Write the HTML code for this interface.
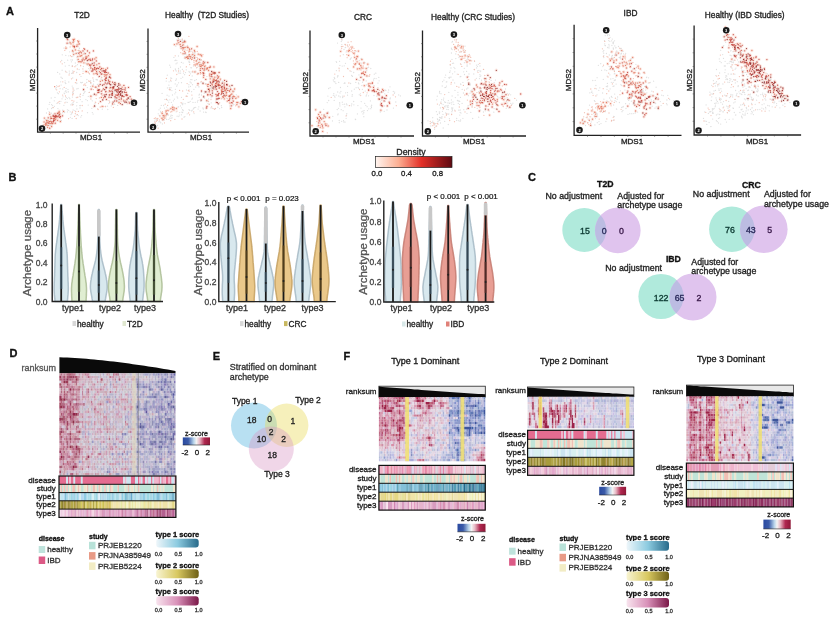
<!DOCTYPE html><html><head><meta charset="utf-8"><style>html,body{margin:0;padding:0;background:#fff;width:834px;height:622px;overflow:hidden}svg{display:block;filter:blur(0.35px)}text{font-family:"Liberation Sans",sans-serif}</style></head><body><svg width="834" height="622" viewBox="0 0 834 622"><defs><filter id="hb1" x="-5%" y="-5%" width="110%" height="110%"><feGaussianBlur stdDeviation="0.1"/></filter><filter id="hb2" x="-5%" y="-5%" width="110%" height="110%"><feGaussianBlur stdDeviation="0.2"/></filter><filter id="hb3" x="-5%" y="-5%" width="110%" height="110%"><feGaussianBlur stdDeviation="0.3"/></filter><filter id="hb4" x="-5%" y="-5%" width="110%" height="110%"><feGaussianBlur stdDeviation="0.4"/></filter><filter id="hb5" x="-5%" y="-5%" width="110%" height="110%"><feGaussianBlur stdDeviation="0.5"/></filter><filter id="hb6" x="-5%" y="-5%" width="110%" height="110%"><feGaussianBlur stdDeviation="0.6"/></filter><filter id="hb7" x="-5%" y="-5%" width="110%" height="110%"><feGaussianBlur stdDeviation="0.7"/></filter><filter id="hb8" x="-5%" y="-5%" width="110%" height="110%"><feGaussianBlur stdDeviation="0.8"/></filter><filter id="hb9" x="-5%" y="-5%" width="110%" height="110%"><feGaussianBlur stdDeviation="0.9"/></filter><filter id="hb10" x="-5%" y="-5%" width="110%" height="110%"><feGaussianBlur stdDeviation="1.0"/></filter><filter id="hb11" x="-5%" y="-5%" width="110%" height="110%"><feGaussianBlur stdDeviation="1.1"/></filter><filter id="hb12" x="-5%" y="-5%" width="110%" height="110%"><feGaussianBlur stdDeviation="1.2"/></filter><filter id="hb13" x="-5%" y="-5%" width="110%" height="110%"><feGaussianBlur stdDeviation="1.3"/></filter><filter id="hb14" x="-5%" y="-5%" width="110%" height="110%"><feGaussianBlur stdDeviation="1.4"/></filter><filter id="hb15" x="-5%" y="-5%" width="110%" height="110%"><feGaussianBlur stdDeviation="1.5"/></filter></defs>
<rect width="834" height="622" fill="#fff"/>
<text x="10.0" y="11.0" font-size="11" text-anchor="middle" font-weight="bold" fill="#111" stroke="#111" stroke-width="0.32" dominant-baseline="central">A</text>
<path d="M37.6 28V132.2H140" fill="none" stroke="#222" stroke-width="1.3"/>
<path d="M37.6 119.2h-1.5M50.4 132.2v1.5M37.6 106.1h-1.5M63.2 132.2v1.5M37.6 93.1h-1.5M76.0 132.2v1.5M37.6 80.1h-1.5M88.8 132.2v1.5M37.6 67.1h-1.5M101.6 132.2v1.5M37.6 54.0h-1.5M114.4 132.2v1.5M37.6 41.0h-1.5M127.2 132.2v1.5" stroke="#444" stroke-width="0.5"/>
<text x="82.0" y="14.5" font-size="8.3" text-anchor="middle" fill="#222" stroke="#222" stroke-width="0.32" dominant-baseline="central">T2D</text>
<text x="32.5" y="80.1" font-size="8" text-anchor="middle" fill="#222" stroke="#222" stroke-width="0.32" dominant-baseline="central" transform="rotate(-90 32.5 80.1)">MDS2</text>
<text x="91.0" y="137.5" font-size="8" text-anchor="middle" fill="#222" stroke="#222" stroke-width="0.32" dominant-baseline="central">MDS1</text>
<g filter="url(#hb5)">
<path d="M86.5 71.6h0M67.1 43.2h0M77.9 56.6h0M108.5 80.9h0M104.7 72.4h0M97.0 73.1h0M112.7 87.8h0M74.2 39.4h0M88.7 63.9h0M78.7 61.7h0M106.1 80.4h0M79.2 43.9h0M94.8 59.0h0M84.6 49.2h0M71.0 43.8h0M113.6 87.8h0M119.6 91.7h0M89.5 52.8h0M96.0 73.4h0M93.1 69.1h0M87.5 50.9h0M79.9 56.1h0M122.4 96.2h0M86.0 71.5h0M83.2 58.2h0M124.9 102.2h0M127.4 95.2h0M123.7 100.9h0M73.1 39.4h0M101.6 68.8h0M94.2 62.9h0M116.7 101.0h0M121.1 91.0h0M117.5 86.3h0M91.2 64.8h0M67.0 38.9h0M105.7 69.3h0M124.8 92.4h0M88.4 55.7h0M81.4 52.8h0M104.0 84.5h0M130.1 96.7h0M83.0 50.9h0M115.6 84.0h0M125.2 101.1h0M70.1 42.7h0M119.1 96.8h0M93.9 73.8h0M122.9 89.4h0M112.5 95.2h0M108.1 73.0h0M123.8 96.5h0M116.4 89.7h0M112.6 82.2h0M115.9 95.0h0M74.6 46.5h0M110.1 91.2h0M90.9 68.0h0M96.5 68.5h0M104.1 70.6h0M92.7 71.0h0M105.6 87.3h0M110.2 84.6h0M96.3 60.9h0M125.2 88.0h0M110.6 87.3h0M99.5 71.7h0M104.3 71.9h0M82.1 59.7h0M120.7 93.9h0M106.2 78.4h0M95.8 70.1h0M111.9 95.1h0M78.2 59.4h0M86.3 58.6h0M107.5 68.1h0M106.0 69.9h0M78.7 41.3h0M127.1 99.1h0M94.2 65.2h0M119.1 99.3h0M84.3 59.8h0M80.7 51.8h0M81.1 62.0h0M96.2 69.5h0M109.7 83.0h0M101.2 74.1h0M115.1 90.7h0M122.4 91.8h0M97.3 74.3h0M86.5 56.8h0M72.6 50.9h0M94.5 68.6h0M115.1 85.0h0M100.4 69.5h0M82.3 60.8h0M109.7 76.9h0M110.0 74.7h0M101.6 68.4h0M79.7 52.6h0M116.3 90.6h0M76.8 46.3h0M89.6 65.4h0M125.7 94.9h0M93.5 65.6h0M92.6 59.0h0M96.8 64.8h0M78.5 42.1h0M97.5 68.2h0M127.0 99.7h0M105.9 74.7h0M96.1 57.7h0M83.9 62.8h0M114.7 101.0h0M119.6 92.4h0M78.7 53.2h0M89.2 59.3h0M85.2 53.7h0M117.4 89.3h0M126.4 102.2h0M105.5 71.9h0M87.1 56.9h0M128.5 87.4h0M102.4 80.6h0M105.5 80.5h0M120.4 103.6h0M116.9 91.4h0M122.1 95.5h0M92.1 60.2h0M93.4 50.9h0M113.8 83.8h0M120.4 91.2h0M75.4 49.9h0M87.1 64.0h0M107.1 74.7h0M92.3 63.7h0M73.1 42.5h0M109.5 83.6h0M100.4 81.3h0M110.6 77.9h0M119.1 102.5h0M102.1 71.0h0M74.4 47.6h0M80.7 56.0h0M105.2 83.0h0M118.8 83.6h0M74.3 39.3h0M67.7 39.7h0M85.6 58.9h0M77.1 45.0h0M122.2 104.6h0M94.6 67.4h0M106.0 75.6h0M118.7 93.5h0M81.6 55.6h0M106.9 83.9h0M98.6 68.5h0M105.1 79.5h0M99.3 76.4h0M117.0 95.1h0M106.0 78.4h0M66.1 48.1h0M118.6 85.1h0M105.0 79.4h0M86.2 57.9h0M118.7 94.5h0M83.9 59.7h0M95.3 67.9h0M112.2 93.4h0M110.8 84.8h0M90.5 60.4h0M120.0 85.0h0M131.6 102.3h0M129.4 103.0h0M91.6 71.1h0M109.8 81.5h0M87.3 60.6h0M93.1 70.1h0M120.2 94.9h0M118.7 87.8h0M99.0 63.6h0M85.8 57.0h0M118.7 89.0h0M76.2 53.4h0M120.2 88.7h0M104.6 76.1h0M108.5 80.0h0M117.3 92.7h0M90.5 65.8h0M90.2 60.1h0M120.6 91.5h0M96.6 71.6h0M90.1 59.1h0M89.9 64.6h0M73.5 40.4h0M131.3 99.2h0M94.7 69.6h0M100.5 72.7h0M103.7 71.0h0M105.9 78.2h0M128.3 98.2h0M115.0 96.9h0M126.2 92.5h0M119.0 89.2h0M73.4 46.4h0M126.7 95.6h0M109.3 77.2h0M101.9 74.0h0M122.1 92.7h0M126.6 94.5h0M133.8 100.4h0M106.2 77.2h0M121.4 99.3h0M100.2 84.4h0M104.2 74.4h0M114.9 82.6h0M112.5 89.0h0M74.1 46.2h0M92.6 68.9h0M73.8 41.1h0M124.3 91.8h0M128.1 97.8h0M99.8 67.0h0M120.7 95.3h0M82.1 61.1h0M106.5 72.4h0M73.7 54.3h0M103.1 68.7h0M88.3 59.8h0M105.3 70.9h0M101.3 91.2h0M96.0 94.8h0M111.9 91.0h0M123.9 85.4h0M113.8 86.9h0M115.2 89.8h0M117.9 94.9h0M109.0 97.2h0M106.6 87.5h0M104.3 95.0h0M111.9 94.4h0M94.4 94.2h0M113.5 88.6h0M94.6 106.0h0M113.1 102.1h0M98.8 86.0h0M112.6 94.1h0M121.8 96.3h0M117.4 95.5h0M112.6 103.9h0M116.0 97.8h0M112.5 87.1h0M105.3 97.0h0M115.0 96.6h0M98.4 90.3h0M106.1 88.0h0M112.1 93.3h0M104.9 96.4h0M118.8 91.9h0M91.2 89.1h0M103.6 97.8h0M103.5 88.8h0M125.1 90.1h0M113.5 87.0h0M114.1 86.6h0M109.2 94.9h0M122.6 95.8h0M92.8 86.2h0M97.8 90.4h0M102.7 99.8h0M102.5 85.2h0M106.0 94.8h0M110.0 88.0h0M99.4 89.7h0M98.0 92.5h0M112.5 91.9h0M124.9 89.6h0M121.5 88.9h0M105.7 91.8h0M106.4 99.4h0M115.1 96.5h0M117.7 95.4h0M110.0 91.6h0M118.1 90.7h0M116.9 97.9h0M117.3 89.7h0M122.1 87.2h0M98.9 92.3h0M101.7 93.8h0M102.2 106.4h0M99.0 90.8h0M101.4 97.4h0M95.9 87.1h0M118.2 89.9h0M108.0 83.0h0M120.6 94.0h0M104.7 89.7h0M105.9 91.4h0M100.5 101.6h0M121.3 98.1h0M98.4 89.8h0M90.9 96.4h0M106.2 94.3h0M111.2 97.4h0M109.4 90.7h0M109.7 95.0h0M114.7 84.5h0M83.6 89.5h0M54.2 116.3h0M46.7 124.2h0M53.0 116.1h0M57.0 115.1h0M46.7 121.1h0M45.5 123.8h0M45.9 125.4h0M55.2 123.2h0M48.4 122.9h0M53.1 118.4h0M56.2 116.1h0M50.9 117.0h0M51.0 118.4h0M62.5 115.8h0M49.8 123.1h0M53.1 121.6h0M48.2 117.8h0M53.4 116.6h0M44.4 118.1h0M49.6 121.6h0M59.2 111.3h0M63.6 111.4h0M51.7 121.8h0M44.1 122.1h0M47.8 125.6h0M59.1 112.1h0M57.4 113.3h0M51.6 126.5h0M57.6 120.3h0M53.7 119.0h0M46.0 123.7h0M55.0 113.8h0M53.8 118.9h0M47.0 122.6h0M54.3 120.6h0M57.0 116.7h0M48.6 123.4h0M54.9 116.4h0M55.2 119.8h0M49.7 128.2h0M49.7 114.3h0M59.1 115.0h0M53.5 121.2h0M48.2 122.1h0M55.6 116.6h0M59.8 117.4h0M54.2 118.2h0M45.2 124.3h0M43.3 130.0h0M44.1 122.0h0M56.2 115.8h0M51.7 122.9h0M57.5 116.7h0M45.8 123.1h0M60.6 116.5h0M55.3 115.5h0M59.6 114.4h0M55.0 117.0h0M54.0 119.9h0M51.5 118.4h0M50.8 123.6h0M58.7 113.1h0M55.7 117.3h0M54.2 118.3h0M59.1 116.9h0M55.7 119.7h0M52.6 123.5h0M43.7 126.3h0M60.4 121.5h0M58.7 116.1h0M47.6 127.3h0M53.6 120.8h0M50.7 121.3h0M48.1 121.0h0M55.8 117.9h0M59.9 113.8h0M53.7 120.3h0M46.5 120.4h0M53.3 115.5h0M59.2 112.4h0M53.3 122.8h0M48.3 125.3h0" stroke="#f2a48c" stroke-width="3.4" stroke-linecap="round" opacity="0.25"/>
<path d="M89.7 70.1h0M67.3 98.6h0M62.3 54.8h0M77.5 64.7h0M56.6 85.7h0M79.7 105.6h0M62.6 112.8h0M46.5 113.0h0M62.8 89.0h0M114.4 93.9h0M59.7 103.5h0M85.0 91.5h0M108.1 79.1h0M83.2 89.9h0M64.6 112.5h0M60.7 81.8h0M80.3 99.6h0M91.3 63.1h0M129.4 98.8h0M65.8 83.5h0M86.8 79.6h0M87.5 112.7h0M80.8 117.1h0M127.1 104.0h0M51.6 108.5h0M76.8 88.9h0M68.8 55.8h0M91.8 108.3h0M56.3 87.7h0M77.9 53.3h0M72.7 72.9h0M77.3 59.9h0M69.6 41.1h0M79.1 69.5h0M102.5 90.6h0M80.2 94.6h0M62.1 70.2h0M87.0 79.3h0M117.2 101.1h0M65.9 102.1h0M57.0 103.4h0M63.4 111.3h0M53.2 120.7h0M67.3 102.3h0M83.0 95.4h0M114.9 99.0h0M49.8 125.3h0M68.8 82.0h0M90.3 66.2h0M52.1 123.8h0M72.1 66.6h0M87.4 100.6h0M66.1 88.4h0M70.2 111.8h0M89.6 74.2h0M59.1 111.8h0M73.1 52.0h0M81.6 115.6h0M53.2 114.1h0M98.0 70.2h0M72.5 50.5h0M79.2 62.2h0M71.0 59.9h0M62.6 110.2h0M73.1 102.5h0M73.5 54.9h0M117.8 90.0h0M98.6 77.1h0M105.6 81.9h0M69.1 65.5h0M83.1 71.2h0M62.4 78.3h0M64.6 93.7h0M90.6 82.2h0M78.1 88.5h0M106.7 100.0h0M88.2 105.1h0M113.9 92.5h0M128.5 101.9h0M102.1 79.3h0M117.9 100.9h0M76.2 114.9h0M68.7 110.3h0M92.3 100.8h0M72.2 65.7h0M59.7 73.9h0M88.3 96.4h0M90.7 80.7h0M105.2 73.7h0M111.1 88.4h0M81.0 76.4h0M65.4 99.3h0M67.4 111.9h0M72.4 97.1h0M119.5 92.6h0M82.6 58.8h0M109.7 101.4h0M69.8 98.7h0M86.7 82.5h0M73.3 93.4h0M95.4 106.6h0M71.7 73.4h0M75.3 63.0h0M93.7 81.4h0M63.9 105.3h0M117.7 105.4h0M110.6 85.0h0M66.9 72.3h0M72.6 41.8h0M76.7 105.8h0M73.1 110.0h0M87.7 65.1h0M76.2 97.5h0M47.6 108.9h0M72.7 78.0h0M52.8 107.6h0M118.7 101.3h0M93.4 79.9h0M73.0 87.7h0M100.2 84.9h0M71.9 112.8h0M99.1 84.1h0M85.7 63.0h0M77.2 52.7h0M82.7 60.0h0M99.2 76.4h0M72.8 56.6h0M103.3 100.3h0M66.3 97.4h0M87.5 60.7h0M58.4 93.7h0M102.3 109.2h0M87.3 87.6h0M49.6 124.3h0M75.0 53.7h0M68.2 92.0h0M66.4 92.2h0M114.4 96.8h0M95.0 103.6h0M69.3 71.1h0M85.1 57.3h0M74.1 90.2h0M50.0 119.3h0M124.5 96.4h0M50.9 125.3h0M57.4 92.8h0M76.7 82.9h0M49.2 104.3h0M55.0 97.4h0M82.1 101.7h0M72.7 92.5h0M76.7 72.5h0M67.4 109.8h0M77.0 57.7h0M71.0 114.6h0M49.1 111.7h0M49.8 102.4h0M129.6 103.4h0M70.3 117.3h0M55.7 88.9h0M87.7 64.3h0M91.1 83.7h0M116.6 89.9h0M65.4 71.1h0M52.9 115.4h0M105.9 86.3h0M65.8 55.4h0M45.8 119.4h0M114.3 98.8h0M100.7 70.1h0M81.3 82.8h0M69.2 43.2h0M100.4 93.7h0M101.8 76.9h0M64.6 62.6h0M80.0 108.0h0M99.4 84.4h0M107.8 109.5h0M83.7 93.5h0M106.4 86.4h0M49.1 111.7h0M80.4 105.5h0M83.4 66.5h0M50.8 120.6h0M71.4 61.8h0M90.7 83.4h0M97.2 80.1h0M124.6 94.4h0M130.9 101.4h0M61.1 85.1h0M54.0 118.3h0M60.9 101.3h0M90.5 86.5h0M114.8 104.3h0M96.3 79.7h0M113.0 91.1h0M105.0 81.1h0M57.6 72.4h0M74.8 110.6h0M47.6 120.1h0M108.8 103.6h0M69.7 51.8h0M64.1 93.1h0M65.1 82.7h0M76.8 83.5h0M129.1 99.3h0M68.0 89.5h0M65.1 80.8h0M78.2 115.6h0M79.5 96.1h0M73.5 104.5h0M51.6 104.7h0M110.3 96.9h0M53.2 114.5h0M57.9 108.6h0M96.1 79.3h0M65.9 90.6h0M60.1 88.7h0M70.7 104.8h0M67.7 60.2h0M111.9 92.3h0M84.3 52.5h0M116.7 92.4h0M88.6 68.6h0M108.2 77.2h0M52.6 105.6h0M83.3 90.3h0M79.4 48.5h0M82.4 82.3h0M99.3 73.6h0M50.4 116.7h0M54.4 106.3h0M114.5 104.0h0M92.7 62.2h0M72.8 104.3h0M93.1 94.8h0M93.1 114.1h0M123.9 96.7h0M51.4 113.2h0M72.1 118.4h0M85.9 99.6h0M72.0 103.8h0M125.1 100.5h0M71.8 113.6h0M92.3 112.6h0M72.2 86.1h0M122.8 104.3h0M97.3 79.6h0M86.0 55.8h0M62.0 98.8h0M72.7 70.9h0M79.1 48.0h0M61.7 60.4h0M93.0 63.9h0M61.4 120.4h0M93.5 84.2h0M77.6 56.3h0M75.9 65.7h0M105.7 96.4h0M76.9 102.4h0M65.2 91.6h0M69.0 97.3h0M47.5 123.9h0M96.1 87.5h0M51.2 98.0h0M63.0 96.8h0M54.3 100.8h0M76.9 109.0h0M111.3 105.9h0M69.4 73.2h0M89.2 92.4h0M65.3 66.1h0M80.7 82.4h0M112.0 84.4h0M62.0 78.1h0M63.9 48.1h0M100.9 78.9h0M105.2 95.4h0M68.3 91.7h0M97.4 84.4h0M72.5 60.0h0M68.6 43.5h0M105.6 106.2h0M60.1 114.1h0M116.0 99.4h0M61.0 77.2h0M84.5 92.2h0M107.5 106.2h0M93.2 63.8h0M115.8 99.7h0M79.3 50.4h0" stroke="#dadada" stroke-width="1.3" stroke-linecap="round" opacity="0.85"/>
<path d="M110.8 94.3h0M73.0 94.0h0M73.1 89.0h0M108.1 92.2h0M62.8 81.8h0M82.2 54.9h0M95.7 102.3h0M75.7 111.7h0M75.3 113.6h0M93.4 89.6h0M77.3 69.0h0M109.6 84.2h0M114.7 88.9h0M88.7 81.0h0M111.7 87.5h0M49.6 112.7h0M72.6 94.9h0M89.3 73.4h0M75.4 82.7h0M73.1 91.2h0M59.2 101.4h0M79.8 74.5h0M73.2 72.9h0M83.9 85.3h0M60.4 118.6h0M72.2 105.0h0M102.3 95.6h0M82.9 68.9h0M98.5 103.5h0M53.2 107.6h0M76.5 79.4h0M93.3 106.8h0M77.4 114.6h0M85.7 85.6h0M95.2 87.1h0M65.5 96.0h0M78.4 111.4h0M113.4 107.4h0M77.9 97.1h0M65.9 71.8h0M85.0 84.0h0M109.7 102.6h0M97.4 89.0h0M89.7 81.3h0M82.2 110.9h0M118.4 103.0h0M77.0 97.5h0M92.9 77.9h0M119.1 89.2h0M64.2 87.4h0M72.7 50.4h0M80.6 65.3h0M129.0 101.7h0M64.9 102.8h0M102.8 100.2h0M99.4 97.9h0M102.7 89.5h0M65.7 48.6h0M121.1 101.3h0M83.0 73.4h0M78.1 50.4h0M73.9 101.1h0M72.5 45.9h0M58.0 86.6h0M102.6 90.7h0M109.0 100.6h0M120.1 99.8h0M127.7 102.9h0M65.7 46.8h0M82.2 105.5h0M68.6 118.7h0M62.7 95.1h0M60.7 61.8h0M56.7 89.8h0M72.4 112.0h0M80.7 65.8h0M123.8 99.3h0M103.7 106.5h0M97.7 108.8h0M62.2 63.8h0M80.4 94.1h0M52.0 124.0h0M84.4 60.0h0M89.2 92.3h0M74.6 116.3h0M88.3 71.9h0M72.0 100.5h0M59.4 91.8h0M90.9 95.4h0M100.2 107.0h0M58.0 102.7h0M76.2 118.5h0M76.5 80.5h0M69.1 74.9h0M94.9 87.3h0M123.9 96.6h0M90.8 82.5h0M80.3 96.8h0M95.3 102.1h0M59.3 86.0h0M74.0 71.5h0M83.9 84.8h0M88.3 72.6h0M104.4 97.1h0M98.1 109.5h0M120.6 93.2h0M74.9 66.7h0M97.8 92.5h0M88.1 59.2h0M90.9 99.0h0M105.5 106.7h0M70.5 55.7h0M72.5 66.2h0M95.4 87.2h0M96.2 98.6h0M71.5 78.8h0M101.7 77.7h0M74.0 47.1h0M73.2 45.0h0M64.8 50.4h0M73.4 51.7h0M80.0 51.5h0M78.1 46.2h0M71.5 56.6h0M83.6 54.0h0M70.1 46.9h0M78.7 50.5h0M78.3 44.2h0M79.5 54.3h0M47.7 122.9h0M50.6 119.8h0M45.3 124.4h0M45.8 125.6h0M43.2 124.7h0M47.8 123.4h0" stroke="#f2b8a8" stroke-width="1.3" stroke-linecap="round" opacity="0.85"/>
<path d="M54.7 86.7h0M86.5 71.6h0M77.9 56.6h0M74.2 39.4h0M88.7 63.9h0M78.7 61.7h0M94.8 59.0h0M71.0 43.8h0M96.0 73.4h0M93.1 69.1h0M79.9 56.1h0M86.0 71.5h0M83.2 58.2h0M73.1 39.4h0M91.2 64.8h0M67.0 38.9h0M105.7 69.3h0M83.8 48.5h0M88.4 55.7h0M115.6 84.0h0M125.2 101.1h0M70.1 42.7h0M93.9 73.8h0M99.5 71.7h0M82.1 59.7h0M95.8 70.1h0M78.2 59.4h0M78.7 41.3h0M84.3 59.8h0M80.7 51.8h0M81.1 62.0h0M96.2 69.5h0M109.7 83.0h0M86.5 56.8h0M72.6 50.9h0M77.5 40.8h0M94.5 68.6h0M100.4 69.5h0M110.0 74.7h0M79.7 52.6h0M116.3 90.6h0M89.6 65.4h0M96.8 64.8h0M78.5 42.1h0M105.9 74.7h0M96.1 57.7h0M83.9 62.8h0M89.2 59.3h0M87.1 56.9h0M102.4 80.6h0M113.8 83.8h0M75.4 49.9h0M87.1 64.0h0M107.1 74.7h0M73.1 42.5h0M100.4 81.3h0M119.1 102.5h0M74.4 47.6h0M80.7 56.0h0M74.3 39.3h0M77.1 45.0h0M106.0 75.6h0M81.6 55.6h0M66.1 48.1h0M86.2 57.9h0M83.9 59.7h0M95.3 67.9h0M90.5 60.4h0M85.8 57.0h0M76.2 53.4h0M104.6 76.1h0M108.5 80.0h0M73.5 40.4h0M105.9 78.2h0M73.4 46.4h0M105.1 72.5h0M80.0 61.5h0M121.4 99.3h0M104.2 74.4h0M112.5 89.0h0M74.1 46.2h0M73.8 41.1h0M73.7 54.3h0M103.1 68.7h0M96.0 94.8h0M111.9 94.4h0M113.5 88.6h0M112.6 94.1h0M117.4 95.5h0M98.4 90.3h0M109.2 94.9h0M122.6 95.8h0M92.8 86.2h0M110.0 88.0h0M117.7 95.4h0M122.1 87.2h0M102.2 106.4h0M101.4 97.4h0M120.6 94.0h0M90.9 96.4h0M109.4 90.7h0M46.7 124.2h0M57.0 115.1h0M46.7 121.1h0M45.5 123.8h0M45.9 125.4h0M48.0 120.6h0M48.4 122.9h0M53.1 118.4h0M58.1 113.0h0M50.9 117.0h0M53.4 116.6h0M44.4 118.1h0M59.2 111.3h0M63.6 111.4h0M51.7 121.8h0M44.1 122.1h0M47.8 125.6h0M51.8 121.7h0M59.1 112.1h0M51.6 126.5h0M57.6 120.3h0M53.7 119.0h0M46.0 123.7h0M53.8 118.9h0M48.6 123.4h0M54.9 116.4h0M55.2 119.8h0M49.7 114.3h0M48.2 122.1h0M45.2 124.3h0M43.3 130.0h0M44.1 122.0h0M56.2 115.8h0M57.5 116.7h0M45.8 123.1h0M59.6 114.4h0M51.5 118.4h0M50.8 123.6h0M58.7 113.1h0M54.2 118.3h0M55.7 119.7h0M52.6 123.5h0M43.7 126.3h0M60.4 121.5h0M47.6 127.3h0M53.6 120.8h0M50.7 121.3h0M48.1 121.0h0M59.9 113.8h0M46.5 120.4h0M59.2 112.4h0M53.3 122.8h0M48.3 125.3h0" stroke="#e07058" stroke-width="1.3" stroke-linecap="round" opacity="0.85"/>
<path d="M67.1 43.2h0M108.5 80.9h0M104.7 72.4h0M97.0 73.1h0M112.7 87.8h0M106.1 80.4h0M79.2 43.9h0M84.6 49.2h0M113.6 87.8h0M119.6 91.7h0M89.5 52.8h0M87.5 50.9h0M122.4 96.2h0M127.4 95.2h0M123.7 100.9h0M101.6 68.8h0M94.2 62.9h0M116.7 101.0h0M124.8 92.4h0M81.4 52.8h0M104.0 84.5h0M130.1 96.7h0M83.0 50.9h0M119.1 96.8h0M122.9 89.4h0M112.5 95.2h0M108.1 73.0h0M123.8 96.5h0M116.4 89.7h0M112.6 82.2h0M115.9 95.0h0M74.6 46.5h0M110.1 91.2h0M90.9 68.0h0M96.5 68.5h0M92.7 71.0h0M105.6 87.3h0M96.3 60.9h0M125.2 88.0h0M110.6 87.3h0M104.3 71.9h0M106.2 78.4h0M86.3 58.6h0M107.5 68.1h0M106.0 69.9h0M127.1 99.1h0M94.2 65.2h0M119.1 99.3h0M101.2 74.1h0M97.3 74.3h0M82.3 60.8h0M101.6 68.4h0M76.8 46.3h0M125.7 94.9h0M93.5 65.6h0M92.6 59.0h0M97.5 68.2h0M127.0 99.7h0M114.7 101.0h0M78.7 53.2h0M85.2 53.7h0M117.4 89.3h0M105.5 71.9h0M128.5 87.4h0M105.5 80.5h0M120.4 103.6h0M92.1 60.2h0M93.4 50.9h0M120.4 91.2h0M92.3 63.7h0M109.5 83.6h0M110.6 77.9h0M102.1 71.0h0M105.2 83.0h0M67.7 39.7h0M85.6 58.9h0M94.6 67.4h0M118.7 93.5h0M106.9 83.9h0M98.6 68.5h0M105.1 79.5h0M99.3 76.4h0M117.0 95.1h0M106.0 78.4h0M105.0 79.4h0M118.7 94.5h0M112.2 93.4h0M110.8 84.8h0M120.0 85.0h0M131.6 102.3h0M129.4 103.0h0M91.6 71.1h0M109.8 81.5h0M93.1 70.1h0M99.0 63.6h0M118.7 89.0h0M117.3 92.7h0M90.5 65.8h0M90.2 60.1h0M96.6 71.6h0M90.1 59.1h0M89.9 64.6h0M131.3 99.2h0M94.7 69.6h0M100.5 72.7h0M103.7 71.0h0M115.0 96.9h0M126.2 92.5h0M119.0 89.2h0M126.7 95.6h0M109.3 77.2h0M101.9 74.0h0M126.6 94.5h0M133.8 100.4h0M106.2 77.2h0M100.2 84.4h0M92.6 68.9h0M124.3 91.8h0M128.1 97.8h0M99.8 67.0h0M120.7 95.3h0M82.1 61.1h0M106.5 72.4h0M88.3 59.8h0M105.3 70.9h0M101.3 91.2h0M111.9 91.0h0M123.9 85.4h0M113.8 86.9h0M117.9 94.9h0M109.0 97.2h0M104.3 95.0h0M98.8 86.0h0M121.8 96.3h0M112.6 103.9h0M116.0 97.8h0M112.5 87.1h0M105.3 97.0h0M115.0 96.6h0M106.1 88.0h0M91.2 89.1h0M103.6 97.8h0M103.5 88.8h0M125.1 90.1h0M114.1 86.6h0M97.8 90.4h0M106.0 94.8h0M99.4 89.7h0M98.0 92.5h0M112.5 91.9h0M124.9 89.6h0M105.7 91.8h0M106.4 99.4h0M115.1 96.5h0M110.0 91.6h0M118.1 90.7h0M116.9 97.9h0M117.3 89.7h0M98.9 92.3h0M101.7 93.8h0M99.0 90.8h0M95.9 87.1h0M118.2 89.9h0M105.9 91.4h0M100.5 101.6h0M109.7 95.0h0M83.6 89.5h0M54.2 116.3h0M53.0 116.1h0M55.2 123.2h0M56.2 116.1h0M51.0 118.4h0M62.5 115.8h0M49.8 123.1h0M53.1 121.6h0M48.2 117.8h0M49.6 121.6h0M57.4 113.3h0M55.0 113.8h0M47.0 122.6h0M54.3 120.6h0M57.0 116.7h0M49.7 128.2h0M53.5 121.2h0M55.6 116.6h0M59.8 117.4h0M54.2 118.2h0M51.7 122.9h0M60.6 116.5h0M55.3 115.5h0M55.0 117.0h0M54.0 119.9h0M55.7 117.3h0M59.1 116.9h0M58.7 116.1h0M55.8 117.9h0M53.7 120.3h0M53.3 115.5h0" stroke="#c0403a" stroke-width="1.3" stroke-linecap="round" opacity="0.85"/>
<path d="M124.9 102.2h0M121.1 91.0h0M117.5 86.3h0M104.1 70.6h0M110.2 84.6h0M120.7 93.9h0M111.9 95.1h0M115.1 90.7h0M122.4 91.8h0M115.1 85.0h0M109.7 76.9h0M119.6 92.4h0M126.4 102.2h0M116.9 91.4h0M122.1 95.5h0M118.8 83.6h0M122.2 104.6h0M118.6 85.1h0M87.3 60.6h0M120.2 94.9h0M118.7 87.8h0M120.2 88.7h0M120.6 91.5h0M128.3 98.2h0M122.1 92.7h0M114.9 82.6h0M115.2 89.8h0M106.6 87.5h0M94.4 94.2h0M94.6 106.0h0M113.1 102.1h0M112.1 93.3h0M104.9 96.4h0M118.8 91.9h0M113.5 87.0h0M102.7 99.8h0M102.5 85.2h0M121.5 88.9h0M108.0 83.0h0M104.7 89.7h0M121.3 98.1h0M98.4 89.8h0M106.2 94.3h0M111.2 97.4h0M114.7 84.5h0M59.1 115.0h0" stroke="#842024" stroke-width="1.3" stroke-linecap="round" opacity="0.85"/>
</g>
<circle cx="67.2" cy="35.1" r="3.3" fill="#1a1a1a"/>
<text x="67.2" y="35.3" font-size="4" text-anchor="middle" dominant-baseline="central" fill="#fff" font-weight="bold">3</text>
<circle cx="134.0" cy="102.8" r="3.3" fill="#1a1a1a"/>
<text x="134.0" y="103.0" font-size="4" text-anchor="middle" dominant-baseline="central" fill="#fff" font-weight="bold">1</text>
<circle cx="42.0" cy="128.6" r="3.3" fill="#1a1a1a"/>
<text x="42.0" y="128.8" font-size="4" text-anchor="middle" dominant-baseline="central" fill="#fff" font-weight="bold">2</text>
<path d="M148 28.4V132.2H249" fill="none" stroke="#222" stroke-width="1.3"/>
<path d="M148 119.2h-1.5M160.6 132.2v1.5M148 106.2h-1.5M173.2 132.2v1.5M148 93.3h-1.5M185.9 132.2v1.5M148 80.3h-1.5M198.5 132.2v1.5M148 67.3h-1.5M211.1 132.2v1.5M148 54.3h-1.5M223.8 132.2v1.5M148 41.4h-1.5M236.4 132.2v1.5" stroke="#444" stroke-width="0.5"/>
<text x="207.0" y="14.5" font-size="8.3" text-anchor="middle" fill="#222" stroke="#222" stroke-width="0.32" dominant-baseline="central">Healthy &#160;(T2D Studies)</text>
<text x="143.0" y="80.3" font-size="8" text-anchor="middle" fill="#222" stroke="#222" stroke-width="0.32" dominant-baseline="central" transform="rotate(-90 143 80.3)">MDS2</text>
<text x="201.0" y="137.5" font-size="8" text-anchor="middle" fill="#222" stroke="#222" stroke-width="0.32" dominant-baseline="central">MDS1</text>
<g filter="url(#hb5)">
<path d="M217.7 78.2h0M185.0 53.2h0M187.6 58.5h0M224.5 87.9h0M224.4 87.4h0M191.6 48.8h0M202.8 72.6h0M201.0 66.6h0M212.9 80.2h0M217.1 84.7h0M233.3 101.1h0M210.3 78.8h0M189.4 51.1h0M198.8 62.6h0M231.8 93.9h0M196.9 64.2h0M220.3 79.1h0M186.6 57.4h0M227.0 85.4h0M230.0 103.0h0M218.4 80.8h0M194.6 55.6h0M199.6 59.4h0M204.6 62.3h0M214.1 80.3h0M180.9 46.4h0M203.4 73.8h0M189.7 49.5h0M222.5 89.2h0M205.1 65.9h0M198.3 54.2h0M232.9 91.1h0M215.2 80.6h0M229.4 96.4h0M227.8 90.4h0M182.5 45.3h0M229.8 98.2h0M182.9 42.6h0M194.4 50.4h0M217.1 83.8h0M203.3 64.9h0M204.4 68.9h0M203.6 73.0h0M224.3 98.8h0M200.0 54.7h0M226.6 92.5h0M213.6 79.2h0M221.2 94.3h0M185.2 41.8h0M189.1 55.0h0M215.4 73.2h0M213.7 88.8h0M179.9 44.6h0M230.7 89.1h0M181.2 48.1h0M204.5 66.7h0M180.3 44.5h0M228.5 100.4h0M231.3 105.8h0M230.9 94.6h0M184.7 41.1h0M203.9 63.6h0M207.8 62.5h0M226.1 91.9h0M189.4 48.8h0M229.6 99.5h0M219.8 85.7h0M218.3 84.1h0M235.7 98.3h0M237.8 102.5h0M215.3 72.8h0M200.2 66.3h0M224.1 87.7h0M227.3 101.1h0M213.9 66.9h0M174.4 44.6h0M194.9 71.9h0M218.0 85.5h0M196.3 60.9h0M209.7 75.2h0M232.2 102.9h0M220.4 85.5h0M214.5 79.2h0M197.1 46.5h0M226.1 93.8h0M209.4 67.5h0M232.7 98.6h0M238.2 96.8h0M223.8 96.8h0M212.5 82.0h0M229.7 86.1h0M185.2 47.3h0M183.0 48.9h0M183.1 53.7h0M223.3 97.4h0M236.9 104.6h0M204.0 70.2h0M216.6 81.9h0M201.0 55.0h0M229.6 96.0h0M230.2 95.3h0M183.2 44.8h0M226.8 88.5h0M202.2 65.4h0M233.0 91.7h0M224.8 88.1h0M201.7 56.0h0M180.4 41.4h0M221.7 93.2h0M219.3 98.3h0M225.9 89.4h0M194.8 51.6h0M192.8 54.5h0M224.1 85.0h0M206.3 69.0h0M231.5 102.6h0M203.5 77.3h0M226.4 95.3h0M184.4 51.3h0M230.6 89.7h0M184.0 47.8h0M194.4 58.0h0M209.9 74.0h0M205.8 79.4h0M192.3 57.7h0M195.1 64.8h0M200.3 70.3h0M218.6 93.6h0M230.7 108.5h0M188.0 47.7h0M184.1 41.9h0M229.2 100.6h0M222.0 90.9h0M236.8 102.5h0M202.9 63.2h0M238.9 106.8h0M176.9 43.9h0M230.1 96.0h0M210.3 67.0h0M218.9 93.5h0M234.6 89.0h0M198.1 73.6h0M232.9 97.0h0M216.4 83.2h0M229.5 91.4h0M225.5 90.6h0M229.3 90.4h0M194.6 55.5h0M207.4 68.5h0M200.6 68.7h0M233.5 96.2h0M212.8 73.0h0M187.2 47.0h0M226.5 92.5h0M188.5 58.4h0M228.7 96.2h0M182.9 47.7h0M222.6 96.7h0M210.3 82.0h0M203.4 61.8h0M201.2 64.9h0M221.4 90.0h0M215.2 85.0h0M187.1 56.7h0M185.3 57.8h0M240.3 103.3h0M199.9 64.7h0M214.2 73.6h0M218.5 77.6h0M210.1 76.6h0M241.4 101.6h0M197.5 63.8h0M224.1 86.4h0M213.2 72.2h0M222.2 91.4h0M211.5 74.7h0M190.6 56.6h0M221.4 86.8h0M208.6 70.5h0M236.1 98.1h0M178.0 40.6h0M226.7 88.7h0M207.4 84.7h0M178.8 42.7h0M211.8 76.4h0M217.4 102.7h0M219.0 85.4h0M198.0 83.7h0M224.2 83.1h0M212.0 95.8h0M212.3 85.0h0M215.9 89.1h0M214.3 72.3h0M213.0 82.6h0M201.1 100.1h0M232.0 85.4h0M224.7 90.3h0M217.5 95.6h0M211.9 83.9h0M208.5 84.4h0M211.7 71.5h0M215.2 86.7h0M218.7 76.5h0M213.8 81.4h0M215.6 83.6h0M217.9 94.7h0M201.5 91.0h0M210.3 94.7h0M206.9 106.4h0M203.7 96.8h0M216.0 85.8h0M223.3 93.6h0M217.7 98.9h0M211.3 74.3h0M213.3 86.9h0M217.6 91.6h0M219.1 72.5h0M222.1 86.5h0M207.8 95.0h0M216.0 94.4h0M203.0 83.2h0M218.5 85.7h0M215.2 87.7h0M218.8 84.2h0M226.6 81.3h0M202.7 68.7h0M213.2 82.0h0M210.7 82.8h0M222.7 92.0h0M212.9 88.1h0M217.9 81.5h0M209.4 90.5h0M210.4 85.6h0M206.8 100.5h0M216.5 96.0h0M216.4 102.4h0M215.6 85.6h0M223.8 91.3h0M205.2 91.8h0M218.4 95.0h0M218.3 103.8h0M219.3 88.0h0M203.8 75.6h0M227.1 84.4h0M219.0 84.4h0M224.0 95.7h0M214.0 73.2h0M212.4 93.1h0M224.1 89.1h0M212.3 90.8h0M207.9 86.3h0M222.0 87.9h0M216.5 99.0h0M218.1 95.7h0M222.5 83.1h0M206.0 91.8h0M216.7 80.2h0M218.7 98.5h0M208.1 89.1h0M225.5 96.0h0M207.8 94.4h0M221.3 87.6h0M224.6 80.4h0M209.2 91.8h0M217.4 75.8h0M208.7 89.4h0M214.8 77.2h0M216.6 86.5h0M216.6 89.1h0M221.8 92.8h0M209.1 88.8h0M219.1 82.0h0M226.6 84.4h0M206.4 107.9h0M172.6 109.6h0M173.9 109.9h0M172.8 107.8h0M163.2 115.4h0M164.0 115.9h0M167.9 110.3h0M166.1 111.0h0M170.9 108.6h0M176.3 108.5h0M162.0 118.3h0M163.2 119.6h0M162.2 113.5h0M172.4 107.6h0" stroke="#f2a48c" stroke-width="3.4" stroke-linecap="round" opacity="0.25"/>
<path d="M232.1 100.3h0M190.5 73.8h0M170.8 78.0h0M171.1 115.1h0M193.1 55.2h0M184.0 117.2h0M172.5 95.0h0M166.7 107.1h0M201.1 101.3h0M216.9 91.2h0M166.2 81.1h0M178.8 39.3h0M169.9 99.8h0M184.3 40.5h0M166.7 119.4h0M201.5 92.6h0M180.1 39.7h0M172.3 115.6h0M190.2 101.3h0M154.9 120.9h0M178.1 107.0h0M194.0 107.9h0M189.1 89.9h0M221.9 98.5h0M163.6 105.5h0M211.2 102.8h0M162.3 120.2h0M181.0 78.3h0M229.2 86.5h0M198.0 100.4h0M197.5 102.0h0M188.9 61.3h0M190.1 82.0h0M226.5 98.1h0M171.9 90.6h0M156.2 119.6h0M204.7 63.2h0M215.1 82.5h0M211.1 97.8h0M157.6 119.6h0M189.0 61.4h0M156.1 119.2h0M175.0 60.5h0M178.6 82.8h0M178.2 73.0h0M191.6 110.9h0M188.0 102.3h0M175.5 69.8h0M172.6 105.0h0M169.8 118.2h0M191.6 67.8h0M191.3 56.7h0M175.7 80.3h0M199.7 61.2h0M221.8 93.4h0M182.4 39.1h0M175.2 83.9h0M167.8 100.3h0M191.2 83.0h0M214.1 86.6h0M199.4 94.2h0M197.1 85.5h0M193.4 66.0h0M206.6 108.5h0M200.9 82.5h0M206.1 83.7h0M159.3 115.4h0M231.5 97.3h0M162.1 93.4h0M187.7 93.4h0M180.5 67.0h0M197.8 65.8h0M160.6 111.3h0M210.9 107.9h0M201.5 91.4h0M182.5 109.7h0M159.8 121.6h0M214.5 89.6h0M233.9 104.5h0M178.6 68.9h0M211.9 88.1h0M183.7 47.4h0M164.9 99.4h0M182.3 46.7h0M192.9 72.3h0M190.5 86.4h0M242.1 99.4h0M177.0 39.8h0M213.6 88.3h0M193.9 89.4h0M237.6 103.2h0M217.8 107.2h0M206.1 112.5h0M234.3 91.4h0M208.6 98.9h0M178.7 106.8h0M232.1 94.5h0M181.1 41.5h0M212.1 96.6h0M181.5 97.4h0M188.7 86.9h0M206.9 76.6h0M176.2 71.0h0M205.6 83.7h0M208.0 103.3h0M194.5 107.7h0M189.0 71.3h0M177.3 84.8h0M170.7 116.2h0M189.0 109.7h0M184.9 116.6h0M178.5 56.0h0M177.7 98.1h0M200.1 111.0h0M216.3 77.2h0M216.9 81.2h0M181.6 107.8h0M195.0 53.1h0M189.0 55.5h0M203.3 109.0h0M204.6 98.0h0M179.4 36.5h0M199.0 95.1h0M204.9 61.8h0M197.9 73.5h0M159.0 109.8h0M168.7 102.2h0M203.7 97.0h0M201.0 64.2h0M219.6 108.6h0M177.1 62.9h0M170.5 89.3h0M205.2 68.1h0M183.5 73.1h0M194.8 80.5h0M174.9 93.8h0M218.7 97.2h0M209.0 104.5h0M184.5 58.2h0M168.4 115.0h0M199.5 68.8h0M181.9 103.7h0M194.0 53.0h0M209.9 90.2h0M167.9 115.1h0M176.1 79.8h0M211.5 77.7h0M193.0 102.4h0M187.6 45.3h0M180.5 105.9h0M189.4 59.1h0M222.1 81.1h0M171.7 78.3h0M186.7 95.9h0M166.2 115.3h0M183.2 110.5h0M199.1 86.8h0M182.2 40.2h0M236.3 94.8h0M193.4 108.9h0M158.9 121.8h0M182.9 103.2h0M168.8 119.3h0M177.1 116.2h0M198.1 109.1h0M167.4 87.9h0M203.6 112.1h0M195.7 87.1h0M169.7 65.2h0M176.0 63.8h0M225.6 91.9h0M201.3 65.0h0M195.7 57.3h0M180.6 73.1h0M174.0 109.3h0M176.2 111.8h0M210.9 88.2h0M185.1 103.7h0M158.3 113.8h0M213.3 89.0h0M202.9 107.9h0M191.9 79.7h0M155.2 123.0h0M184.6 74.7h0M167.1 95.2h0M162.4 123.9h0M205.8 70.0h0M168.9 85.2h0M198.8 106.8h0M181.4 62.4h0M175.7 92.2h0M204.2 93.3h0M192.2 75.9h0M233.8 91.1h0M176.4 78.8h0M224.3 84.1h0M206.6 101.6h0M229.9 106.0h0M175.4 89.3h0M180.2 71.0h0M195.8 71.2h0M232.8 105.2h0M171.0 87.7h0M173.4 100.8h0M216.0 100.8h0M175.3 69.0h0M167.2 114.6h0M205.5 112.1h0M200.4 66.8h0M230.6 87.7h0M196.5 67.9h0M231.8 97.7h0M164.0 120.1h0M190.7 79.6h0M166.4 115.0h0M186.3 69.8h0M160.8 112.2h0M195.7 107.3h0M198.7 86.8h0M169.1 81.8h0M177.9 43.4h0M219.5 85.4h0M178.8 116.6h0M194.1 113.6h0M167.6 100.1h0M195.2 102.3h0M189.8 110.4h0M193.5 65.8h0M210.6 88.4h0M157.4 125.5h0M177.1 96.9h0M176.8 60.3h0M187.5 47.4h0M227.0 89.9h0M171.1 81.3h0M191.9 99.2h0M178.5 68.5h0M179.8 73.1h0M164.5 108.1h0M199.2 97.4h0M182.4 69.5h0M167.2 113.2h0M184.5 54.3h0M169.1 89.3h0M217.1 80.0h0M201.4 95.0h0M182.6 112.5h0M166.5 99.2h0M176.7 86.2h0M204.8 67.4h0M187.2 113.8h0M190.9 67.7h0M189.1 62.2h0M212.2 108.1h0M221.7 107.5h0M171.4 102.3h0M189.0 102.4h0M183.1 63.1h0M182.7 41.0h0M169.0 96.1h0M169.9 109.4h0M173.9 57.4h0M189.3 59.7h0M192.5 98.1h0M195.1 58.1h0M191.1 71.9h0M199.1 66.4h0M185.0 56.3h0M179.2 115.1h0M193.6 56.4h0M181.5 82.7h0M181.8 112.1h0M171.1 118.2h0M175.8 46.2h0M211.8 88.0h0M229.9 97.9h0M198.3 63.6h0M169.3 87.7h0M179.7 112.6h0M200.7 101.3h0M161.3 105.4h0M201.3 59.6h0M200.7 60.3h0M222.9 81.4h0M191.0 51.5h0M166.6 119.2h0M163.6 117.0h0M189.4 72.2h0M167.3 75.2h0M211.9 95.8h0M189.3 58.4h0M181.4 114.8h0M160.3 108.2h0M242.9 101.8h0M214.8 109.2h0M214.4 81.0h0M183.7 42.0h0M189.6 62.5h0M182.4 47.0h0M218.9 86.4h0M174.4 99.2h0M228.6 88.5h0M211.2 75.4h0M192.5 84.7h0M186.5 90.0h0M197.0 60.2h0M194.8 58.1h0M224.8 87.4h0M191.6 91.7h0M185.5 72.6h0M182.7 104.7h0M227.2 95.6h0M172.1 117.8h0M186.2 57.1h0M170.5 67.2h0M185.1 49.4h0M192.3 110.1h0M199.5 59.7h0M208.6 101.5h0M196.4 79.6h0M188.9 84.7h0M175.5 60.2h0M185.9 54.3h0M204.6 68.1h0M182.7 77.2h0M221.4 105.7h0M183.1 45.1h0M163.0 116.2h0M160.7 122.6h0M160.7 122.8h0" stroke="#dadada" stroke-width="1.3" stroke-linecap="round" opacity="0.85"/>
<path d="M176.8 74.5h0M175.2 55.8h0M170.7 120.7h0M186.3 66.9h0M197.0 67.5h0M198.0 85.3h0M163.0 117.5h0M211.0 99.6h0M189.7 64.6h0M179.6 90.4h0M211.6 106.8h0M192.8 71.2h0M170.0 90.1h0M205.3 84.1h0M189.4 75.4h0M203.6 95.9h0M173.8 107.0h0M196.2 63.3h0M204.3 70.5h0M200.5 74.0h0M169.5 89.1h0M220.3 80.2h0M233.0 100.9h0M193.7 111.9h0M162.5 111.7h0M181.1 102.7h0M184.4 42.2h0M199.6 65.4h0M194.0 62.3h0M188.6 112.9h0M160.0 115.3h0M215.5 108.4h0M186.1 96.2h0M206.8 68.9h0M189.1 91.2h0M211.9 89.8h0M186.4 66.8h0M201.2 81.4h0M203.1 83.9h0M188.3 90.3h0M183.3 99.3h0M166.4 78.4h0M166.2 111.0h0M202.0 73.6h0M165.9 115.6h0M193.9 64.7h0M153.5 125.9h0M188.6 52.0h0M174.9 119.3h0M197.2 74.6h0M178.4 38.6h0M173.5 70.8h0M166.5 99.5h0M178.5 71.0h0M183.7 71.1h0M192.6 71.8h0M209.4 104.2h0M221.4 98.8h0M167.6 105.4h0M214.3 74.4h0M182.0 119.0h0M211.3 87.0h0M195.4 66.0h0M187.1 83.6h0M197.0 57.4h0M221.4 83.2h0M161.7 112.8h0M208.1 101.4h0M196.3 60.9h0M201.7 67.9h0M219.7 102.8h0M191.9 95.1h0M182.7 91.0h0M207.3 107.8h0M201.5 66.3h0M187.1 96.3h0M165.2 104.2h0M227.3 98.6h0M214.5 109.2h0M213.1 108.6h0M170.7 80.2h0M189.6 114.8h0M188.4 56.5h0M208.6 67.6h0M212.1 73.0h0M182.6 50.3h0M192.6 59.3h0M210.1 65.8h0M177.6 42.0h0M212.8 78.0h0M188.9 36.4h0M185.5 52.3h0M193.9 56.6h0M193.6 60.7h0M197.5 59.5h0M207.8 69.6h0M201.2 60.0h0M187.0 50.2h0M214.5 86.0h0M194.3 60.6h0M203.0 54.6h0M200.0 62.4h0M189.0 56.7h0M180.7 52.7h0M183.3 47.8h0M197.3 51.5h0M197.8 58.4h0M235.7 105.8h0M204.7 73.7h0M184.0 47.4h0M182.1 39.2h0M186.8 57.4h0M191.1 54.9h0M188.3 47.2h0M192.5 52.1h0M218.7 88.0h0M221.6 83.8h0M226.4 90.1h0M165.3 113.0h0M164.6 116.9h0M170.6 112.1h0M155.1 123.4h0M164.7 115.2h0M157.9 118.3h0M155.6 117.9h0M164.5 122.9h0M164.0 117.1h0M168.8 110.8h0M156.5 121.2h0M164.4 117.7h0M159.9 116.7h0M162.6 119.3h0M154.3 118.5h0M157.3 120.3h0M177.0 111.1h0M165.2 118.2h0M158.2 128.2h0M171.1 111.7h0M157.0 118.7h0M162.5 120.0h0M171.9 111.7h0M166.0 115.0h0M172.3 106.7h0M159.4 119.9h0M154.9 122.0h0M165.8 112.2h0M167.6 113.3h0M165.8 112.2h0M164.4 118.5h0M161.3 118.1h0M166.0 116.8h0" stroke="#f2b8a8" stroke-width="1.3" stroke-linecap="round" opacity="0.85"/>
<path d="M187.6 58.5h0M224.4 87.4h0M202.8 72.6h0M201.0 66.6h0M212.9 80.2h0M200.4 72.7h0M217.1 84.7h0M210.3 78.8h0M189.4 51.1h0M198.8 62.6h0M215.6 80.5h0M231.8 93.9h0M196.9 64.2h0M220.3 79.1h0M186.6 57.4h0M230.0 103.0h0M218.4 80.8h0M194.6 55.6h0M199.6 59.4h0M204.6 62.3h0M214.1 80.3h0M189.7 49.5h0M222.5 89.2h0M205.1 65.9h0M217.1 82.2h0M198.3 54.2h0M232.9 91.1h0M229.4 96.4h0M182.5 45.3h0M182.9 42.6h0M194.4 50.4h0M217.1 83.8h0M203.3 64.9h0M204.4 68.9h0M224.3 98.8h0M200.0 54.7h0M226.6 92.5h0M213.6 79.2h0M185.2 41.8h0M189.1 55.0h0M215.4 73.2h0M213.7 88.8h0M179.9 44.6h0M221.5 91.6h0M224.2 94.8h0M181.2 48.1h0M204.5 66.7h0M180.3 44.5h0M230.9 94.6h0M203.9 63.6h0M226.1 91.9h0M189.4 48.8h0M229.6 99.5h0M219.8 85.7h0M235.7 98.3h0M237.8 102.5h0M200.2 66.3h0M224.1 87.7h0M227.3 101.1h0M213.9 66.9h0M174.4 44.6h0M194.9 71.9h0M218.0 85.5h0M191.4 59.6h0M196.3 60.9h0M209.7 75.2h0M220.4 85.5h0M214.5 79.2h0M197.1 46.5h0M226.1 93.8h0M209.4 67.5h0M238.2 96.8h0M223.8 96.8h0M212.5 82.0h0M229.7 86.1h0M185.2 47.3h0M183.0 48.9h0M183.1 53.7h0M223.3 97.4h0M236.9 104.6h0M204.0 70.2h0M216.5 80.2h0M201.0 55.0h0M230.2 95.3h0M183.2 44.8h0M234.7 96.7h0M202.2 65.4h0M233.0 91.7h0M224.8 88.1h0M201.7 56.0h0M225.9 89.4h0M187.9 56.9h0M194.8 51.6h0M192.8 54.5h0M206.3 69.0h0M203.5 77.3h0M190.6 58.2h0M226.4 95.3h0M184.4 51.3h0M230.6 89.7h0M184.0 47.8h0M209.9 74.0h0M192.3 57.7h0M195.1 64.8h0M218.6 93.6h0M230.7 108.5h0M188.0 47.7h0M184.1 41.9h0M222.0 90.9h0M236.8 102.5h0M202.9 63.2h0M238.9 106.8h0M176.9 43.9h0M230.1 96.0h0M234.6 89.0h0M198.1 73.6h0M216.4 83.2h0M229.5 91.4h0M225.5 90.6h0M229.3 90.4h0M194.6 55.5h0M207.4 68.5h0M200.6 68.7h0M233.5 96.2h0M212.8 73.0h0M187.2 47.0h0M226.5 92.5h0M188.5 58.4h0M228.7 96.2h0M212.0 74.3h0M222.6 96.7h0M201.2 64.9h0M221.4 90.0h0M215.2 85.0h0M187.1 56.7h0M185.3 57.8h0M240.3 103.3h0M199.9 64.7h0M214.2 73.6h0M218.5 77.6h0M210.1 76.6h0M197.5 63.8h0M224.1 86.4h0M207.2 67.6h0M213.2 72.2h0M190.6 56.6h0M221.4 86.8h0M208.6 70.5h0M236.1 98.1h0M189.3 54.6h0M189.8 56.6h0M207.4 84.7h0M178.8 42.7h0M224.2 83.1h0M212.3 85.0h0M215.9 89.1h0M224.7 90.3h0M208.5 84.4h0M218.7 76.5h0M216.0 85.8h0M222.7 92.0h0M209.4 90.5h0M206.8 100.5h0M216.5 96.0h0M219.0 84.4h0M208.1 89.1h0M225.5 96.0h0M207.8 94.4h0M214.8 77.2h0M221.8 92.8h0M209.1 88.8h0M172.6 109.6h0M173.9 109.9h0M172.8 107.8h0M174.2 107.9h0M166.8 113.4h0M163.2 115.4h0M164.0 115.9h0M167.9 110.3h0M166.1 111.0h0M170.9 108.6h0M176.3 108.5h0M166.9 114.3h0M162.0 118.3h0M163.2 119.6h0M162.2 113.5h0M172.4 107.6h0" stroke="#e07058" stroke-width="1.3" stroke-linecap="round" opacity="0.85"/>
<path d="M217.7 78.2h0M185.0 53.2h0M224.5 87.9h0M191.6 48.8h0M233.3 101.1h0M227.0 85.4h0M180.9 46.4h0M203.4 73.8h0M215.2 80.6h0M227.8 90.4h0M229.8 98.2h0M203.6 73.0h0M221.2 94.3h0M230.7 89.1h0M228.5 100.4h0M231.3 105.8h0M184.7 41.1h0M207.8 62.5h0M218.3 84.1h0M215.3 72.8h0M232.2 102.9h0M232.7 98.6h0M216.6 81.9h0M229.6 96.0h0M226.8 88.5h0M180.4 41.4h0M221.7 93.2h0M219.3 98.3h0M224.1 85.0h0M231.5 102.6h0M194.4 58.0h0M205.8 79.4h0M200.3 70.3h0M229.2 100.6h0M210.3 67.0h0M218.9 93.5h0M232.9 97.0h0M182.9 47.7h0M210.3 82.0h0M203.4 61.8h0M241.4 101.6h0M222.2 91.4h0M211.5 74.7h0M178.0 40.6h0M226.7 88.7h0M211.8 76.4h0M219.0 85.4h0M198.0 83.7h0M212.0 95.8h0M214.3 72.3h0M213.0 82.6h0M217.5 95.6h0M211.9 83.9h0M215.6 83.6h0M217.9 94.7h0M201.5 91.0h0M210.3 94.7h0M206.9 106.4h0M211.3 74.3h0M217.6 91.6h0M219.1 72.5h0M207.8 95.0h0M216.0 94.4h0M218.5 85.7h0M215.2 87.7h0M218.8 84.2h0M202.7 68.7h0M213.2 82.0h0M217.9 81.5h0M216.4 102.4h0M215.6 85.6h0M218.4 95.0h0M219.3 88.0h0M203.8 75.6h0M227.1 84.4h0M224.1 89.1h0M212.3 90.8h0M207.9 86.3h0M222.0 87.9h0M216.5 99.0h0M218.1 95.7h0M216.7 80.2h0M218.7 98.5h0M221.3 87.6h0M224.6 80.4h0M209.2 91.8h0M217.4 75.8h0M216.6 89.1h0M206.4 107.9h0" stroke="#c0403a" stroke-width="1.3" stroke-linecap="round" opacity="0.85"/>
<path d="M217.4 102.7h0M201.1 100.1h0M232.0 85.4h0M211.7 71.5h0M215.2 86.7h0M213.8 81.4h0M203.7 96.8h0M223.3 93.6h0M217.7 98.9h0M213.3 86.9h0M222.1 86.5h0M203.0 83.2h0M226.6 81.3h0M210.7 82.8h0M212.9 88.1h0M210.4 85.6h0M223.8 91.3h0M205.2 91.8h0M218.3 103.8h0M224.0 95.7h0M214.0 73.2h0M212.4 93.1h0M222.5 83.1h0M206.0 91.8h0M208.7 89.4h0M216.6 86.5h0M219.1 82.0h0M226.6 84.4h0" stroke="#842024" stroke-width="1.3" stroke-linecap="round" opacity="0.85"/>
</g>
<circle cx="178.0" cy="34.0" r="3.3" fill="#1a1a1a"/>
<text x="178.0" y="34.2" font-size="4" text-anchor="middle" dominant-baseline="central" fill="#fff" font-weight="bold">3</text>
<circle cx="245.0" cy="102.0" r="3.3" fill="#1a1a1a"/>
<text x="245.0" y="102.2" font-size="4" text-anchor="middle" dominant-baseline="central" fill="#fff" font-weight="bold">1</text>
<circle cx="153.0" cy="127.0" r="3.3" fill="#1a1a1a"/>
<text x="153.0" y="127.2" font-size="4" text-anchor="middle" dominant-baseline="central" fill="#fff" font-weight="bold">2</text>
<path d="M310 30.5V136H414" fill="none" stroke="#222" stroke-width="1.3"/>
<path d="M310 122.8h-1.5M323.0 136v1.5M310 109.6h-1.5M336.0 136v1.5M310 96.4h-1.5M349.0 136v1.5M310 83.2h-1.5M362.0 136v1.5M310 70.1h-1.5M375.0 136v1.5M310 56.9h-1.5M388.0 136v1.5M310 43.7h-1.5M401.0 136v1.5" stroke="#444" stroke-width="0.5"/>
<text x="363.0" y="17.0" font-size="8.3" text-anchor="middle" fill="#222" stroke="#222" stroke-width="0.32" dominant-baseline="central">CRC</text>
<text x="305.2" y="83.2" font-size="8" text-anchor="middle" fill="#222" stroke="#222" stroke-width="0.32" dominant-baseline="central" transform="rotate(-90 305.2 83.25)">MDS2</text>
<text x="364.0" y="141.0" font-size="8" text-anchor="middle" fill="#222" stroke="#222" stroke-width="0.32" dominant-baseline="central">MDS1</text>
<g filter="url(#hb5)">
<path d="M362.3 73.0h0M382.4 106.0h0M362.9 68.1h0M380.9 104.9h0M374.3 90.9h0M352.1 47.1h0M361.0 66.1h0M368.6 89.8h0M358.4 51.1h0M382.7 97.7h0M369.1 86.0h0M384.1 100.9h0M382.6 89.5h0M370.3 86.9h0M353.8 53.3h0M357.1 61.8h0M373.5 87.3h0M360.9 77.3h0M366.9 75.9h0M364.8 74.7h0M356.6 79.3h0M379.2 95.0h0M361.8 73.5h0M359.3 63.3h0M373.5 90.1h0M363.7 71.9h0M360.7 65.3h0M381.5 105.5h0M370.0 83.6h0M363.5 79.8h0M364.3 85.7h0M355.0 64.5h0M381.9 98.0h0M354.7 57.3h0M348.5 51.2h0M372.4 82.7h0M377.8 93.5h0M380.9 110.2h0M356.4 58.8h0M385.8 98.5h0M382.0 97.7h0M357.6 56.7h0M381.6 91.9h0M372.2 90.8h0M361.9 59.5h0M374.5 91.6h0M378.1 94.7h0M386.4 95.7h0M360.9 65.8h0M357.6 56.3h0M368.5 83.9h0M366.2 68.5h0M376.2 91.6h0M389.2 102.2h0M363.5 73.5h0M361.4 67.8h0M368.7 90.2h0M384.4 98.2h0M340.7 51.3h0M389.6 103.3h0M369.0 85.8h0M373.1 90.6h0M349.4 50.5h0M367.8 64.2h0M381.4 103.5h0M354.2 53.1h0M365.5 72.1h0M355.7 63.6h0M353.6 66.9h0M364.4 74.6h0M363.9 63.0h0M378.8 92.9h0M379.5 99.1h0M372.2 83.3h0M373.9 89.5h0M359.3 68.7h0M387.3 105.9h0M377.8 89.3h0M378.7 99.0h0M357.4 68.9h0M382.2 96.9h0M383.3 90.6h0M374.2 91.1h0M348.6 55.3h0M319.1 119.6h0M318.8 122.9h0M326.0 125.5h0M317.6 118.5h0M324.2 121.6h0M320.3 117.9h0M317.3 117.6h0M312.0 125.7h0M323.1 118.1h0M318.6 114.5h0M319.1 120.9h0M322.7 131.4h0M314.7 129.4h0M322.9 127.8h0M328.1 126.0h0M319.4 116.4h0M325.4 117.0h0M320.2 112.2h0M324.0 115.1h0M325.2 124.0h0M319.8 120.8h0M329.3 117.5h0M327.1 113.2h0M327.7 113.1h0M320.2 127.3h0M324.2 116.2h0M322.4 126.0h0M315.7 109.8h0M320.6 118.0h0M321.6 119.1h0M321.8 124.4h0M318.3 125.8h0" stroke="#f2a48c" stroke-width="3.4" stroke-linecap="round" opacity="0.25"/>
<path d="M335.9 83.5h0M368.4 86.6h0M384.4 105.9h0M343.3 54.7h0M362.9 111.2h0M378.8 77.4h0M355.8 82.4h0M370.8 108.7h0M368.6 95.8h0M341.3 46.7h0M335.0 81.9h0M341.8 44.6h0M344.6 82.9h0M345.6 47.4h0M374.0 95.5h0M339.9 105.9h0M317.1 129.1h0M351.4 105.8h0M358.8 64.2h0M361.0 108.1h0M332.8 116.3h0M341.7 121.3h0M365.2 91.1h0M371.5 107.4h0M337.8 75.7h0M376.8 96.2h0M343.9 122.0h0M385.9 90.5h0M317.2 126.7h0M368.8 108.8h0M359.3 60.4h0M327.2 115.8h0M335.0 97.2h0M362.5 82.2h0M328.7 88.5h0M398.7 94.9h0M357.9 105.6h0M380.5 92.4h0M343.5 120.6h0M374.2 78.4h0M371.2 106.2h0M381.9 100.0h0M342.8 96.2h0M330.1 87.7h0M358.8 80.1h0M395.8 102.0h0M364.8 62.4h0M370.4 100.9h0M359.9 80.6h0M324.1 117.8h0M337.7 92.0h0M356.1 87.7h0M390.3 98.0h0M361.2 101.6h0M378.0 87.6h0M342.7 97.5h0M334.2 100.4h0M338.1 114.0h0M366.1 96.0h0M358.8 88.3h0M381.6 100.3h0M345.6 92.8h0M381.5 106.6h0M348.2 69.0h0M350.4 58.3h0M325.1 118.1h0M361.8 85.6h0M347.5 92.6h0M327.9 96.1h0M345.2 47.7h0M347.5 95.2h0M361.3 58.5h0M380.4 101.8h0M366.2 80.9h0M345.5 63.3h0M358.9 83.9h0M352.3 94.7h0M366.8 75.9h0M368.6 67.2h0M380.3 112.0h0M340.5 87.5h0M334.2 77.3h0M353.9 104.8h0M358.1 87.3h0M344.6 104.2h0M388.1 92.2h0M393.3 91.5h0M347.7 45.1h0M367.5 110.6h0M342.0 40.2h0M336.2 61.6h0M363.8 116.7h0M370.8 68.5h0M327.2 102.6h0M351.1 71.4h0M347.0 104.9h0M334.6 78.2h0M367.1 106.7h0M352.1 96.2h0M340.0 92.9h0M373.6 80.0h0M387.0 110.0h0M339.6 61.3h0M369.2 76.4h0M388.7 90.1h0M344.9 106.8h0M385.0 90.0h0M374.1 85.7h0M345.1 83.1h0M361.7 63.1h0M337.2 109.5h0M375.8 73.2h0M354.3 89.2h0M341.2 109.7h0M336.6 62.3h0M339.8 104.0h0M394.4 93.3h0M337.8 114.8h0M376.1 78.6h0M346.8 113.7h0M347.6 86.3h0M350.6 83.5h0M379.1 80.8h0M338.7 82.4h0M339.2 120.5h0M367.3 67.9h0M374.3 74.2h0M333.8 93.7h0M407.2 104.6h0M334.7 78.8h0M343.1 110.7h0M346.2 51.9h0M359.0 74.9h0M393.4 108.1h0M363.8 112.7h0M337.5 76.9h0M332.5 120.9h0M390.0 98.9h0M365.8 105.3h0M343.1 36.5h0M359.3 94.8h0M333.3 80.0h0M355.6 119.5h0M362.4 89.3h0M346.5 115.2h0M383.1 92.0h0M339.7 102.6h0M400.4 95.9h0M351.7 91.0h0M324.5 114.4h0M334.6 96.1h0M358.5 82.9h0M323.7 109.3h0M351.7 75.5h0M340.9 91.4h0M353.7 101.5h0M339.9 65.4h0M374.4 92.3h0M342.9 104.3h0M353.7 72.5h0M339.3 122.7h0M340.3 96.9h0M338.2 75.8h0M361.9 76.8h0M328.7 100.5h0M351.8 104.0h0M366.8 70.7h0M346.1 118.3h0M361.7 111.8h0M351.4 57.8h0M360.4 93.8h0M349.1 105.7h0M344.2 65.8h0M339.2 68.8h0M384.8 93.8h0M356.1 51.3h0M384.2 111.3h0M345.0 44.5h0M406.7 105.2h0M342.2 66.1h0M328.1 112.0h0M363.0 113.9h0M394.7 92.1h0M342.3 102.2h0M371.7 105.2h0M338.8 96.0h0M324.8 115.9h0M355.3 119.2h0M333.3 95.3h0M346.5 103.8h0M338.6 108.3h0M341.3 41.5h0M388.6 89.9h0M336.4 70.6h0M390.0 86.8h0M336.2 95.1h0M345.1 122.1h0M364.7 103.3h0M352.4 76.4h0M385.2 101.4h0M350.2 59.4h0M334.0 81.6h0M357.4 113.9h0M364.1 110.6h0M378.0 83.1h0M344.1 83.3h0M366.7 94.8h0M366.4 84.9h0M344.0 49.5h0M337.5 43.1h0" stroke="#dadada" stroke-width="1.3" stroke-linecap="round" opacity="0.85"/>
<path d="M343.5 76.5h0M334.8 74.1h0M363.3 92.5h0M369.8 74.7h0M393.1 95.0h0M345.1 44.3h0M367.1 92.8h0M355.6 50.7h0M396.3 105.7h0M340.3 55.9h0M347.6 68.5h0M344.1 96.1h0M339.0 68.1h0M341.7 48.6h0M339.2 70.8h0M359.5 89.6h0M360.7 95.6h0M331.2 97.4h0M351.5 48.7h0M321.6 114.8h0M360.5 77.3h0M372.4 90.3h0M348.9 83.0h0M363.2 66.0h0M349.6 105.6h0M395.5 96.8h0M346.1 115.9h0M350.0 70.8h0M356.5 56.2h0M379.4 90.3h0M351.1 41.7h0M350.8 47.0h0M348.8 50.0h0M355.6 59.8h0M347.0 50.7h0M348.1 42.2h0M369.1 76.0h0M352.6 50.7h0M351.1 49.5h0M351.8 48.7h0M346.7 54.7h0M348.0 46.7h0M345.6 44.9h0M353.4 60.9h0M347.4 45.1h0M360.3 68.6h0M349.3 48.2h0M354.6 54.8h0M351.2 51.7h0M349.5 44.9h0M342.9 46.3h0M352.7 52.5h0M347.1 57.7h0M354.6 50.6h0M341.7 46.7h0M354.0 48.3h0M341.8 39.3h0M353.9 63.3h0M361.0 70.0h0M327.3 132.8h0M326.2 123.8h0M327.1 124.0h0M316.8 121.5h0M320.5 122.8h0M320.3 125.8h0" stroke="#f2b8a8" stroke-width="1.3" stroke-linecap="round" opacity="0.85"/>
<path d="M362.3 73.0h0M362.9 68.1h0M374.3 90.9h0M352.1 47.1h0M361.0 66.1h0M368.6 89.8h0M358.4 51.1h0M369.1 86.0h0M382.6 89.5h0M370.3 86.9h0M353.8 53.3h0M357.1 61.8h0M366.9 75.9h0M364.8 74.7h0M359.3 63.3h0M363.7 71.9h0M360.7 65.3h0M370.0 83.6h0M364.3 85.7h0M355.0 64.5h0M354.7 57.3h0M348.5 51.2h0M372.4 82.7h0M380.9 110.2h0M356.9 56.8h0M357.6 56.7h0M361.9 59.5h0M360.9 65.8h0M357.6 56.3h0M368.5 83.9h0M366.2 68.5h0M363.5 73.5h0M361.4 67.8h0M340.7 51.3h0M349.4 50.5h0M367.8 64.2h0M354.2 53.1h0M355.7 63.6h0M353.6 66.9h0M363.9 63.0h0M373.9 89.5h0M359.3 68.7h0M378.7 99.0h0M357.4 68.9h0M359.4 64.3h0M348.6 55.3h0M319.1 119.6h0M318.7 125.4h0M324.2 121.6h0M320.3 117.9h0M317.3 117.6h0M312.0 125.7h0M318.6 114.5h0M322.7 131.4h0M322.9 127.8h0M328.1 126.0h0M319.4 116.4h0M325.4 117.0h0M324.0 115.1h0M325.2 124.0h0M319.8 120.8h0M329.3 117.5h0M327.7 113.1h0M320.2 127.3h0M324.2 116.2h0M315.7 109.8h0M321.8 124.4h0M318.3 125.8h0" stroke="#e07058" stroke-width="1.3" stroke-linecap="round" opacity="0.85"/>
<path d="M382.4 106.0h0M380.9 104.9h0M382.7 97.7h0M384.1 100.9h0M373.5 87.3h0M360.9 77.3h0M356.6 79.3h0M379.2 95.0h0M361.8 73.5h0M373.5 90.1h0M381.5 105.5h0M363.5 79.8h0M381.9 98.0h0M377.8 93.5h0M356.4 58.8h0M385.8 98.5h0M382.0 97.7h0M381.6 91.9h0M372.2 90.8h0M374.5 91.6h0M378.1 94.7h0M386.4 95.7h0M376.2 91.6h0M389.2 102.2h0M368.7 90.2h0M389.6 103.3h0M369.0 85.8h0M373.1 90.6h0M381.4 103.5h0M365.5 72.1h0M364.4 74.6h0M372.2 83.3h0M387.3 105.9h0M382.2 96.9h0M383.3 90.6h0M374.2 91.1h0M318.8 122.9h0M326.0 125.5h0M317.6 118.5h0M323.1 118.1h0M319.1 120.9h0M314.7 129.4h0M320.2 112.2h0M327.1 113.2h0M322.4 126.0h0M320.6 118.0h0M321.6 119.1h0" stroke="#c0403a" stroke-width="1.3" stroke-linecap="round" opacity="0.85"/>
<path d="M384.4 98.2h0M378.8 92.9h0M379.5 99.1h0M377.8 89.3h0" stroke="#842024" stroke-width="1.3" stroke-linecap="round" opacity="0.85"/>
</g>
<circle cx="341.8" cy="35.0" r="3.3" fill="#1a1a1a"/>
<text x="341.8" y="35.2" font-size="4" text-anchor="middle" dominant-baseline="central" fill="#fff" font-weight="bold">3</text>
<circle cx="409.8" cy="105.3" r="3.3" fill="#1a1a1a"/>
<text x="409.8" y="105.5" font-size="4" text-anchor="middle" dominant-baseline="central" fill="#fff" font-weight="bold">1</text>
<circle cx="315.7" cy="131.2" r="3.3" fill="#1a1a1a"/>
<text x="315.7" y="131.4" font-size="4" text-anchor="middle" dominant-baseline="central" fill="#fff" font-weight="bold">2</text>
<path d="M422.5 30.4V136H526" fill="none" stroke="#222" stroke-width="1.3"/>
<path d="M422.5 122.8h-1.5M435.4 136v1.5M422.5 109.6h-1.5M448.4 136v1.5M422.5 96.4h-1.5M461.3 136v1.5M422.5 83.2h-1.5M474.2 136v1.5M422.5 70.0h-1.5M487.2 136v1.5M422.5 56.8h-1.5M500.1 136v1.5M422.5 43.6h-1.5M513.1 136v1.5" stroke="#444" stroke-width="0.5"/>
<text x="473.0" y="17.0" font-size="8.3" text-anchor="middle" fill="#222" stroke="#222" stroke-width="0.32" dominant-baseline="central">Healthy (CRC Studies)</text>
<text x="417.5" y="83.2" font-size="8" text-anchor="middle" fill="#222" stroke="#222" stroke-width="0.32" dominant-baseline="central" transform="rotate(-90 417.5 83.2)">MDS2</text>
<text x="474.0" y="141.0" font-size="8" text-anchor="middle" fill="#222" stroke="#222" stroke-width="0.32" dominant-baseline="central">MDS1</text>
<g filter="url(#hb5)">
<path d="M461.1 47.8h0M469.9 60.6h0M467.0 62.0h0M461.3 59.2h0M462.1 56.6h0M456.2 48.3h0M455.1 47.4h0M468.2 56.6h0M465.1 55.8h0M461.7 46.3h0M482.8 98.4h0M491.1 88.3h0M495.1 93.6h0M487.5 87.3h0M495.8 88.4h0M475.8 97.2h0M489.2 85.9h0M477.1 105.3h0M497.0 88.3h0M487.9 101.6h0M487.3 99.1h0M502.0 98.3h0M485.1 84.2h0M491.6 86.5h0M489.6 115.1h0M490.3 77.6h0M484.3 99.7h0M502.8 92.5h0M502.0 104.3h0M496.8 109.1h0M474.0 88.7h0M486.4 93.9h0M493.7 98.3h0M484.4 100.7h0M488.3 96.6h0M489.9 94.6h0M488.8 95.6h0M485.7 78.6h0M477.0 102.6h0M482.8 93.7h0M485.4 109.1h0M482.4 102.6h0M484.6 87.9h0M492.1 107.0h0M484.9 78.6h0M476.5 85.0h0M502.7 97.0h0M484.0 94.4h0M497.8 105.4h0M481.6 83.3h0M467.3 77.1h0M491.5 84.4h0M490.1 101.1h0M504.9 103.3h0M486.4 92.7h0M494.5 94.8h0M494.1 85.0h0M492.7 99.4h0M490.8 93.1h0M485.8 92.1h0M489.2 104.3h0M477.3 86.9h0M504.1 96.4h0M486.3 95.6h0M484.4 96.7h0M492.9 96.5h0M479.3 111.0h0M481.4 98.1h0M497.2 101.2h0M507.4 105.9h0M491.4 95.4h0M489.0 88.4h0M488.0 99.0h0M480.4 103.0h0M502.0 96.6h0M488.3 109.8h0M492.8 96.7h0M485.9 106.0h0M480.1 88.0h0M489.3 103.5h0M472.3 103.6h0M474.2 95.8h0M490.6 100.2h0M506.0 94.7h0M475.0 94.9h0M499.0 111.5h0M481.2 92.1h0M486.5 93.3h0M505.7 103.3h0M504.5 92.0h0M480.8 91.1h0M487.5 96.4h0M487.1 89.5h0M480.2 100.6h0M496.9 104.7h0M487.2 99.3h0M495.6 94.3h0M501.2 90.1h0M497.3 91.7h0M486.1 85.2h0M468.8 84.4h0M491.6 97.4h0M503.7 99.7h0M490.7 88.2h0M482.5 100.3h0M482.4 95.1h0M502.3 98.7h0M481.1 83.9h0M474.6 89.8h0M473.4 93.9h0M495.6 90.1h0M472.1 91.7h0M483.1 84.2h0M496.0 103.0h0M491.2 95.2h0M490.9 101.1h0M507.9 99.7h0M488.3 96.5h0M484.6 96.6h0M497.8 90.8h0M485.4 92.8h0M499.8 82.9h0M495.1 86.5h0M477.3 99.4h0M509.8 107.2h0M491.7 95.1h0M473.1 97.2h0M504.5 84.4h0M468.8 83.1h0M497.3 99.5h0M490.7 90.5h0M509.1 100.4h0M489.4 84.6h0M486.8 88.0h0M483.6 96.4h0M482.8 102.8h0M479.6 92.9h0M492.1 88.7h0M496.3 70.3h0M490.2 87.3h0M499.0 91.1h0M473.5 99.4h0M500.6 89.3h0M494.6 91.2h0M492.5 104.1h0M472.4 101.2h0M486.0 81.7h0M484.9 87.2h0M486.6 95.9h0M486.5 91.6h0M470.5 101.1h0M520.7 94.0h0M499.2 85.1h0M482.6 94.9h0M489.0 94.9h0M480.7 95.5h0M491.5 102.3h0M489.7 97.7h0M506.2 84.6h0M494.2 99.6h0M487.9 75.3h0M490.7 85.7h0M493.0 86.3h0M468.2 108.4h0M478.9 105.7h0M479.4 102.1h0M494.3 85.4h0M502.1 81.3h0M495.2 100.6h0M492.8 93.7h0M466.8 93.9h0M490.5 92.4h0M470.6 104.5h0M485.8 98.0h0" stroke="#f2a48c" stroke-width="3.4" stroke-linecap="round" opacity="0.25"/>
<path d="M480.0 66.0h0M506.4 101.5h0M470.9 91.0h0M451.4 53.0h0M463.4 93.0h0M460.8 76.4h0M455.7 53.9h0M434.5 123.2h0M467.4 80.1h0M463.7 71.8h0M472.0 90.0h0M469.0 74.0h0M441.7 99.7h0M444.9 87.6h0M439.4 119.5h0M459.2 55.7h0M446.9 81.8h0M452.0 59.4h0M484.2 95.9h0M505.5 89.0h0M446.5 86.1h0M467.0 113.3h0M516.5 100.2h0M478.9 70.4h0M477.5 71.0h0M476.7 103.5h0M485.3 110.8h0M448.3 109.6h0M439.4 113.6h0M460.1 112.3h0M476.6 67.9h0M495.5 80.1h0M484.6 80.2h0M440.4 107.9h0M479.9 74.7h0M471.9 103.5h0M489.5 82.5h0M480.7 98.5h0M441.0 93.7h0M439.4 105.0h0M451.9 111.7h0M494.1 89.1h0M451.4 48.2h0M476.5 97.6h0M494.1 108.7h0M432.7 117.7h0M462.9 82.4h0M445.6 75.1h0M470.0 85.2h0M460.1 121.3h0M464.7 51.6h0M481.5 88.6h0M460.6 83.9h0M468.2 105.6h0M478.3 64.3h0M452.0 42.2h0M450.2 70.9h0M443.9 80.1h0M495.7 95.2h0M439.7 112.1h0M430.8 126.0h0M460.1 76.8h0M464.3 49.9h0M502.1 94.2h0M437.4 118.8h0M459.7 101.4h0M453.0 80.0h0M480.0 76.6h0M443.1 104.6h0M446.0 105.7h0M466.6 71.4h0M493.8 112.2h0M443.7 98.1h0M467.9 107.6h0M448.3 107.2h0M470.8 112.4h0M480.9 75.8h0M488.9 87.2h0M451.1 77.1h0M470.0 93.2h0M464.5 74.5h0M507.8 102.9h0M437.3 96.2h0M474.6 61.4h0M452.5 41.5h0M459.8 115.1h0M448.8 77.7h0M444.6 106.3h0M481.5 101.5h0M462.9 118.3h0M464.3 68.3h0M467.5 55.3h0M467.9 88.0h0M450.3 65.4h0M476.5 65.1h0M453.0 101.9h0M482.4 94.2h0M506.2 108.3h0M451.4 99.9h0M441.5 103.7h0M440.3 117.6h0M499.1 97.8h0M507.2 93.3h0M439.5 93.0h0M485.5 82.0h0M452.1 96.0h0M439.6 91.5h0M509.3 93.8h0M494.3 92.9h0M467.1 64.9h0M432.2 122.4h0M455.3 97.6h0M457.2 74.1h0M457.9 92.3h0M447.9 102.9h0M497.2 96.2h0M452.6 73.8h0M468.4 95.7h0M449.4 118.6h0M436.7 99.8h0M451.6 108.0h0M470.1 84.1h0M460.5 97.4h0M468.0 105.9h0M473.8 74.0h0M472.3 105.3h0M449.4 78.2h0M476.2 85.5h0M441.8 118.2h0M482.9 94.4h0M491.8 85.5h0M494.3 92.9h0M451.0 68.0h0M462.1 103.4h0M458.5 46.6h0M494.2 82.6h0M483.4 112.0h0M457.4 46.1h0M460.9 84.6h0M460.6 120.0h0M509.7 100.3h0M456.7 118.4h0M441.8 116.9h0M472.0 95.2h0M480.7 70.9h0M444.7 121.4h0M452.4 110.3h0M446.3 81.9h0M451.7 49.1h0M449.7 72.4h0M483.3 69.3h0M461.2 64.4h0M458.9 101.0h0M484.0 98.5h0M478.9 91.7h0M475.3 96.1h0M500.9 97.7h0M463.8 109.7h0M510.7 94.8h0M484.2 78.3h0M479.9 93.4h0M443.6 108.4h0M507.1 97.7h0M470.3 84.1h0M452.4 63.3h0M448.8 92.4h0M454.9 68.6h0M509.9 107.4h0M489.3 110.9h0M479.5 78.6h0M476.3 78.3h0M456.6 39.7h0M458.8 120.7h0M467.1 66.2h0M480.1 71.7h0M508.7 107.9h0M445.8 87.3h0M478.7 117.2h0M477.4 66.3h0M495.9 95.3h0M480.6 110.1h0M450.0 77.2h0M468.2 57.1h0M505.0 98.7h0M476.7 98.5h0M511.9 104.5h0M445.0 77.3h0M460.2 110.0h0M493.8 89.4h0M455.8 58.6h0M510.7 103.3h0M442.6 81.7h0M466.7 89.0h0M481.5 80.2h0M490.4 85.3h0M448.4 114.2h0M468.7 76.3h0M458.0 100.8h0M434.6 129.3h0M472.7 118.5h0M470.7 102.2h0M474.1 69.6h0M452.2 49.6h0M507.6 100.4h0M472.2 106.8h0M454.8 71.8h0M442.5 111.3h0M454.0 67.3h0M491.1 80.4h0M464.9 52.3h0M442.2 86.0h0M512.9 103.2h0M445.1 106.9h0M481.0 90.5h0M453.6 63.2h0M477.2 108.3h0M448.3 100.6h0M432.8 121.1h0M459.5 104.6h0M497.8 96.8h0M454.6 82.9h0M452.5 108.1h0M437.4 114.5h0M448.8 113.9h0M451.7 114.1h0M475.3 101.4h0M441.0 101.9h0M466.5 109.2h0M456.7 120.4h0M467.9 57.9h0M461.0 113.1h0M460.8 51.2h0M493.3 89.2h0M465.0 46.2h0M439.3 120.4h0M464.4 62.7h0M462.2 89.4h0M486.3 78.9h0M448.3 124.5h0M459.0 57.5h0M466.4 60.2h0M461.4 51.9h0M460.2 45.2h0M470.3 60.3h0M459.3 52.1h0M467.4 59.2h0M458.0 95.0h0M428.5 128.4h0M445.6 102.4h0M440.5 123.0h0M437.9 121.7h0M436.1 126.6h0M447.3 107.0h0M445.7 112.9h0M454.6 110.1h0M446.8 109.3h0M436.4 111.7h0M457.4 100.5h0M448.1 105.4h0M449.4 103.1h0M458.3 103.4h0M439.7 120.4h0M437.6 119.4h0M446.4 114.0h0M435.5 123.7h0M439.6 117.4h0M451.2 102.3h0M449.7 103.4h0M440.9 118.1h0M452.2 109.4h0M455.0 90.4h0M439.4 120.4h0M442.1 116.8h0M458.8 110.2h0M431.1 122.6h0M428.0 120.8h0M443.5 100.0h0M438.1 121.2h0M443.0 114.4h0M447.8 105.6h0M439.3 112.0h0M451.7 104.1h0M453.8 104.4h0M435.1 125.8h0M452.8 108.0h0M444.5 101.9h0M443.2 128.0h0M439.3 120.3h0" stroke="#dadada" stroke-width="1.3" stroke-linecap="round" opacity="0.85"/>
<path d="M461.0 59.3h0M489.0 81.9h0M443.1 109.1h0M450.2 64.4h0M485.6 89.1h0M468.7 79.6h0M479.8 63.3h0M483.3 87.7h0M464.5 90.1h0M460.5 63.9h0M469.9 101.9h0M475.1 79.9h0M464.8 95.0h0M484.8 75.5h0M438.0 124.1h0M478.0 72.3h0M432.8 125.7h0M447.0 113.9h0M458.2 42.4h0M483.9 115.4h0M458.2 54.7h0M459.3 107.0h0M506.7 100.5h0M485.0 83.0h0M467.4 100.1h0M463.4 85.4h0M474.5 69.7h0M474.7 95.2h0M503.3 106.6h0M458.9 87.2h0M444.7 94.6h0M455.1 111.0h0M504.3 104.4h0M474.8 107.3h0M456.8 86.4h0M479.9 107.5h0M440.7 103.1h0M437.4 104.1h0M434.7 127.7h0M492.8 83.6h0M483.6 69.4h0M511.3 105.4h0M449.7 120.5h0M450.5 61.2h0M474.5 61.0h0M465.0 111.9h0M476.9 92.6h0M471.7 60.8h0M508.5 95.0h0M451.0 84.1h0M488.1 106.3h0M458.2 74.3h0M474.3 69.3h0M463.9 51.9h0M461.8 66.4h0M514.8 98.4h0M458.3 44.3h0M451.3 82.5h0M437.2 123.5h0M472.8 94.4h0M463.3 50.4h0M472.0 106.9h0M502.3 85.9h0M503.0 105.8h0M454.5 121.7h0M451.6 114.5h0M481.0 94.8h0M464.8 52.4h0M456.1 42.0h0M455.1 48.1h0M454.5 49.7h0M460.1 52.0h0M463.0 58.4h0M463.3 47.2h0M469.9 56.0h0M461.7 51.6h0M463.4 46.2h0M465.1 54.9h0M465.5 50.7h0M463.1 48.2h0M455.2 46.3h0M456.2 39.9h0M470.0 63.8h0M456.2 51.6h0M457.5 46.0h0M463.7 52.2h0M459.4 45.7h0M454.6 39.8h0M461.0 47.8h0M470.7 57.4h0M454.6 46.4h0M462.0 59.3h0M458.2 45.0h0M458.4 50.0h0M465.3 60.6h0M468.7 59.6h0M469.2 54.5h0M464.8 58.1h0M453.6 44.4h0M454.8 36.7h0M463.0 49.1h0M493.9 102.2h0M486.1 84.4h0M497.4 109.5h0M489.4 79.3h0M446.4 115.2h0M433.4 123.0h0M443.6 108.0h0M444.9 117.1h0M442.5 107.4h0M436.6 125.9h0M430.2 121.3h0M434.2 124.0h0M430.3 123.6h0M434.1 124.7h0" stroke="#f2b8a8" stroke-width="1.3" stroke-linecap="round" opacity="0.85"/>
<path d="M461.1 47.8h0M469.9 60.6h0M467.0 62.0h0M460.1 56.3h0M461.3 59.2h0M462.1 56.6h0M456.2 48.3h0M455.1 47.4h0M468.2 56.6h0M465.1 55.8h0M461.7 46.3h0M491.1 88.3h0M489.2 85.9h0M477.1 105.3h0M487.3 99.1h0M502.0 98.3h0M489.6 115.1h0M481.5 102.5h0M485.7 78.6h0M477.0 102.6h0M476.5 85.0h0M484.0 94.4h0M497.8 105.4h0M504.9 103.3h0M486.4 92.7h0M485.8 92.1h0M477.3 86.9h0M480.4 103.0h0M492.8 96.7h0M489.3 103.5h0M487.2 99.3h0M495.6 94.3h0M497.3 91.7h0M503.7 99.7h0M490.7 88.2h0M482.5 100.3h0M473.4 93.9h0M472.1 91.7h0M497.3 99.5h0M509.1 100.4h0M482.8 102.8h0M479.6 92.9h0M500.6 89.3h0M492.5 104.1h0M486.0 81.7h0M470.5 101.1h0M489.0 94.9h0M494.2 99.6h0M490.7 85.7h0M494.3 85.4h0M492.8 93.7h0M490.5 92.4h0M470.6 104.5h0" stroke="#e07058" stroke-width="1.3" stroke-linecap="round" opacity="0.85"/>
<path d="M482.8 98.4h0M495.1 93.6h0M495.8 88.4h0M485.1 84.2h0M491.6 86.5h0M484.3 99.7h0M502.0 104.3h0M486.4 93.9h0M493.7 98.3h0M484.4 100.7h0M489.9 94.6h0M482.8 93.7h0M482.4 102.6h0M492.1 107.0h0M484.9 78.6h0M502.7 97.0h0M481.6 83.3h0M467.3 77.1h0M490.1 101.1h0M494.5 94.8h0M494.1 85.0h0M492.7 99.4h0M490.8 93.1h0M504.1 96.4h0M484.4 96.7h0M492.9 96.5h0M479.3 111.0h0M481.4 98.1h0M497.2 101.2h0M507.4 105.9h0M491.4 95.4h0M502.0 96.6h0M488.3 109.8h0M485.9 106.0h0M480.1 88.0h0M472.3 103.6h0M490.6 100.2h0M506.0 94.7h0M475.0 94.9h0M499.0 111.5h0M481.2 92.1h0M486.5 93.3h0M505.7 103.3h0M487.5 96.4h0M480.2 100.6h0M501.2 90.1h0M491.6 97.4h0M502.3 98.7h0M474.6 89.8h0M495.6 90.1h0M483.1 84.2h0M496.0 103.0h0M490.9 101.1h0M488.3 96.5h0M484.6 96.6h0M497.8 90.8h0M485.4 92.8h0M499.8 82.9h0M495.1 86.5h0M509.8 107.2h0M473.1 97.2h0M504.5 84.4h0M490.7 90.5h0M489.4 84.6h0M486.8 88.0h0M492.1 88.7h0M490.2 87.3h0M499.0 91.1h0M473.5 99.4h0M494.6 91.2h0M472.4 101.2h0M520.7 94.0h0M499.2 85.1h0M482.6 94.9h0M491.5 102.3h0M489.7 97.7h0M506.2 84.6h0M493.0 86.3h0M468.2 108.4h0M478.9 105.7h0M479.4 102.1h0M502.1 81.3h0M495.2 100.6h0M466.8 93.9h0M485.8 98.0h0" stroke="#c0403a" stroke-width="1.3" stroke-linecap="round" opacity="0.85"/>
<path d="M487.5 87.3h0M475.8 97.2h0M497.0 88.3h0M487.9 101.6h0M490.3 77.6h0M502.8 92.5h0M496.8 109.1h0M474.0 88.7h0M488.3 96.6h0M488.8 95.6h0M485.4 109.1h0M484.6 87.9h0M491.5 84.4h0M489.2 104.3h0M486.3 95.6h0M489.0 88.4h0M488.0 99.0h0M474.2 95.8h0M504.5 92.0h0M480.8 91.1h0M487.1 89.5h0M496.9 104.7h0M486.1 85.2h0M468.8 84.4h0M482.4 95.1h0M481.1 83.9h0M491.2 95.2h0M507.9 99.7h0M477.3 99.4h0M491.7 95.1h0M468.8 83.1h0M483.6 96.4h0M496.3 70.3h0M484.9 87.2h0M486.6 95.9h0M486.5 91.6h0M480.7 95.5h0M487.9 75.3h0" stroke="#842024" stroke-width="1.3" stroke-linecap="round" opacity="0.85"/>
</g>
<circle cx="453.9" cy="34.6" r="3.3" fill="#1a1a1a"/>
<text x="453.9" y="34.8" font-size="4" text-anchor="middle" dominant-baseline="central" fill="#fff" font-weight="bold">3</text>
<circle cx="522.4" cy="105.3" r="3.3" fill="#1a1a1a"/>
<text x="522.4" y="105.5" font-size="4" text-anchor="middle" dominant-baseline="central" fill="#fff" font-weight="bold">1</text>
<circle cx="427.8" cy="131.4" r="3.3" fill="#1a1a1a"/>
<text x="427.8" y="131.6" font-size="4" text-anchor="middle" dominant-baseline="central" fill="#fff" font-weight="bold">2</text>
<path d="M574.1 24.8V135.4H681.5" fill="none" stroke="#222" stroke-width="1.3"/>
<path d="M574.1 121.6h-1.5M587.5 135.4v1.5M574.1 107.8h-1.5M601.0 135.4v1.5M574.1 93.9h-1.5M614.4 135.4v1.5M574.1 80.1h-1.5M627.8 135.4v1.5M574.1 66.3h-1.5M641.2 135.4v1.5M574.1 52.5h-1.5M654.6 135.4v1.5M574.1 38.6h-1.5M668.1 135.4v1.5" stroke="#444" stroke-width="0.5"/>
<text x="630.5" y="12.8" font-size="8.3" text-anchor="middle" fill="#222" stroke="#222" stroke-width="0.32" dominant-baseline="central">IBD</text>
<text x="569.0" y="80.1" font-size="8" text-anchor="middle" fill="#222" stroke="#222" stroke-width="0.32" dominant-baseline="central" transform="rotate(-90 569 80.10000000000001)">MDS2</text>
<text x="632.0" y="141.0" font-size="8" text-anchor="middle" fill="#222" stroke="#222" stroke-width="0.32" dominant-baseline="central">MDS1</text>
<g filter="url(#hb5)">
<path d="M635.6 111.0h0M605.2 106.4h0M646.4 87.2h0M658.4 107.2h0M643.3 95.3h0M618.3 67.7h0M639.8 98.0h0M638.7 92.9h0M626.7 74.7h0M640.8 90.6h0M638.1 66.2h0M639.4 85.8h0M640.5 98.5h0M628.9 81.6h0M628.8 87.4h0M624.7 82.8h0M626.7 82.9h0M627.8 91.1h0M648.5 97.0h0M622.3 62.8h0M616.4 60.0h0M650.5 102.6h0M622.5 59.1h0M635.6 87.1h0M623.5 79.8h0M619.1 66.1h0M607.6 63.7h0M610.4 60.4h0M639.8 82.5h0M658.1 99.1h0M618.4 53.1h0M644.2 94.2h0M629.5 94.7h0M624.3 82.2h0M641.6 92.1h0M630.4 60.3h0M616.7 75.5h0M635.7 83.0h0M641.6 89.6h0M641.1 100.8h0M643.9 116.8h0M625.5 65.4h0M641.8 100.4h0M636.3 88.3h0M640.4 102.1h0M617.1 67.2h0M634.9 105.1h0M640.5 86.6h0M644.7 114.6h0M624.3 85.9h0M616.1 55.1h0M636.7 87.7h0M629.0 98.2h0M645.2 105.7h0M644.3 106.8h0M634.3 72.6h0M632.0 84.4h0M629.5 97.5h0M647.3 88.1h0M632.1 95.8h0M638.2 76.5h0M623.2 81.1h0M625.7 78.7h0M640.3 97.2h0M646.9 103.4h0M631.9 94.0h0M657.5 94.2h0M636.6 106.5h0M645.6 81.1h0M638.3 97.4h0M646.1 113.4h0M637.3 90.5h0M629.8 94.2h0M639.1 102.4h0M638.7 73.1h0M638.6 97.3h0M630.4 66.7h0M638.4 92.6h0M645.1 99.9h0M612.9 68.5h0M645.1 94.1h0M641.0 94.1h0M631.3 63.5h0M627.1 63.9h0M650.3 104.0h0M625.2 78.0h0M646.4 109.2h0M641.5 77.7h0M623.2 56.7h0M655.7 98.7h0M656.2 97.7h0M632.8 91.4h0M644.1 108.3h0M612.9 69.1h0M621.3 76.4h0M639.0 101.4h0M644.0 72.6h0M625.5 76.2h0M624.6 78.5h0M646.7 98.6h0M627.8 106.1h0M638.8 85.7h0M631.1 82.8h0M640.1 92.0h0M649.4 96.5h0M633.3 83.1h0M649.9 96.4h0M649.6 96.9h0M623.8 82.1h0M611.5 67.0h0M626.1 75.2h0M613.8 62.5h0M638.3 87.3h0M645.5 103.1h0M633.2 91.9h0M643.2 83.0h0M630.7 83.4h0M638.0 104.3h0M611.8 51.8h0M645.8 104.2h0M628.3 76.0h0M624.3 77.0h0M623.2 75.8h0M626.2 62.3h0M636.5 97.0h0M633.9 102.9h0M632.6 81.8h0M619.9 63.3h0M623.8 72.0h0M639.3 105.4h0M653.0 95.8h0M626.4 68.0h0M627.6 72.5h0M621.8 50.6h0M629.9 84.6h0M629.6 63.9h0M610.6 68.7h0M631.0 94.8h0M634.9 84.3h0M635.3 92.0h0M643.8 107.1h0M653.8 102.3h0M640.9 84.7h0M640.3 68.9h0M638.1 87.5h0M647.0 98.4h0M631.8 71.2h0M658.2 108.6h0M650.0 107.9h0M634.2 101.0h0M623.2 66.0h0M649.1 97.3h0M637.7 83.1h0M621.0 73.6h0M635.1 93.1h0M611.9 58.9h0M628.8 85.2h0M644.9 115.0h0M636.4 91.6h0M638.1 98.2h0M632.7 57.4h0M642.9 113.0h0M622.6 93.2h0M634.4 68.7h0M633.9 72.7h0M637.8 98.2h0M641.8 102.0h0M635.4 85.7h0M623.6 75.9h0M641.8 94.9h0M614.0 60.9h0M635.6 96.1h0M630.6 78.9h0M624.2 61.9h0M627.2 92.6h0M610.6 103.7h0M598.5 106.3h0M583.3 123.6h0M592.5 119.2h0M582.5 120.0h0M600.7 106.9h0M580.4 122.8h0M599.5 108.3h0M601.7 106.4h0M587.9 114.2h0M595.7 114.1h0M594.9 112.4h0M598.1 107.9h0M595.1 116.3h0M606.4 102.5h0M601.2 108.2h0M601.9 109.1h0M590.6 125.4h0M603.2 102.5h0M596.3 116.3h0M602.9 108.2h0M584.9 121.6h0M591.9 110.8h0" stroke="#f2a48c" stroke-width="3.4" stroke-linecap="round" opacity="0.25"/>
<path d="M632.0 58.5h0M608.5 38.3h0M609.6 98.0h0M607.6 85.9h0M643.9 92.1h0M658.2 97.3h0M611.9 120.6h0M598.8 90.3h0M623.2 106.4h0M614.3 70.5h0M613.2 48.0h0M591.9 91.1h0M614.0 86.0h0M580.0 129.4h0M598.4 65.3h0M633.2 68.4h0M603.3 79.4h0M616.1 84.1h0M657.6 107.8h0M636.2 86.0h0M647.0 87.3h0M655.4 96.8h0M625.6 103.7h0M594.9 124.9h0M611.3 82.3h0M609.3 55.0h0M595.9 85.5h0M597.1 77.7h0M629.8 113.7h0M606.7 70.6h0M589.7 119.1h0M650.9 94.8h0M595.2 80.4h0M667.2 104.8h0M644.7 86.4h0M621.5 80.6h0M630.7 59.1h0M626.0 108.5h0M628.3 77.5h0M589.5 105.2h0M613.2 82.4h0M592.8 80.5h0M594.4 100.6h0M610.8 52.1h0M626.5 63.8h0M595.5 118.6h0M589.8 92.8h0M597.6 116.2h0M648.9 100.5h0M631.5 83.4h0M591.5 125.5h0M583.0 118.6h0M645.2 97.2h0M618.5 46.5h0M646.3 85.5h0M603.7 53.2h0M604.7 43.8h0M610.1 88.9h0M621.4 53.5h0M622.0 111.7h0M639.5 108.4h0M611.6 58.0h0M641.0 87.5h0M613.7 116.4h0M599.0 121.6h0M642.8 102.1h0M623.0 107.0h0M646.5 77.6h0M615.5 80.0h0M591.5 92.3h0M638.0 85.9h0M589.1 114.4h0M625.0 90.1h0M656.2 106.8h0M596.5 103.8h0M616.8 55.0h0M633.8 113.6h0M607.0 89.3h0M645.7 86.1h0M613.0 86.3h0M597.0 94.8h0M637.8 82.8h0M611.4 96.5h0M655.2 103.5h0M599.8 87.8h0M655.7 103.2h0M661.7 95.2h0M667.8 95.3h0M616.4 109.0h0M615.0 100.6h0M629.9 82.1h0M619.4 102.5h0M613.6 105.0h0M640.0 73.9h0M653.7 100.6h0M614.8 73.4h0M614.3 73.9h0M622.9 110.5h0M604.9 70.0h0M599.3 124.4h0M601.6 70.3h0M582.5 124.0h0M633.0 69.3h0M656.1 87.2h0M660.3 101.6h0M605.9 121.5h0M609.9 74.8h0M621.3 85.6h0M616.8 51.0h0M602.8 66.6h0M613.4 48.2h0M643.4 88.6h0M631.4 101.2h0M630.6 96.7h0M609.8 41.3h0M646.9 92.8h0M614.3 116.7h0M597.3 122.7h0M646.8 77.1h0M617.2 99.2h0M661.1 105.6h0M601.5 111.6h0M673.7 100.7h0M628.7 100.4h0M583.1 121.8h0M652.1 106.2h0M607.4 83.4h0M644.4 72.1h0M609.3 69.4h0M598.1 103.7h0M651.2 99.9h0M636.7 75.6h0M614.3 80.6h0M614.5 80.1h0M612.0 97.3h0M615.9 77.0h0M628.4 77.2h0M650.2 82.5h0M655.0 108.2h0M600.7 63.7h0M610.8 79.0h0M601.0 123.6h0M628.0 114.4h0M627.5 98.0h0M640.5 104.4h0M613.7 120.3h0M666.9 100.0h0M606.3 86.3h0M633.3 104.3h0M648.6 77.8h0M626.6 81.7h0M607.6 101.7h0M630.0 82.3h0M635.4 84.1h0M605.4 45.7h0M611.8 56.2h0M631.0 92.3h0M621.7 107.4h0M626.0 63.1h0M631.8 113.7h0M620.9 84.3h0M630.4 81.0h0M603.9 99.2h0M640.8 91.3h0M637.6 112.1h0M639.2 96.4h0M627.2 68.2h0M606.4 53.5h0M617.6 97.0h0M629.4 103.8h0M614.7 94.1h0M628.6 85.0h0M602.6 93.0h0M651.8 91.2h0M622.9 58.8h0M596.5 88.8h0M607.1 86.8h0M663.3 95.7h0M629.9 62.7h0M616.7 109.2h0M639.8 89.7h0M666.5 103.7h0M608.2 105.9h0M592.7 93.1h0M630.7 83.3h0M653.6 81.2h0M648.3 83.0h0M596.6 113.2h0M643.3 90.8h0M607.2 76.2h0M609.0 47.9h0M616.2 101.7h0M597.5 114.1h0M586.2 117.5h0M605.4 111.7h0M642.0 90.6h0M609.5 35.2h0M603.8 55.7h0M607.7 47.5h0M593.7 113.6h0M603.1 51.7h0M607.0 100.8h0M613.0 78.6h0M604.5 40.7h0M631.6 97.0h0M608.9 44.3h0M620.4 58.8h0M635.9 64.3h0M612.5 55.5h0M590.8 116.8h0M635.9 70.4h0M623.6 53.8h0M603.8 57.6h0M638.2 82.1h0M595.0 101.4h0M609.2 66.4h0M613.2 58.0h0M627.8 99.1h0M591.2 121.9h0M594.6 116.0h0M635.5 112.9h0M622.9 51.5h0M610.5 100.1h0M596.9 106.3h0M645.6 90.1h0M625.7 53.3h0M642.6 91.3h0M603.8 50.4h0M636.1 68.1h0M641.8 94.4h0M638.2 93.4h0M625.5 81.9h0M612.9 59.8h0M633.8 103.5h0M610.9 66.5h0M620.4 90.8h0M651.3 101.5h0M626.7 75.7h0M669.6 99.5h0M613.3 41.9h0M621.3 48.5h0M612.8 42.9h0M607.9 34.4h0M620.3 56.1h0M621.1 54.1h0M614.8 45.9h0M619.8 57.7h0M616.0 47.3h0M607.5 35.5h0M620.2 48.7h0M617.1 51.9h0M614.6 40.8h0M613.3 41.9h0M611.6 40.8h0M613.4 42.4h0M611.9 45.5h0M621.3 53.5h0M613.4 49.2h0M614.6 55.2h0M613.4 43.7h0M619.2 57.5h0M610.1 37.3h0M615.8 47.9h0M608.7 40.6h0M620.1 50.3h0M620.9 54.0h0M616.2 53.9h0M620.5 57.1h0M609.1 45.9h0M612.3 39.1h0M605.2 35.7h0M604.9 45.3h0M584.3 121.9h0M589.0 119.9h0M585.5 125.5h0" stroke="#dadada" stroke-width="1.3" stroke-linecap="round" opacity="0.85"/>
<path d="M606.7 93.7h0M590.8 89.0h0M635.5 75.8h0M624.9 56.3h0M604.3 111.6h0M614.3 102.4h0M644.8 73.6h0M644.6 106.0h0M616.0 52.2h0M595.0 88.5h0M611.9 101.2h0M649.3 82.8h0M602.4 48.8h0M623.2 85.8h0M608.7 73.2h0M600.5 101.6h0M642.8 92.6h0M601.3 104.2h0M621.1 109.3h0M608.8 91.0h0M625.1 77.2h0M614.5 57.5h0M611.1 105.8h0M636.5 67.3h0M611.6 120.4h0M607.0 56.6h0M614.0 120.0h0M602.8 112.4h0M609.0 113.0h0M592.5 106.9h0M645.9 82.6h0M603.2 88.7h0M662.1 90.6h0M653.3 91.8h0M647.9 104.7h0M615.4 98.2h0M612.4 83.9h0M622.9 71.7h0M614.4 71.5h0M605.3 110.7h0M615.4 53.8h0M583.7 116.8h0M595.9 95.9h0M642.8 93.1h0M663.2 103.4h0M613.2 117.3h0M606.8 118.9h0M668.7 98.3h0M616.2 63.5h0M610.5 59.1h0M611.4 121.1h0M603.4 56.3h0M634.1 73.5h0M635.6 72.5h0M593.1 95.3h0M638.6 100.6h0M620.0 94.7h0M609.3 59.0h0M608.8 101.9h0M629.8 67.1h0M628.5 60.9h0M609.1 38.3h0M655.9 99.4h0M608.1 64.6h0M603.5 65.2h0M625.6 57.1h0M619.8 48.2h0M622.6 59.4h0M625.5 58.9h0M625.2 54.9h0M604.8 41.4h0M608.0 77.0h0M624.2 58.0h0M610.1 61.4h0M624.3 75.3h0M628.3 84.7h0M622.5 65.2h0M633.4 78.6h0M608.0 57.1h0M629.2 60.8h0M632.9 62.4h0M637.1 75.3h0M619.8 71.2h0M620.2 72.0h0M637.6 77.2h0M617.8 65.8h0M621.5 75.1h0M591.9 114.3h0M594.9 112.0h0M599.1 105.7h0M595.5 103.9h0M603.6 107.1h0M598.1 107.4h0M601.3 108.0h0M604.6 105.0h0M588.7 124.6h0M598.1 107.1h0M604.5 106.6h0M605.5 105.5h0M595.6 107.8h0M600.0 111.5h0M592.6 109.2h0M588.2 109.8h0M589.9 116.7h0M594.2 111.9h0M601.6 106.5h0M606.9 103.1h0M597.5 109.9h0M588.1 119.1h0M591.5 107.2h0M584.5 112.7h0M599.4 109.5h0M582.7 123.3h0M587.0 117.5h0M599.2 119.1h0M597.6 106.1h0M587.2 117.0h0M590.6 123.6h0M589.6 120.8h0M600.5 111.8h0M583.2 122.8h0M597.0 103.4h0" stroke="#f2b8a8" stroke-width="1.3" stroke-linecap="round" opacity="0.85"/>
<path d="M635.6 111.0h0M605.2 106.4h0M658.4 107.2h0M646.0 86.7h0M618.3 67.7h0M615.9 66.4h0M638.1 66.2h0M638.4 68.1h0M626.7 82.9h0M616.4 60.0h0M619.1 66.1h0M607.6 63.7h0M610.4 60.4h0M639.8 82.5h0M618.4 53.1h0M644.2 94.2h0M624.3 82.2h0M630.4 60.3h0M616.7 75.5h0M635.7 83.0h0M625.5 65.4h0M636.3 88.3h0M617.1 67.2h0M640.5 86.6h0M636.7 87.7h0M634.3 72.6h0M632.0 84.4h0M629.5 97.5h0M647.3 88.1h0M627.3 74.6h0M623.2 81.1h0M618.8 71.3h0M645.6 81.1h0M637.3 90.5h0M631.0 97.9h0M612.9 68.5h0M645.1 94.1h0M627.1 63.9h0M625.2 78.0h0M641.5 77.7h0M623.2 56.7h0M621.3 76.4h0M644.0 72.6h0M625.5 76.2h0M624.6 78.5h0M638.8 85.7h0M623.8 82.1h0M638.3 87.3h0M630.7 83.4h0M638.0 104.3h0M611.8 51.8h0M628.3 76.0h0M626.2 62.3h0M632.6 81.8h0M619.9 63.3h0M623.8 72.0h0M626.4 68.0h0M621.8 50.6h0M629.6 63.9h0M610.6 68.7h0M631.0 94.8h0M640.3 68.9h0M623.2 66.0h0M637.7 83.1h0M611.9 58.9h0M636.4 91.6h0M632.7 57.4h0M633.9 72.7h0M635.4 85.7h0M623.6 75.9h0M614.0 60.9h0M624.2 61.9h0M589.2 120.3h0M610.6 103.7h0M598.5 106.3h0M583.3 123.6h0M592.5 119.2h0M582.5 120.0h0M600.7 106.9h0M603.7 111.2h0M580.4 122.8h0M599.5 108.3h0M601.7 106.4h0M587.9 114.2h0M587.8 122.8h0M595.7 114.1h0M594.9 112.4h0M598.1 107.9h0M595.1 116.3h0M606.4 102.5h0M601.2 108.2h0M601.9 109.1h0M590.6 125.4h0M601.1 110.8h0M603.2 102.5h0M596.3 116.3h0M602.9 108.2h0M584.9 121.6h0M591.9 110.8h0" stroke="#e07058" stroke-width="1.3" stroke-linecap="round" opacity="0.85"/>
<path d="M646.4 87.2h0M643.3 95.3h0M639.8 98.0h0M638.7 92.9h0M626.7 74.7h0M640.8 90.6h0M639.4 85.8h0M640.5 98.5h0M628.9 81.6h0M628.8 87.4h0M627.8 91.1h0M622.3 62.8h0M650.5 102.6h0M622.5 59.1h0M635.6 87.1h0M623.5 79.8h0M658.1 99.1h0M629.5 94.7h0M641.6 92.1h0M641.6 89.6h0M641.1 100.8h0M643.9 116.8h0M641.8 100.4h0M634.9 105.1h0M644.7 114.6h0M624.3 85.9h0M616.1 55.1h0M629.0 98.2h0M645.2 105.7h0M644.3 106.8h0M632.1 95.8h0M625.7 78.7h0M640.3 97.2h0M646.9 103.4h0M631.9 94.0h0M657.5 94.2h0M636.6 106.5h0M638.3 97.4h0M646.1 113.4h0M629.8 94.2h0M639.1 102.4h0M638.7 73.1h0M638.6 97.3h0M630.4 66.7h0M638.4 92.6h0M645.1 99.9h0M641.0 94.1h0M631.3 63.5h0M650.3 104.0h0M656.2 97.7h0M632.8 91.4h0M644.1 108.3h0M612.9 69.1h0M646.7 98.6h0M627.8 106.1h0M631.1 82.8h0M640.1 92.0h0M649.4 96.5h0M633.3 83.1h0M649.9 96.4h0M649.6 96.9h0M611.5 67.0h0M626.1 75.2h0M613.8 62.5h0M645.5 103.1h0M633.2 91.9h0M643.2 83.0h0M645.8 104.2h0M624.3 77.0h0M623.2 75.8h0M636.5 97.0h0M639.3 105.4h0M653.0 95.8h0M627.6 72.5h0M629.9 84.6h0M634.9 84.3h0M635.3 92.0h0M643.8 107.1h0M640.9 84.7h0M638.1 87.5h0M631.8 71.2h0M650.0 107.9h0M634.2 101.0h0M649.1 97.3h0M621.0 73.6h0M635.1 93.1h0M628.8 85.2h0M644.9 115.0h0M638.1 98.2h0M622.6 93.2h0M634.4 68.7h0M637.8 98.2h0M641.8 102.0h0M641.8 94.9h0M635.6 96.1h0M630.6 78.9h0M627.2 92.6h0" stroke="#c0403a" stroke-width="1.3" stroke-linecap="round" opacity="0.85"/>
<path d="M624.7 82.8h0M648.5 97.0h0M640.4 102.1h0M638.2 76.5h0M646.4 109.2h0M655.7 98.7h0M639.0 101.4h0M633.9 102.9h0M653.8 102.3h0M647.0 98.4h0M658.2 108.6h0M642.9 113.0h0" stroke="#842024" stroke-width="1.3" stroke-linecap="round" opacity="0.85"/>
</g>
<circle cx="606.2" cy="30.2" r="3.3" fill="#1a1a1a"/>
<text x="606.2" y="30.4" font-size="4" text-anchor="middle" dominant-baseline="central" fill="#fff" font-weight="bold">3</text>
<circle cx="676.8" cy="103.5" r="3.3" fill="#1a1a1a"/>
<text x="676.8" y="103.7" font-size="4" text-anchor="middle" dominant-baseline="central" fill="#fff" font-weight="bold">1</text>
<circle cx="579.5" cy="130.0" r="3.3" fill="#1a1a1a"/>
<text x="579.5" y="130.2" font-size="4" text-anchor="middle" dominant-baseline="central" fill="#fff" font-weight="bold">2</text>
<path d="M694.1 25.4V135H801.1" fill="none" stroke="#222" stroke-width="1.3"/>
<path d="M694.1 121.3h-1.5M707.5 135v1.5M694.1 107.6h-1.5M720.9 135v1.5M694.1 93.9h-1.5M734.2 135v1.5M694.1 80.2h-1.5M747.6 135v1.5M694.1 66.5h-1.5M761.0 135v1.5M694.1 52.8h-1.5M774.4 135v1.5M694.1 39.1h-1.5M787.7 135v1.5" stroke="#444" stroke-width="0.5"/>
<text x="744.7" y="15.0" font-size="8.3" text-anchor="middle" fill="#222" stroke="#222" stroke-width="0.32" dominant-baseline="central">Healthy (IBD Studies)</text>
<text x="689.5" y="80.2" font-size="8" text-anchor="middle" fill="#222" stroke="#222" stroke-width="0.32" dominant-baseline="central" transform="rotate(-90 689.5 80.2)">MDS2</text>
<text x="757.0" y="141.0" font-size="8" text-anchor="middle" fill="#222" stroke="#222" stroke-width="0.32" dominant-baseline="central">MDS1</text>
<g filter="url(#hb5)">
<path d="M769.8 84.1h0M765.9 77.5h0M732.5 45.0h0M779.7 91.1h0M770.5 90.7h0M768.7 82.6h0M765.7 76.7h0M757.5 69.8h0M727.2 39.6h0M773.7 85.9h0M749.6 62.5h0M777.7 98.1h0M728.1 37.3h0M754.4 72.2h0M738.7 52.6h0M759.2 73.6h0M740.1 43.7h0M747.2 63.9h0M739.3 48.8h0M778.7 88.8h0M775.3 96.3h0M730.8 38.6h0M768.2 82.3h0M742.2 45.3h0M737.9 47.6h0M753.8 64.2h0M768.4 80.9h0M769.9 85.9h0M746.5 48.6h0M787.8 96.4h0M756.9 61.8h0M748.1 54.0h0M770.8 74.8h0M774.5 94.2h0M726.6 35.3h0M769.8 88.2h0M741.0 46.7h0M753.1 64.9h0M749.6 63.1h0M749.3 64.1h0M764.4 81.9h0M760.5 69.6h0M744.1 59.1h0M746.5 62.4h0M756.0 67.3h0M774.3 89.4h0M752.0 74.4h0M773.9 90.7h0M766.5 83.0h0M734.1 46.0h0M759.5 72.7h0M770.7 77.2h0M756.8 77.4h0M746.8 59.1h0M766.2 86.5h0M751.8 66.0h0M781.5 95.1h0M748.0 64.2h0M732.9 42.0h0M773.1 85.1h0M735.6 37.3h0M735.8 45.6h0M747.1 62.4h0M740.9 54.2h0M743.5 59.4h0M750.7 68.8h0M766.5 82.0h0M733.9 40.1h0M768.5 75.7h0M782.9 87.9h0M746.9 56.5h0M744.2 60.8h0M746.3 57.4h0M757.4 70.2h0M750.0 58.7h0M734.4 55.5h0M725.1 40.1h0M777.8 91.4h0M768.7 87.2h0M782.8 96.8h0M722.4 47.4h0M756.3 65.6h0M750.9 58.6h0M734.8 47.5h0M738.3 44.7h0M734.0 44.6h0M776.2 95.1h0M738.2 48.0h0M762.3 82.3h0M770.0 87.5h0M775.3 82.4h0M764.3 68.5h0M757.1 62.2h0M784.9 98.5h0M762.2 79.3h0M781.5 101.1h0M774.7 81.3h0M774.6 96.3h0M756.8 76.5h0M735.2 46.0h0M754.5 73.0h0M725.4 27.1h0M751.9 50.5h0M745.9 60.8h0M758.7 76.6h0M754.0 71.1h0M776.5 90.5h0M742.9 61.5h0M756.7 75.7h0M778.3 92.4h0M760.4 69.9h0M777.8 89.9h0M740.2 51.8h0M780.8 96.0h0M782.4 93.6h0M772.5 82.6h0M774.5 82.6h0M729.7 39.3h0M782.0 90.8h0M740.5 57.6h0M759.4 70.9h0M762.1 77.3h0M760.5 74.0h0M766.2 75.7h0M779.1 93.5h0M734.9 48.0h0M731.1 37.6h0M765.1 88.3h0M773.2 88.6h0M746.3 54.6h0M772.6 84.4h0M732.9 45.4h0M770.5 92.2h0M734.2 44.6h0M773.9 96.6h0M761.8 75.5h0M742.0 62.4h0M787.9 99.9h0M727.3 34.4h0M782.5 90.6h0M735.8 50.8h0M781.7 93.1h0M731.9 42.4h0M780.9 87.1h0M768.6 86.6h0M774.1 83.3h0M727.4 32.1h0M773.4 83.6h0M763.7 72.6h0M762.9 85.6h0M780.9 93.6h0M787.4 100.2h0M753.6 57.9h0M735.5 49.0h0M766.9 81.6h0M774.9 87.8h0M787.1 95.8h0M728.9 47.8h0M734.9 47.2h0M750.9 63.1h0M744.3 61.9h0M765.3 78.7h0M750.7 64.3h0M753.2 66.5h0M780.6 97.0h0M747.3 58.3h0M734.6 49.5h0M746.4 66.1h0M749.7 54.8h0M749.1 56.1h0M731.8 59.2h0M746.4 60.4h0M761.4 76.7h0M777.1 88.4h0M746.9 56.0h0M743.2 54.5h0M724.1 36.8h0M752.5 65.3h0M746.8 67.8h0M750.4 58.6h0M735.5 56.7h0M783.9 95.6h0M761.9 70.6h0M737.6 43.8h0M734.6 56.2h0M751.3 57.6h0M769.0 90.5h0M766.5 76.1h0M730.7 42.0h0M740.0 45.8h0M760.5 67.1h0M756.4 70.7h0M746.7 63.9h0M732.2 39.0h0M736.0 55.7h0M742.2 56.4h0M737.5 47.5h0M752.7 67.2h0M765.9 79.1h0M731.6 44.7h0M738.2 47.6h0M771.4 82.7h0M727.8 34.7h0M746.9 63.1h0M731.1 39.7h0M762.0 69.5h0M744.2 62.5h0M776.5 90.4h0M779.7 93.9h0M777.7 97.4h0M750.5 55.4h0M742.8 55.5h0M733.3 34.7h0M764.1 83.0h0M782.9 88.9h0M755.2 76.3h0M775.3 97.6h0M775.1 86.7h0M731.5 39.5h0M732.7 44.5h0M737.9 65.3h0M768.4 91.9h0M756.8 70.2h0M768.6 79.3h0M760.4 71.4h0M758.0 72.5h0M740.7 61.9h0M773.6 87.7h0M751.8 59.1h0M749.8 71.0h0M769.8 87.7h0M767.0 76.6h0M730.2 40.0h0M780.6 96.7h0M775.0 87.3h0M759.6 80.4h0M777.6 85.2h0M756.3 69.3h0M751.1 66.9h0M753.4 63.2h0M741.2 50.4h0M751.3 59.1h0M730.9 41.0h0M753.1 62.8h0M762.7 74.7h0M769.8 80.6h0M756.2 66.4h0M767.8 83.2h0M773.5 92.5h0M740.9 55.3h0M729.9 37.6h0M729.5 42.7h0M750.0 55.9h0M753.1 64.7h0M746.2 56.8h0M744.7 50.8h0M783.5 100.4h0M764.5 69.6h0M773.1 99.8h0M753.8 70.7h0M766.9 59.6h0M755.9 57.6h0M743.0 79.9h0M753.4 66.6h0M751.6 71.2h0M757.4 64.9h0M754.9 72.0h0M750.0 73.9h0M756.2 63.2h0M760.3 68.0h0M750.5 64.0h0M757.8 75.4h0M750.0 69.5h0M754.9 86.2h0M760.3 65.9h0M753.1 73.1h0M751.4 75.2h0M752.8 74.2h0M742.6 71.8h0M742.6 85.0h0M751.1 78.0h0M758.8 64.9h0M756.3 66.7h0M745.3 62.7h0M749.5 70.9h0M750.4 73.4h0M755.0 64.8h0M751.2 74.7h0M753.7 92.2h0M753.3 60.6h0M752.5 60.0h0M751.0 82.3h0M750.6 68.6h0M751.9 66.1h0M748.4 65.6h0M753.0 68.1h0M759.4 72.7h0M751.7 59.5h0M755.0 81.4h0M747.8 82.8h0M758.6 70.0h0M752.5 69.6h0M747.7 71.7h0M750.7 62.9h0M757.7 80.3h0M747.3 79.5h0M753.7 76.7h0M759.0 59.4h0M748.1 83.1h0M758.3 69.9h0M749.4 81.7h0M748.9 81.1h0M747.4 70.6h0M748.0 98.6h0M755.2 63.6h0M743.1 75.6h0M745.1 65.9h0M755.6 81.4h0M750.6 60.7h0M748.9 64.1h0M754.6 68.1h0M755.6 76.3h0M753.6 65.9h0M756.1 56.7h0" stroke="#f2a48c" stroke-width="3.4" stroke-linecap="round" opacity="0.25"/>
<path d="M715.2 106.7h0M760.3 75.2h0M746.6 74.5h0M726.5 122.1h0M736.6 95.0h0M778.9 88.1h0M711.3 100.5h0M753.2 99.3h0M745.1 58.1h0M713.2 113.3h0M755.6 87.7h0M725.7 77.2h0M739.3 54.3h0M763.6 108.9h0M729.4 97.6h0M718.5 118.3h0M751.5 85.1h0M739.0 91.8h0M772.7 87.1h0M727.8 82.2h0M745.3 72.4h0M757.6 91.8h0M761.9 108.1h0M747.8 81.0h0M756.4 95.0h0M723.7 45.6h0M767.6 78.0h0M778.3 90.9h0M742.3 117.9h0M739.0 57.8h0M773.5 89.6h0M716.4 100.0h0M764.6 84.1h0M767.3 91.5h0M728.0 108.2h0M726.7 106.1h0M768.7 80.2h0M776.7 105.6h0M738.5 61.9h0M788.2 99.1h0M711.7 85.3h0M772.2 106.8h0M737.3 81.7h0M719.6 73.0h0M728.1 106.7h0M732.5 58.7h0M779.9 107.8h0M752.4 75.1h0M742.6 90.8h0M743.6 80.4h0M756.8 79.3h0M725.2 119.5h0M761.4 67.3h0M728.6 35.7h0M752.2 107.8h0M741.5 82.9h0M772.4 89.0h0M741.8 70.0h0M753.4 114.6h0M753.5 98.9h0M721.1 110.7h0M770.4 79.5h0M738.2 85.7h0M740.9 60.2h0M718.5 123.0h0M748.1 72.6h0M781.8 99.5h0M763.5 82.1h0M752.2 66.9h0M723.4 111.8h0M755.8 80.0h0M748.0 100.2h0M767.9 82.4h0M747.5 70.5h0M742.1 109.2h0M750.7 74.3h0M744.7 86.0h0M768.0 92.4h0M727.6 79.6h0M739.3 107.2h0M764.9 94.2h0M742.7 70.7h0M735.6 79.9h0M787.0 98.0h0M716.5 81.6h0M716.1 103.0h0M757.8 81.3h0M706.8 124.4h0M727.9 37.4h0M757.0 91.5h0M744.3 104.7h0M733.6 79.7h0M765.6 107.4h0M720.6 99.1h0M724.9 72.6h0M736.0 68.1h0M750.2 61.0h0M771.3 81.3h0M731.0 87.3h0M732.7 95.0h0M741.1 109.7h0M716.4 120.7h0M769.3 110.8h0M764.0 82.5h0M732.0 62.5h0M742.9 50.8h0M767.5 73.8h0M733.5 55.0h0M740.4 90.6h0M740.0 93.7h0M782.9 101.2h0M731.1 73.9h0M706.5 121.3h0M718.0 114.1h0M733.0 51.7h0M729.2 119.3h0M767.4 92.3h0M754.1 92.1h0M731.5 64.9h0M754.8 85.0h0M722.7 54.6h0M732.5 38.5h0M747.9 76.4h0M756.7 91.1h0M751.1 113.8h0M743.1 111.4h0M733.8 102.8h0M743.0 87.2h0M714.2 108.3h0M732.8 42.0h0M740.6 58.4h0M741.5 52.5h0M751.2 71.1h0M774.5 98.3h0M709.9 92.2h0M738.9 53.7h0M746.3 107.5h0M722.8 111.8h0M748.5 87.0h0M746.1 88.7h0M712.4 110.0h0M727.2 63.6h0M733.9 55.1h0M731.3 55.8h0M743.9 70.3h0M756.6 100.2h0M772.0 92.8h0M752.0 107.9h0M719.4 98.0h0M701.6 128.5h0M723.7 107.0h0M713.4 80.7h0M715.5 90.4h0M774.7 101.9h0M770.1 78.8h0M746.1 56.4h0M714.0 90.9h0M715.8 75.6h0M723.5 101.6h0M779.1 101.2h0M739.0 96.7h0M719.1 90.4h0M775.7 85.6h0M742.7 114.2h0M728.2 74.0h0M750.4 94.2h0M741.5 116.2h0M718.9 88.9h0M733.4 108.4h0M726.0 79.5h0M748.5 58.5h0M752.4 112.8h0M719.7 117.8h0M771.0 99.2h0M730.9 79.2h0M767.7 89.1h0M771.4 95.1h0M773.2 98.7h0M751.8 111.5h0M722.5 104.2h0M724.9 34.9h0M735.5 115.1h0M709.1 122.5h0M785.6 96.7h0M737.1 44.4h0M756.2 80.6h0M717.6 85.9h0M741.4 109.8h0M773.9 84.9h0M762.7 93.1h0M777.6 87.6h0M723.5 58.4h0M712.3 94.2h0M743.7 92.0h0M755.2 104.3h0M764.9 98.7h0M724.3 66.0h0M745.2 62.2h0M741.8 117.0h0M747.9 95.1h0M715.4 85.9h0M747.8 90.5h0M720.7 50.3h0M727.2 34.8h0M753.8 110.7h0M736.2 95.8h0M717.4 101.4h0M742.1 81.8h0M746.5 108.7h0M732.0 68.2h0M741.9 94.6h0M751.7 98.0h0M730.7 50.9h0M740.9 46.0h0M712.6 113.3h0M745.2 113.1h0M761.3 80.0h0M718.1 103.1h0M721.3 99.2h0M745.4 99.8h0M713.4 93.6h0M730.6 61.5h0M710.2 111.9h0M779.0 96.2h0M751.9 90.4h0M739.9 112.5h0M729.3 36.9h0M734.4 39.1h0M703.5 118.4h0M719.1 83.3h0M750.4 78.2h0M714.8 103.4h0M770.1 86.8h0M713.6 109.0h0M755.8 88.5h0M729.3 111.4h0M747.5 113.3h0M716.0 97.9h0M753.8 60.0h0M720.9 88.7h0M743.1 56.4h0M735.6 90.5h0M739.9 55.3h0M781.0 91.8h0M729.9 80.7h0M746.1 110.9h0M752.2 99.7h0M711.0 93.8h0M712.7 119.1h0M771.5 100.1h0M738.0 54.5h0M734.7 54.1h0M774.2 81.5h0M757.8 88.9h0M757.1 65.4h0M734.5 60.2h0M712.4 108.7h0M772.2 86.1h0M765.9 108.8h0M743.8 60.2h0M751.5 60.0h0M730.9 95.2h0M719.3 58.9h0M749.9 57.3h0M763.5 96.8h0M726.7 76.1h0M734.3 112.5h0M762.1 104.7h0M718.9 84.8h0M748.2 109.9h0M717.3 121.6h0M729.7 78.6h0M715.9 83.0h0M726.0 75.6h0M723.4 46.2h0M742.7 104.5h0M753.9 79.3h0M704.7 111.9h0M756.3 74.3h0M751.3 99.6h0M716.5 69.5h0M750.5 109.5h0M752.0 67.0h0M735.4 99.3h0M719.9 111.5h0M784.2 99.5h0M784.2 95.6h0M740.0 46.1h0M742.4 73.9h0M744.5 92.6h0M730.0 61.4h0M763.2 80.2h0M733.2 61.0h0M741.3 94.1h0M709.6 111.9h0M744.4 98.9h0M770.1 86.4h0M755.5 62.4h0M735.8 114.9h0M750.0 95.9h0M729.3 82.3h0M776.6 103.6h0M725.1 61.3h0M733.4 62.7h0M724.7 95.1h0M752.9 99.6h0M794.6 103.3h0M706.1 104.9h0M771.0 79.4h0M720.9 102.5h0M727.0 78.7h0M730.6 105.8h0M748.6 90.1h0M757.7 109.7h0M768.4 92.5h0M744.6 84.0h0M764.2 72.2h0M716.4 114.9h0M731.1 74.4h0M734.8 74.2h0M735.3 82.9h0M751.6 103.5h0M734.9 46.5h0M711.0 126.6h0M741.6 55.5h0M743.8 72.8h0M758.0 85.1h0M722.7 47.5h0M728.7 101.4h0M774.0 102.9h0M745.3 114.9h0M748.7 82.4h0M758.1 90.7h0M722.9 84.0h0M764.0 88.9h0M744.0 115.1h0M736.8 50.0h0M719.2 108.3h0M759.9 109.5h0M714.5 83.4h0M769.4 105.9h0M720.1 98.3h0M764.1 103.8h0M757.1 65.2h0M733.0 119.1h0M726.9 95.9h0M750.3 59.5h0M731.0 50.6h0M746.5 98.5h0M784.8 103.7h0M758.8 74.0h0M750.1 87.5h0M782.9 105.2h0M720.1 100.6h0M751.2 97.1h0M712.6 113.0h0M759.5 75.4h0M758.1 96.0h0M727.4 112.9h0M754.4 91.6h0M715.4 105.1h0M770.6 85.8h0M725.7 42.3h0M737.0 93.3h0M711.8 96.8h0M731.0 94.4h0M735.9 51.6h0M731.3 61.4h0M721.6 91.2h0M781.8 98.6h0M729.1 63.2h0M790.0 102.5h0M762.6 94.7h0M719.7 114.5h0M733.0 107.9h0M705.2 121.1h0M712.8 112.2h0M742.8 81.5h0M710.8 126.6h0M731.7 44.6h0M742.6 92.3h0M765.8 100.0h0M720.7 124.1h0M731.0 67.2h0M738.1 86.5h0M725.2 69.8h0M767.8 105.5h0M725.5 95.8h0M725.3 66.0h0M760.8 94.6h0M708.4 113.4h0M735.1 69.2h0M710.9 111.3h0M721.2 62.7h0M744.9 94.5h0M740.8 105.0h0M778.4 97.9h0M732.6 96.9h0M769.2 85.4h0M737.5 59.8h0M719.9 61.4h0M732.3 81.4h0M757.8 89.3h0M735.1 101.9h0M730.1 55.2h0" stroke="#dadada" stroke-width="1.3" stroke-linecap="round" opacity="0.85"/>
<path d="M765.3 84.1h0M729.8 110.1h0M735.2 64.5h0M735.0 60.2h0M732.9 70.2h0M722.6 96.0h0M726.1 100.5h0M720.0 109.7h0M769.6 81.7h0M744.7 105.6h0M772.8 102.3h0M785.5 95.3h0M786.2 98.6h0M728.7 52.4h0M761.8 110.9h0M758.2 86.5h0M770.1 99.1h0M729.4 105.3h0M774.1 90.5h0M768.0 87.2h0M720.2 92.7h0M708.1 108.1h0M741.3 68.2h0M718.6 75.6h0M739.4 76.6h0M736.6 64.7h0M765.9 95.0h0M755.6 109.8h0M775.5 98.8h0M779.5 90.1h0M705.8 112.3h0M716.7 76.1h0M742.2 67.2h0M773.3 91.3h0M728.3 51.8h0M752.8 100.2h0M711.0 115.6h0M718.1 78.9h0M733.3 86.7h0M729.1 34.6h0M743.7 103.2h0M730.6 96.7h0M734.9 80.0h0M724.9 36.5h0M766.0 83.7h0M762.8 99.8h0M731.0 66.7h0M732.6 64.8h0M709.0 109.6h0M734.8 99.4h0M704.0 121.0h0M752.0 104.7h0M763.5 95.8h0M731.6 84.7h0M748.6 106.1h0M775.2 107.2h0M759.3 73.1h0M755.7 87.6h0M743.9 90.2h0M726.6 95.8h0M726.1 39.4h0M772.5 96.4h0M720.4 55.1h0M736.3 57.9h0M748.9 59.9h0M732.5 47.6h0M728.9 45.2h0M736.1 43.7h0M727.6 39.2h0M784.9 106.6h0M723.1 107.8h0M740.5 53.2h0M713.0 86.6h0M741.3 66.8h0M727.3 36.5h0M727.5 93.7h0M713.6 93.8h0M724.7 82.1h0M710.0 95.0h0M787.3 95.7h0M719.4 78.4h0M713.5 83.8h0M751.1 59.5h0M740.6 90.4h0M734.0 51.6h0M719.5 99.3h0M738.1 96.7h0M765.1 111.2h0M724.4 110.2h0M717.9 84.3h0M738.7 45.7h0M729.4 106.9h0M733.4 73.9h0M762.0 71.2h0M759.2 102.7h0M749.6 86.8h0M750.4 67.2h0M743.9 63.6h0M728.4 110.5h0M766.0 73.2h0M767.4 88.2h0M727.3 112.6h0M765.4 96.7h0M748.9 94.4h0M743.2 72.1h0M726.1 33.5h0" stroke="#f2b8a8" stroke-width="1.3" stroke-linecap="round" opacity="0.85"/>
<path d="M740.1 43.7h0M730.8 38.6h0M774.5 94.2h0M766.2 86.5h0M747.1 62.4h0M750.0 58.7h0M768.7 87.2h0M735.2 46.0h0M725.4 27.1h0M751.9 50.5h0M729.7 39.3h0M753.6 57.9h0M744.3 61.9h0M731.8 59.2h0M743.2 54.5h0M746.8 67.8h0M746.7 63.9h0M727.8 34.7h0M746.9 63.1h0M768.6 79.3h0M753.1 62.8h0M740.9 55.3h0M729.9 37.6h0M756.2 63.2h0M750.0 69.5h0M755.0 64.8h0M752.5 60.0h0M747.7 71.7h0M758.3 69.9h0M753.6 65.9h0" stroke="#e07058" stroke-width="1.3" stroke-linecap="round" opacity="0.85"/>
<path d="M769.8 84.1h0M732.5 45.0h0M770.5 90.7h0M768.7 82.6h0M765.7 76.7h0M749.6 62.5h0M777.7 98.1h0M728.1 37.3h0M754.4 72.2h0M759.2 73.6h0M747.2 63.9h0M739.3 48.8h0M742.2 45.3h0M737.9 47.6h0M753.8 64.2h0M756.9 61.8h0M770.8 74.8h0M726.6 35.3h0M741.0 46.7h0M753.1 64.9h0M749.6 63.1h0M749.3 64.1h0M760.5 69.6h0M744.1 59.1h0M746.5 62.4h0M756.0 67.3h0M774.3 89.4h0M752.0 74.4h0M773.9 90.7h0M734.1 46.0h0M756.8 77.4h0M746.8 59.1h0M748.0 64.2h0M732.9 42.0h0M735.6 37.3h0M735.8 45.6h0M750.7 68.8h0M766.5 82.0h0M768.5 75.7h0M744.2 60.8h0M746.3 57.4h0M734.4 55.5h0M725.1 40.1h0M722.4 47.4h0M756.3 65.6h0M734.8 47.5h0M738.3 44.7h0M734.0 44.6h0M776.2 95.1h0M738.2 48.0h0M770.0 87.5h0M775.3 82.4h0M764.3 68.5h0M757.1 62.2h0M762.2 79.3h0M774.7 81.3h0M756.8 76.5h0M754.5 73.0h0M745.9 60.8h0M754.0 71.1h0M776.5 90.5h0M742.9 61.5h0M756.7 75.7h0M740.2 51.8h0M782.4 93.6h0M782.0 90.8h0M740.5 57.6h0M762.1 77.3h0M760.5 74.0h0M766.2 75.7h0M731.1 37.6h0M765.1 88.3h0M773.2 88.6h0M746.3 54.6h0M772.6 84.4h0M732.9 45.4h0M734.2 44.6h0M761.8 75.5h0M742.0 62.4h0M727.3 34.4h0M735.8 50.8h0M781.7 93.1h0M731.9 42.4h0M768.6 86.6h0M727.4 32.1h0M773.4 83.6h0M763.7 72.6h0M735.5 49.0h0M766.9 81.6h0M728.9 47.8h0M750.9 63.1h0M750.7 64.3h0M753.2 66.5h0M747.3 58.3h0M734.6 49.5h0M749.1 56.1h0M761.4 76.7h0M777.1 88.4h0M752.5 65.3h0M750.4 58.6h0M735.5 56.7h0M737.6 43.8h0M734.6 56.2h0M751.3 57.6h0M769.0 90.5h0M766.5 76.1h0M730.7 42.0h0M740.0 45.8h0M756.4 70.7h0M732.2 39.0h0M736.0 55.7h0M742.2 56.4h0M737.5 47.5h0M752.7 67.2h0M731.6 44.7h0M771.4 82.7h0M731.1 39.7h0M744.2 62.5h0M750.5 55.4h0M733.3 34.7h0M782.9 88.9h0M755.2 76.3h0M775.3 97.6h0M775.1 86.7h0M731.5 39.5h0M732.7 44.5h0M737.9 65.3h0M756.8 70.2h0M758.0 72.5h0M773.6 87.7h0M751.8 59.1h0M749.8 71.0h0M767.0 76.6h0M730.2 40.0h0M759.6 80.4h0M777.6 85.2h0M751.1 66.9h0M741.2 50.4h0M751.3 59.1h0M730.9 41.0h0M762.7 74.7h0M769.8 80.6h0M756.2 66.4h0M767.8 83.2h0M773.5 92.5h0M729.5 42.7h0M750.0 55.9h0M753.1 64.7h0M746.2 56.8h0M744.7 50.8h0M753.8 70.7h0M766.9 59.6h0M755.9 57.6h0M753.4 66.6h0M751.6 71.2h0M750.0 73.9h0M760.3 68.0h0M757.8 75.4h0M754.9 86.2h0M760.3 65.9h0M753.1 73.1h0M742.6 71.8h0M742.6 85.0h0M751.1 78.0h0M758.8 64.9h0M749.5 70.9h0M750.4 73.4h0M751.2 74.7h0M753.3 60.6h0M751.0 82.3h0M750.6 68.6h0M748.4 65.6h0M753.0 68.1h0M755.0 81.4h0M747.8 82.8h0M759.0 59.4h0M748.1 83.1h0M748.9 81.1h0M747.4 70.6h0M755.2 63.6h0M745.1 65.9h0M750.6 60.7h0M748.9 64.1h0M755.6 76.3h0M756.1 56.7h0" stroke="#c0403a" stroke-width="1.3" stroke-linecap="round" opacity="0.85"/>
<path d="M765.9 77.5h0M779.7 91.1h0M757.5 69.8h0M727.2 39.6h0M773.7 85.9h0M738.7 52.6h0M778.7 88.8h0M775.3 96.3h0M768.2 82.3h0M768.4 80.9h0M769.9 85.9h0M746.5 48.6h0M787.8 96.4h0M748.1 54.0h0M769.8 88.2h0M764.4 81.9h0M766.5 83.0h0M759.5 72.7h0M770.7 77.2h0M751.8 66.0h0M781.5 95.1h0M773.1 85.1h0M740.9 54.2h0M743.5 59.4h0M733.9 40.1h0M782.9 87.9h0M746.9 56.5h0M757.4 70.2h0M777.8 91.4h0M782.8 96.8h0M750.9 58.6h0M762.3 82.3h0M784.9 98.5h0M781.5 101.1h0M774.6 96.3h0M758.7 76.6h0M778.3 92.4h0M760.4 69.9h0M777.8 89.9h0M780.8 96.0h0M772.5 82.6h0M774.5 82.6h0M759.4 70.9h0M779.1 93.5h0M734.9 48.0h0M770.5 92.2h0M773.9 96.6h0M787.9 99.9h0M782.5 90.6h0M780.9 87.1h0M774.1 83.3h0M762.9 85.6h0M780.9 93.6h0M787.4 100.2h0M774.9 87.8h0M787.1 95.8h0M734.9 47.2h0M765.3 78.7h0M780.6 97.0h0M746.4 66.1h0M749.7 54.8h0M746.4 60.4h0M746.9 56.0h0M724.1 36.8h0M783.9 95.6h0M761.9 70.6h0M760.5 67.1h0M765.9 79.1h0M738.2 47.6h0M762.0 69.5h0M776.5 90.4h0M779.7 93.9h0M777.7 97.4h0M742.8 55.5h0M764.1 83.0h0M768.4 91.9h0M760.4 71.4h0M740.7 61.9h0M769.8 87.7h0M780.6 96.7h0M775.0 87.3h0M756.3 69.3h0M753.4 63.2h0M783.5 100.4h0M764.5 69.6h0M773.1 99.8h0M743.0 79.9h0M757.4 64.9h0M754.9 72.0h0M750.5 64.0h0M751.4 75.2h0M752.8 74.2h0M756.3 66.7h0M745.3 62.7h0M753.7 92.2h0M751.9 66.1h0M759.4 72.7h0M751.7 59.5h0M758.6 70.0h0M752.5 69.6h0M750.7 62.9h0M757.7 80.3h0M747.3 79.5h0M753.7 76.7h0M749.4 81.7h0M748.0 98.6h0M743.1 75.6h0M755.6 81.4h0M754.6 68.1h0" stroke="#842024" stroke-width="1.3" stroke-linecap="round" opacity="0.85"/>
</g>
<circle cx="726.2" cy="30.2" r="3.3" fill="#1a1a1a"/>
<text x="726.2" y="30.4" font-size="4" text-anchor="middle" dominant-baseline="central" fill="#fff" font-weight="bold">3</text>
<circle cx="796.3" cy="103.5" r="3.3" fill="#1a1a1a"/>
<text x="796.3" y="103.7" font-size="4" text-anchor="middle" dominant-baseline="central" fill="#fff" font-weight="bold">1</text>
<circle cx="698.5" cy="130.5" r="3.3" fill="#1a1a1a"/>
<text x="698.5" y="130.7" font-size="4" text-anchor="middle" dominant-baseline="central" fill="#fff" font-weight="bold">2</text>
<defs><linearGradient id="gR" x1="0" x2="1"><stop offset="0" stop-color="#fff5f0"/><stop offset="0.3" stop-color="#fcaf93"/><stop offset="0.6" stop-color="#e32f27"/><stop offset="1" stop-color="#5f0a12"/></linearGradient></defs>
<text x="411.0" y="151.5" font-size="8.8" text-anchor="middle" fill="#222" stroke="#222" stroke-width="0.32" dominant-baseline="central">Density</text>
<rect x="375.5" y="156.5" width="76.5" height="11" fill="url(#gR)" stroke="#222" stroke-width="0.7"/>
<text x="377.0" y="173.0" font-size="7.8" text-anchor="middle" fill="#222" stroke="#222" stroke-width="0.32" dominant-baseline="central">0.0</text>
<text x="406.5" y="173.0" font-size="7.8" text-anchor="middle" fill="#222" stroke="#222" stroke-width="0.32" dominant-baseline="central">0.4</text>
<text x="437.6" y="173.0" font-size="7.8" text-anchor="middle" fill="#222" stroke="#222" stroke-width="0.32" dominant-baseline="central">0.8</text>
<text x="12.4" y="177.0" font-size="11" text-anchor="middle" font-weight="bold" fill="#111" stroke="#111" stroke-width="0.32" dominant-baseline="central">B</text>
<text x="26.8" y="253.1" font-size="11.5" text-anchor="middle" fill="#555" stroke="#555" stroke-width="0.32" dominant-baseline="central" transform="rotate(-90 26.8 253.05)">Archetype usage</text>
<text x="47.5" y="301.5" font-size="8.5" text-anchor="end" fill="#444" stroke="#444" stroke-width="0.32" dominant-baseline="central">0.0</text>
<text x="47.5" y="282.1" font-size="8.5" text-anchor="end" fill="#444" stroke="#444" stroke-width="0.32" dominant-baseline="central">0.2</text>
<text x="47.5" y="262.7" font-size="8.5" text-anchor="end" fill="#444" stroke="#444" stroke-width="0.32" dominant-baseline="central">0.4</text>
<text x="47.5" y="243.4" font-size="8.5" text-anchor="end" fill="#444" stroke="#444" stroke-width="0.32" dominant-baseline="central">0.6</text>
<text x="47.5" y="224.0" font-size="8.5" text-anchor="end" fill="#444" stroke="#444" stroke-width="0.32" dominant-baseline="central">0.8</text>
<text x="47.5" y="204.6" font-size="8.5" text-anchor="end" fill="#444" stroke="#444" stroke-width="0.32" dominant-baseline="central">1.0</text>
<path d="M67.4 301.5 L67.5 299.9 L67.7 298.2 L67.8 296.6 L68.0 294.9 L68.1 293.3 L68.2 291.6 L68.3 290.0 L68.3 288.4 L68.3 286.7 L68.2 285.1 L68.2 283.4 L68.1 281.8 L68.0 280.1 L68.0 278.5 L67.9 276.9 L67.8 275.2 L67.8 273.6 L67.7 271.9 L67.7 270.3 L67.6 268.7 L67.6 267.0 L67.5 265.4 L67.5 263.7 L67.4 262.1 L67.4 260.4 L67.3 258.8 L67.3 257.2 L67.2 255.5 L67.1 253.9 L66.9 252.2 L66.8 250.6 L66.6 248.9 L66.4 247.3 L66.2 245.7 L66.0 244.0 L65.7 242.4 L65.5 240.7 L65.3 239.1 L65.1 237.4 L64.8 235.8 L64.6 234.2 L64.4 232.5 L64.2 230.9 L63.9 229.2 L63.7 227.6 L63.5 226.0 L63.3 224.3 L63.1 222.7 L63.0 221.0 L62.8 219.4 L62.7 217.7 L62.6 216.1 L62.4 214.5 L62.3 212.8 L62.1 211.2 L62.0 209.5 L61.9 207.9 L61.8 206.2 L61.6 204.6 L60.8 204.6 L60.6 206.2 L60.5 207.9 L60.4 209.5 L60.3 211.2 L60.1 212.8 L60.0 214.5 L59.8 216.1 L59.7 217.7 L59.6 219.4 L59.4 221.0 L59.3 222.7 L59.1 224.3 L58.9 226.0 L58.7 227.6 L58.5 229.2 L58.2 230.9 L58.0 232.5 L57.8 234.2 L57.6 235.8 L57.3 237.4 L57.1 239.1 L56.9 240.7 L56.7 242.4 L56.4 244.0 L56.2 245.7 L56.0 247.3 L55.8 248.9 L55.6 250.6 L55.5 252.2 L55.3 253.9 L55.2 255.5 L55.1 257.2 L55.1 258.8 L55.0 260.4 L55.0 262.1 L54.9 263.7 L54.9 265.4 L54.8 267.0 L54.8 268.7 L54.7 270.3 L54.7 271.9 L54.6 273.6 L54.6 275.2 L54.5 276.9 L54.4 278.5 L54.4 280.1 L54.3 281.8 L54.2 283.4 L54.2 285.1 L54.1 286.7 L54.1 288.4 L54.1 290.0 L54.2 291.6 L54.3 293.3 L54.4 294.9 L54.6 296.6 L54.7 298.2 L54.9 299.9 L55.0 301.5Z" fill="#d8e8ee" stroke="#a4b8c4" stroke-width="1.5" stroke-linejoin="round" stroke-opacity="0.85"/>
<path d="M86.1 301.5 L86.1 299.9 L86.2 298.2 L86.3 296.6 L86.4 294.9 L86.4 293.3 L86.5 291.6 L86.5 290.0 L86.5 288.4 L86.4 286.7 L86.3 285.1 L86.2 283.4 L85.9 281.8 L85.7 280.1 L85.5 278.5 L85.2 276.9 L84.9 275.2 L84.7 273.6 L84.4 271.9 L84.2 270.3 L83.9 268.7 L83.6 267.0 L83.4 265.4 L83.1 263.7 L82.9 262.1 L82.7 260.4 L82.4 258.8 L82.2 257.2 L82.1 255.5 L81.9 253.9 L81.7 252.2 L81.6 250.6 L81.5 248.9 L81.3 247.3 L81.2 245.7 L81.1 244.0 L81.0 242.4 L80.9 240.7 L80.8 239.1 L80.7 237.4 L80.6 235.8 L80.5 234.2 L80.4 232.5 L80.4 230.9 L80.3 229.2 L80.2 227.6 L80.1 226.0 L80.0 224.3 L80.0 222.7 L79.9 221.0 L79.8 219.4 L79.8 217.7 L79.7 216.1 L79.7 214.5 L79.6 212.8 L79.5 211.2 L79.5 209.5 L79.4 207.9 L79.4 206.2 L79.4 204.6 L78.6 204.6 L78.6 206.2 L78.6 207.9 L78.5 209.5 L78.5 211.2 L78.4 212.8 L78.3 214.5 L78.3 216.1 L78.2 217.7 L78.2 219.4 L78.1 221.0 L78.0 222.7 L78.0 224.3 L77.9 226.0 L77.8 227.6 L77.7 229.2 L77.6 230.9 L77.6 232.5 L77.5 234.2 L77.4 235.8 L77.3 237.4 L77.2 239.1 L77.1 240.7 L77.0 242.4 L76.9 244.0 L76.8 245.7 L76.7 247.3 L76.5 248.9 L76.4 250.6 L76.3 252.2 L76.1 253.9 L75.9 255.5 L75.8 257.2 L75.6 258.8 L75.3 260.4 L75.1 262.1 L74.9 263.7 L74.6 265.4 L74.4 267.0 L74.1 268.7 L73.8 270.3 L73.6 271.9 L73.3 273.6 L73.1 275.2 L72.8 276.9 L72.5 278.5 L72.3 280.1 L72.1 281.8 L71.8 283.4 L71.7 285.1 L71.6 286.7 L71.5 288.4 L71.5 290.0 L71.5 291.6 L71.6 293.3 L71.6 294.9 L71.7 296.6 L71.8 298.2 L71.9 299.9 L71.9 301.5Z" fill="#e0eed2" stroke="#aabc94" stroke-width="1.5" stroke-linejoin="round" stroke-opacity="0.85"/>
<path d="M105.1 301.5 L105.3 299.9 L105.6 298.4 L105.8 296.8 L106.1 295.3 L106.4 293.7 L106.7 292.1 L106.9 290.6 L107.1 289.0 L107.2 287.5 L107.2 285.9 L107.1 284.3 L107.0 282.8 L106.8 281.2 L106.5 279.7 L106.3 278.1 L106.0 276.5 L105.7 275.0 L105.3 273.4 L105.0 271.9 L104.6 270.3 L104.2 268.7 L103.8 267.2 L103.4 265.6 L103.0 264.1 L102.6 262.5 L102.2 260.9 L101.9 259.4 L101.6 257.8 L101.3 256.3 L101.1 254.7 L100.8 253.1 L100.7 251.6 L100.5 250.0 L100.3 248.5 L100.2 246.9 L100.1 245.3 L100.0 243.8 L99.9 242.2 L99.8 240.7 L99.8 239.1 L99.7 237.5 L99.7 236.0 L99.7 234.4 L99.7 232.8 L99.6 231.3 L99.6 229.7 L99.6 228.2 L99.6 226.6 L99.6 225.0 L99.5 223.5 L99.5 221.9 L99.5 220.4 L99.5 218.8 L99.5 217.2 L99.4 215.7 L99.4 214.1 L99.4 212.6 L99.4 211.0 L99.2 209.4 L98.4 209.4 L98.2 211.0 L98.2 212.6 L98.2 214.1 L98.2 215.7 L98.1 217.2 L98.1 218.8 L98.1 220.4 L98.1 221.9 L98.1 223.5 L98.0 225.0 L98.0 226.6 L98.0 228.2 L98.0 229.7 L98.0 231.3 L97.9 232.8 L97.9 234.4 L97.9 236.0 L97.9 237.5 L97.8 239.1 L97.8 240.7 L97.7 242.2 L97.6 243.8 L97.5 245.3 L97.4 246.9 L97.3 248.5 L97.1 250.0 L96.9 251.6 L96.8 253.1 L96.5 254.7 L96.3 256.3 L96.0 257.8 L95.7 259.4 L95.4 260.9 L95.0 262.5 L94.6 264.1 L94.2 265.6 L93.8 267.2 L93.4 268.7 L93.0 270.3 L92.6 271.9 L92.3 273.4 L91.9 275.0 L91.6 276.5 L91.3 278.1 L91.1 279.7 L90.8 281.2 L90.6 282.8 L90.5 284.3 L90.4 285.9 L90.4 287.5 L90.5 289.0 L90.7 290.6 L90.9 292.1 L91.2 293.7 L91.5 295.3 L91.8 296.8 L92.0 298.4 L92.3 299.9 L92.5 301.5Z" fill="#d8e8ee" stroke="#a4b8c4" stroke-width="1.5" stroke-linejoin="round" stroke-opacity="0.85"/>
<path d="M122.7 301.5 L122.8 299.9 L123.0 298.4 L123.2 296.8 L123.5 295.3 L123.7 293.7 L124.0 292.1 L124.2 290.6 L124.3 289.0 L124.4 287.5 L124.4 285.9 L124.3 284.3 L124.2 282.8 L124.1 281.2 L123.9 279.7 L123.7 278.1 L123.4 276.5 L123.2 275.0 L122.9 273.4 L122.6 271.9 L122.3 270.3 L122.0 268.7 L121.6 267.2 L121.3 265.6 L120.9 264.1 L120.5 262.5 L120.2 260.9 L119.9 259.4 L119.6 257.8 L119.3 256.3 L119.1 254.7 L118.8 253.1 L118.6 251.6 L118.4 250.0 L118.3 248.5 L118.1 246.9 L117.9 245.3 L117.8 243.8 L117.7 242.2 L117.6 240.7 L117.6 239.1 L117.5 237.5 L117.5 236.0 L117.4 234.4 L117.4 232.8 L117.4 231.3 L117.4 229.7 L117.3 228.2 L117.3 226.6 L117.3 225.0 L117.2 223.5 L117.2 221.9 L117.2 220.4 L117.2 218.8 L117.1 217.2 L117.1 215.7 L117.1 214.1 L117.0 212.6 L117.0 211.0 L116.8 209.4 L116.0 209.4 L115.8 211.0 L115.8 212.6 L115.7 214.1 L115.7 215.7 L115.7 217.2 L115.6 218.8 L115.6 220.4 L115.6 221.9 L115.6 223.5 L115.5 225.0 L115.5 226.6 L115.5 228.2 L115.4 229.7 L115.4 231.3 L115.4 232.8 L115.4 234.4 L115.3 236.0 L115.3 237.5 L115.2 239.1 L115.2 240.7 L115.1 242.2 L115.0 243.8 L114.9 245.3 L114.7 246.9 L114.5 248.5 L114.4 250.0 L114.2 251.6 L114.0 253.1 L113.7 254.7 L113.5 256.3 L113.2 257.8 L112.9 259.4 L112.6 260.9 L112.3 262.5 L111.9 264.1 L111.5 265.6 L111.2 267.2 L110.8 268.7 L110.5 270.3 L110.2 271.9 L109.9 273.4 L109.6 275.0 L109.4 276.5 L109.1 278.1 L108.9 279.7 L108.7 281.2 L108.6 282.8 L108.5 284.3 L108.4 285.9 L108.4 287.5 L108.5 289.0 L108.6 290.6 L108.8 292.1 L109.1 293.7 L109.3 295.3 L109.6 296.8 L109.8 298.4 L110.0 299.9 L110.1 301.5Z" fill="#e0eed2" stroke="#aabc94" stroke-width="1.5" stroke-linejoin="round" stroke-opacity="0.85"/>
<path d="M142.6 301.5 L142.7 300.0 L142.9 298.5 L143.1 297.0 L143.2 295.5 L143.4 293.9 L143.6 292.4 L143.8 290.9 L143.9 289.4 L144.0 287.9 L144.1 286.4 L144.1 284.9 L144.1 283.4 L144.1 281.9 L144.0 280.3 L144.0 278.8 L143.9 277.3 L143.8 275.8 L143.7 274.3 L143.6 272.8 L143.5 271.3 L143.4 269.8 L143.2 268.3 L143.0 266.7 L142.8 265.2 L142.5 263.7 L142.3 262.2 L142.0 260.7 L141.7 259.2 L141.4 257.7 L141.0 256.2 L140.7 254.7 L140.4 253.1 L140.2 251.6 L139.9 250.1 L139.6 248.6 L139.4 247.1 L139.2 245.6 L139.0 244.1 L138.8 242.6 L138.7 241.1 L138.5 239.5 L138.4 238.0 L138.2 236.5 L138.0 235.0 L137.9 233.5 L137.8 232.0 L137.6 230.5 L137.5 229.0 L137.5 227.5 L137.4 226.0 L137.3 224.4 L137.3 222.9 L137.3 221.4 L137.2 219.9 L137.2 218.4 L137.2 216.9 L137.1 215.4 L137.1 213.9 L136.8 212.4 L136.0 212.4 L135.7 213.9 L135.7 215.4 L135.6 216.9 L135.6 218.4 L135.6 219.9 L135.5 221.4 L135.5 222.9 L135.5 224.4 L135.4 226.0 L135.3 227.5 L135.3 229.0 L135.2 230.5 L135.0 232.0 L134.9 233.5 L134.8 235.0 L134.6 236.5 L134.4 238.0 L134.3 239.5 L134.1 241.1 L134.0 242.6 L133.8 244.1 L133.6 245.6 L133.4 247.1 L133.2 248.6 L132.9 250.1 L132.6 251.6 L132.4 253.1 L132.1 254.7 L131.8 256.2 L131.4 257.7 L131.1 259.2 L130.8 260.7 L130.5 262.2 L130.3 263.7 L130.0 265.2 L129.8 266.7 L129.6 268.3 L129.4 269.8 L129.3 271.3 L129.2 272.8 L129.1 274.3 L129.0 275.8 L128.9 277.3 L128.8 278.8 L128.8 280.3 L128.7 281.9 L128.7 283.4 L128.7 284.9 L128.7 286.4 L128.8 287.9 L128.9 289.4 L129.0 290.9 L129.2 292.4 L129.4 293.9 L129.6 295.5 L129.7 297.0 L129.9 298.5 L130.1 300.0 L130.2 301.5Z" fill="#d8e8ee" stroke="#a4b8c4" stroke-width="1.5" stroke-linejoin="round" stroke-opacity="0.85"/>
<path d="M160.3 301.5 L160.4 299.9 L160.6 298.4 L160.8 296.8 L161.1 295.3 L161.3 293.7 L161.6 292.1 L161.8 290.6 L161.9 289.0 L162.0 287.5 L162.0 285.9 L162.0 284.3 L161.9 282.8 L161.7 281.2 L161.5 279.7 L161.4 278.1 L161.2 276.5 L161.0 275.0 L160.7 273.4 L160.5 271.9 L160.3 270.3 L160.1 268.7 L159.8 267.2 L159.5 265.6 L159.2 264.1 L158.9 262.5 L158.6 260.9 L158.3 259.4 L158.0 257.8 L157.7 256.3 L157.4 254.7 L157.2 253.1 L157.0 251.6 L156.8 250.0 L156.6 248.5 L156.4 246.9 L156.3 245.3 L156.1 243.8 L156.0 242.2 L155.9 240.7 L155.7 239.1 L155.6 237.5 L155.5 236.0 L155.4 234.4 L155.3 232.8 L155.2 231.3 L155.1 229.7 L155.1 228.2 L155.0 226.6 L155.0 225.0 L155.0 223.5 L154.9 221.9 L154.9 220.4 L154.8 218.8 L154.8 217.2 L154.8 215.7 L154.7 214.1 L154.7 212.6 L154.7 211.0 L154.4 209.4 L153.6 209.4 L153.3 211.0 L153.3 212.6 L153.3 214.1 L153.2 215.7 L153.2 217.2 L153.2 218.8 L153.1 220.4 L153.1 221.9 L153.0 223.5 L153.0 225.0 L153.0 226.6 L152.9 228.2 L152.9 229.7 L152.8 231.3 L152.7 232.8 L152.6 234.4 L152.5 236.0 L152.4 237.5 L152.3 239.1 L152.1 240.7 L152.0 242.2 L151.9 243.8 L151.7 245.3 L151.6 246.9 L151.4 248.5 L151.2 250.0 L151.0 251.6 L150.8 253.1 L150.6 254.7 L150.3 256.3 L150.0 257.8 L149.7 259.4 L149.4 260.9 L149.1 262.5 L148.8 264.1 L148.5 265.6 L148.2 267.2 L147.9 268.7 L147.7 270.3 L147.5 271.9 L147.3 273.4 L147.0 275.0 L146.8 276.5 L146.6 278.1 L146.5 279.7 L146.3 281.2 L146.1 282.8 L146.0 284.3 L146.0 285.9 L146.0 287.5 L146.1 289.0 L146.2 290.6 L146.4 292.1 L146.7 293.7 L146.9 295.3 L147.2 296.8 L147.4 298.4 L147.6 299.9 L147.7 301.5Z" fill="#e0eed2" stroke="#aabc94" stroke-width="1.5" stroke-linejoin="round" stroke-opacity="0.85"/>
<path d="M61.2 301.5V204.6" stroke="#1a1a1a" stroke-width="1.8"/>
<path d="M61.2 288.9V247.2" stroke="#4a6a80" stroke-width="2.6" opacity="0.55"/>
<circle cx="61.2" cy="265.6" r="1" fill="#222"/>
<path d="M79.0 301.5V204.6" stroke="#1a1a1a" stroke-width="1.8"/>
<path d="M79.0 291.8V246.3" stroke="#5a7040" stroke-width="2.6" opacity="0.55"/>
<circle cx="79.0" cy="271.5" r="1" fill="#222"/>
<rect x="97.0" y="209.4" width="3.6" height="27.1" rx="1.5" fill="#c8c8c8"/>
<path d="M98.8 301.5V236.6" stroke="#1a1a1a" stroke-width="1.8"/>
<path d="M98.8 292.8V270.5" stroke="#4a6a80" stroke-width="2.6" opacity="0.55"/>
<circle cx="98.8" cy="285.0" r="1" fill="#222"/>
<path d="M116.4 301.5V209.4" stroke="#1a1a1a" stroke-width="1.8"/>
<path d="M116.4 293.7V260.8" stroke="#5a7040" stroke-width="2.6" opacity="0.55"/>
<circle cx="116.4" cy="283.1" r="1" fill="#222"/>
<path d="M136.4 301.5V212.4" stroke="#1a1a1a" stroke-width="1.8"/>
<path d="M136.4 294.7V251.1" stroke="#4a6a80" stroke-width="2.6" opacity="0.55"/>
<circle cx="136.4" cy="278.2" r="1" fill="#222"/>
<path d="M154.0 301.5V209.4" stroke="#1a1a1a" stroke-width="1.8"/>
<path d="M154.0 294.7V255.0" stroke="#5a7040" stroke-width="2.6" opacity="0.55"/>
<circle cx="154.0" cy="280.2" r="1" fill="#222"/>
<path d="M52.2 203.6V301.5H163" fill="none" stroke="#222" stroke-width="1.4"/>
<text x="73.0" y="307.5" font-size="9" text-anchor="middle" fill="#333" stroke="#333" stroke-width="0.32" dominant-baseline="central">type1</text>
<text x="110.0" y="307.5" font-size="9" text-anchor="middle" fill="#333" stroke="#333" stroke-width="0.32" dominant-baseline="central">type2</text>
<text x="145.0" y="307.5" font-size="9" text-anchor="middle" fill="#333" stroke="#333" stroke-width="0.32" dominant-baseline="central">type3</text>
<rect x="72.5" y="321.0" width="3.5" height="5" fill="#d8d8d8"/>
<text x="77.0" y="323.5" font-size="8.3" text-anchor="start" fill="#222" stroke="#222" stroke-width="0.3" dominant-baseline="central">healthy</text>
<rect x="122.5" y="321.0" width="3.5" height="5" fill="#e0e8d0"/>
<text x="127.0" y="323.5" font-size="8.3" text-anchor="start" fill="#222" stroke="#222" stroke-width="0.3" dominant-baseline="central">T2D</text>
<text x="197.5" y="252.4" font-size="11.5" text-anchor="middle" fill="#555" stroke="#555" stroke-width="0.32" dominant-baseline="central" transform="rotate(-90 197.5 252.35000000000002)">Archetype usage</text>
<text x="216.4" y="301.6" font-size="8.5" text-anchor="end" fill="#444" stroke="#444" stroke-width="0.32" dominant-baseline="central">0.0</text>
<text x="216.4" y="281.9" font-size="8.5" text-anchor="end" fill="#444" stroke="#444" stroke-width="0.32" dominant-baseline="central">0.2</text>
<text x="216.4" y="262.2" font-size="8.5" text-anchor="end" fill="#444" stroke="#444" stroke-width="0.32" dominant-baseline="central">0.4</text>
<text x="216.4" y="242.5" font-size="8.5" text-anchor="end" fill="#444" stroke="#444" stroke-width="0.32" dominant-baseline="central">0.6</text>
<text x="216.4" y="222.8" font-size="8.5" text-anchor="end" fill="#444" stroke="#444" stroke-width="0.32" dominant-baseline="central">0.8</text>
<text x="216.4" y="203.1" font-size="8.5" text-anchor="end" fill="#444" stroke="#444" stroke-width="0.32" dominant-baseline="central">1.0</text>
<path d="M234.1 301.6 L234.2 300.0 L234.3 298.4 L234.4 296.7 L234.5 295.1 L234.6 293.5 L234.6 291.9 L234.6 290.3 L234.6 288.6 L234.5 287.0 L234.5 285.4 L234.4 283.8 L234.3 282.2 L234.2 280.5 L234.2 278.9 L234.2 277.3 L234.2 275.7 L234.3 274.1 L234.4 272.5 L234.5 270.8 L234.7 269.2 L234.9 267.6 L235.0 266.0 L235.2 264.4 L235.3 262.7 L235.5 261.1 L235.6 259.5 L235.8 257.9 L235.9 256.3 L236.1 254.6 L236.2 253.0 L236.3 251.4 L236.4 249.8 L236.5 248.2 L236.5 246.5 L236.5 244.9 L236.5 243.3 L236.3 241.7 L236.1 240.1 L235.8 238.4 L235.5 236.8 L235.2 235.2 L234.8 233.6 L234.4 232.0 L234.0 230.3 L233.7 228.7 L233.3 227.1 L233.0 225.5 L232.6 223.9 L232.3 222.2 L232.0 220.6 L231.6 219.0 L231.3 217.4 L231.0 215.8 L230.7 214.2 L230.4 212.5 L230.1 210.9 L229.9 209.3 L229.6 207.7 L228.8 206.1 L228.0 206.1 L227.2 207.7 L226.9 209.3 L226.7 210.9 L226.4 212.5 L226.1 214.2 L225.8 215.8 L225.5 217.4 L225.2 219.0 L224.8 220.6 L224.5 222.2 L224.2 223.9 L223.8 225.5 L223.5 227.1 L223.1 228.7 L222.8 230.3 L222.4 232.0 L222.0 233.6 L221.6 235.2 L221.3 236.8 L221.0 238.4 L220.7 240.1 L220.5 241.7 L220.3 243.3 L220.3 244.9 L220.3 246.5 L220.3 248.2 L220.4 249.8 L220.5 251.4 L220.6 253.0 L220.7 254.6 L220.9 256.3 L221.0 257.9 L221.2 259.5 L221.3 261.1 L221.5 262.7 L221.6 264.4 L221.8 266.0 L221.9 267.6 L222.1 269.2 L222.3 270.8 L222.4 272.5 L222.5 274.1 L222.6 275.7 L222.6 277.3 L222.6 278.9 L222.6 280.5 L222.5 282.2 L222.4 283.8 L222.3 285.4 L222.3 287.0 L222.2 288.6 L222.2 290.3 L222.2 291.9 L222.2 293.5 L222.3 295.1 L222.4 296.7 L222.5 298.4 L222.6 300.0 L222.7 301.6Z" fill="#d8e8ee" stroke="#a4b8c4" stroke-width="1.5" stroke-linejoin="round" stroke-opacity="0.85"/>
<path d="M254.1 301.6 L254.2 300.0 L254.2 298.5 L254.3 296.9 L254.4 295.3 L254.5 293.8 L254.6 292.2 L254.7 290.6 L254.7 289.0 L254.8 287.5 L254.8 285.9 L254.7 284.3 L254.6 282.8 L254.5 281.2 L254.4 279.6 L254.3 278.1 L254.2 276.5 L254.1 274.9 L254.0 273.4 L253.9 271.8 L253.7 270.2 L253.6 268.6 L253.5 267.1 L253.4 265.5 L253.3 263.9 L253.1 262.4 L253.0 260.8 L252.9 259.2 L252.8 257.7 L252.7 256.1 L252.5 254.5 L252.4 253.0 L252.3 251.4 L252.1 249.8 L252.0 248.2 L251.8 246.7 L251.7 245.1 L251.5 243.5 L251.3 242.0 L251.1 240.4 L250.9 238.8 L250.7 237.3 L250.5 235.7 L250.3 234.1 L250.1 232.5 L249.9 231.0 L249.7 229.4 L249.5 227.8 L249.3 226.3 L249.1 224.7 L248.9 223.1 L248.7 221.6 L248.5 220.0 L248.3 218.4 L248.1 216.9 L247.9 215.3 L247.7 213.7 L247.5 212.1 L247.4 210.6 L246.9 209.0 L246.1 209.0 L245.6 210.6 L245.5 212.1 L245.3 213.7 L245.1 215.3 L244.9 216.9 L244.7 218.4 L244.5 220.0 L244.3 221.6 L244.1 223.1 L243.9 224.7 L243.7 226.3 L243.5 227.8 L243.3 229.4 L243.1 231.0 L242.9 232.5 L242.7 234.1 L242.5 235.7 L242.3 237.3 L242.1 238.8 L241.9 240.4 L241.7 242.0 L241.5 243.5 L241.3 245.1 L241.2 246.7 L241.0 248.2 L240.9 249.8 L240.7 251.4 L240.6 253.0 L240.5 254.5 L240.3 256.1 L240.2 257.7 L240.1 259.2 L240.0 260.8 L239.9 262.4 L239.7 263.9 L239.6 265.5 L239.5 267.1 L239.4 268.6 L239.3 270.2 L239.1 271.8 L239.0 273.4 L238.9 274.9 L238.8 276.5 L238.7 278.1 L238.6 279.6 L238.5 281.2 L238.4 282.8 L238.3 284.3 L238.2 285.9 L238.2 287.5 L238.3 289.0 L238.3 290.6 L238.4 292.2 L238.5 293.8 L238.6 295.3 L238.7 296.9 L238.8 298.5 L238.8 300.0 L238.9 301.6Z" fill="#eac88a" stroke="#c4a060" stroke-width="1.5" stroke-linejoin="round" stroke-opacity="0.85"/>
<path d="M272.0 301.6 L272.1 300.0 L272.3 298.4 L272.4 296.8 L272.6 295.2 L272.8 293.6 L273.0 292.0 L273.2 290.4 L273.4 288.8 L273.6 287.2 L273.7 285.6 L273.7 284.0 L273.7 282.4 L273.6 280.8 L273.4 279.2 L273.2 277.6 L272.8 276.0 L272.5 274.4 L272.1 272.8 L271.8 271.1 L271.4 269.5 L271.0 267.9 L270.6 266.3 L270.2 264.7 L269.9 263.1 L269.5 261.5 L269.1 259.9 L268.7 258.3 L268.4 256.7 L268.1 255.1 L267.8 253.5 L267.6 251.9 L267.5 250.3 L267.3 248.7 L267.3 247.1 L267.2 245.5 L267.2 243.9 L267.2 242.3 L267.1 240.7 L267.1 239.1 L267.1 237.5 L267.1 235.9 L267.0 234.3 L267.0 232.7 L267.0 231.1 L267.0 229.5 L267.0 227.9 L266.9 226.3 L266.9 224.7 L266.9 223.1 L266.9 221.5 L266.8 219.9 L266.8 218.3 L266.8 216.7 L266.8 215.1 L266.7 213.5 L266.7 211.8 L266.7 210.2 L266.7 208.6 L266.2 207.0 L265.4 207.0 L264.9 208.6 L264.9 210.2 L264.9 211.8 L264.9 213.5 L264.8 215.1 L264.8 216.7 L264.8 218.3 L264.8 219.9 L264.7 221.5 L264.7 223.1 L264.7 224.7 L264.7 226.3 L264.6 227.9 L264.6 229.5 L264.6 231.1 L264.6 232.7 L264.6 234.3 L264.5 235.9 L264.5 237.5 L264.5 239.1 L264.5 240.7 L264.4 242.3 L264.4 243.9 L264.4 245.5 L264.3 247.1 L264.3 248.7 L264.1 250.3 L264.0 251.9 L263.8 253.5 L263.5 255.1 L263.2 256.7 L262.9 258.3 L262.5 259.9 L262.1 261.5 L261.7 263.1 L261.4 264.7 L261.0 266.3 L260.6 267.9 L260.2 269.5 L259.8 271.1 L259.5 272.8 L259.1 274.4 L258.8 276.0 L258.4 277.6 L258.2 279.2 L258.0 280.8 L257.9 282.4 L257.9 284.0 L257.9 285.6 L258.0 287.2 L258.2 288.8 L258.4 290.4 L258.6 292.0 L258.8 293.6 L259.0 295.2 L259.2 296.8 L259.3 298.4 L259.5 300.0 L259.6 301.6Z" fill="#d8e8ee" stroke="#a4b8c4" stroke-width="1.5" stroke-linejoin="round" stroke-opacity="0.85"/>
<path d="M289.8 301.6 L289.9 300.0 L290.1 298.4 L290.4 296.7 L290.6 295.1 L290.9 293.5 L291.1 291.9 L291.4 290.3 L291.6 288.6 L291.8 287.0 L291.9 285.4 L292.0 283.8 L292.0 282.2 L292.0 280.5 L291.8 278.9 L291.7 277.3 L291.5 275.7 L291.3 274.1 L291.1 272.5 L290.9 270.8 L290.7 269.2 L290.5 267.6 L290.2 266.0 L290.0 264.4 L289.7 262.7 L289.4 261.1 L289.1 259.5 L288.9 257.9 L288.6 256.3 L288.3 254.6 L288.0 253.0 L287.7 251.4 L287.5 249.8 L287.3 248.2 L287.0 246.5 L286.9 244.9 L286.7 243.3 L286.5 241.7 L286.4 240.1 L286.3 238.4 L286.1 236.8 L286.0 235.2 L285.9 233.6 L285.7 232.0 L285.6 230.3 L285.5 228.7 L285.4 227.1 L285.2 225.5 L285.1 223.9 L285.0 222.2 L284.9 220.6 L284.8 219.0 L284.7 217.4 L284.6 215.8 L284.5 214.2 L284.4 212.5 L284.3 210.9 L284.3 209.3 L284.2 207.7 L283.9 206.1 L283.1 206.1 L282.8 207.7 L282.7 209.3 L282.7 210.9 L282.6 212.5 L282.5 214.2 L282.4 215.8 L282.3 217.4 L282.2 219.0 L282.1 220.6 L282.0 222.2 L281.9 223.9 L281.8 225.5 L281.6 227.1 L281.5 228.7 L281.4 230.3 L281.3 232.0 L281.1 233.6 L281.0 235.2 L280.9 236.8 L280.7 238.4 L280.6 240.1 L280.5 241.7 L280.3 243.3 L280.1 244.9 L280.0 246.5 L279.7 248.2 L279.5 249.8 L279.3 251.4 L279.0 253.0 L278.7 254.6 L278.4 256.3 L278.1 257.9 L277.9 259.5 L277.6 261.1 L277.3 262.7 L277.0 264.4 L276.8 266.0 L276.5 267.6 L276.3 269.2 L276.1 270.8 L275.9 272.5 L275.7 274.1 L275.5 275.7 L275.3 277.3 L275.2 278.9 L275.0 280.5 L275.0 282.2 L275.0 283.8 L275.1 285.4 L275.2 287.0 L275.4 288.6 L275.6 290.3 L275.9 291.9 L276.1 293.5 L276.4 295.1 L276.6 296.7 L276.9 298.4 L277.1 300.0 L277.2 301.6Z" fill="#eac88a" stroke="#c4a060" stroke-width="1.5" stroke-linejoin="round" stroke-opacity="0.85"/>
<path d="M308.7 301.6 L308.9 300.0 L309.0 298.3 L309.2 296.7 L309.4 295.1 L309.7 293.4 L309.9 291.8 L310.1 290.1 L310.3 288.5 L310.5 286.9 L310.7 285.2 L310.8 283.6 L310.8 282.0 L310.8 280.3 L310.7 278.7 L310.5 277.1 L310.4 275.4 L310.1 273.8 L309.9 272.2 L309.7 270.5 L309.4 268.9 L309.2 267.2 L309.0 265.6 L308.7 264.0 L308.5 262.3 L308.2 260.7 L307.9 259.1 L307.6 257.4 L307.4 255.8 L307.1 254.2 L306.8 252.5 L306.5 250.9 L306.2 249.2 L305.9 247.6 L305.7 246.0 L305.4 244.3 L305.2 242.7 L305.0 241.1 L304.9 239.4 L304.7 237.8 L304.6 236.2 L304.5 234.5 L304.4 232.9 L304.3 231.2 L304.2 229.6 L304.1 228.0 L304.0 226.3 L303.9 224.7 L303.8 223.1 L303.7 221.4 L303.6 219.8 L303.5 218.2 L303.5 216.5 L303.4 214.9 L303.3 213.3 L303.2 211.6 L303.2 210.0 L303.1 208.3 L303.1 206.7 L302.9 205.1 L302.1 205.1 L301.9 206.7 L301.9 208.3 L301.8 210.0 L301.8 211.6 L301.7 213.3 L301.6 214.9 L301.5 216.5 L301.5 218.2 L301.4 219.8 L301.3 221.4 L301.2 223.1 L301.1 224.7 L301.0 226.3 L300.9 228.0 L300.8 229.6 L300.7 231.2 L300.6 232.9 L300.5 234.5 L300.4 236.2 L300.3 237.8 L300.1 239.4 L300.0 241.1 L299.8 242.7 L299.6 244.3 L299.3 246.0 L299.1 247.6 L298.8 249.2 L298.5 250.9 L298.2 252.5 L297.9 254.2 L297.6 255.8 L297.4 257.4 L297.1 259.1 L296.8 260.7 L296.5 262.3 L296.3 264.0 L296.0 265.6 L295.8 267.2 L295.6 268.9 L295.3 270.5 L295.1 272.2 L294.9 273.8 L294.6 275.4 L294.5 277.1 L294.3 278.7 L294.2 280.3 L294.2 282.0 L294.2 283.6 L294.3 285.2 L294.5 286.9 L294.7 288.5 L294.9 290.1 L295.1 291.8 L295.3 293.4 L295.6 295.1 L295.8 296.7 L296.0 298.3 L296.1 300.0 L296.3 301.6Z" fill="#d8e8ee" stroke="#a4b8c4" stroke-width="1.5" stroke-linejoin="round" stroke-opacity="0.85"/>
<path d="M326.8 301.6 L327.0 300.0 L327.1 298.3 L327.3 296.7 L327.5 295.1 L327.8 293.4 L328.0 291.8 L328.2 290.1 L328.4 288.5 L328.6 286.9 L328.8 285.2 L328.9 283.6 L329.0 282.0 L329.0 280.3 L329.0 278.7 L328.9 277.1 L328.8 275.4 L328.7 273.8 L328.5 272.2 L328.4 270.5 L328.2 268.9 L328.0 267.2 L327.9 265.6 L327.7 264.0 L327.5 262.3 L327.3 260.7 L327.1 259.1 L326.9 257.4 L326.6 255.8 L326.4 254.2 L326.1 252.5 L325.9 250.9 L325.6 249.2 L325.4 247.6 L325.1 246.0 L324.9 244.3 L324.7 242.7 L324.4 241.1 L324.2 239.4 L324.0 237.8 L323.8 236.2 L323.6 234.5 L323.4 232.9 L323.2 231.2 L323.0 229.6 L322.8 228.0 L322.6 226.3 L322.4 224.7 L322.2 223.1 L322.1 221.4 L322.0 219.8 L321.9 218.2 L321.8 216.5 L321.7 214.9 L321.6 213.3 L321.5 211.6 L321.4 210.0 L321.3 208.3 L321.2 206.7 L321.0 205.1 L320.2 205.1 L320.0 206.7 L319.9 208.3 L319.8 210.0 L319.7 211.6 L319.6 213.3 L319.5 214.9 L319.4 216.5 L319.3 218.2 L319.2 219.8 L319.1 221.4 L319.0 223.1 L318.8 224.7 L318.6 226.3 L318.4 228.0 L318.2 229.6 L318.0 231.2 L317.8 232.9 L317.6 234.5 L317.4 236.2 L317.2 237.8 L317.0 239.4 L316.8 241.1 L316.5 242.7 L316.3 244.3 L316.1 246.0 L315.8 247.6 L315.6 249.2 L315.3 250.9 L315.1 252.5 L314.8 254.2 L314.6 255.8 L314.3 257.4 L314.1 259.1 L313.9 260.7 L313.7 262.3 L313.5 264.0 L313.3 265.6 L313.2 267.2 L313.0 268.9 L312.8 270.5 L312.7 272.2 L312.5 273.8 L312.4 275.4 L312.3 277.1 L312.2 278.7 L312.2 280.3 L312.2 282.0 L312.3 283.6 L312.4 285.2 L312.6 286.9 L312.8 288.5 L313.0 290.1 L313.2 291.8 L313.4 293.4 L313.7 295.1 L313.9 296.7 L314.1 298.3 L314.2 300.0 L314.4 301.6Z" fill="#eac88a" stroke="#c4a060" stroke-width="1.5" stroke-linejoin="round" stroke-opacity="0.85"/>
<path d="M228.4 301.6V206.1" stroke="#1a1a1a" stroke-width="1.8"/>
<path d="M228.4 282.9V242.5" stroke="#4a6a80" stroke-width="2.6" opacity="0.55"/>
<circle cx="228.4" cy="258.3" r="1" fill="#222"/>
<path d="M246.5 301.6V209.0" stroke="#1a1a1a" stroke-width="1.8"/>
<path d="M246.5 293.7V250.4" stroke="#7a5a20" stroke-width="2.6" opacity="0.55"/>
<circle cx="246.5" cy="277.0" r="1" fill="#222"/>
<rect x="264.0" y="207.0" width="3.6" height="36.4" rx="1.5" fill="#c8c8c8"/>
<path d="M265.8 301.6V243.5" stroke="#1a1a1a" stroke-width="1.8"/>
<path d="M265.8 291.8V272.1" stroke="#4a6a80" stroke-width="2.6" opacity="0.55"/>
<circle cx="265.8" cy="282.9" r="1" fill="#222"/>
<path d="M283.5 301.6V206.1" stroke="#1a1a1a" stroke-width="1.8"/>
<path d="M283.5 291.8V245.5" stroke="#7a5a20" stroke-width="2.6" opacity="0.55"/>
<circle cx="283.5" cy="280.9" r="1" fill="#222"/>
<rect x="300.7" y="205.1" width="3.6" height="5.9" rx="1.5" fill="#c8c8c8"/>
<path d="M302.5 301.6V211.0" stroke="#1a1a1a" stroke-width="1.8"/>
<path d="M302.5 292.7V259.2" stroke="#4a6a80" stroke-width="2.6" opacity="0.55"/>
<circle cx="302.5" cy="280.9" r="1" fill="#222"/>
<path d="M320.6 301.6V205.1" stroke="#1a1a1a" stroke-width="1.8"/>
<path d="M320.6 290.8V252.4" stroke="#7a5a20" stroke-width="2.6" opacity="0.55"/>
<circle cx="320.6" cy="278.9" r="1" fill="#222"/>
<path d="M218.8 202.1V301.6H335.8" fill="none" stroke="#222" stroke-width="1.4"/>
<text x="237.0" y="307.6" font-size="9" text-anchor="middle" fill="#333" stroke="#333" stroke-width="0.32" dominant-baseline="central">type1</text>
<text x="275.0" y="307.6" font-size="9" text-anchor="middle" fill="#333" stroke="#333" stroke-width="0.32" dominant-baseline="central">type2</text>
<text x="312.4" y="307.6" font-size="9" text-anchor="middle" fill="#333" stroke="#333" stroke-width="0.32" dominant-baseline="central">type3</text>
<rect x="240" y="321.1" width="3.5" height="5" fill="#d8d8d8"/>
<text x="244.5" y="323.6" font-size="8.3" text-anchor="start" fill="#222" stroke="#222" stroke-width="0.3" dominant-baseline="central">healthy</text>
<rect x="284" y="321.1" width="3.5" height="5" fill="#c8b860"/>
<text x="288.5" y="323.6" font-size="8.3" text-anchor="start" fill="#222" stroke="#222" stroke-width="0.3" dominant-baseline="central">CRC</text>
<text x="243.6" y="198.1" font-size="8" text-anchor="middle" fill="#111" stroke="#111" stroke-width="0.2" dominant-baseline="central">p &lt; 0.001</text>
<text x="282.0" y="198.1" font-size="8" text-anchor="middle" fill="#111" stroke="#111" stroke-width="0.2" dominant-baseline="central">p = 0.023</text>
<text x="363.3" y="251.7" font-size="11.5" text-anchor="middle" fill="#555" stroke="#555" stroke-width="0.32" dominant-baseline="central" transform="rotate(-90 363.3 251.7)">Archetype usage</text>
<text x="381.4" y="302.0" font-size="8.5" text-anchor="end" fill="#444" stroke="#444" stroke-width="0.32" dominant-baseline="central">0.0</text>
<text x="381.4" y="281.9" font-size="8.5" text-anchor="end" fill="#444" stroke="#444" stroke-width="0.32" dominant-baseline="central">0.2</text>
<text x="381.4" y="261.8" font-size="8.5" text-anchor="end" fill="#444" stroke="#444" stroke-width="0.32" dominant-baseline="central">0.4</text>
<text x="381.4" y="241.6" font-size="8.5" text-anchor="end" fill="#444" stroke="#444" stroke-width="0.32" dominant-baseline="central">0.6</text>
<text x="381.4" y="221.5" font-size="8.5" text-anchor="end" fill="#444" stroke="#444" stroke-width="0.32" dominant-baseline="central">0.8</text>
<text x="381.4" y="201.4" font-size="8.5" text-anchor="end" fill="#444" stroke="#444" stroke-width="0.32" dominant-baseline="central">1.0</text>
<path d="M400.2 302.0 L400.3 300.3 L400.4 298.6 L400.5 296.9 L400.7 295.2 L400.8 293.5 L401.0 291.8 L401.1 290.1 L401.2 288.4 L401.3 286.7 L401.4 284.9 L401.4 283.2 L401.4 281.5 L401.4 279.8 L401.3 278.1 L401.3 276.4 L401.3 274.7 L401.2 273.0 L401.2 271.3 L401.2 269.6 L401.1 267.9 L401.1 266.2 L401.0 264.5 L400.9 262.8 L400.8 261.1 L400.7 259.4 L400.6 257.7 L400.4 256.0 L400.3 254.3 L400.1 252.6 L399.9 250.8 L399.7 249.1 L399.6 247.4 L399.4 245.7 L399.2 244.0 L399.0 242.3 L398.8 240.6 L398.6 238.9 L398.4 237.2 L398.2 235.5 L398.0 233.8 L397.8 232.1 L397.6 230.4 L397.4 228.7 L397.2 227.0 L396.9 225.3 L396.7 223.6 L396.5 221.9 L396.2 220.2 L396.0 218.5 L395.7 216.7 L395.4 215.0 L395.1 213.3 L394.9 211.6 L394.6 209.9 L394.3 208.2 L394.1 206.5 L393.9 204.8 L393.7 203.1 L393.4 201.4 L392.6 201.4 L392.3 203.1 L392.1 204.8 L391.9 206.5 L391.7 208.2 L391.4 209.9 L391.1 211.6 L390.9 213.3 L390.6 215.0 L390.3 216.7 L390.0 218.5 L389.8 220.2 L389.5 221.9 L389.3 223.6 L389.1 225.3 L388.8 227.0 L388.6 228.7 L388.4 230.4 L388.2 232.1 L388.0 233.8 L387.8 235.5 L387.6 237.2 L387.4 238.9 L387.2 240.6 L387.0 242.3 L386.8 244.0 L386.6 245.7 L386.4 247.4 L386.3 249.1 L386.1 250.8 L385.9 252.6 L385.7 254.3 L385.6 256.0 L385.4 257.7 L385.3 259.4 L385.2 261.1 L385.1 262.8 L385.0 264.5 L384.9 266.2 L384.9 267.9 L384.8 269.6 L384.8 271.3 L384.8 273.0 L384.7 274.7 L384.7 276.4 L384.7 278.1 L384.6 279.8 L384.6 281.5 L384.6 283.2 L384.6 284.9 L384.7 286.7 L384.8 288.4 L384.9 290.1 L385.0 291.8 L385.2 293.5 L385.3 295.2 L385.5 296.9 L385.6 298.6 L385.7 300.3 L385.8 302.0Z" fill="#d8e8ee" stroke="#a4b8c4" stroke-width="1.5" stroke-linejoin="round" stroke-opacity="0.85"/>
<path d="M417.9 302.0 L417.9 300.3 L418.0 298.7 L418.1 297.0 L418.1 295.3 L418.2 293.6 L418.3 292.0 L418.4 290.3 L418.5 288.6 L418.5 287.0 L418.6 285.3 L418.7 283.6 L418.7 281.9 L418.8 280.3 L418.8 278.6 L418.9 276.9 L418.9 275.3 L419.0 273.6 L419.0 271.9 L419.0 270.3 L419.1 268.6 L419.1 266.9 L419.1 265.2 L419.2 263.6 L419.2 261.9 L419.2 260.2 L419.2 258.6 L419.1 256.9 L419.0 255.2 L418.9 253.5 L418.8 251.9 L418.6 250.2 L418.5 248.5 L418.3 246.9 L418.1 245.2 L417.9 243.5 L417.7 241.8 L417.4 240.2 L417.1 238.5 L416.8 236.8 L416.5 235.2 L416.2 233.5 L415.8 231.8 L415.5 230.1 L415.2 228.5 L414.9 226.8 L414.6 225.1 L414.3 223.5 L414.0 221.8 L413.7 220.1 L413.5 218.5 L413.3 216.8 L413.1 215.1 L412.9 213.4 L412.7 211.8 L412.6 210.1 L412.4 208.4 L412.2 206.8 L412.1 205.1 L411.2 203.4 L410.4 203.4 L409.5 205.1 L409.4 206.8 L409.2 208.4 L409.0 210.1 L408.9 211.8 L408.7 213.4 L408.5 215.1 L408.3 216.8 L408.1 218.5 L407.9 220.1 L407.6 221.8 L407.3 223.5 L407.0 225.1 L406.7 226.8 L406.4 228.5 L406.1 230.1 L405.8 231.8 L405.4 233.5 L405.1 235.2 L404.8 236.8 L404.5 238.5 L404.2 240.2 L403.9 241.8 L403.7 243.5 L403.5 245.2 L403.3 246.9 L403.1 248.5 L403.0 250.2 L402.8 251.9 L402.7 253.5 L402.6 255.2 L402.5 256.9 L402.4 258.6 L402.4 260.2 L402.4 261.9 L402.4 263.6 L402.5 265.2 L402.5 266.9 L402.5 268.6 L402.6 270.3 L402.6 271.9 L402.6 273.6 L402.7 275.3 L402.7 276.9 L402.8 278.6 L402.8 280.3 L402.9 281.9 L402.9 283.6 L403.0 285.3 L403.1 287.0 L403.1 288.6 L403.2 290.3 L403.3 292.0 L403.4 293.6 L403.5 295.3 L403.5 297.0 L403.6 298.7 L403.7 300.3 L403.7 302.0Z" fill="#e89e94" stroke="#c47a70" stroke-width="1.5" stroke-linejoin="round" stroke-opacity="0.85"/>
<path d="M436.6 302.0 L436.7 300.4 L436.9 298.8 L437.1 297.1 L437.3 295.5 L437.5 293.9 L437.6 292.3 L437.8 290.7 L437.8 289.0 L437.9 287.4 L437.8 285.8 L437.6 284.2 L437.4 282.6 L437.2 280.9 L436.9 279.3 L436.6 277.7 L436.2 276.1 L435.9 274.5 L435.6 272.8 L435.3 271.2 L435.0 269.6 L434.6 268.0 L434.3 266.4 L434.0 264.7 L433.7 263.1 L433.4 261.5 L433.1 259.9 L432.9 258.3 L432.7 256.6 L432.5 255.0 L432.4 253.4 L432.3 251.8 L432.2 250.2 L432.2 248.5 L432.1 246.9 L432.1 245.3 L432.0 243.7 L432.0 242.1 L432.0 240.4 L431.9 238.8 L431.9 237.2 L431.8 235.6 L431.8 234.0 L431.7 232.3 L431.7 230.7 L431.7 229.1 L431.6 227.5 L431.6 225.9 L431.5 224.2 L431.5 222.6 L431.4 221.0 L431.4 219.4 L431.3 217.8 L431.3 216.1 L431.3 214.5 L431.2 212.9 L431.2 211.3 L431.1 209.7 L431.1 208.0 L430.8 206.4 L430.0 206.4 L429.7 208.0 L429.7 209.7 L429.6 211.3 L429.6 212.9 L429.5 214.5 L429.5 216.1 L429.5 217.8 L429.4 219.4 L429.4 221.0 L429.3 222.6 L429.3 224.2 L429.2 225.9 L429.2 227.5 L429.1 229.1 L429.1 230.7 L429.1 232.3 L429.0 234.0 L429.0 235.6 L428.9 237.2 L428.9 238.8 L428.8 240.4 L428.8 242.1 L428.8 243.7 L428.7 245.3 L428.7 246.9 L428.6 248.5 L428.6 250.2 L428.5 251.8 L428.4 253.4 L428.3 255.0 L428.1 256.6 L427.9 258.3 L427.7 259.9 L427.4 261.5 L427.1 263.1 L426.8 264.7 L426.5 266.4 L426.2 268.0 L425.8 269.6 L425.5 271.2 L425.2 272.8 L424.9 274.5 L424.6 276.1 L424.2 277.7 L423.9 279.3 L423.6 280.9 L423.4 282.6 L423.2 284.2 L423.0 285.8 L422.9 287.4 L423.0 289.0 L423.0 290.7 L423.2 292.3 L423.3 293.9 L423.5 295.5 L423.7 297.1 L423.9 298.8 L424.1 300.4 L424.2 302.0Z" fill="#d8e8ee" stroke="#a4b8c4" stroke-width="1.5" stroke-linejoin="round" stroke-opacity="0.85"/>
<path d="M454.3 302.0 L454.4 300.4 L454.5 298.7 L454.6 297.1 L454.7 295.5 L454.9 293.8 L455.0 292.2 L455.1 290.5 L455.2 288.9 L455.4 287.3 L455.5 285.6 L455.6 284.0 L455.7 282.4 L455.8 280.7 L455.9 279.1 L455.9 277.4 L455.9 275.8 L455.8 274.2 L455.7 272.5 L455.6 270.9 L455.4 269.3 L455.3 267.6 L455.1 266.0 L454.9 264.4 L454.7 262.7 L454.5 261.1 L454.2 259.4 L454.0 257.8 L453.7 256.2 L453.4 254.5 L453.2 252.9 L452.9 251.3 L452.6 249.6 L452.3 248.0 L452.0 246.3 L451.8 244.7 L451.5 243.1 L451.3 241.4 L451.1 239.8 L451.0 238.2 L450.8 236.5 L450.7 234.9 L450.5 233.3 L450.4 231.6 L450.3 230.0 L450.1 228.3 L450.0 226.7 L449.9 225.1 L449.8 223.4 L449.6 221.8 L449.5 220.2 L449.4 218.5 L449.3 216.9 L449.2 215.2 L449.1 213.6 L449.0 212.0 L448.9 210.3 L448.8 208.7 L448.8 207.1 L448.6 205.4 L447.8 205.4 L447.6 207.1 L447.6 208.7 L447.5 210.3 L447.4 212.0 L447.3 213.6 L447.2 215.2 L447.1 216.9 L447.0 218.5 L446.9 220.2 L446.8 221.8 L446.6 223.4 L446.5 225.1 L446.4 226.7 L446.3 228.3 L446.1 230.0 L446.0 231.6 L445.9 233.3 L445.7 234.9 L445.6 236.5 L445.4 238.2 L445.3 239.8 L445.1 241.4 L444.9 243.1 L444.6 244.7 L444.4 246.3 L444.1 248.0 L443.8 249.6 L443.5 251.3 L443.2 252.9 L443.0 254.5 L442.7 256.2 L442.4 257.8 L442.2 259.4 L441.9 261.1 L441.7 262.7 L441.5 264.4 L441.3 266.0 L441.1 267.6 L441.0 269.3 L440.8 270.9 L440.7 272.5 L440.6 274.2 L440.5 275.8 L440.5 277.4 L440.5 279.1 L440.6 280.7 L440.7 282.4 L440.8 284.0 L440.9 285.6 L441.0 287.3 L441.2 288.9 L441.3 290.5 L441.4 292.2 L441.5 293.8 L441.7 295.5 L441.8 297.1 L441.9 298.7 L442.0 300.4 L442.1 302.0Z" fill="#e89e94" stroke="#c47a70" stroke-width="1.5" stroke-linejoin="round" stroke-opacity="0.85"/>
<path d="M473.7 302.0 L473.8 300.3 L473.9 298.7 L474.0 297.0 L474.2 295.4 L474.3 293.7 L474.5 292.1 L474.6 290.4 L474.8 288.8 L475.0 287.1 L475.1 285.5 L475.2 283.8 L475.3 282.2 L475.4 280.5 L475.4 278.8 L475.5 277.2 L475.5 275.5 L475.5 273.9 L475.5 272.2 L475.5 270.6 L475.5 268.9 L475.5 267.3 L475.5 265.6 L475.5 264.0 L475.5 262.3 L475.4 260.7 L475.4 259.0 L475.3 257.3 L475.2 255.7 L475.0 254.0 L474.8 252.4 L474.6 250.7 L474.4 249.1 L474.1 247.4 L473.9 245.8 L473.6 244.1 L473.4 242.5 L473.1 240.8 L472.9 239.2 L472.6 237.5 L472.4 235.8 L472.1 234.2 L471.9 232.5 L471.6 230.9 L471.4 229.2 L471.2 227.6 L470.9 225.9 L470.7 224.3 L470.4 222.6 L470.2 221.0 L469.9 219.3 L469.7 217.6 L469.5 216.0 L469.3 214.3 L469.1 212.7 L468.9 211.0 L468.7 209.4 L468.5 207.7 L468.4 206.1 L467.9 204.4 L467.1 204.4 L466.6 206.1 L466.5 207.7 L466.3 209.4 L466.1 211.0 L465.9 212.7 L465.7 214.3 L465.5 216.0 L465.3 217.6 L465.1 219.3 L464.8 221.0 L464.6 222.6 L464.3 224.3 L464.1 225.9 L463.8 227.6 L463.6 229.2 L463.4 230.9 L463.1 232.5 L462.9 234.2 L462.6 235.8 L462.4 237.5 L462.1 239.2 L461.9 240.8 L461.6 242.5 L461.4 244.1 L461.1 245.8 L460.9 247.4 L460.6 249.1 L460.4 250.7 L460.2 252.4 L460.0 254.0 L459.8 255.7 L459.7 257.3 L459.6 259.0 L459.6 260.7 L459.5 262.3 L459.5 264.0 L459.5 265.6 L459.5 267.3 L459.5 268.9 L459.5 270.6 L459.5 272.2 L459.5 273.9 L459.5 275.5 L459.5 277.2 L459.6 278.8 L459.6 280.5 L459.7 282.2 L459.8 283.8 L459.9 285.5 L460.0 287.1 L460.2 288.8 L460.4 290.4 L460.5 292.1 L460.7 293.7 L460.8 295.4 L461.0 297.0 L461.1 298.7 L461.2 300.3 L461.3 302.0Z" fill="#d8e8ee" stroke="#a4b8c4" stroke-width="1.5" stroke-linejoin="round" stroke-opacity="0.85"/>
<path d="M492.8 302.0 L492.9 300.3 L493.0 298.6 L493.2 296.9 L493.4 295.2 L493.5 293.6 L493.7 291.9 L493.8 290.2 L493.9 288.5 L493.9 286.8 L493.9 285.1 L493.8 283.4 L493.7 281.7 L493.5 280.1 L493.3 278.4 L493.1 276.7 L492.9 275.0 L492.7 273.3 L492.4 271.6 L492.1 269.9 L491.8 268.2 L491.5 266.6 L491.2 264.9 L490.9 263.2 L490.6 261.5 L490.3 259.8 L490.0 258.1 L489.7 256.4 L489.5 254.7 L489.3 253.0 L489.1 251.4 L488.9 249.7 L488.7 248.0 L488.6 246.3 L488.4 244.6 L488.2 242.9 L488.1 241.2 L487.9 239.5 L487.7 237.9 L487.6 236.2 L487.4 234.5 L487.3 232.8 L487.2 231.1 L487.1 229.4 L487.0 227.7 L486.9 226.0 L486.9 224.4 L486.8 222.7 L486.7 221.0 L486.7 219.3 L486.6 217.6 L486.6 215.9 L486.5 214.2 L486.5 212.5 L486.4 210.8 L486.4 209.2 L486.3 207.5 L486.3 205.8 L486.2 204.1 L486.0 202.4 L485.2 202.4 L485.0 204.1 L484.9 205.8 L484.9 207.5 L484.8 209.2 L484.8 210.8 L484.7 212.5 L484.7 214.2 L484.6 215.9 L484.6 217.6 L484.5 219.3 L484.5 221.0 L484.4 222.7 L484.3 224.4 L484.3 226.0 L484.2 227.7 L484.1 229.4 L484.0 231.1 L483.9 232.8 L483.8 234.5 L483.6 236.2 L483.5 237.9 L483.3 239.5 L483.1 241.2 L483.0 242.9 L482.8 244.6 L482.6 246.3 L482.5 248.0 L482.3 249.7 L482.1 251.4 L481.9 253.0 L481.7 254.7 L481.5 256.4 L481.2 258.1 L480.9 259.8 L480.6 261.5 L480.3 263.2 L480.0 264.9 L479.7 266.6 L479.4 268.2 L479.1 269.9 L478.8 271.6 L478.5 273.3 L478.3 275.0 L478.1 276.7 L477.9 278.4 L477.7 280.1 L477.5 281.7 L477.4 283.4 L477.3 285.1 L477.3 286.8 L477.3 288.5 L477.4 290.2 L477.5 291.9 L477.7 293.6 L477.8 295.2 L478.0 296.9 L478.2 298.6 L478.3 300.3 L478.4 302.0Z" fill="#e89e94" stroke="#c47a70" stroke-width="1.5" stroke-linejoin="round" stroke-opacity="0.85"/>
<path d="M393.0 302V201.4" stroke="#1a1a1a" stroke-width="1.8"/>
<path d="M393.0 287.9V246.7" stroke="#4a6a80" stroke-width="2.6" opacity="0.55"/>
<circle cx="393.0" cy="269.8" r="1" fill="#222"/>
<path d="M410.8 302V203.4" stroke="#1a1a1a" stroke-width="1.8"/>
<path d="M410.8 286.9V246.7" stroke="#7a3a34" stroke-width="2.6" opacity="0.55"/>
<circle cx="410.8" cy="267.8" r="1" fill="#222"/>
<rect x="428.6" y="206.4" width="3.6" height="24.1" rx="1.5" fill="#c8c8c8"/>
<path d="M430.4 302V230.6" stroke="#1a1a1a" stroke-width="1.8"/>
<path d="M430.4 294.0V269.8" stroke="#4a6a80" stroke-width="2.6" opacity="0.55"/>
<circle cx="430.4" cy="284.9" r="1" fill="#222"/>
<path d="M448.2 302V205.4" stroke="#1a1a1a" stroke-width="1.8"/>
<path d="M448.2 289.9V253.7" stroke="#7a3a34" stroke-width="2.6" opacity="0.55"/>
<circle cx="448.2" cy="274.8" r="1" fill="#222"/>
<path d="M467.5 302V204.4" stroke="#1a1a1a" stroke-width="1.8"/>
<path d="M467.5 289.9V241.6" stroke="#4a6a80" stroke-width="2.6" opacity="0.55"/>
<circle cx="467.5" cy="269.8" r="1" fill="#222"/>
<rect x="483.8" y="202.4" width="3.6" height="13.1" rx="1.5" fill="#c8c8c8"/>
<path d="M485.6 302V215.5" stroke="#1a1a1a" stroke-width="1.8"/>
<path d="M485.6 292.9V261.8" stroke="#7a3a34" stroke-width="2.6" opacity="0.55"/>
<circle cx="485.6" cy="281.9" r="1" fill="#222"/>
<path d="M383.8 200.4V302H494.3" fill="none" stroke="#222" stroke-width="1.4"/>
<text x="401.5" y="308.0" font-size="9" text-anchor="middle" fill="#333" stroke="#333" stroke-width="0.32" dominant-baseline="central">type1</text>
<text x="441.0" y="308.0" font-size="9" text-anchor="middle" fill="#333" stroke="#333" stroke-width="0.32" dominant-baseline="central">type2</text>
<text x="478.2" y="308.0" font-size="9" text-anchor="middle" fill="#333" stroke="#333" stroke-width="0.32" dominant-baseline="central">type3</text>
<rect x="402" y="321.5" width="3.5" height="5" fill="#d8e8e8"/>
<text x="406.5" y="324.0" font-size="8.3" text-anchor="start" fill="#222" stroke="#222" stroke-width="0.3" dominant-baseline="central">healthy</text>
<rect x="446" y="321.5" width="3.5" height="5" fill="#e08078"/>
<text x="450.5" y="324.0" font-size="8.3" text-anchor="start" fill="#222" stroke="#222" stroke-width="0.3" dominant-baseline="central">IBD</text>
<text x="443.5" y="196.4" font-size="8" text-anchor="middle" fill="#111" stroke="#111" stroke-width="0.2" dominant-baseline="central">p &lt; 0.001</text>
<text x="481.0" y="196.4" font-size="8" text-anchor="middle" fill="#111" stroke="#111" stroke-width="0.2" dominant-baseline="central">p &lt; 0.001</text>
<text x="532.0" y="177.0" font-size="11" text-anchor="middle" font-weight="bold" fill="#111" stroke="#111" stroke-width="0.32" dominant-baseline="central">C</text>
<circle cx="584.3" cy="230" r="22" fill="#b0eadc"/>
<circle cx="617.8" cy="230.4" r="22.8" fill="#e0c4ee"/>
<clipPath id="clT2D"><circle cx="584.3" cy="230" r="22"/></clipPath>
<circle cx="617.8" cy="230.4" r="22.8" fill="#bcbce2" clip-path="url(#clT2D)"/>
<text x="585.0" y="230.5" font-size="8.8" text-anchor="middle" fill="#0d3b33" stroke="#0d3b33" stroke-width="0.35" dominant-baseline="central">15</text>
<text x="604.2" y="230.5" font-size="8.8" text-anchor="middle" fill="#2a2a5a" stroke="#2a2a5a" stroke-width="0.35" dominant-baseline="central">0</text>
<text x="621.4" y="230.5" font-size="8.8" text-anchor="middle" fill="#3a1a4a" stroke="#3a1a4a" stroke-width="0.35" dominant-baseline="central">0</text>
<text x="605.3" y="184.3" font-size="8.7" text-anchor="middle" font-weight="bold" fill="#111" stroke="#111" stroke-width="0.32" dominant-baseline="central">T2D</text>
<text x="602.2" y="195.7" font-size="8.8" text-anchor="end" fill="#222" stroke="#222" stroke-width="0.32" dominant-baseline="central">No adjustment</text>
<text x="617.3" y="195.7" font-size="8.8" text-anchor="start" fill="#222" stroke="#222" stroke-width="0.32" dominant-baseline="central">Adjusted for</text>
<text x="617.3" y="205.1" font-size="8.8" text-anchor="start" fill="#222" stroke="#222" stroke-width="0.32" dominant-baseline="central">archetype usage</text>
<circle cx="731.9" cy="229.2" r="22.8" fill="#b0eadc"/>
<circle cx="763.8" cy="229.2" r="23.8" fill="#e0c4ee"/>
<clipPath id="clCRC"><circle cx="731.9" cy="229.2" r="22.8"/></clipPath>
<circle cx="763.8" cy="229.2" r="23.8" fill="#bcbce2" clip-path="url(#clCRC)"/>
<text x="730.0" y="230.4" font-size="8.8" text-anchor="middle" fill="#0d3b33" stroke="#0d3b33" stroke-width="0.35" dominant-baseline="central">76</text>
<text x="750.8" y="230.4" font-size="8.8" text-anchor="middle" fill="#2a2a5a" stroke="#2a2a5a" stroke-width="0.35" dominant-baseline="central">43</text>
<text x="769.8" y="230.4" font-size="8.8" text-anchor="middle" fill="#3a1a4a" stroke="#3a1a4a" stroke-width="0.35" dominant-baseline="central">5</text>
<text x="751.3" y="184.7" font-size="8.7" text-anchor="middle" font-weight="bold" fill="#111" stroke="#111" stroke-width="0.32" dominant-baseline="central">CRC</text>
<text x="749.6" y="194.2" font-size="8.8" text-anchor="end" fill="#222" stroke="#222" stroke-width="0.32" dominant-baseline="central">No adjustment</text>
<text x="763.9" y="194.2" font-size="8.8" text-anchor="start" fill="#222" stroke="#222" stroke-width="0.32" dominant-baseline="central">Adjusted for</text>
<text x="763.9" y="203.7" font-size="8.8" text-anchor="start" fill="#222" stroke="#222" stroke-width="0.32" dominant-baseline="central">archetype usage</text>
<circle cx="661" cy="296.5" r="22.6" fill="#b0eadc"/>
<circle cx="693" cy="297" r="23.5" fill="#e0c4ee"/>
<clipPath id="clIBD"><circle cx="661" cy="296.5" r="22.6"/></clipPath>
<circle cx="693" cy="297" r="23.5" fill="#bcbce2" clip-path="url(#clIBD)"/>
<text x="661.1" y="297.8" font-size="8.8" text-anchor="middle" fill="#0d3b33" stroke="#0d3b33" stroke-width="0.35" dominant-baseline="central">122</text>
<text x="679.6" y="297.8" font-size="8.8" text-anchor="middle" fill="#2a2a5a" stroke="#2a2a5a" stroke-width="0.35" dominant-baseline="central">65</text>
<text x="698.9" y="297.8" font-size="8.8" text-anchor="middle" fill="#3a1a4a" stroke="#3a1a4a" stroke-width="0.35" dominant-baseline="central">2</text>
<text x="673.4" y="259.2" font-size="8.7" text-anchor="middle" font-weight="bold" fill="#111" stroke="#111" stroke-width="0.32" dominant-baseline="central">IBD</text>
<text x="662.0" y="267.6" font-size="8.8" text-anchor="end" fill="#222" stroke="#222" stroke-width="0.32" dominant-baseline="central">No adjustment</text>
<text x="691.3" y="262.1" font-size="8.8" text-anchor="start" fill="#222" stroke="#222" stroke-width="0.32" dominant-baseline="central">Adjusted for</text>
<text x="691.3" y="271.3" font-size="8.8" text-anchor="start" fill="#222" stroke="#222" stroke-width="0.32" dominant-baseline="central">archetype usage</text>
<text x="216.5" y="355.8" font-size="11" text-anchor="middle" font-weight="bold" fill="#111" stroke="#111" stroke-width="0.32" dominant-baseline="central">E</text>
<text x="229.8" y="367.3" font-size="8.9" text-anchor="start" fill="#333" stroke="#333" stroke-width="0.32" dominant-baseline="central">Stratified on dominant</text>
<text x="229.8" y="376.9" font-size="8.9" text-anchor="start" fill="#333" stroke="#333" stroke-width="0.32" dominant-baseline="central">archetype</text>
<circle cx="254" cy="425.6" r="23" fill="#56b4e0" opacity="0.42"/>
<circle cx="286.7" cy="425.2" r="21.7" fill="#e8da54" opacity="0.4"/>
<circle cx="271.3" cy="449" r="22.5" fill="#d892c2" opacity="0.38"/>
<text x="251.8" y="420.4" font-size="8.5" text-anchor="middle" fill="#222" stroke="#222" stroke-width="0.32" dominant-baseline="central">18</text>
<text x="269.5" y="418.8" font-size="8.5" text-anchor="middle" fill="#222" stroke="#222" stroke-width="0.32" dominant-baseline="central">0</text>
<text x="292.8" y="421.2" font-size="8.5" text-anchor="middle" fill="#222" stroke="#222" stroke-width="0.32" dominant-baseline="central">1</text>
<text x="271.1" y="431.6" font-size="8.5" text-anchor="middle" fill="#222" stroke="#222" stroke-width="0.32" dominant-baseline="central">2</text>
<text x="261.5" y="438.9" font-size="8.5" text-anchor="middle" fill="#222" stroke="#222" stroke-width="0.32" dominant-baseline="central">10</text>
<text x="283.5" y="438.9" font-size="8.5" text-anchor="middle" fill="#222" stroke="#222" stroke-width="0.32" dominant-baseline="central">2</text>
<text x="272.3" y="454.5" font-size="8.5" text-anchor="middle" fill="#222" stroke="#222" stroke-width="0.32" dominant-baseline="central">18</text>
<text x="244.7" y="400.6" font-size="8.5" text-anchor="middle" fill="#222" stroke="#222" stroke-width="0.32" dominant-baseline="central">Type 1</text>
<text x="308.0" y="400.3" font-size="8.5" text-anchor="middle" fill="#222" stroke="#222" stroke-width="0.32" dominant-baseline="central">Type 2</text>
<text x="277.1" y="474.2" font-size="8.5" text-anchor="middle" fill="#222" stroke="#222" stroke-width="0.32" dominant-baseline="central">Type 3</text>
<text x="13.6" y="352.7" font-size="11" text-anchor="middle" font-weight="bold" fill="#111" stroke="#111" stroke-width="0.32" dominant-baseline="central">D</text>
<text x="56.0" y="367.5" font-size="9" text-anchor="end" fill="#555" stroke="#555" stroke-width="0.32" dominant-baseline="central">ranksum</text>
<path d="M59.4 373.2 L59.4 357.3 L63.3 357.4 L67.1 357.5 L71.0 357.7 L74.9 358.0 L78.8 358.2 L82.6 358.5 L86.5 358.8 L90.4 359.2 L94.2 359.5 L98.1 359.9 L102.0 360.3 L105.8 360.7 L109.7 361.2 L113.6 361.6 L117.4 362.1 L121.3 362.6 L125.2 363.1 L129.1 363.6 L132.9 364.2 L136.8 364.7 L140.7 365.3 L144.5 365.8 L148.4 366.4 L152.3 367.0 L156.2 367.6 L160.0 368.3 L163.9 368.9 L167.8 369.6 L171.6 370.2 L175.5 370.9 L175.5 373.2Z" fill="#0a0a0a"/>
<g filter="url(#hb4)">
<path d="M59.4 374.45h1.5M65.4 374.45h1.5M60.9 384.43h1.5M62.4 386.92h1.5M77.3 391.91h1.5M124.9 399.40h1.5M74.3 409.38h1.5M60.9 416.86h1.5M81.7 416.86h1.5M78.8 421.85h1.5M59.4 426.85h1.5M107.0 429.34h1.5M80.2 431.84h1.5M75.8 436.83h1.5M102.6 441.82h1.5M74.3 461.78h1.5M75.8 474.25h1.5" stroke="#c0909c" stroke-width="2.55"/>
<path d="M60.9 374.45h1.5M66.8 374.45h1.5M77.3 376.94h1.5M87.7 376.94h1.5M75.8 381.93h1.5M68.3 384.43h1.5M75.8 384.43h1.5M59.4 386.92h1.5M68.3 386.92h1.5M71.3 389.42h1.5M74.3 389.42h1.5M78.8 389.42h1.5M87.7 389.42h1.5M60.9 391.91h1.5M66.8 391.91h1.5M60.9 396.90h1.5M68.3 399.40h1.5M72.8 399.40h1.5M60.9 404.39h4.5M99.6 404.39h1.5M71.3 406.88h3.0M66.8 409.38h1.5M69.8 409.38h1.5M77.3 409.38h1.5M93.6 409.38h1.5M68.3 411.87h1.5M66.8 416.86h1.5M74.3 416.86h1.5M75.8 421.85h1.5M72.8 424.35h1.5M65.4 426.85h1.5M75.8 426.85h1.5M132.3 429.34h1.5M129.4 431.84h1.5M59.4 436.83h1.5M65.4 436.83h1.5M74.3 436.83h1.5M68.3 439.32h1.5M75.8 439.32h4.5M108.5 439.32h1.5M59.4 441.82h3.0M65.4 441.82h1.5M69.8 441.82h1.5M120.4 441.82h1.5M62.4 446.81h1.5M59.4 449.30h1.5M92.1 449.30h1.5M63.9 451.80h1.5M77.3 451.80h1.5M75.8 456.79h1.5M74.3 459.28h1.5M72.8 461.78h1.5M87.7 466.77h1.5" stroke="#b46c84" stroke-width="2.55"/>
<path d="M62.4 374.45h1.5M86.2 374.45h3.0M114.5 374.45h1.5M65.4 376.94h1.5M78.8 376.94h1.5M86.2 376.94h1.5M113.0 376.94h1.5M132.3 376.94h1.5M89.2 379.44h1.5M99.6 379.44h1.5M60.9 381.93h1.5M77.3 381.93h1.5M96.6 381.93h1.5M62.4 384.43h3.0M71.3 384.43h1.5M81.7 384.43h3.0M92.1 384.43h1.5M113.0 384.43h1.5M69.8 386.92h1.5M72.8 386.92h3.0M80.2 386.92h1.5M95.1 389.42h1.5M71.3 391.91h1.5M75.8 391.91h1.5M96.6 391.91h1.5M114.5 391.91h1.5M62.4 394.41h1.5M95.1 394.41h1.5M62.4 396.90h1.5M69.8 396.90h1.5M75.8 396.90h1.5M87.7 396.90h1.5M93.6 396.90h1.5M69.8 399.40h1.5M121.9 399.40h3.0M77.3 401.89h1.5M108.5 401.89h1.5M66.8 404.39h1.5M81.7 404.39h1.5M92.1 404.39h1.5M98.1 404.39h1.5M101.1 404.39h1.5M95.1 406.88h1.5M123.4 406.88h1.5M130.8 406.88h3.0M62.4 409.38h1.5M71.3 409.38h1.5M123.4 409.38h1.5M60.9 411.87h1.5M78.8 411.87h1.5M87.7 411.87h1.5M96.6 411.87h3.0M80.2 414.37h1.5M99.6 414.37h1.5M89.2 416.86h1.5M105.5 416.86h1.5M120.4 416.86h1.5M75.8 419.36h3.0M105.5 419.36h1.5M68.3 421.85h1.5M80.2 421.85h1.5M89.2 421.85h1.5M93.6 421.85h1.5M62.4 424.35h1.5M93.6 424.35h1.5M71.3 429.34h1.5M108.5 429.34h1.5M101.1 431.84h1.5M62.4 434.33h1.5M77.3 434.33h1.5M62.4 436.83h1.5M77.3 436.83h1.5M84.7 436.83h1.5M72.8 439.32h1.5M68.3 441.82h1.5M71.3 441.82h1.5M60.9 446.81h1.5M65.4 446.81h1.5M116.0 446.81h1.5M66.8 449.30h1.5M81.7 449.30h1.5M110.0 449.30h1.5M130.8 449.30h1.5M60.9 451.80h1.5M63.9 454.29h3.0M68.3 454.29h1.5M72.8 454.29h1.5M77.3 454.29h1.5M90.7 454.29h3.0M65.4 456.79h1.5M69.8 456.79h1.5M72.8 456.79h1.5M78.8 456.79h1.5M81.7 456.79h1.5M63.9 459.28h1.5M59.4 461.78h1.5M81.7 461.78h1.5M63.9 464.27h3.0M75.8 464.27h1.5M110.0 464.27h1.5M65.4 466.77h1.5M80.2 466.77h1.5M66.8 469.26h1.5M116.0 469.26h1.5M77.3 474.25h1.5M87.7 474.25h1.5M108.5 474.25h1.5" stroke="#cc90a8" stroke-width="2.55"/>
<path d="M63.9 374.45h1.5M84.7 374.45h1.5M60.9 376.94h1.5M89.2 376.94h1.5M133.8 376.94h1.5M72.8 379.44h1.5M114.5 379.44h1.5M93.6 384.43h1.5M63.9 386.92h1.5M90.7 389.42h1.5M101.1 389.42h1.5M69.8 391.91h1.5M72.8 391.91h1.5M81.7 391.91h1.5M86.2 391.91h1.5M59.4 394.41h3.0M66.8 394.41h1.5M69.8 394.41h1.5M77.3 394.41h1.5M81.7 394.41h1.5M86.2 394.41h1.5M120.4 394.41h1.5M66.8 396.90h1.5M71.3 396.90h1.5M77.3 399.40h3.0M120.4 399.40h1.5M126.4 401.89h1.5M72.8 404.39h1.5M78.8 404.39h3.0M116.0 404.39h1.5M74.3 406.88h4.5M65.4 409.38h1.5M124.9 409.38h1.5M59.4 411.87h1.5M77.3 411.87h1.5M104.1 416.86h1.5M74.3 419.36h1.5M65.4 421.85h1.5M69.8 421.85h1.5M81.7 421.85h1.5M63.9 424.35h1.5M69.8 424.35h1.5M102.6 424.35h1.5M69.8 426.85h1.5M62.4 429.34h1.5M75.8 431.84h1.5M107.0 431.84h1.5M66.8 434.33h1.5M74.3 434.33h1.5M68.3 436.83h1.5M66.8 439.32h1.5M71.3 439.32h1.5M116.0 439.32h1.5M62.4 441.82h1.5M72.8 441.82h1.5M74.3 444.31h1.5M72.8 446.81h1.5M80.2 449.30h1.5M111.5 449.30h1.5M66.8 454.29h1.5M63.9 456.79h1.5M66.8 456.79h1.5M65.4 459.28h1.5M77.3 459.28h1.5M69.8 461.78h1.5M63.9 466.77h1.5M69.8 466.77h1.5M124.9 469.26h1.5M59.4 474.25h1.5M95.1 474.25h1.5" stroke="#c0849c" stroke-width="2.55"/>
<path d="M68.3 374.45h1.5M69.8 376.94h3.0M59.4 379.44h1.5M71.3 414.37h1.5M62.4 416.86h1.5M60.9 419.36h3.0M66.8 421.85h1.5M77.3 421.85h1.5M59.4 431.84h1.5M69.8 434.33h1.5M69.8 439.32h1.5M74.3 439.32h1.5M62.4 456.79h1.5M74.3 456.79h1.5M59.4 466.77h1.5" stroke="#9c4860" stroke-width="2.55"/>
<path d="M69.8 374.45h1.5M60.9 379.44h1.5M62.4 381.93h1.5M68.3 389.42h1.5M63.9 391.91h1.5M65.4 394.41h1.5M72.8 394.41h1.5M63.9 396.90h1.5M74.3 399.40h1.5M60.9 401.89h1.5M74.3 404.39h1.5M66.8 406.88h1.5M68.3 409.38h1.5M72.8 409.38h1.5M63.9 416.86h1.5M72.8 416.86h1.5M65.4 419.36h1.5M69.8 419.36h1.5M69.8 436.83h1.5M65.4 439.32h1.5M62.4 444.31h1.5M66.8 446.81h1.5M71.3 449.30h1.5M74.3 449.30h1.5M60.9 459.28h1.5M66.8 461.78h1.5" stroke="#b46078" stroke-width="2.55"/>
<path d="M71.3 374.45h1.5M63.9 376.94h1.5M66.8 376.94h1.5M74.3 376.94h3.0M68.3 379.44h1.5M71.3 379.44h1.5M77.3 379.44h1.5M132.3 379.44h1.5M66.8 384.43h1.5M72.8 389.42h1.5M77.3 389.42h1.5M63.9 394.41h1.5M71.3 394.41h1.5M65.4 399.40h1.5M65.4 411.87h1.5M60.9 414.37h1.5M62.4 421.85h1.5M71.3 421.85h1.5M62.4 431.84h1.5M77.3 431.84h1.5M60.9 436.83h1.5M77.3 446.81h1.5M62.4 449.30h1.5M78.8 449.30h1.5M78.8 451.80h1.5M75.8 454.29h1.5M59.4 459.28h1.5M71.3 459.28h1.5M86.2 459.28h1.5M62.4 464.27h1.5M71.3 469.26h1.5" stroke="#a8546c" stroke-width="2.55"/>
<path d="M72.8 374.45h3.0M113.0 374.45h1.5M116.0 374.45h1.5M110.0 376.94h1.5M74.3 379.44h1.5M71.3 381.93h3.0M104.1 384.43h1.5M65.4 386.92h3.0M77.3 386.92h1.5M60.9 389.42h1.5M75.8 389.42h1.5M86.2 389.42h1.5M99.6 389.42h1.5M110.0 391.91h1.5M75.8 394.41h1.5M59.4 401.89h1.5M71.3 401.89h1.5M90.7 401.89h1.5M65.4 404.39h1.5M69.8 406.88h1.5M75.8 409.38h1.5M95.1 409.38h1.5M62.4 411.87h1.5M71.3 411.87h3.0M66.8 414.37h1.5M68.3 416.86h1.5M72.8 419.36h1.5M59.4 421.85h3.0M124.9 421.85h1.5M68.3 424.35h1.5M126.4 424.35h1.5M66.8 426.85h1.5M59.4 429.34h1.5M75.8 429.34h1.5M69.8 431.84h1.5M71.3 434.33h1.5M60.9 439.32h1.5M63.9 439.32h1.5M74.3 441.82h1.5M60.9 444.31h1.5M63.9 446.81h1.5M74.3 446.81h1.5M60.9 449.30h1.5M71.3 451.80h4.5M98.1 454.29h3.0M59.4 456.79h1.5M86.2 456.79h1.5M72.8 459.28h1.5M62.4 461.78h1.5M68.3 461.78h1.5M71.3 461.78h1.5M66.8 464.27h3.0M68.3 466.77h1.5M81.7 469.26h1.5M69.8 474.25h1.5M86.2 474.25h1.5" stroke="#c07890" stroke-width="2.55"/>
<path d="M75.8 374.45h1.5M80.2 374.45h1.5M98.1 374.45h1.5M126.4 374.45h1.5M132.3 374.45h1.5M136.8 374.45h1.5M168.1 374.45h1.5M84.7 376.94h1.5M101.1 376.94h1.5M120.4 376.94h1.5M127.9 376.94h4.5M138.3 376.94h4.5M151.7 376.94h1.5M87.7 379.44h1.5M93.6 379.44h1.5M102.6 379.44h1.5M120.4 379.44h1.5M141.3 379.44h1.5M145.7 379.44h3.0M150.2 379.44h3.0M171.0 379.44h1.5M69.8 381.93h1.5M78.8 381.93h1.5M81.7 381.93h1.5M86.2 381.93h1.5M102.6 381.93h1.5M105.5 381.93h1.5M108.5 381.93h1.5M111.5 381.93h3.0M120.4 381.93h1.5M127.9 381.93h3.0M132.3 381.93h1.5M78.8 384.43h1.5M84.7 384.43h1.5M89.2 384.43h3.0M96.6 384.43h3.0M107.0 384.43h1.5M114.5 384.43h1.5M124.9 384.43h3.0M133.8 384.43h1.5M151.7 384.43h1.5M117.4 386.92h1.5M121.9 386.92h3.0M132.3 386.92h1.5M66.8 389.42h1.5M80.2 389.42h1.5M110.0 389.42h1.5M118.9 389.42h3.0M124.9 389.42h3.0M130.8 389.42h3.0M157.6 389.42h1.5M83.2 391.91h1.5M92.1 391.91h1.5M107.0 391.91h1.5M113.0 391.91h1.5M118.9 391.91h1.5M123.4 391.91h1.5M126.4 391.91h1.5M135.3 391.91h1.5M138.3 391.91h1.5M151.7 391.91h1.5M84.7 394.41h1.5M116.0 394.41h1.5M130.8 394.41h1.5M162.1 394.41h1.5M89.2 396.90h3.0M102.6 396.90h1.5M113.0 396.90h1.5M117.4 396.90h1.5M133.8 396.90h1.5M83.2 399.40h1.5M89.2 399.40h1.5M96.6 399.40h1.5M102.6 399.40h3.0M110.0 399.40h1.5M113.0 399.40h1.5M129.4 399.40h1.5M132.3 399.40h4.5M139.8 399.40h4.5M163.6 399.40h1.5M65.4 401.89h1.5M72.8 401.89h1.5M93.6 401.89h1.5M104.1 401.89h1.5M111.5 401.89h1.5M130.8 401.89h1.5M133.8 401.89h1.5M142.8 401.89h1.5M84.7 404.39h1.5M87.7 404.39h3.0M93.6 404.39h3.0M104.1 404.39h1.5M108.5 404.39h4.5M114.5 404.39h1.5M120.4 404.39h1.5M123.4 404.39h1.5M126.4 404.39h3.0M80.2 406.88h1.5M90.7 406.88h1.5M102.6 406.88h1.5M121.9 406.88h1.5M165.1 406.88h1.5M86.2 409.38h1.5M96.6 409.38h1.5M102.6 409.38h1.5M111.5 409.38h3.0M126.4 409.38h1.5M133.8 409.38h1.5M75.8 411.87h1.5M80.2 411.87h1.5M90.7 411.87h1.5M101.1 411.87h3.0M105.5 411.87h1.5M120.4 411.87h1.5M123.4 411.87h3.0M132.3 411.87h1.5M148.7 411.87h1.5M78.8 414.37h1.5M93.6 414.37h1.5M113.0 414.37h3.0M121.9 414.37h1.5M139.8 414.37h1.5M142.8 414.37h1.5M148.7 414.37h3.0M95.1 416.86h1.5M110.0 416.86h1.5M121.9 416.86h1.5M130.8 416.86h1.5M133.8 416.86h1.5M81.7 419.36h1.5M99.6 419.36h1.5M107.0 419.36h1.5M110.0 419.36h1.5M116.0 419.36h6.0M130.8 419.36h1.5M142.8 419.36h1.5M153.2 419.36h1.5M162.1 419.36h1.5M172.5 419.36h1.5M96.6 421.85h1.5M118.9 421.85h4.5M126.4 421.85h1.5M133.8 421.85h1.5M138.3 421.85h1.5M75.8 424.35h1.5M83.2 424.35h1.5M86.2 424.35h1.5M89.2 424.35h1.5M98.1 424.35h1.5M104.1 424.35h1.5M108.5 424.35h1.5M113.0 424.35h1.5M116.0 424.35h1.5M129.4 424.35h1.5M63.9 426.85h1.5M80.2 426.85h1.5M87.7 426.85h1.5M92.1 426.85h1.5M99.6 426.85h1.5M111.5 426.85h1.5M114.5 426.85h1.5M124.9 426.85h1.5M130.8 426.85h3.0M101.1 429.34h1.5M116.0 429.34h1.5M118.9 429.34h3.0M127.9 429.34h1.5M138.3 429.34h1.5M89.2 431.84h1.5M92.1 431.84h3.0M111.5 431.84h1.5M133.8 431.84h1.5M93.6 434.33h1.5M96.6 434.33h1.5M107.0 434.33h1.5M113.0 434.33h1.5M129.4 434.33h1.5M95.1 436.83h1.5M104.1 436.83h1.5M111.5 436.83h1.5M129.4 436.83h1.5M132.3 436.83h1.5M81.7 439.32h1.5M90.7 439.32h1.5M101.1 439.32h1.5M110.0 439.32h1.5M114.5 439.32h1.5M118.9 439.32h1.5M123.4 439.32h1.5M127.9 439.32h3.0M78.8 441.82h3.0M89.2 441.82h1.5M93.6 441.82h1.5M110.0 441.82h3.0M114.5 441.82h1.5M117.4 441.82h1.5M145.7 441.82h1.5M77.3 444.31h1.5M81.7 444.31h1.5M84.7 444.31h4.5M93.6 444.31h1.5M96.6 444.31h1.5M104.1 444.31h1.5M111.5 444.31h1.5M127.9 444.31h3.0M86.2 446.81h1.5M96.6 446.81h3.0M101.1 446.81h1.5M107.0 446.81h1.5M132.3 446.81h1.5M84.7 449.30h1.5M93.6 449.30h1.5M105.5 449.30h1.5M116.0 449.30h3.0M121.9 449.30h1.5M126.4 449.30h1.5M129.4 449.30h1.5M142.8 449.30h1.5M153.2 449.30h1.5M174.0 449.30h1.5M83.2 451.80h1.5M87.7 451.80h1.5M98.1 451.80h1.5M102.6 451.80h1.5M107.0 451.80h1.5M110.0 451.80h1.5M130.8 451.80h1.5M141.3 451.80h1.5M153.2 451.80h1.5M165.1 451.80h1.5M89.2 454.29h1.5M93.6 454.29h1.5M107.0 454.29h1.5M114.5 454.29h1.5M123.4 454.29h1.5M129.4 454.29h1.5M132.3 454.29h1.5M84.7 456.79h1.5M105.5 456.79h1.5M127.9 456.79h1.5M130.8 456.79h3.0M135.3 456.79h1.5M142.8 456.79h1.5M150.2 456.79h1.5M154.7 456.79h1.5M165.1 456.79h1.5M169.5 456.79h1.5M80.2 459.28h1.5M92.1 459.28h3.0M96.6 459.28h1.5M102.6 459.28h1.5M105.5 459.28h3.0M120.4 459.28h1.5M129.4 459.28h1.5M142.8 459.28h1.5M157.6 459.28h1.5M166.6 459.28h1.5M63.9 461.78h1.5M75.8 461.78h1.5M84.7 461.78h1.5M92.1 461.78h1.5M95.1 461.78h1.5M120.4 461.78h1.5M123.4 461.78h1.5M163.6 461.78h1.5M80.2 464.27h1.5M95.1 464.27h3.0M101.1 464.27h1.5M107.0 464.27h1.5M133.8 464.27h1.5M139.8 464.27h1.5M165.1 464.27h1.5M78.8 466.77h1.5M84.7 466.77h1.5M90.7 466.77h1.5M99.6 466.77h1.5M113.0 466.77h1.5M117.4 466.77h1.5M121.9 466.77h3.0M130.8 466.77h1.5M133.8 466.77h1.5M139.8 466.77h1.5M160.6 466.77h1.5M163.6 466.77h1.5M84.7 469.26h1.5M90.7 469.26h1.5M98.1 469.26h3.0M104.1 469.26h1.5M132.3 469.26h1.5M69.8 471.76h1.5M74.3 471.76h1.5M81.7 471.76h1.5M87.7 471.76h1.5M92.1 471.76h1.5M95.1 471.76h1.5M99.6 471.76h1.5M117.4 471.76h1.5M121.9 471.76h3.0M130.8 471.76h1.5M65.4 474.25h1.5M68.3 474.25h1.5M80.2 474.25h3.0M111.5 474.25h3.0M141.3 474.25h1.5M147.2 474.25h1.5" stroke="#ccc0cc" stroke-width="2.55"/>
<path d="M77.3 374.45h1.5M89.2 374.45h1.5M99.6 374.45h1.5M105.5 374.45h1.5M121.9 374.45h1.5M124.9 374.45h1.5M80.2 376.94h1.5M83.2 376.94h1.5M90.7 376.94h1.5M93.6 376.94h4.5M99.6 376.94h1.5M114.5 376.94h1.5M117.4 376.94h1.5M81.7 379.44h1.5M84.7 379.44h1.5M90.7 379.44h1.5M95.1 379.44h1.5M104.1 379.44h1.5M107.0 379.44h1.5M124.9 379.44h1.5M127.9 379.44h1.5M142.8 379.44h1.5M80.2 381.93h1.5M84.7 381.93h1.5M87.7 381.93h3.0M92.1 381.93h1.5M98.1 381.93h1.5M107.0 381.93h1.5M126.4 381.93h1.5M72.8 384.43h1.5M77.3 384.43h1.5M87.7 384.43h1.5M95.1 384.43h1.5M111.5 384.43h1.5M116.0 384.43h3.0M130.8 384.43h1.5M92.1 386.92h3.0M99.6 386.92h3.0M130.8 386.92h1.5M59.4 389.42h1.5M65.4 389.42h1.5M83.2 389.42h1.5M89.2 389.42h1.5M93.6 389.42h1.5M127.9 389.42h3.0M74.3 391.91h1.5M95.1 391.91h1.5M99.6 391.91h4.5M108.5 391.91h1.5M116.0 391.91h1.5M130.8 391.91h1.5M83.2 394.41h1.5M89.2 394.41h1.5M104.1 394.41h1.5M144.2 394.41h1.5M74.3 396.90h1.5M95.1 396.90h1.5M126.4 396.90h1.5M80.2 399.40h1.5M86.2 399.40h1.5M101.1 399.40h1.5M111.5 399.40h1.5M117.4 399.40h3.0M136.8 399.40h3.0M78.8 401.89h1.5M86.2 401.89h4.5M92.1 401.89h1.5M98.1 401.89h1.5M101.1 401.89h3.0M121.9 401.89h1.5M124.9 401.89h1.5M141.3 401.89h1.5M86.2 404.39h1.5M105.5 404.39h1.5M130.8 404.39h1.5M81.7 406.88h1.5M89.2 406.88h1.5M92.1 406.88h1.5M98.1 406.88h1.5M105.5 406.88h3.0M126.4 406.88h1.5M78.8 409.38h1.5M81.7 409.38h1.5M92.1 409.38h1.5M98.1 409.38h3.0M105.5 409.38h3.0M114.5 409.38h3.0M132.3 409.38h1.5M83.2 411.87h1.5M89.2 411.87h1.5M99.6 411.87h1.5M110.0 411.87h4.5M83.2 414.37h1.5M96.6 414.37h3.0M101.1 414.37h1.5M107.0 414.37h3.0M123.4 414.37h1.5M129.4 414.37h1.5M153.2 414.37h1.5M78.8 416.86h1.5M86.2 416.86h1.5M90.7 416.86h1.5M96.6 416.86h1.5M99.6 416.86h1.5M111.5 416.86h3.0M116.0 416.86h1.5M132.3 416.86h1.5M89.2 419.36h1.5M96.6 419.36h3.0M102.6 419.36h1.5M108.5 419.36h1.5M114.5 419.36h1.5M104.1 421.85h4.5M113.0 421.85h1.5M117.4 421.85h1.5M74.3 424.35h1.5M78.8 424.35h1.5M99.6 424.35h1.5M72.8 426.85h3.0M93.6 426.85h1.5M108.5 426.85h1.5M123.4 426.85h1.5M63.9 429.34h1.5M68.3 429.34h1.5M83.2 429.34h1.5M86.2 429.34h1.5M90.7 429.34h1.5M102.6 429.34h1.5M110.0 429.34h4.5M121.9 429.34h3.0M129.4 429.34h3.0M71.3 431.84h1.5M74.3 431.84h1.5M84.7 431.84h1.5M98.1 431.84h1.5M105.5 431.84h1.5M108.5 431.84h1.5M113.0 431.84h1.5M116.0 431.84h4.5M121.9 431.84h1.5M132.3 431.84h1.5M75.8 434.33h1.5M80.2 434.33h1.5M99.6 434.33h1.5M116.0 434.33h1.5M120.4 434.33h1.5M133.8 434.33h1.5M101.1 436.83h1.5M83.2 439.32h1.5M86.2 439.32h3.0M93.6 439.32h1.5M98.1 439.32h3.0M107.0 439.32h1.5M130.8 439.32h1.5M83.2 441.82h4.5M123.4 441.82h1.5M174.0 441.82h1.5M71.3 444.31h1.5M101.1 444.31h1.5M130.8 444.31h1.5M80.2 446.81h3.0M89.2 446.81h1.5M93.6 446.81h1.5M133.8 446.81h1.5M83.2 449.30h1.5M107.0 449.30h3.0M113.0 449.30h1.5M120.4 449.30h1.5M123.4 449.30h3.0M127.9 449.30h1.5M84.7 451.80h1.5M95.1 451.80h1.5M101.1 451.80h1.5M104.1 451.80h1.5M114.5 451.80h1.5M87.7 454.29h1.5M96.6 454.29h1.5M102.6 454.29h1.5M116.0 454.29h1.5M165.1 454.29h1.5M80.2 456.79h1.5M93.6 456.79h3.0M98.1 456.79h1.5M102.6 456.79h1.5M108.5 456.79h3.0M113.0 456.79h1.5M116.0 456.79h1.5M124.9 456.79h1.5M133.8 456.79h1.5M78.8 459.28h1.5M89.2 459.28h1.5M113.0 459.28h3.0M117.4 459.28h1.5M163.6 459.28h1.5M86.2 461.78h3.0M96.6 461.78h1.5M99.6 461.78h1.5M162.1 461.78h1.5M86.2 464.27h3.0M92.1 464.27h1.5M104.1 464.27h1.5M124.9 464.27h1.5M130.8 464.27h1.5M163.6 464.27h1.5M83.2 466.77h1.5M111.5 466.77h1.5M124.9 466.77h3.0M132.3 466.77h1.5M60.9 469.26h1.5M75.8 469.26h1.5M78.8 469.26h1.5M83.2 469.26h1.5M93.6 469.26h1.5M127.9 469.26h1.5M60.9 471.76h3.0M65.4 471.76h1.5M71.3 471.76h1.5M77.3 471.76h1.5M114.5 471.76h3.0M139.8 471.76h1.5M74.3 474.25h1.5M90.7 474.25h1.5M102.6 474.25h1.5M123.4 474.25h3.0M135.3 474.25h1.5M139.8 474.25h1.5" stroke="#ccb4c0" stroke-width="2.55"/>
<path d="M78.8 374.45h1.5M81.7 374.45h1.5M92.1 376.94h1.5M111.5 376.94h1.5M80.2 379.44h1.5M117.4 379.44h1.5M124.9 381.93h1.5M65.4 384.43h1.5M69.8 384.43h1.5M121.9 384.43h1.5M81.7 386.92h1.5M116.0 386.92h1.5M81.7 389.42h1.5M96.6 389.42h1.5M102.6 389.42h1.5M78.8 391.91h1.5M98.1 391.91h1.5M124.9 394.41h3.0M68.3 396.90h1.5M78.8 396.90h1.5M81.7 396.90h1.5M86.2 396.90h1.5M95.1 399.40h1.5M116.0 399.40h1.5M130.8 399.40h1.5M66.8 401.89h1.5M75.8 401.89h1.5M110.0 401.89h1.5M68.3 404.39h1.5M90.7 404.39h1.5M117.4 404.39h1.5M65.4 406.88h1.5M129.4 406.88h1.5M63.9 409.38h1.5M74.3 411.87h1.5M95.1 411.87h1.5M81.7 414.37h1.5M116.0 414.37h3.0M87.7 416.86h1.5M68.3 419.36h1.5M84.7 421.85h1.5M99.6 421.85h1.5M102.6 421.85h1.5M108.5 421.85h1.5M132.3 421.85h1.5M60.9 424.35h1.5M81.7 424.35h1.5M101.1 424.35h1.5M81.7 426.85h1.5M77.3 429.34h1.5M84.7 429.34h1.5M92.1 429.34h1.5M98.1 429.34h3.0M105.5 429.34h1.5M133.8 429.34h1.5M96.6 431.84h1.5M99.6 431.84h1.5M63.9 434.33h3.0M84.7 434.33h1.5M66.8 436.83h1.5M133.8 436.83h1.5M117.4 439.32h1.5M101.1 441.82h1.5M104.1 441.82h1.5M118.9 441.82h1.5M59.4 444.31h1.5M65.4 444.31h1.5M68.3 444.31h3.0M83.2 446.81h1.5M92.1 446.81h1.5M110.0 446.81h3.0M87.7 449.30h3.0M96.6 449.30h1.5M132.3 449.30h1.5M66.8 451.80h3.0M80.2 451.80h3.0M92.1 451.80h1.5M105.5 451.80h1.5M116.0 451.80h1.5M59.4 454.29h1.5M105.5 454.29h1.5M89.2 456.79h1.5M96.6 456.79h1.5M101.1 456.79h1.5M118.9 456.79h1.5M68.3 459.28h1.5M121.9 459.28h1.5M89.2 461.78h1.5M124.9 461.78h1.5M71.3 464.27h3.0M77.3 464.27h1.5M83.2 464.27h1.5M102.6 464.27h1.5M113.0 464.27h1.5M86.2 466.77h1.5M59.4 469.26h1.5M68.3 469.26h3.0M113.0 469.26h1.5M120.4 469.26h3.0M126.4 469.26h1.5" stroke="#cc9cb4" stroke-width="2.55"/>
<path d="M83.2 374.45h1.5M107.0 374.45h1.5M81.7 376.94h1.5M108.5 376.94h1.5M133.8 379.44h1.5M116.0 389.42h1.5M62.4 391.91h1.5M65.4 391.91h1.5M68.3 394.41h1.5M87.7 394.41h1.5M98.1 394.41h1.5M81.7 399.40h1.5M105.5 399.40h4.5M126.4 399.40h1.5M71.3 404.39h1.5M129.4 409.38h3.0M66.8 411.87h1.5M86.2 411.87h1.5M93.6 411.87h1.5M59.4 414.37h1.5M63.9 414.37h3.0M75.8 416.86h1.5M102.6 416.86h1.5M66.8 419.36h1.5M86.2 421.85h1.5M71.3 424.35h1.5M87.7 424.35h1.5M124.9 424.35h1.5M83.2 426.85h1.5M69.8 429.34h1.5M74.3 429.34h1.5M104.1 429.34h1.5M63.9 431.84h3.0M120.4 431.84h1.5M60.9 434.33h1.5M72.8 434.33h1.5M71.3 436.83h3.0M87.7 441.82h1.5M127.9 441.82h1.5M80.2 444.31h1.5M59.4 446.81h1.5M78.8 446.81h1.5M87.7 446.81h1.5M114.5 446.81h1.5M63.9 449.30h1.5M68.3 449.30h1.5M118.9 449.30h1.5M65.4 451.80h1.5M86.2 454.29h1.5M83.2 456.79h1.5M69.8 459.28h1.5M75.8 459.28h1.5M81.7 459.28h1.5M84.7 459.28h1.5M83.2 461.78h1.5M121.9 461.78h1.5M133.8 461.78h1.5M89.2 464.27h1.5M111.5 464.27h1.5M114.5 464.27h1.5M62.4 466.77h1.5M77.3 466.77h1.5M63.9 469.26h3.0M74.3 469.26h1.5M80.2 469.26h1.5M123.4 469.26h1.5M63.9 471.76h1.5M62.4 474.25h1.5M84.7 474.25h1.5M98.1 474.25h1.5M110.0 474.25h1.5" stroke="#cc9ca8" stroke-width="2.55"/>
<path d="M90.7 374.45h4.5M96.6 374.45h1.5M101.1 374.45h1.5M104.1 374.45h1.5M110.0 374.45h3.0M118.9 374.45h1.5M133.8 374.45h1.5M138.3 374.45h1.5M107.0 376.94h1.5M124.9 376.94h1.5M136.8 376.94h1.5M147.2 376.94h1.5M156.1 376.94h1.5M98.1 379.44h1.5M116.0 379.44h1.5M129.4 379.44h1.5M59.4 381.93h1.5M93.6 381.93h3.0M104.1 381.93h1.5M117.4 381.93h3.0M121.9 381.93h1.5M144.2 381.93h4.5M172.5 381.93h1.5M86.2 384.43h1.5M101.1 384.43h3.0M108.5 384.43h1.5M129.4 384.43h1.5M86.2 386.92h1.5M108.5 386.92h1.5M118.9 386.92h1.5M126.4 386.92h1.5M129.4 386.92h1.5M151.7 386.92h1.5M84.7 389.42h1.5M108.5 389.42h1.5M113.0 389.42h3.0M117.4 389.42h1.5M133.8 389.42h1.5M147.2 389.42h1.5M80.2 391.91h1.5M90.7 391.91h1.5M93.6 391.91h1.5M121.9 391.91h1.5M147.2 391.91h1.5M150.2 391.91h1.5M90.7 394.41h1.5M99.6 394.41h3.0M121.9 394.41h1.5M133.8 394.41h1.5M138.3 394.41h1.5M147.2 394.41h1.5M98.1 396.90h1.5M116.0 396.90h1.5M121.9 396.90h1.5M135.3 396.90h1.5M174.0 396.90h1.5M92.1 399.40h1.5M99.6 399.40h1.5M144.2 399.40h1.5M151.7 399.40h1.5M168.1 399.40h1.5M74.3 401.89h1.5M135.3 401.89h1.5M139.8 401.89h1.5M107.0 404.39h1.5M113.0 404.39h1.5M154.7 404.39h1.5M165.1 404.39h1.5M87.7 406.88h1.5M118.9 406.88h1.5M110.0 409.38h1.5M118.9 409.38h1.5M121.9 411.87h1.5M133.8 411.87h1.5M138.3 411.87h4.5M150.2 411.87h1.5M163.6 411.87h1.5M168.1 411.87h1.5M172.5 411.87h1.5M87.7 414.37h1.5M90.7 414.37h1.5M104.1 414.37h1.5M110.0 414.37h1.5M118.9 414.37h1.5M138.3 414.37h1.5M144.2 414.37h1.5M154.7 414.37h1.5M101.1 416.86h1.5M123.4 416.86h1.5M86.2 419.36h1.5M90.7 419.36h3.0M123.4 419.36h1.5M132.3 419.36h1.5M141.3 419.36h1.5M92.1 421.85h1.5M111.5 421.85h1.5M123.4 421.85h1.5M130.8 421.85h1.5M80.2 424.35h1.5M96.6 424.35h1.5M118.9 424.35h1.5M123.4 424.35h1.5M78.8 426.85h1.5M86.2 426.85h1.5M90.7 426.85h1.5M96.6 426.85h1.5M101.1 426.85h1.5M151.7 426.85h1.5M95.1 429.34h1.5M117.4 429.34h1.5M174.0 429.34h1.5M72.8 431.84h1.5M90.7 431.84h1.5M114.5 431.84h1.5M123.4 431.84h3.0M147.2 431.84h1.5M86.2 434.33h1.5M90.7 434.33h1.5M101.1 434.33h1.5M117.4 434.33h3.0M127.9 434.33h1.5M130.8 434.33h1.5M80.2 436.83h1.5M90.7 436.83h1.5M96.6 436.83h1.5M107.0 436.83h1.5M110.0 436.83h1.5M113.0 436.83h1.5M123.4 436.83h1.5M126.4 436.83h1.5M135.3 436.83h1.5M145.7 436.83h1.5M174.0 436.83h1.5M89.2 439.32h1.5M124.9 439.32h3.0M132.3 439.32h1.5M81.7 441.82h1.5M107.0 441.82h1.5M124.9 441.82h3.0M129.4 441.82h1.5M133.8 441.82h1.5M166.6 441.82h1.5M172.5 441.82h1.5M78.8 444.31h1.5M83.2 444.31h1.5M90.7 444.31h3.0M102.6 444.31h1.5M118.9 444.31h3.0M135.3 444.31h1.5M145.7 444.31h1.5M90.7 446.81h1.5M104.1 446.81h1.5M123.4 446.81h1.5M126.4 446.81h3.0M138.3 446.81h1.5M148.7 446.81h1.5M174.0 446.81h1.5M90.7 449.30h1.5M98.1 449.30h1.5M165.1 449.30h1.5M120.4 451.80h1.5M124.9 451.80h1.5M132.3 451.80h1.5M83.2 454.29h3.0M127.9 454.29h1.5M145.7 454.29h1.5M156.1 454.29h3.0M92.1 456.79h1.5M99.6 456.79h1.5M104.1 456.79h1.5M107.0 456.79h1.5M111.5 456.79h1.5M114.5 456.79h1.5M121.9 456.79h3.0M126.4 456.79h1.5M83.2 459.28h1.5M108.5 459.28h1.5M130.8 459.28h4.5M102.6 461.78h1.5M108.5 461.78h1.5M111.5 461.78h1.5M165.1 461.78h1.5M78.8 464.27h1.5M90.7 464.27h1.5M99.6 464.27h1.5M105.5 464.27h1.5M123.4 464.27h1.5M129.4 464.27h1.5M135.3 464.27h1.5M159.1 464.27h1.5M162.1 464.27h1.5M98.1 466.77h1.5M105.5 466.77h3.0M110.0 466.77h1.5M116.0 466.77h1.5M159.1 466.77h1.5M96.6 469.26h1.5M111.5 469.26h1.5M114.5 469.26h1.5M133.8 469.26h1.5M138.3 469.26h1.5M83.2 471.76h3.0M96.6 471.76h1.5M101.1 471.76h1.5M118.9 471.76h1.5M124.9 471.76h1.5M145.7 471.76h1.5M159.1 471.76h1.5M78.8 474.25h1.5M93.6 474.25h1.5M99.6 474.25h1.5M104.1 474.25h1.5M126.4 474.25h1.5M145.7 474.25h1.5" stroke="#ccccd8" stroke-width="2.55"/>
<path d="M95.1 374.45h1.5M139.8 374.45h1.5M104.1 376.94h1.5M126.4 376.94h1.5M142.8 376.94h1.5M153.2 376.94h1.5M168.1 379.44h1.5M172.5 379.44h1.5M132.3 384.43h1.5M83.2 386.92h3.0M96.6 386.92h1.5M127.9 386.92h1.5M171.0 386.92h1.5M104.1 389.42h1.5M123.4 389.42h1.5M141.3 389.42h1.5M171.0 389.42h1.5M117.4 391.91h1.5M127.9 391.91h1.5M92.1 394.41h1.5M113.0 394.41h1.5M118.9 394.41h1.5M123.4 394.41h1.5M160.6 394.41h1.5M169.5 394.41h1.5M105.5 396.90h1.5M110.0 396.90h1.5M171.0 396.90h1.5M114.5 399.40h1.5M127.9 399.40h1.5M145.7 399.40h1.5M127.9 401.89h1.5M121.9 404.39h1.5M133.8 404.39h1.5M148.7 404.39h3.0M174.0 404.39h1.5M99.6 406.88h1.5M139.8 406.88h1.5M80.2 409.38h1.5M83.2 409.38h3.0M104.1 409.38h1.5M172.5 409.38h1.5M81.7 411.87h1.5M92.1 411.87h1.5M126.4 411.87h1.5M86.2 414.37h1.5M141.3 414.37h1.5M98.1 416.86h1.5M107.0 416.86h3.0M153.2 416.86h1.5M80.2 419.36h1.5M84.7 419.36h1.5M113.0 419.36h1.5M121.9 419.36h1.5M126.4 419.36h1.5M129.4 419.36h1.5M133.8 419.36h1.5M163.6 419.36h1.5M127.9 421.85h1.5M135.3 421.85h1.5M142.8 421.85h1.5M163.6 421.85h1.5M114.5 424.35h1.5M121.9 424.35h1.5M130.8 424.35h1.5M133.8 424.35h1.5M102.6 426.85h1.5M117.4 426.85h1.5M120.4 426.85h1.5M126.4 426.85h1.5M133.8 426.85h1.5M124.9 429.34h3.0M135.3 429.34h1.5M168.1 429.34h1.5M104.1 431.84h1.5M135.3 431.84h1.5M104.1 434.33h3.0M108.5 434.33h1.5M114.5 434.33h1.5M89.2 436.83h1.5M114.5 436.83h1.5M127.9 436.83h1.5M147.2 436.83h1.5M135.3 439.32h1.5M153.2 439.32h1.5M90.7 441.82h1.5M96.6 441.82h3.0M105.5 441.82h1.5M108.5 441.82h1.5M98.1 444.31h1.5M136.8 444.31h1.5M117.4 446.81h3.0M129.4 446.81h1.5M139.8 446.81h1.5M99.6 449.30h1.5M136.8 449.30h1.5M145.7 449.30h1.5M154.7 449.30h1.5M162.1 449.30h1.5M118.9 451.80h1.5M110.0 454.29h1.5M136.8 454.29h1.5M138.3 456.79h3.0M151.7 456.79h3.0M171.0 456.79h1.5M118.9 459.28h1.5M138.3 459.28h1.5M148.7 459.28h1.5M165.1 459.28h1.5M174.0 459.28h1.5M101.1 461.78h1.5M105.5 461.78h1.5M110.0 461.78h1.5M138.3 461.78h1.5M157.6 461.78h1.5M126.4 464.27h1.5M138.3 464.27h1.5M141.3 464.27h1.5M145.7 464.27h1.5M148.7 464.27h1.5M157.6 464.27h1.5M160.6 464.27h1.5M95.1 466.77h1.5M102.6 466.77h1.5M114.5 466.77h1.5M120.4 466.77h1.5M129.4 466.77h1.5M135.3 469.26h1.5M142.8 469.26h1.5M80.2 471.76h1.5M60.9 474.25h1.5M105.5 474.25h3.0M129.4 474.25h1.5M142.8 474.25h1.5" stroke="#c0c0cc" stroke-width="2.55"/>
<path d="M102.6 374.45h1.5M135.3 374.45h1.5M160.6 376.94h1.5M138.3 379.44h1.5M169.5 379.44h1.5M141.3 381.93h1.5M147.2 384.43h1.5M153.2 384.43h1.5M169.5 386.92h1.5M136.8 389.42h1.5M153.2 389.42h1.5M141.3 391.91h1.5M156.1 391.91h1.5M129.4 394.41h1.5M168.1 394.41h1.5M108.5 396.90h1.5M142.8 396.90h1.5M150.2 399.40h1.5M157.6 399.40h1.5M113.0 401.89h1.5M154.7 401.89h1.5M157.6 401.89h1.5M162.1 401.89h1.5M136.8 404.39h1.5M151.7 404.39h1.5M159.1 404.39h1.5M171.0 404.39h1.5M142.8 406.88h1.5M148.7 406.88h1.5M151.7 406.88h1.5M90.7 409.38h1.5M147.2 409.38h1.5M127.9 411.87h1.5M147.2 411.87h1.5M151.7 411.87h1.5M154.7 411.87h1.5M162.1 411.87h1.5M138.3 416.86h1.5M147.2 416.86h1.5M166.6 416.86h1.5M124.9 419.36h1.5M127.9 419.36h1.5M147.2 419.36h1.5M150.2 419.36h1.5M174.0 419.36h1.5M144.2 421.85h1.5M156.1 421.85h1.5M145.7 424.35h3.0M145.7 426.85h1.5M150.2 429.34h1.5M153.2 429.34h1.5M160.6 429.34h1.5M153.2 431.84h3.0M168.1 431.84h1.5M83.2 434.33h1.5M89.2 434.33h1.5M117.4 436.83h1.5M142.8 436.83h1.5M148.7 436.83h1.5M156.1 436.83h1.5M121.9 439.32h1.5M145.7 439.32h1.5M150.2 439.32h1.5M174.0 439.32h1.5M148.7 441.82h1.5M168.1 441.82h1.5M89.2 444.31h1.5M126.4 444.31h1.5M147.2 444.31h1.5M151.7 446.81h1.5M162.1 446.81h1.5M102.6 449.30h1.5M99.6 451.80h1.5M154.7 451.80h1.5M163.6 451.80h1.5M113.0 454.29h1.5M168.1 454.29h1.5M163.6 456.79h1.5M168.1 456.79h1.5M111.5 459.28h1.5M172.5 459.28h1.5M141.3 461.78h1.5M145.7 461.78h1.5M166.6 461.78h3.0M117.4 464.27h1.5M121.9 464.27h1.5M142.8 464.27h1.5M172.5 464.27h1.5M142.8 466.77h1.5M172.5 466.77h1.5M108.5 469.26h1.5M133.8 471.76h1.5M150.2 471.76h1.5M150.2 474.25h1.5M159.1 474.25h1.5M162.1 474.25h1.5M166.6 474.25h1.5" stroke="#b4a8cc" stroke-width="2.55"/>
<path d="M108.5 374.45h1.5M118.9 376.94h1.5M123.4 376.94h1.5M145.7 376.94h1.5M78.8 379.44h1.5M83.2 379.44h1.5M113.0 379.44h1.5M126.4 379.44h1.5M68.3 381.93h1.5M90.7 381.93h1.5M99.6 381.93h3.0M114.5 381.93h1.5M105.5 384.43h1.5M75.8 386.92h1.5M89.2 386.92h1.5M104.1 386.92h1.5M113.0 386.92h3.0M124.9 386.92h1.5M62.4 389.42h1.5M92.1 389.42h1.5M98.1 389.42h1.5M107.0 389.42h1.5M121.9 389.42h1.5M154.7 389.42h1.5M59.4 391.91h1.5M104.1 391.91h3.0M78.8 394.41h1.5M105.5 394.41h1.5M145.7 394.41h1.5M72.8 396.90h1.5M120.4 396.90h1.5M87.7 399.40h1.5M93.6 399.40h1.5M63.9 401.89h1.5M99.6 401.89h1.5M120.4 401.89h1.5M132.3 401.89h1.5M96.6 404.39h1.5M102.6 404.39h1.5M118.9 404.39h1.5M129.4 404.39h1.5M117.4 406.88h1.5M120.4 406.88h1.5M124.9 406.88h1.5M60.9 409.38h1.5M87.7 409.38h1.5M101.1 409.38h1.5M95.1 414.37h1.5M102.6 414.37h1.5M151.7 414.37h1.5M77.3 416.86h1.5M80.2 416.86h1.5M93.6 416.86h1.5M118.9 416.86h1.5M83.2 421.85h1.5M87.7 421.85h1.5M95.1 421.85h1.5M98.1 421.85h1.5M59.4 424.35h1.5M77.3 424.35h1.5M95.1 424.35h1.5M105.5 424.35h1.5M68.3 426.85h1.5M71.3 426.85h1.5M105.5 426.85h3.0M113.0 426.85h1.5M78.8 429.34h3.0M89.2 429.34h1.5M96.6 429.34h1.5M114.5 429.34h1.5M68.3 431.84h1.5M110.0 431.84h1.5M127.9 431.84h1.5M78.8 434.33h1.5M95.1 434.33h1.5M63.9 436.83h1.5M86.2 436.83h1.5M108.5 436.83h1.5M80.2 439.32h1.5M95.1 439.32h3.0M63.9 441.82h1.5M72.8 444.31h1.5M75.8 444.31h1.5M108.5 444.31h3.0M84.7 446.81h1.5M108.5 446.81h1.5M86.2 449.30h1.5M93.6 451.80h1.5M108.5 451.80h1.5M104.1 454.29h1.5M130.8 454.29h1.5M90.7 456.79h1.5M129.4 456.79h1.5M87.7 459.28h1.5M104.1 459.28h1.5M156.1 459.28h1.5M65.4 461.78h1.5M77.3 461.78h1.5M107.0 461.78h1.5M126.4 461.78h1.5M130.8 461.78h3.0M59.4 464.27h1.5M93.6 464.27h1.5M66.8 466.77h1.5M81.7 466.77h1.5M92.1 466.77h1.5M62.4 469.26h1.5M95.1 469.26h1.5M113.0 471.76h1.5M63.9 474.25h1.5M72.8 474.25h1.5M83.2 474.25h1.5M89.2 474.25h1.5M92.1 474.25h1.5M96.6 474.25h1.5M101.1 474.25h1.5" stroke="#cca8b4" stroke-width="2.55"/>
<path d="M117.4 374.45h1.5M63.9 389.42h1.5M68.3 391.91h1.5M87.7 391.91h1.5M74.3 394.41h1.5M65.4 396.90h1.5M77.3 396.90h1.5M66.8 399.40h1.5M62.4 401.89h1.5M59.4 409.38h1.5M63.9 411.87h1.5M59.4 416.86h1.5M65.4 416.86h1.5M74.3 421.85h1.5M65.4 429.34h1.5M59.4 439.32h1.5M77.3 441.82h1.5M68.3 446.81h1.5M65.4 449.30h1.5M62.4 451.80h1.5M75.8 451.80h1.5M123.4 451.80h1.5M78.8 454.29h1.5M69.8 464.27h1.5" stroke="#b47890" stroke-width="2.55"/>
<path d="M120.4 374.45h1.5M105.5 379.44h1.5M123.4 379.44h1.5M144.2 379.44h1.5M123.4 381.93h1.5M123.4 384.43h1.5M142.8 389.42h1.5M89.2 391.91h1.5M96.6 394.41h1.5M80.2 396.90h1.5M101.1 396.90h1.5M81.7 401.89h1.5M124.9 404.39h1.5M121.9 409.38h1.5M107.0 411.87h1.5M129.4 411.87h1.5M89.2 414.37h1.5M114.5 416.86h1.5M101.1 419.36h1.5M101.1 421.85h1.5M92.1 424.35h1.5M98.1 434.33h1.5M84.7 439.32h1.5M92.1 439.32h1.5M102.6 439.32h1.5M99.6 441.82h1.5M114.5 449.30h1.5M86.2 451.80h1.5M111.5 451.80h1.5M121.9 451.80h1.5M124.9 454.29h1.5M98.1 464.27h1.5M118.9 466.77h1.5M87.7 469.26h1.5M68.3 471.76h1.5M98.1 471.76h1.5" stroke="#ccb4cc" stroke-width="2.55"/>
<path d="M123.4 374.45h1.5M121.9 376.94h1.5M86.2 379.44h1.5M96.6 379.44h1.5M111.5 379.44h1.5M130.8 379.44h1.5M83.2 381.93h1.5M80.2 384.43h1.5M120.4 384.43h1.5M90.7 386.92h1.5M102.6 386.92h1.5M120.4 386.92h1.5M111.5 391.91h1.5M93.6 394.41h1.5M102.6 394.41h1.5M132.3 394.41h1.5M84.7 396.90h1.5M92.1 396.90h1.5M118.9 396.90h1.5M84.7 399.40h1.5M80.2 401.89h1.5M116.0 401.89h1.5M123.4 401.89h1.5M78.8 406.88h1.5M93.6 406.88h1.5M127.9 406.88h1.5M117.4 409.38h1.5M84.7 411.87h1.5M117.4 411.87h3.0M105.5 414.37h1.5M120.4 414.37h1.5M127.9 414.37h1.5M83.2 416.86h1.5M117.4 416.86h1.5M104.1 419.36h1.5M60.9 426.85h1.5M72.8 429.34h1.5M87.7 429.34h1.5M93.6 429.34h1.5M86.2 431.84h1.5M95.1 431.84h1.5M130.8 431.84h1.5M92.1 434.33h1.5M87.7 436.83h1.5M102.6 436.83h1.5M116.0 436.83h1.5M130.8 436.83h1.5M62.4 439.32h1.5M104.1 439.32h1.5M111.5 439.32h1.5M75.8 441.82h1.5M121.9 441.82h1.5M63.9 444.31h1.5M107.0 444.31h1.5M95.1 446.81h1.5M130.8 446.81h1.5M95.1 449.30h1.5M71.3 454.29h1.5M80.2 454.29h3.0M101.1 454.29h1.5M108.5 454.29h1.5M120.4 456.79h1.5M66.8 459.28h1.5M95.1 459.28h1.5M162.1 459.28h1.5M60.9 461.78h1.5M114.5 461.78h4.5M129.4 461.78h1.5M60.9 464.27h1.5M81.7 464.27h1.5M108.5 464.27h1.5M89.2 466.77h1.5M93.6 466.77h1.5M77.3 469.26h1.5M92.1 469.26h1.5M139.8 469.26h1.5M75.8 471.76h1.5M120.4 471.76h1.5" stroke="#cca8c0" stroke-width="2.55"/>
<path d="M127.9 374.45h1.5M144.2 376.94h1.5M156.1 379.44h1.5M133.8 386.92h1.5M124.9 391.91h1.5M96.6 396.90h1.5M147.2 399.40h1.5M96.6 401.89h1.5M89.2 409.38h1.5M127.9 409.38h1.5M162.1 414.37h1.5M150.2 416.86h1.5M107.0 424.35h1.5M145.7 429.34h1.5M78.8 436.83h1.5M124.9 436.83h1.5M130.8 441.82h1.5M96.6 451.80h1.5M110.0 459.28h1.5M153.2 459.28h1.5M98.1 461.78h1.5M120.4 464.27h1.5" stroke="#cccccc" stroke-width="2.55"/>
<path d="M129.4 374.45h1.5M142.8 374.45h1.5M148.7 374.45h3.0M154.7 374.45h1.5M98.1 376.94h1.5M148.7 376.94h1.5M154.7 376.94h1.5M165.1 376.94h1.5M174.0 376.94h1.5M154.7 379.44h1.5M159.1 379.44h1.5M174.0 379.44h1.5M110.0 381.93h1.5M171.0 381.93h1.5M99.6 384.43h1.5M127.9 384.43h1.5M157.6 384.43h1.5M172.5 384.43h3.0M110.0 386.92h1.5M135.3 386.92h1.5M153.2 386.92h1.5M174.0 386.92h1.5M139.8 389.42h1.5M144.2 389.42h1.5M163.6 389.42h3.0M168.1 389.42h1.5M136.8 391.91h1.5M148.7 391.91h1.5M110.0 394.41h3.0M135.3 394.41h3.0M148.7 394.41h3.0M166.6 394.41h1.5M99.6 396.90h1.5M141.3 396.90h1.5M144.2 396.90h3.0M162.1 396.90h1.5M98.1 399.40h1.5M153.2 399.40h1.5M165.1 399.40h1.5M171.0 399.40h1.5M174.0 399.40h1.5M114.5 401.89h1.5M129.4 401.89h1.5M151.7 401.89h1.5M163.6 401.89h1.5M139.8 404.39h1.5M147.2 404.39h1.5M163.6 404.39h1.5M86.2 406.88h1.5M108.5 409.38h1.5M151.7 409.38h1.5M135.3 411.87h1.5M153.2 411.87h1.5M171.0 411.87h1.5M130.8 414.37h1.5M160.6 414.37h1.5M163.6 414.37h1.5M166.6 414.37h1.5M169.5 414.37h1.5M172.5 414.37h1.5M129.4 416.86h1.5M148.7 416.86h1.5M151.7 416.86h1.5M165.1 416.86h1.5M169.5 416.86h3.0M144.2 419.36h1.5M157.6 419.36h1.5M90.7 421.85h1.5M129.4 421.85h1.5M136.8 421.85h1.5M139.8 421.85h1.5M148.7 421.85h3.0M154.7 421.85h1.5M157.6 421.85h1.5M84.7 424.35h1.5M90.7 424.35h1.5M110.0 424.35h1.5M150.2 424.35h1.5M89.2 426.85h1.5M104.1 426.85h1.5M121.9 426.85h1.5M129.4 426.85h1.5M165.1 426.85h3.0M139.8 429.34h1.5M154.7 429.34h1.5M157.6 429.34h1.5M81.7 431.84h1.5M87.7 431.84h1.5M126.4 431.84h1.5M148.7 431.84h1.5M156.1 431.84h1.5M81.7 434.33h1.5M126.4 434.33h1.5M135.3 434.33h1.5M148.7 434.33h1.5M105.5 439.32h1.5M120.4 439.32h1.5M133.8 439.32h1.5M157.6 439.32h3.0M135.3 441.82h1.5M147.2 441.82h1.5M157.6 441.82h1.5M117.4 444.31h1.5M132.3 444.31h1.5M99.6 446.81h1.5M136.8 446.81h1.5M147.2 446.81h1.5M150.2 446.81h1.5M153.2 446.81h1.5M169.5 446.81h1.5M101.1 449.30h1.5M104.1 449.30h1.5M135.3 449.30h1.5M144.2 449.30h1.5M157.6 449.30h1.5M163.6 449.30h1.5M172.5 449.30h1.5M133.8 451.80h1.5M147.2 451.80h3.0M156.1 451.80h1.5M160.6 451.80h3.0M166.6 451.80h1.5M142.8 454.29h3.0M147.2 454.29h1.5M151.7 454.29h1.5M166.6 454.29h1.5M174.0 454.29h1.5M145.7 456.79h3.0M172.5 456.79h1.5M98.1 459.28h1.5M116.0 459.28h1.5M123.4 459.28h1.5M135.3 459.28h1.5M139.8 459.28h1.5M154.7 459.28h1.5M136.8 461.78h1.5M139.8 461.78h1.5M147.2 461.78h1.5M150.2 461.78h3.0M171.0 461.78h1.5M144.2 464.27h1.5M147.2 464.27h1.5M156.1 464.27h1.5M169.5 464.27h1.5M96.6 466.77h1.5M108.5 466.77h1.5M141.3 466.77h1.5M144.2 466.77h3.0M165.1 466.77h1.5M174.0 466.77h1.5M102.6 469.26h1.5M110.0 469.26h1.5M130.8 469.26h1.5M147.2 469.26h1.5M150.2 469.26h1.5M160.6 469.26h3.0M168.1 469.26h1.5M104.1 471.76h1.5M126.4 471.76h1.5M135.3 471.76h1.5M147.2 471.76h1.5M169.5 471.76h1.5M138.3 474.25h1.5M148.7 474.25h1.5M160.6 474.25h1.5M169.5 474.25h1.5M174.0 474.25h1.5" stroke="#b4b4cc" stroke-width="2.55"/>
<path d="M130.8 374.45h1.5M102.6 376.94h1.5M150.2 376.94h1.5M163.6 376.94h1.5M92.1 379.44h1.5M110.0 379.44h1.5M121.9 379.44h1.5M139.8 379.44h1.5M153.2 379.44h1.5M130.8 381.93h1.5M133.8 381.93h1.5M95.1 386.92h1.5M98.1 386.92h1.5M107.0 386.92h1.5M111.5 386.92h1.5M154.7 386.92h1.5M111.5 389.42h1.5M135.3 389.42h1.5M156.1 389.42h1.5M172.5 389.42h1.5M84.7 391.91h1.5M120.4 391.91h1.5M129.4 391.91h1.5M132.3 391.91h3.0M145.7 391.91h1.5M154.7 391.91h1.5M80.2 394.41h1.5M107.0 394.41h1.5M117.4 394.41h1.5M123.4 396.90h1.5M129.4 396.90h4.5M148.7 399.40h1.5M83.2 401.89h3.0M95.1 401.89h1.5M118.9 401.89h1.5M132.3 404.39h1.5M141.3 404.39h1.5M172.5 404.39h1.5M84.7 406.88h1.5M104.1 406.88h1.5M111.5 406.88h1.5M114.5 406.88h1.5M133.8 406.88h1.5M166.6 409.38h1.5M108.5 411.87h1.5M114.5 411.87h1.5M160.6 411.87h1.5M84.7 414.37h1.5M92.1 414.37h1.5M111.5 414.37h1.5M124.9 414.37h1.5M84.7 416.86h1.5M92.1 416.86h1.5M78.8 419.36h1.5M87.7 419.36h1.5M93.6 419.36h3.0M110.0 421.85h1.5M117.4 424.35h1.5M120.4 424.35h1.5M62.4 426.85h1.5M95.1 426.85h1.5M98.1 426.85h1.5M118.9 426.85h1.5M81.7 429.34h1.5M136.8 429.34h1.5M148.7 429.34h1.5M151.7 429.34h1.5M156.1 429.34h1.5M102.6 431.84h1.5M110.0 434.33h1.5M171.0 434.33h1.5M98.1 436.83h1.5M118.9 436.83h3.0M138.3 436.83h1.5M95.1 441.82h1.5M116.0 441.82h1.5M132.3 441.82h1.5M105.5 444.31h1.5M116.0 444.31h1.5M113.0 446.81h1.5M120.4 446.81h1.5M135.3 446.81h1.5M139.8 449.30h3.0M89.2 451.80h3.0M117.4 451.80h1.5M142.8 451.80h1.5M69.8 454.29h1.5M133.8 454.29h1.5M141.3 456.79h1.5M148.7 456.79h1.5M90.7 459.28h1.5M150.2 459.28h1.5M90.7 461.78h1.5M93.6 461.78h1.5M104.1 461.78h1.5M113.0 461.78h1.5M135.3 461.78h1.5M144.2 461.78h1.5M151.7 464.27h1.5M101.1 466.77h1.5M104.1 466.77h1.5M127.9 466.77h1.5M138.3 466.77h1.5M162.1 466.77h1.5M89.2 469.26h1.5M118.9 469.26h1.5M141.3 469.26h1.5M145.7 469.26h1.5M72.8 471.76h1.5M89.2 471.76h1.5M102.6 471.76h1.5M111.5 471.76h1.5M138.3 471.76h1.5M120.4 474.25h1.5M130.8 474.25h1.5M136.8 474.25h1.5" stroke="#ccc0d8" stroke-width="2.55"/>
<path d="M141.3 374.45h1.5M151.7 374.45h1.5M105.5 376.94h1.5M116.0 376.94h1.5M135.3 376.94h1.5M159.1 376.94h1.5M168.1 376.94h1.5M108.5 379.44h1.5M148.7 379.44h1.5M157.6 379.44h1.5M166.6 379.44h1.5M139.8 381.93h1.5M148.7 381.93h1.5M154.7 381.93h1.5M118.9 384.43h1.5M144.2 384.43h1.5M159.1 384.43h1.5M105.5 386.92h1.5M165.1 386.92h1.5M105.5 389.42h1.5M145.7 389.42h1.5M144.2 391.91h1.5M162.1 391.91h1.5M108.5 394.41h1.5M114.5 394.41h1.5M127.9 394.41h1.5M111.5 396.90h1.5M127.9 396.90h1.5M157.6 396.90h1.5M169.5 396.90h1.5M90.7 399.40h1.5M154.7 399.40h1.5M166.6 399.40h1.5M169.5 399.40h1.5M150.2 401.89h1.5M142.8 404.39h1.5M156.1 404.39h3.0M83.2 406.88h1.5M108.5 406.88h1.5M141.3 406.88h1.5M120.4 409.38h1.5M153.2 409.38h3.0M116.0 411.87h1.5M130.8 411.87h1.5M126.4 414.37h1.5M133.8 414.37h1.5M174.0 414.37h1.5M127.9 416.86h1.5M141.3 416.86h6.0M168.1 416.86h1.5M83.2 419.36h1.5M135.3 419.36h1.5M156.1 419.36h1.5M114.5 421.85h3.0M145.7 421.85h3.0M111.5 424.35h1.5M127.9 424.35h1.5M132.3 424.35h1.5M138.3 424.35h1.5M166.6 424.35h1.5M110.0 426.85h1.5M116.0 426.85h1.5M135.3 426.85h1.5M147.2 426.85h1.5M162.1 426.85h3.0M144.2 429.34h1.5M159.1 429.34h1.5M138.3 431.84h1.5M151.7 431.84h1.5M163.6 431.84h1.5M111.5 434.33h1.5M132.3 434.33h1.5M81.7 436.83h3.0M93.6 436.83h1.5M99.6 436.83h1.5M105.5 436.83h1.5M136.8 436.83h1.5M144.2 436.83h1.5M113.0 439.32h1.5M138.3 439.32h1.5M163.6 439.32h1.5M113.0 441.82h1.5M141.3 441.82h1.5M95.1 444.31h1.5M133.8 444.31h1.5M166.6 444.31h1.5M102.6 446.81h1.5M145.7 446.81h1.5M133.8 449.30h1.5M138.3 449.30h1.5M147.2 449.30h1.5M156.1 449.30h1.5M166.6 449.30h1.5M127.9 451.80h1.5M120.4 454.29h1.5M135.3 454.29h1.5M138.3 454.29h1.5M162.1 454.29h1.5M172.5 454.29h1.5M117.4 456.79h1.5M136.8 456.79h1.5M162.1 456.79h1.5M174.0 456.79h1.5M99.6 459.28h3.0M126.4 459.28h3.0M145.7 459.28h1.5M169.5 459.28h1.5M118.9 461.78h1.5M127.9 461.78h1.5M148.7 461.78h1.5M169.5 461.78h1.5M116.0 464.27h1.5M127.9 464.27h1.5M132.3 464.27h1.5M136.8 464.27h1.5M150.2 464.27h1.5M150.2 466.77h3.0M144.2 469.26h1.5M166.6 469.26h1.5M66.8 471.76h1.5M78.8 471.76h1.5M86.2 471.76h1.5M105.5 471.76h1.5M110.0 471.76h1.5M132.3 471.76h1.5M141.3 471.76h1.5M114.5 474.25h1.5M118.9 474.25h1.5M121.9 474.25h1.5M144.2 474.25h1.5" stroke="#c0b4cc" stroke-width="2.55"/>
<path d="M144.2 374.45h4.5M162.1 374.45h1.5M169.5 374.45h1.5M136.8 379.44h1.5M116.0 381.93h1.5M138.3 381.93h1.5M142.8 381.93h1.5M150.2 381.93h1.5M153.2 381.93h1.5M156.1 381.93h1.5M141.3 384.43h1.5M150.2 384.43h1.5M162.1 384.43h1.5M139.8 386.92h1.5M150.2 386.92h1.5M156.1 386.92h1.5M162.1 386.92h1.5M166.6 386.92h1.5M138.3 389.42h1.5M159.1 391.91h1.5M172.5 391.91h1.5M159.1 394.41h1.5M163.6 394.41h1.5M114.5 396.90h1.5M138.3 396.90h3.0M159.1 396.90h3.0M105.5 401.89h1.5M136.8 401.89h1.5M144.2 401.89h1.5M148.7 401.89h1.5M156.1 401.89h1.5M159.1 401.89h1.5M165.1 401.89h1.5M168.1 401.89h1.5M135.3 404.39h1.5M113.0 406.88h1.5M147.2 406.88h1.5M166.6 406.88h1.5M135.3 409.38h3.0M139.8 409.38h3.0M148.7 409.38h1.5M168.1 409.38h1.5M104.1 411.87h1.5M132.3 414.37h1.5M136.8 414.37h1.5M159.1 414.37h1.5M168.1 414.37h1.5M171.0 414.37h1.5M126.4 416.86h1.5M139.8 416.86h1.5M154.7 416.86h1.5M136.8 419.36h4.5M172.5 421.85h1.5M136.8 424.35h1.5M142.8 424.35h1.5M153.2 424.35h1.5M84.7 426.85h1.5M136.8 426.85h1.5M153.2 426.85h1.5M160.6 426.85h1.5M142.8 429.34h1.5M163.6 429.34h1.5M166.6 429.34h1.5M136.8 431.84h1.5M139.8 431.84h1.5M142.8 431.84h1.5M162.1 431.84h1.5M87.7 434.33h1.5M150.2 436.83h1.5M136.8 441.82h1.5M156.1 441.82h1.5M99.6 444.31h1.5M121.9 444.31h3.0M148.7 444.31h1.5M157.6 444.31h1.5M160.6 444.31h1.5M174.0 444.31h1.5M171.0 446.81h1.5M168.1 449.30h4.5M129.4 451.80h1.5M138.3 451.80h3.0M145.7 451.80h1.5M151.7 451.80h1.5M157.6 451.80h1.5M118.9 454.29h1.5M139.8 454.29h1.5M148.7 454.29h1.5M153.2 454.29h1.5M144.2 456.79h1.5M160.6 456.79h1.5M166.6 456.79h1.5M124.9 459.28h1.5M136.8 459.28h1.5M141.3 459.28h1.5M144.2 459.28h1.5M147.2 459.28h1.5M171.0 459.28h1.5M80.2 461.78h1.5M153.2 461.78h1.5M154.7 464.27h1.5M171.0 464.27h1.5M136.8 466.77h1.5M148.7 466.77h1.5M153.2 466.77h1.5M157.6 466.77h1.5M169.5 466.77h1.5M101.1 469.26h1.5M129.4 469.26h1.5M136.8 469.26h1.5M154.7 469.26h6.0M165.1 469.26h1.5M127.9 471.76h1.5M160.6 471.76h3.0M66.8 474.25h1.5M132.3 474.25h1.5M151.7 474.25h1.5M157.6 474.25h1.5M163.6 474.25h3.0M172.5 474.25h1.5" stroke="#a8a8cc" stroke-width="2.55"/>
<path d="M153.2 374.45h1.5M157.6 374.45h1.5M163.6 379.44h1.5M142.8 384.43h1.5M141.3 386.92h1.5M163.6 386.92h1.5M151.7 389.42h1.5M166.6 389.42h1.5M169.5 389.42h1.5M142.8 391.91h1.5M169.5 391.91h1.5M174.0 394.41h1.5M148.7 396.90h1.5M151.7 396.90h1.5M156.1 396.90h1.5M160.6 399.40h3.0M172.5 399.40h1.5M153.2 404.39h1.5M160.6 404.39h1.5M162.1 406.88h1.5M156.1 409.38h1.5M157.6 411.87h1.5M147.2 414.37h1.5M148.7 419.36h1.5M154.7 419.36h1.5M153.2 421.85h1.5M159.1 421.85h1.5M169.5 421.85h1.5M144.2 424.35h1.5M157.6 424.35h1.5M163.6 424.35h1.5M172.5 424.35h3.0M144.2 426.85h1.5M154.7 426.85h1.5M168.1 426.85h1.5M145.7 431.84h1.5M160.6 431.84h1.5M165.1 431.84h1.5M123.4 434.33h1.5M141.3 434.33h3.0M163.6 436.83h1.5M148.7 439.32h1.5M92.1 441.82h1.5M144.2 441.82h1.5M163.6 441.82h1.5M168.1 446.81h1.5M174.0 451.80h1.5M111.5 454.29h1.5M126.4 454.29h1.5M141.3 454.29h1.5M160.6 454.29h1.5M159.1 461.78h3.0M108.5 471.76h1.5M156.1 471.76h3.0M171.0 471.76h1.5M174.0 471.76h1.5" stroke="#9090c0" stroke-width="2.55"/>
<path d="M156.1 374.45h1.5M160.6 374.45h1.5M163.6 374.45h1.5M162.1 376.94h1.5M166.6 376.94h1.5M172.5 376.94h1.5M160.6 379.44h3.0M159.1 381.93h1.5M162.1 381.93h1.5M166.6 381.93h3.0M110.0 384.43h1.5M138.3 384.43h3.0M148.7 384.43h1.5M154.7 384.43h1.5M160.6 384.43h1.5M171.0 384.43h1.5M172.5 386.92h1.5M174.0 389.42h1.5M157.6 391.91h1.5M165.1 391.91h1.5M139.8 394.41h1.5M142.8 394.41h1.5M157.6 394.41h1.5M159.1 399.40h1.5M138.3 401.89h1.5M166.6 401.89h1.5M169.5 401.89h1.5M138.3 404.39h1.5M144.2 404.39h3.0M138.3 406.88h1.5M144.2 406.88h3.0M157.6 406.88h1.5M138.3 409.38h1.5M142.8 409.38h1.5M157.6 409.38h1.5M165.1 409.38h1.5M171.0 409.38h1.5M136.8 411.87h1.5M135.3 414.37h1.5M157.6 414.37h1.5M160.6 416.86h3.0M172.5 416.86h1.5M145.7 419.36h1.5M151.7 419.36h1.5M160.6 419.36h1.5M141.3 421.85h1.5M166.6 421.85h1.5M135.3 424.35h1.5M141.3 424.35h1.5M154.7 424.35h1.5M159.1 424.35h1.5M127.9 426.85h1.5M147.2 429.34h1.5M165.1 429.34h1.5M141.3 431.84h1.5M166.6 431.84h1.5M169.5 431.84h4.5M136.8 434.33h1.5M145.7 434.33h1.5M153.2 434.33h4.5M163.6 434.33h1.5M139.8 436.83h3.0M151.7 436.83h4.5M157.6 436.83h4.5M166.6 436.83h6.0M142.8 439.32h3.0M156.1 439.32h1.5M162.1 439.32h1.5M168.1 439.32h1.5M139.8 441.82h1.5M144.2 444.31h1.5M159.1 444.31h1.5M168.1 444.31h3.0M141.3 446.81h1.5M144.2 446.81h1.5M163.6 446.81h3.0M159.1 449.30h3.0M126.4 451.80h1.5M135.3 451.80h1.5M144.2 451.80h1.5M171.0 451.80h1.5M117.4 454.29h1.5M150.2 454.29h1.5M159.1 454.29h1.5M157.6 456.79h1.5M172.5 461.78h1.5M135.3 466.77h1.5M147.2 466.77h1.5M154.7 466.77h3.0M148.7 469.26h1.5M163.6 469.26h1.5M172.5 469.26h1.5M154.7 471.76h1.5M163.6 471.76h1.5M116.0 474.25h3.0" stroke="#9c9cc0" stroke-width="2.55"/>
<path d="M159.1 374.45h1.5M157.6 376.94h1.5M169.5 376.94h1.5M136.8 381.93h1.5M151.7 381.93h1.5M145.7 384.43h1.5M168.1 384.43h1.5M147.2 386.92h1.5M159.1 389.42h1.5M153.2 391.91h1.5M166.6 391.91h3.0M141.3 394.41h1.5M153.2 394.41h1.5M107.0 396.90h1.5M136.8 396.90h1.5M117.4 401.89h1.5M160.6 401.89h1.5M174.0 401.89h1.5M166.6 404.39h1.5M154.7 406.88h1.5M150.2 409.38h1.5M159.1 411.87h1.5M165.1 411.87h1.5M169.5 411.87h1.5M174.0 411.87h1.5M124.9 416.86h1.5M136.8 416.86h1.5M156.1 416.86h1.5M163.6 416.86h1.5M174.0 421.85h1.5M148.7 424.35h1.5M169.5 424.35h1.5M148.7 426.85h1.5M83.2 431.84h1.5M144.2 431.84h1.5M139.8 434.33h1.5M144.2 434.33h1.5M169.5 434.33h1.5M121.9 436.83h1.5M139.8 439.32h1.5M147.2 439.32h1.5M154.7 439.32h1.5M113.0 444.31h3.0M124.9 444.31h1.5M138.3 444.31h1.5M165.1 444.31h1.5M172.5 444.31h1.5M124.9 446.81h1.5M156.1 446.81h1.5M172.5 446.81h1.5M151.7 449.30h1.5M169.5 451.80h1.5M154.7 454.29h1.5M171.0 454.29h1.5M156.1 456.79h1.5M159.1 456.79h1.5M156.1 461.78h1.5M174.0 464.27h1.5M166.6 466.77h1.5M171.0 466.77h1.5M129.4 471.76h1.5M136.8 471.76h1.5M172.5 471.76h1.5M127.9 474.25h1.5M154.7 474.25h3.0M168.1 474.25h1.5" stroke="#a89cc0" stroke-width="2.55"/>
<path d="M165.1 374.45h1.5M171.0 374.45h1.5M135.3 379.44h1.5M157.6 381.93h1.5M142.8 386.92h3.0M148.7 386.92h1.5M160.6 386.92h1.5M163.6 391.91h1.5M171.0 391.91h1.5M174.0 391.91h1.5M151.7 394.41h1.5M156.1 394.41h1.5M147.2 396.90h1.5M163.6 396.90h1.5M166.6 396.90h1.5M145.7 401.89h1.5M153.2 401.89h1.5M135.3 406.88h1.5M150.2 406.88h1.5M153.2 406.88h1.5M159.1 406.88h1.5M168.1 406.88h1.5M145.7 409.38h1.5M160.6 409.38h1.5M156.1 411.87h1.5M166.6 419.36h1.5M162.1 421.85h1.5M156.1 424.35h1.5M168.1 424.35h1.5M138.3 426.85h1.5M169.5 426.85h1.5M141.3 429.34h1.5M169.5 429.34h1.5M150.2 431.84h1.5M157.6 431.84h1.5M174.0 431.84h1.5M121.9 434.33h1.5M124.9 434.33h1.5M165.1 439.32h1.5M162.1 441.82h1.5M165.1 441.82h1.5M154.7 444.31h1.5M171.0 444.31h1.5M142.8 446.81h1.5M166.6 446.81h1.5M136.8 451.80h1.5M150.2 451.80h1.5M121.9 454.29h1.5M168.1 464.27h1.5M153.2 469.26h1.5M171.0 469.26h1.5M174.0 469.26h1.5M107.0 471.76h1.5M153.2 471.76h1.5" stroke="#8484b4" stroke-width="2.55"/>
<path d="M166.6 374.45h1.5M156.1 384.43h1.5M166.6 384.43h1.5M138.3 386.92h1.5M157.6 386.92h1.5M154.7 394.41h1.5M171.0 394.41h1.5M147.2 401.89h1.5M169.5 406.88h1.5M174.0 406.88h1.5M159.1 416.86h1.5M151.7 421.85h1.5M151.7 424.35h1.5M150.2 426.85h1.5M166.6 434.33h1.5M162.1 436.83h1.5M160.6 439.32h1.5M166.6 439.32h1.5M138.3 441.82h1.5M142.8 441.82h1.5M151.7 441.82h1.5M169.5 441.82h3.0M157.6 446.81h1.5M150.2 449.30h1.5M159.1 451.80h1.5M142.8 461.78h1.5M166.6 464.27h1.5M168.1 466.77h1.5M169.5 469.26h1.5M148.7 471.76h1.5M166.6 471.76h1.5" stroke="#9090b4" stroke-width="2.55"/>
<path d="M172.5 374.45h1.5M135.3 381.93h1.5M159.1 386.92h1.5M165.1 394.41h1.5M168.1 396.90h1.5M156.1 399.40h1.5M107.0 401.89h1.5M169.5 404.39h1.5M156.1 406.88h1.5M163.6 406.88h1.5M159.1 409.38h1.5M163.6 409.38h1.5M169.5 409.38h1.5M144.2 411.87h1.5M166.6 411.87h1.5M157.6 416.86h1.5M171.0 419.36h1.5M165.1 421.85h1.5M171.0 421.85h1.5M165.1 424.35h1.5M147.2 434.33h1.5M142.8 444.31h1.5M156.1 444.31h1.5M163.6 444.31h1.5M154.7 446.81h1.5M148.7 449.30h1.5M159.1 459.28h3.0M78.8 461.78h1.5M142.8 471.76h1.5M133.8 474.25h1.5" stroke="#9c90c0" stroke-width="2.55"/>
<path d="M174.0 374.45h1.5M165.1 379.44h1.5M165.1 381.93h1.5M162.1 389.42h1.5M171.0 401.89h1.5M144.2 409.38h1.5M165.1 414.37h1.5M160.6 421.85h1.5M139.8 424.35h1.5M171.0 424.35h1.5M142.8 426.85h1.5M172.5 426.85h1.5M172.5 434.33h1.5M172.5 436.83h1.5M150.2 441.82h1.5M160.6 446.81h1.5M165.1 471.76h1.5" stroke="#6c6ca8" stroke-width="2.55"/>
<path d="M59.4 376.94h1.5M65.4 381.93h1.5M69.8 389.42h1.5M59.4 396.90h1.5M59.4 399.40h1.5M63.9 399.40h1.5M59.4 406.88h1.5M72.8 414.37h3.0M59.4 419.36h1.5M75.8 446.81h1.5M59.4 451.80h1.5M60.9 456.79h1.5M72.8 466.77h1.5" stroke="#902448" stroke-width="2.55"/>
<path d="M62.4 376.94h1.5M65.4 379.44h1.5M69.8 379.44h1.5M118.9 379.44h1.5M74.3 381.93h1.5M60.9 386.92h1.5M71.3 386.92h1.5M75.8 399.40h1.5M69.8 401.89h1.5M77.3 404.39h1.5M83.2 404.39h1.5M69.8 414.37h1.5M71.3 416.86h1.5M63.9 419.36h1.5M77.3 426.85h1.5M60.9 429.34h1.5M68.3 434.33h1.5M66.8 441.82h1.5M66.8 444.31h1.5M74.3 454.29h1.5M77.3 456.79h1.5M62.4 459.28h1.5M60.9 466.77h1.5M71.3 466.77h1.5" stroke="#a86078" stroke-width="2.55"/>
<path d="M68.3 376.94h1.5M66.8 379.44h1.5M87.7 456.79h1.5" stroke="#903054" stroke-width="2.55"/>
<path d="M72.8 376.94h1.5M69.8 404.39h1.5M66.8 424.35h1.5M60.9 431.84h1.5M71.3 474.25h1.5" stroke="#9c3c60" stroke-width="2.55"/>
<path d="M171.0 376.94h1.5M163.6 381.93h1.5M169.5 381.93h1.5M168.1 386.92h1.5M148.7 389.42h3.0M153.2 396.90h3.0M171.0 406.88h1.5M162.1 409.38h1.5M159.1 419.36h1.5M165.1 419.36h1.5M168.1 419.36h3.0M168.1 421.85h1.5M162.1 424.35h1.5M157.6 426.85h1.5M171.0 429.34h1.5M151.7 434.33h1.5M136.8 439.32h1.5M169.5 439.32h1.5M153.2 441.82h3.0M159.1 441.82h3.0M150.2 444.31h3.0M162.1 444.31h1.5M154.7 461.78h1.5M174.0 461.78h1.5" stroke="#7878a8" stroke-width="2.55"/>
<path d="M62.4 379.44h1.5M71.3 399.40h1.5M75.8 404.39h1.5M63.9 406.88h1.5M71.3 419.36h1.5M63.9 421.85h1.5M66.8 429.34h1.5M75.8 466.77h1.5" stroke="#a85478" stroke-width="2.55"/>
<path d="M63.9 379.44h1.5M68.3 414.37h1.5M77.3 414.37h1.5M75.8 449.30h1.5M68.3 456.79h1.5M74.3 464.27h1.5" stroke="#a8486c" stroke-width="2.55"/>
<path d="M75.8 379.44h1.5M63.9 381.93h1.5M60.9 399.40h1.5M60.9 406.88h1.5M75.8 414.37h1.5M72.8 421.85h1.5M69.8 446.81h1.5M77.3 449.30h1.5M74.3 466.77h1.5" stroke="#903048" stroke-width="2.55"/>
<path d="M101.1 379.44h1.5M66.8 381.93h1.5M59.4 384.43h1.5M62.4 399.40h1.5M59.4 404.39h1.5M69.8 411.87h1.5M71.3 446.81h1.5M59.4 471.76h1.5" stroke="#9c3c54" stroke-width="2.55"/>
<path d="M160.6 381.93h1.5M136.8 386.92h1.5M150.2 396.90h1.5M172.5 396.90h1.5M150.2 434.33h1.5M141.3 444.31h1.5M168.1 451.80h1.5M171.0 474.25h1.5" stroke="#7878b4" stroke-width="2.55"/>
<path d="M174.0 381.93h1.5M163.6 384.43h3.0M160.6 406.88h1.5M171.0 426.85h1.5M160.6 434.33h1.5M153.2 444.31h1.5M151.7 471.76h1.5" stroke="#8478b4" stroke-width="2.55"/>
<path d="M74.3 384.43h1.5M69.8 449.30h1.5" stroke="#cc909c" stroke-width="2.55"/>
<path d="M135.3 384.43h1.5M169.5 384.43h1.5M104.1 396.90h1.5M172.5 401.89h1.5M162.1 404.39h1.5M145.7 414.37h1.5M135.3 416.86h1.5M174.0 416.86h1.5M160.6 424.35h1.5M159.1 426.85h1.5M162.1 429.34h1.5M172.5 429.34h1.5M168.1 434.33h1.5M141.3 439.32h1.5M151.7 439.32h1.5M105.5 446.81h1.5M172.5 451.80h1.5M163.6 454.29h1.5M118.9 464.27h1.5M153.2 464.27h1.5M107.0 469.26h1.5M151.7 469.26h1.5M168.1 471.76h1.5" stroke="#a8a8c0" stroke-width="2.55"/>
<path d="M136.8 384.43h1.5M165.1 434.33h1.5M174.0 434.33h1.5" stroke="#786ca8" stroke-width="2.55"/>
<path d="M78.8 386.92h1.5M83.2 396.90h1.5M65.4 424.35h1.5M62.4 454.29h1.5M71.3 456.79h1.5" stroke="#c08490" stroke-width="2.55"/>
<path d="M87.7 386.92h1.5M139.8 391.91h1.5M160.6 391.91h1.5M124.9 396.90h1.5M96.6 406.88h1.5M101.1 406.88h1.5M110.0 406.88h1.5M116.0 406.88h1.5M142.8 411.87h1.5M156.1 414.37h1.5M111.5 419.36h1.5M66.8 431.84h1.5M102.6 434.33h1.5M92.1 436.83h1.5M121.9 446.81h1.5M69.8 451.80h1.5M113.0 451.80h1.5M95.1 454.29h1.5M151.7 459.28h1.5M168.1 459.28h1.5M84.7 464.27h1.5M86.2 469.26h1.5M105.5 469.26h1.5M117.4 469.26h1.5M90.7 471.76h1.5M93.6 471.76h1.5" stroke="#d8ccd8" stroke-width="2.55"/>
<path d="M145.7 386.92h1.5M174.0 409.38h1.5M156.1 426.85h1.5M174.0 426.85h1.5M138.3 434.33h1.5M157.6 434.33h3.0M169.5 454.29h1.5M144.2 471.76h1.5" stroke="#9084b4" stroke-width="2.55"/>
<path d="M160.6 389.42h1.5M136.8 406.88h1.5M172.5 406.88h1.5M141.3 426.85h1.5M165.1 436.83h1.5M139.8 444.31h1.5M159.1 446.81h1.5M153.2 474.25h1.5" stroke="#60609c" stroke-width="2.55"/>
<path d="M172.5 394.41h1.5M168.1 404.39h1.5" stroke="#54549c" stroke-width="2.55"/>
<path d="M165.1 396.90h1.5M139.8 426.85h1.5M159.1 431.84h1.5M171.0 439.32h1.5" stroke="#545490" stroke-width="2.55"/>
<path d="M68.3 401.89h1.5M68.3 406.88h1.5M62.4 414.37h1.5M72.8 449.30h1.5M60.9 454.29h1.5M72.8 469.26h1.5" stroke="#b46084" stroke-width="2.55"/>
<path d="M62.4 406.88h1.5M69.8 416.86h1.5" stroke="#9c3054" stroke-width="2.55"/>
<path d="M145.7 411.87h1.5" stroke="#60549c" stroke-width="2.55"/>
<path d="M78.8 431.84h1.5M59.4 434.33h1.5" stroke="#a84860" stroke-width="2.55"/>
<path d="M162.1 434.33h1.5M172.5 439.32h1.5" stroke="#6c6c9c" stroke-width="2.55"/>
<rect x="132.3" y="373.2" width="4" height="102.3" fill="#e0d8bc" opacity="0.6"/>
<rect x="137.8" y="373.2" width="0.8" height="102.3" fill="#555" opacity="0.6"/>
</g>
<path d="M59.0 480.14h7.3M67.8 480.14h1.5M70.7 480.14h2.9M75.1 480.14h5.8M82.4 480.14h40.9M130.6 480.14h4.4M137.9 480.14h1.5M142.3 480.14h2.9M151.1 480.14h1.5M158.4 480.14h1.5M161.3 480.14h1.5M165.7 480.14h2.9M170.1 480.14h1.5M174.4 480.14h1.5" stroke="#e46c90" stroke-width="8.33"/>
<path d="M66.3 480.14h1.5M73.6 480.14h1.5M80.9 480.14h1.5M123.3 480.14h1.5M126.2 480.14h4.4M135.0 480.14h2.9M140.8 480.14h1.5M145.2 480.14h1.5M148.1 480.14h2.9M152.5 480.14h1.5M159.8 480.14h1.5M171.5 480.14h2.9" stroke="#cce4f0" stroke-width="8.33"/>
<path d="M69.2 480.14h1.5M124.8 480.14h1.5M139.4 480.14h1.5M146.7 480.14h1.5M154.0 480.14h4.4M162.7 480.14h2.9M168.6 480.14h1.5" stroke="#f0b4cc" stroke-width="8.33"/>
<path d="M59.0 488.42h1.5M61.9 488.42h1.5M64.8 488.42h1.5M67.8 488.42h1.5M70.7 488.42h1.5M75.1 488.42h1.5M80.9 488.42h2.9M88.2 488.42h1.5M91.1 488.42h1.5M97.0 488.42h1.5M101.4 488.42h2.9M105.8 488.42h1.5M108.7 488.42h1.5M113.1 488.42h4.4M118.9 488.42h5.8M126.2 488.42h1.5M129.1 488.42h1.5M133.5 488.42h1.5M136.4 488.42h1.5M139.4 488.42h11.7M152.5 488.42h1.5M155.4 488.42h1.5M158.4 488.42h1.5M161.3 488.42h1.5M164.2 488.42h8.8" stroke="#c0e4d8" stroke-width="8.33"/>
<path d="M60.5 488.42h1.5M63.4 488.42h1.5M66.3 488.42h1.5M72.2 488.42h2.9M78.0 488.42h1.5M86.8 488.42h1.5M92.6 488.42h2.9M98.5 488.42h1.5M104.3 488.42h1.5M110.1 488.42h1.5M117.5 488.42h1.5M127.7 488.42h1.5M137.9 488.42h1.5M156.9 488.42h1.5" stroke="#f0c0b4" stroke-width="8.33"/>
<path d="M69.2 488.42h1.5M76.5 488.42h1.5M79.5 488.42h1.5M83.8 488.42h2.9M89.7 488.42h1.5M95.5 488.42h1.5M99.9 488.42h1.5M107.2 488.42h1.5M111.6 488.42h1.5M124.8 488.42h1.5M130.6 488.42h2.9M135.0 488.42h1.5M151.1 488.42h1.5M154.0 488.42h1.5M159.8 488.42h1.5M162.7 488.42h1.5M173.0 488.42h2.9" stroke="#f0e4cc" stroke-width="8.33"/>
<path d="M59.0 496.70h1.5M97.0 496.70h1.5M101.4 496.70h1.5M120.4 496.70h1.5" stroke="#b4d8e4" stroke-width="8.33"/>
<path d="M60.5 496.70h2.9M86.8 496.70h1.5M91.1 496.70h1.5M105.8 496.70h1.5M114.5 496.70h1.5M136.4 496.70h2.9" stroke="#c0e4f0" stroke-width="8.33"/>
<path d="M63.4 496.70h1.5M75.1 496.70h1.5M78.0 496.70h1.5M80.9 496.70h2.9M102.8 496.70h1.5M133.5 496.70h1.5M159.8 496.70h1.5" stroke="#b4d8f0" stroke-width="8.33"/>
<path d="M64.8 496.70h1.5M156.9 496.70h2.9M165.7 496.70h1.5" stroke="#84c0d8" stroke-width="8.33"/>
<path d="M66.3 496.70h1.5M83.8 496.70h2.9M107.2 496.70h1.5M121.8 496.70h1.5M129.1 496.70h1.5M142.3 496.70h2.9M152.5 496.70h1.5M155.4 496.70h1.5M164.2 496.70h1.5M170.1 496.70h1.5" stroke="#90cce4" stroke-width="8.33"/>
<path d="M67.8 496.70h1.5M118.9 496.70h1.5" stroke="#cce4f0" stroke-width="8.33"/>
<path d="M69.2 496.70h1.5M89.7 496.70h1.5M94.1 496.70h1.5M99.9 496.70h1.5M104.3 496.70h1.5M110.1 496.70h1.5M116.0 496.70h2.9M123.3 496.70h1.5M127.7 496.70h1.5M132.1 496.70h1.5M135.0 496.70h1.5M140.8 496.70h1.5M145.2 496.70h1.5M149.6 496.70h2.9M161.3 496.70h1.5M167.1 496.70h1.5M174.4 496.70h1.5" stroke="#a8d8e4" stroke-width="8.33"/>
<path d="M70.7 496.70h1.5M73.6 496.70h1.5M76.5 496.70h1.5M88.2 496.70h1.5M95.5 496.70h1.5M108.7 496.70h1.5M113.1 496.70h1.5M146.7 496.70h2.9M154.0 496.70h1.5M162.7 496.70h1.5M168.6 496.70h1.5" stroke="#9cd8e4" stroke-width="8.33"/>
<path d="M72.2 496.70h1.5M111.6 496.70h1.5M139.4 496.70h1.5" stroke="#9ccce4" stroke-width="8.33"/>
<path d="M79.5 496.70h1.5M92.6 496.70h1.5" stroke="#d8f0f0" stroke-width="8.33"/>
<path d="M98.5 496.70h1.5" stroke="#e4f0fc" stroke-width="8.33"/>
<path d="M124.8 496.70h1.5" stroke="#78c0d8" stroke-width="8.33"/>
<path d="M126.2 496.70h1.5M171.5 496.70h2.9" stroke="#78b4cc" stroke-width="8.33"/>
<path d="M130.6 496.70h1.5" stroke="#6ca8cc" stroke-width="8.33"/>
<path d="M59.0 504.98h1.5M67.8 504.98h1.5" stroke="#9c903c" stroke-width="8.33"/>
<path d="M60.5 504.98h1.5M64.8 504.98h1.5M73.6 504.98h1.5M83.8 504.98h1.5" stroke="#a89c3c" stroke-width="8.33"/>
<path d="M61.9 504.98h1.5" stroke="#908430" stroke-width="8.33"/>
<path d="M63.4 504.98h1.5M69.2 504.98h1.5" stroke="#9c8430" stroke-width="8.33"/>
<path d="M66.3 504.98h1.5M75.1 504.98h1.5" stroke="#b49c48" stroke-width="8.33"/>
<path d="M70.7 504.98h2.9M88.2 504.98h1.5M92.6 504.98h1.5M95.5 504.98h1.5" stroke="#b4a848" stroke-width="8.33"/>
<path d="M76.5 504.98h1.5" stroke="#a89c48" stroke-width="8.33"/>
<path d="M78.0 504.98h2.9" stroke="#c0b454" stroke-width="8.33"/>
<path d="M80.9 504.98h1.5M97.0 504.98h1.5M101.4 504.98h1.5" stroke="#d8cc60" stroke-width="8.33"/>
<path d="M82.4 504.98h1.5" stroke="#c0a848" stroke-width="8.33"/>
<path d="M85.3 504.98h1.5M91.1 504.98h1.5M94.1 504.98h1.5M98.5 504.98h1.5M105.8 504.98h1.5M110.1 504.98h1.5" stroke="#d8cc6c" stroke-width="8.33"/>
<path d="M86.8 504.98h1.5M102.8 504.98h1.5" stroke="#ccc054" stroke-width="8.33"/>
<path d="M89.7 504.98h1.5M107.2 504.98h1.5" stroke="#ccb454" stroke-width="8.33"/>
<path d="M99.9 504.98h1.5M104.3 504.98h1.5M108.7 504.98h1.5" stroke="#d8c060" stroke-width="8.33"/>
<path d="M111.6 504.98h1.5M116.0 504.98h2.9M123.3 504.98h1.5M135.0 504.98h1.5M146.7 504.98h1.5M151.1 504.98h1.5M154.0 504.98h2.9M158.4 504.98h1.5M162.7 504.98h4.4M170.1 504.98h1.5" stroke="#f0e4a8" stroke-width="8.33"/>
<path d="M113.1 504.98h2.9M118.9 504.98h1.5M121.8 504.98h1.5M127.7 504.98h1.5M139.4 504.98h1.5M156.9 504.98h1.5M161.3 504.98h1.5M167.1 504.98h1.5M174.4 504.98h1.5" stroke="#f0e4b4" stroke-width="8.33"/>
<path d="M120.4 504.98h1.5M124.8 504.98h1.5M132.1 504.98h1.5M142.3 504.98h1.5M145.2 504.98h1.5M149.6 504.98h1.5" stroke="#e4e49c" stroke-width="8.33"/>
<path d="M126.2 504.98h1.5M130.6 504.98h1.5M133.5 504.98h1.5M136.4 504.98h2.9M152.5 504.98h1.5" stroke="#f0f0c0" stroke-width="8.33"/>
<path d="M129.1 504.98h1.5M148.1 504.98h1.5M171.5 504.98h1.5" stroke="#e4d890" stroke-width="8.33"/>
<path d="M140.8 504.98h1.5M168.6 504.98h1.5" stroke="#f0f0b4" stroke-width="8.33"/>
<path d="M143.8 504.98h1.5M159.8 504.98h1.5" stroke="#f0e49c" stroke-width="8.33"/>
<path d="M173.0 504.98h1.5" stroke="#e4d884" stroke-width="8.33"/>
<path d="M59.0 513.26h1.5M61.9 513.26h1.5M66.3 513.26h1.5M92.6 513.26h1.5" stroke="#f0d8e4" stroke-width="8.33"/>
<path d="M60.5 513.26h1.5M63.4 513.26h1.5" stroke="#f0cce4" stroke-width="8.33"/>
<path d="M64.8 513.26h1.5M91.1 513.26h1.5M98.5 513.26h1.5" stroke="#f0c0d8" stroke-width="8.33"/>
<path d="M67.8 513.26h1.5M79.5 513.26h1.5" stroke="#e4b4d8" stroke-width="8.33"/>
<path d="M69.2 513.26h1.5M73.6 513.26h1.5M78.0 513.26h1.5M80.9 513.26h1.5M88.2 513.26h1.5M94.1 513.26h1.5M99.9 513.26h1.5M114.5 513.26h1.5M132.1 513.26h1.5M148.1 513.26h1.5" stroke="#e4b4cc" stroke-width="8.33"/>
<path d="M70.7 513.26h1.5M82.4 513.26h1.5M89.7 513.26h1.5M95.5 513.26h2.9M105.8 513.26h1.5M111.6 513.26h1.5M116.0 513.26h1.5M118.9 513.26h1.5M127.7 513.26h1.5M133.5 513.26h1.5" stroke="#e4a8cc" stroke-width="8.33"/>
<path d="M72.2 513.26h1.5" stroke="#e4a8c0" stroke-width="8.33"/>
<path d="M75.1 513.26h1.5M85.3 513.26h1.5M102.8 513.26h2.9M107.2 513.26h1.5M110.1 513.26h1.5M113.1 513.26h1.5M117.5 513.26h1.5M123.3 513.26h1.5M126.2 513.26h1.5M129.1 513.26h2.9M135.0 513.26h1.5M137.9 513.26h1.5M174.4 513.26h1.5" stroke="#d89cc0" stroke-width="8.33"/>
<path d="M76.5 513.26h1.5" stroke="#f0ccd8" stroke-width="8.33"/>
<path d="M83.8 513.26h1.5" stroke="#e4c0d8" stroke-width="8.33"/>
<path d="M86.8 513.26h1.5M120.4 513.26h1.5" stroke="#e49cc0" stroke-width="8.33"/>
<path d="M101.4 513.26h1.5M108.7 513.26h1.5M124.8 513.26h1.5M139.4 513.26h1.5M143.8 513.26h1.5M165.7 513.26h1.5" stroke="#d890b4" stroke-width="8.33"/>
<path d="M121.8 513.26h1.5M140.8 513.26h1.5M154.0 513.26h1.5" stroke="#cc84a8" stroke-width="8.33"/>
<path d="M136.4 513.26h1.5M149.6 513.26h1.5M155.4 513.26h1.5M168.6 513.26h1.5M171.5 513.26h1.5" stroke="#c06c9c" stroke-width="8.33"/>
<path d="M142.3 513.26h1.5" stroke="#cc84b4" stroke-width="8.33"/>
<path d="M145.2 513.26h1.5M161.3 513.26h4.4M173.0 513.26h1.5" stroke="#b46090" stroke-width="8.33"/>
<path d="M146.7 513.26h1.5M170.1 513.26h1.5" stroke="#b46c90" stroke-width="8.33"/>
<path d="M151.1 513.26h1.5" stroke="#c0789c" stroke-width="8.33"/>
<path d="M152.5 513.26h1.5" stroke="#c06c90" stroke-width="8.33"/>
<path d="M156.9 513.26h1.5M159.8 513.26h1.5" stroke="#a85478" stroke-width="8.33"/>
<path d="M158.4 513.26h1.5" stroke="#a85484" stroke-width="8.33"/>
<path d="M167.1 513.26h1.5" stroke="#9c3c6c" stroke-width="8.33"/>
<rect x="59" y="476" width="116.9" height="41.4" fill="none" stroke="#111" stroke-width="1.2"/>
<path d="M59 484.3h116.9M59 492.6h116.9M59 500.8h116.9M59 509.1h116.9" stroke="#111" stroke-width="1"/>
<text x="55.8" y="480.1" font-size="8" text-anchor="end" fill="#222" stroke="#222" stroke-width="0.32" dominant-baseline="central">disease</text>
<text x="55.8" y="488.4" font-size="8" text-anchor="end" fill="#222" stroke="#222" stroke-width="0.32" dominant-baseline="central">study</text>
<text x="55.8" y="496.7" font-size="8" text-anchor="end" fill="#222" stroke="#222" stroke-width="0.32" dominant-baseline="central">type1</text>
<text x="55.8" y="504.9" font-size="8" text-anchor="end" fill="#222" stroke="#222" stroke-width="0.32" dominant-baseline="central">type2</text>
<text x="55.8" y="513.2" font-size="8" text-anchor="end" fill="#222" stroke="#222" stroke-width="0.32" dominant-baseline="central">type3</text>
<text x="196.4" y="433.6" font-size="7" text-anchor="middle" fill="#222" stroke="#222" stroke-width="0.32" dominant-baseline="central">z-score</text>
<defs><linearGradient id="gz182" x1="0" x2="1"><stop offset="0" stop-color="#2a4aa0"/><stop offset="0.2" stop-color="#3a5aa8"/><stop offset="0.4" stop-color="#b8d4ea"/><stop offset="0.5" stop-color="#f4f4f4"/><stop offset="0.62" stop-color="#e8b8c4"/><stop offset="0.8" stop-color="#b02850"/><stop offset="1" stop-color="#901838"/></linearGradient></defs>
<rect x="182.8" y="437.4" width="27.19999999999999" height="7.600000000000023" fill="url(#gz182)"/>
<path d="M182.8 445h27.19999999999999" stroke="#222" stroke-width="0.6"/>
<text x="185.0" y="452.9" font-size="8" text-anchor="middle" fill="#222" stroke="#222" stroke-width="0.32" dominant-baseline="central">-2</text>
<text x="196.9" y="452.9" font-size="8" text-anchor="middle" fill="#222" stroke="#222" stroke-width="0.32" dominant-baseline="central">0</text>
<text x="207.8" y="452.9" font-size="8" text-anchor="middle" fill="#222" stroke="#222" stroke-width="0.32" dominant-baseline="central">2</text>
<text x="346.8" y="355.8" font-size="11" text-anchor="middle" font-weight="bold" fill="#111" stroke="#111" stroke-width="0.32" dominant-baseline="central">F</text>
<text x="425.2" y="361.3" font-size="9" text-anchor="middle" fill="#222" stroke="#222" stroke-width="0.35" dominant-baseline="central">Type 1 Dominant</text>
<text x="376.5" y="391.2" font-size="8" text-anchor="end" fill="#222" stroke="#222" stroke-width="0.32" dominant-baseline="central">ranksum</text>
<rect x="378.9" y="386.2" width="106.40000000000003" height="10.900000000000034" fill="#e8e8e8" stroke="#222" stroke-width="0.8"/>
<path d="M378.9 397.1 L378.9 386.6 L382.4 386.9 L386.0 387.2 L389.5 387.4 L393.1 387.7 L396.6 388.0 L400.2 388.3 L403.7 388.6 L407.3 388.8 L410.8 389.1 L414.4 389.4 L417.9 389.6 L421.5 389.9 L425.0 390.2 L428.6 390.4 L432.1 390.7 L435.6 391.0 L439.2 391.2 L442.7 391.5 L446.3 391.7 L449.8 392.0 L453.4 392.3 L456.9 392.5 L460.5 392.7 L464.0 393.0 L467.6 393.2 L471.1 393.5 L474.7 393.7 L478.2 393.9 L481.8 394.1 L485.3 394.3 L485.3 397.1Z" fill="#0a0a0a"/>
<g filter="url(#hb4)">
<path d="M378.9 398.33h1.5M430.6 403.26h1.5M383.5 405.73h1.5M386.5 405.73h1.5M403.2 405.73h1.5M416.9 405.73h1.5M403.2 408.19h1.5M381.9 425.45h1.5M400.2 430.38h1.5M398.7 432.85h3.0M385.0 435.31h1.5M397.1 435.31h1.5M398.7 457.50h1.5M479.2 457.50h1.5" stroke="#c06078" stroke-width="2.52"/>
<path d="M380.4 398.33h1.5M388.0 398.33h1.5M392.6 398.33h1.5M380.4 400.80h1.5M391.1 400.80h1.5M394.1 400.80h1.5M436.7 400.80h1.5M392.6 403.26h1.5M438.2 403.26h1.5M444.3 403.26h1.5M380.4 405.73h1.5M391.1 405.73h1.5M401.7 405.73h1.5M426.0 405.73h1.5M432.1 405.73h1.5M386.5 408.19h1.5M439.7 408.19h1.5M400.2 410.66h1.5M397.1 413.12h1.5M423.0 413.12h1.5M426.0 413.12h1.5M392.6 415.59h1.5M413.9 415.59h3.0M418.4 415.59h1.5M400.2 418.06h1.5M419.9 420.52h1.5M401.7 422.99h1.5M380.4 425.45h1.5M381.9 430.38h3.0M388.0 430.38h1.5M386.5 432.85h1.5M391.1 435.31h1.5M381.9 437.78h1.5M426.0 437.78h1.5M394.1 440.24h1.5M483.8 447.64h1.5M404.7 457.50h1.5M421.5 459.97h1.5M479.2 459.97h1.5" stroke="#cc849c" stroke-width="2.52"/>
<path d="M381.9 398.33h1.5M391.1 403.26h1.5M421.5 408.19h1.5M389.5 440.24h1.5M482.3 452.57h1.5" stroke="#cc84a8" stroke-width="2.52"/>
<path d="M383.5 398.33h1.5M386.5 398.33h1.5M389.5 398.33h1.5M421.5 398.33h3.0M378.9 400.80h1.5M421.5 403.26h1.5M392.6 405.73h1.5M413.9 405.73h3.0M398.7 408.19h1.5M406.3 408.19h1.5M426.0 408.19h1.5M432.1 408.19h1.5M381.9 410.66h1.5M395.6 410.66h1.5M401.7 410.66h1.5M381.9 413.12h1.5M386.5 413.12h1.5M395.6 413.12h1.5M401.7 413.12h1.5M378.9 415.59h3.0M385.0 415.59h4.6M398.7 415.59h1.5M412.3 415.59h1.5M380.4 418.06h1.5M388.0 418.06h3.0M392.6 418.06h3.0M389.5 420.52h1.5M395.6 420.52h1.5M383.5 422.99h1.5M441.2 422.99h1.5M401.7 425.45h1.5M406.3 425.45h1.5M378.9 427.92h1.5M385.0 427.92h3.0M412.3 430.38h1.5M388.0 435.31h1.5M404.7 435.31h1.5M423.0 435.31h1.5M427.5 435.31h1.5M433.6 435.31h1.5M389.5 437.78h1.5M421.5 437.78h1.5M432.1 437.78h1.5M380.4 440.24h1.5M388.0 440.24h1.5M391.1 440.24h3.0M401.7 440.24h1.5M388.0 442.71h1.5M415.4 442.71h1.5M378.9 445.18h1.5M398.7 445.18h1.5M398.7 447.64h1.5M421.5 447.64h3.0M482.3 447.64h1.5M482.3 450.11h1.5M476.2 455.04h1.5M479.2 455.04h1.5M483.8 455.04h1.5M397.1 457.50h1.5M416.9 459.97h1.5M476.2 459.97h1.5" stroke="#d89cb4" stroke-width="2.52"/>
<path d="M385.0 398.33h1.5M404.7 398.33h1.5M441.2 398.33h1.5M398.7 403.26h1.5M404.7 403.26h3.0M404.7 405.73h1.5M423.0 405.73h1.5M433.6 405.73h1.5M447.3 405.73h1.5M394.1 408.19h1.5M397.1 408.19h1.5M415.4 408.19h1.5M421.5 410.66h1.5M424.5 410.66h1.5M438.2 413.12h1.5M381.9 415.59h1.5M397.1 415.59h1.5M424.5 415.59h1.5M429.1 415.59h1.5M418.4 418.06h1.5M423.0 418.06h1.5M441.2 420.52h1.5M404.7 422.99h1.5M407.8 422.99h1.5M413.9 425.45h1.5M421.5 425.45h3.0M389.5 427.92h1.5M394.1 427.92h1.5M418.4 427.92h4.6M391.1 430.38h1.5M395.6 430.38h1.5M406.3 430.38h1.5M424.5 430.38h3.0M391.1 432.85h1.5M439.7 432.85h1.5M404.7 437.78h1.5M413.9 437.78h1.5M447.3 437.78h1.5M386.5 440.24h1.5M423.0 440.24h1.5M385.0 442.71h1.5M394.1 442.71h1.5M385.0 445.18h1.5M397.1 445.18h1.5M441.2 445.18h1.5M397.1 447.64h1.5M400.2 447.64h1.5M480.7 447.64h1.5M398.7 455.04h1.5M401.7 457.50h1.5" stroke="#d8b4c0" stroke-width="2.52"/>
<path d="M391.1 398.33h1.5M419.9 398.33h1.5M433.6 398.33h1.5M413.9 400.80h1.5M388.0 403.26h1.5M409.3 403.26h1.5M416.9 403.26h1.5M424.5 403.26h1.5M380.4 408.19h1.5M404.7 408.19h1.5M416.9 408.19h1.5M423.0 408.19h1.5M426.0 410.66h1.5M380.4 413.12h1.5M392.6 413.12h1.5M421.5 413.12h1.5M403.2 415.59h1.5M385.0 418.06h1.5M398.7 418.06h1.5M386.5 420.52h1.5M378.9 422.99h1.5M386.5 422.99h1.5M388.0 425.45h1.5M404.7 425.45h1.5M410.8 425.45h1.5M380.4 427.92h1.5M391.1 427.92h1.5M378.9 430.38h1.5M389.5 430.38h1.5M403.2 430.38h1.5M413.9 430.38h1.5M401.7 432.85h1.5M389.5 435.31h1.5M378.9 437.78h1.5M400.2 440.24h1.5M403.2 440.24h1.5M427.5 440.24h1.5M391.1 445.18h3.0M385.0 447.64h1.5M398.7 450.11h1.5M403.2 457.50h1.5M476.2 457.50h3.0" stroke="#d890a8" stroke-width="2.52"/>
<path d="M394.1 398.33h1.5M403.2 398.33h1.5M386.5 403.26h1.5M433.6 403.26h1.5M378.9 413.12h1.5M400.2 413.12h1.5M381.9 420.52h1.5M392.6 422.99h1.5M380.4 432.85h1.5M380.4 435.31h3.0M403.2 435.31h1.5M403.2 437.78h1.5M482.3 457.50h1.5M418.4 459.97h1.5" stroke="#c06c90" stroke-width="2.52"/>
<path d="M395.6 398.33h1.5M383.5 400.80h1.5M441.2 403.26h1.5M400.2 405.73h1.5M447.3 408.19h1.5M403.2 413.12h1.5M424.5 413.12h1.5M394.1 415.59h1.5M383.5 418.06h1.5M391.1 418.06h1.5M385.0 422.99h1.5M386.5 425.45h1.5M391.1 425.45h1.5M386.5 437.78h1.5M400.2 437.78h1.5M480.7 459.97h1.5" stroke="#c06084" stroke-width="2.52"/>
<path d="M397.1 398.33h1.5M389.5 400.80h1.5M397.1 403.26h1.5M439.7 405.73h1.5M389.5 408.19h1.5M419.9 408.19h1.5M391.1 413.12h1.5M416.9 415.59h1.5M380.4 422.99h1.5M400.2 422.99h1.5M378.9 425.45h1.5M394.1 425.45h1.5M380.4 430.38h1.5M378.9 432.85h1.5M403.2 432.85h3.0M394.1 435.31h1.5M380.4 437.78h1.5M378.9 440.24h1.5M429.1 440.24h1.5M398.7 442.71h1.5M423.0 459.97h1.5M477.7 459.97h1.5" stroke="#c06c84" stroke-width="2.52"/>
<path d="M398.7 398.33h1.5M415.4 398.33h1.5M385.0 400.80h1.5M388.0 400.80h1.5M400.2 400.80h1.5M419.9 400.80h1.5M423.0 400.80h1.5M395.6 403.26h1.5M432.1 403.26h1.5M397.1 405.73h1.5M441.2 405.73h1.5M391.1 408.19h3.0M427.5 408.19h1.5M398.7 410.66h1.5M395.6 422.99h1.5M397.1 425.45h1.5M409.3 425.45h1.5M397.1 427.92h1.5M385.0 430.38h1.5M400.2 435.31h1.5M480.7 455.04h1.5" stroke="#b4486c" stroke-width="2.52"/>
<path d="M400.2 398.33h1.5M381.9 400.80h1.5M386.5 400.80h1.5M397.1 420.52h1.5M401.7 420.52h1.5M397.1 422.99h1.5M383.5 425.45h1.5M381.9 432.85h1.5M401.7 437.78h1.5M482.3 455.04h1.5" stroke="#b4546c" stroke-width="2.52"/>
<path d="M401.7 398.33h1.5M398.7 405.73h1.5M419.9 405.73h1.5M429.1 408.19h1.5M386.5 410.66h1.5M398.7 413.12h1.5M403.2 418.06h1.5M398.7 420.52h1.5M403.2 420.52h1.5M403.2 422.99h1.5M398.7 425.45h1.5M429.1 445.18h1.5M482.3 459.97h1.5" stroke="#a83c60" stroke-width="2.52"/>
<path d="M406.3 398.33h1.5M476.2 398.33h1.5M406.3 400.80h1.5M406.3 405.73h1.5M436.7 408.19h1.5M416.9 410.66h1.5M438.2 410.66h3.0M416.9 413.12h1.5M436.7 413.12h1.5M409.3 415.59h3.0M433.6 415.59h1.5M438.2 415.59h1.5M438.2 420.52h1.5M426.0 422.99h1.5M436.7 425.45h1.5M441.2 425.45h1.5M415.4 427.92h1.5M427.5 427.92h1.5M433.6 427.92h1.5M419.9 430.38h1.5M430.6 430.38h1.5M409.3 432.85h1.5M419.9 432.85h4.6M471.6 432.85h1.5M409.3 435.31h1.5M436.7 435.31h3.0M419.9 437.78h1.5M438.2 437.78h1.5M459.5 437.78h1.5M465.5 437.78h1.5M412.3 440.24h1.5M439.7 440.24h1.5M447.3 440.24h1.5M473.1 440.24h1.5M480.7 440.24h1.5M391.1 442.71h1.5M432.1 442.71h1.5M471.6 442.71h3.0M476.2 442.71h1.5M389.5 445.18h1.5M406.3 445.18h1.5M419.9 445.18h1.5M426.0 445.18h1.5M435.1 445.18h3.0M407.8 447.64h1.5M413.9 447.64h1.5M418.4 447.64h1.5M430.6 447.64h1.5M433.6 447.64h1.5M378.9 450.11h1.5M391.1 450.11h1.5M394.1 450.11h1.5M435.1 450.11h1.5M447.3 450.11h1.5M394.1 452.57h1.5M404.7 452.57h1.5M416.9 452.57h1.5M419.9 452.57h1.5M423.0 452.57h1.5M427.5 452.57h1.5M430.6 452.57h1.5M436.7 452.57h1.5M380.4 455.04h3.0M401.7 455.04h1.5M413.9 455.04h1.5M426.0 455.04h3.0M439.7 455.04h1.5M381.9 457.50h1.5M407.8 457.50h1.5M416.9 457.50h1.5M403.2 459.97h1.5M467.1 459.97h1.5" stroke="#d8d8e4" stroke-width="2.52"/>
<path d="M407.8 398.33h1.5M412.3 400.80h1.5M447.3 403.26h1.5M394.1 405.73h1.5M421.5 405.73h1.5M424.5 405.73h1.5M435.1 405.73h1.5M410.8 408.19h1.5M413.9 408.19h1.5M445.8 408.19h1.5M394.1 410.66h1.5M423.0 410.66h1.5M427.5 410.66h1.5M385.0 413.12h1.5M389.5 413.12h1.5M413.9 413.12h1.5M427.5 413.12h4.6M426.0 415.59h1.5M465.5 415.59h1.5M397.1 418.06h1.5M419.9 418.06h3.0M429.1 418.06h1.5M432.1 418.06h3.0M418.4 420.52h1.5M426.0 420.52h1.5M419.9 425.45h1.5M381.9 427.92h1.5M392.6 427.92h1.5M395.6 427.92h1.5M403.2 427.92h1.5M404.7 430.38h1.5M383.5 432.85h1.5M394.1 437.78h1.5M433.6 437.78h1.5M381.9 440.24h3.0M395.6 440.24h1.5M430.6 440.24h1.5M378.9 442.71h1.5M386.5 442.71h1.5M392.6 442.71h1.5M397.1 442.71h1.5M388.0 445.18h1.5M386.5 447.64h1.5M424.5 447.64h1.5M441.2 447.64h1.5M403.2 452.57h1.5M479.2 452.57h1.5M483.8 452.57h1.5M473.1 459.97h1.5" stroke="#d8a8c0" stroke-width="2.52"/>
<path d="M409.3 398.33h1.5M429.1 398.33h1.5M439.7 398.33h1.5M383.5 403.26h1.5M389.5 403.26h1.5M413.9 403.26h1.5M389.5 405.73h1.5M436.7 405.73h3.0M400.2 408.19h1.5M412.3 408.19h1.5M430.6 408.19h1.5M441.2 408.19h1.5M380.4 410.66h1.5M429.1 410.66h1.5M464.0 415.59h1.5M386.5 418.06h1.5M404.7 418.06h1.5M427.5 418.06h1.5M439.7 418.06h1.5M423.0 420.52h1.5M430.6 420.52h1.5M433.6 420.52h1.5M416.9 422.99h1.5M412.3 425.45h1.5M416.9 425.45h3.0M429.1 425.45h1.5M433.6 425.45h1.5M383.5 427.92h1.5M407.8 427.92h1.5M427.5 430.38h1.5M432.1 430.38h1.5M445.8 430.38h1.5M392.6 432.85h1.5M397.1 432.85h1.5M406.3 432.85h1.5M416.9 432.85h1.5M433.6 432.85h1.5M416.9 435.31h1.5M445.8 435.31h3.0M406.3 437.78h1.5M412.3 437.78h1.5M424.5 437.78h1.5M416.9 440.24h6.1M424.5 440.24h1.5M418.4 442.71h1.5M423.0 442.71h1.5M430.6 442.71h1.5M403.2 445.18h1.5M427.5 445.18h1.5M439.7 445.18h1.5M403.2 447.64h1.5M473.1 447.64h1.5M479.2 447.64h1.5M403.2 450.11h1.5M427.5 450.11h1.5M413.9 452.57h1.5M426.0 452.57h1.5M476.2 452.57h1.5" stroke="#d8b4cc" stroke-width="2.52"/>
<path d="M410.8 398.33h1.5M426.0 398.33h1.5M438.2 400.80h1.5M445.8 400.80h1.5M400.2 403.26h1.5M423.0 403.26h1.5M395.6 408.19h1.5M424.5 408.19h1.5M433.6 408.19h3.0M438.2 408.19h1.5M442.7 408.19h1.5M448.8 408.19h1.5M413.9 410.66h1.5M435.1 410.66h1.5M388.0 413.12h1.5M439.7 413.12h1.5M445.8 413.12h3.0M389.5 415.59h1.5M406.3 415.59h3.0M427.5 415.59h1.5M432.1 415.59h1.5M424.5 418.06h3.0M438.2 418.06h1.5M441.2 418.06h1.5M454.9 418.06h1.5M407.8 420.52h3.0M416.9 420.52h1.5M424.5 420.52h1.5M427.5 420.52h1.5M436.7 420.52h1.5M439.7 420.52h1.5M406.3 422.99h1.5M409.3 422.99h1.5M418.4 422.99h1.5M427.5 422.99h1.5M427.5 425.45h1.5M432.1 425.45h1.5M438.2 425.45h1.5M388.0 427.92h1.5M416.9 427.92h1.5M429.1 427.92h1.5M438.2 427.92h1.5M392.6 430.38h1.5M415.4 430.38h1.5M418.4 430.38h1.5M433.6 430.38h3.0M438.2 430.38h3.0M444.3 430.38h1.5M395.6 432.85h1.5M413.9 432.85h1.5M427.5 432.85h3.0M406.3 435.31h3.0M418.4 435.31h1.5M429.1 435.31h1.5M441.2 435.31h1.5M435.1 437.78h1.5M454.9 437.78h1.5M426.0 440.24h1.5M441.2 440.24h4.6M380.4 442.71h3.0M403.2 442.71h1.5M407.8 442.71h1.5M416.9 442.71h1.5M445.8 442.71h1.5M415.4 445.18h1.5M424.5 445.18h1.5M433.6 445.18h1.5M442.7 445.18h1.5M476.2 445.18h1.5M482.3 445.18h1.5M381.9 447.64h1.5M392.6 447.64h1.5M439.7 447.64h1.5M445.8 447.64h1.5M397.1 450.11h1.5M401.7 450.11h1.5M421.5 450.11h1.5M480.7 450.11h1.5M383.5 452.57h1.5M398.7 452.57h1.5M471.6 455.04h1.5M474.7 455.04h1.5M477.7 455.04h1.5M483.8 457.50h1.5M398.7 459.97h1.5M453.4 459.97h1.5" stroke="#d8c0cc" stroke-width="2.52"/>
<path d="M412.3 398.33h3.0M427.5 398.33h1.5M435.1 398.33h1.5M445.8 398.33h3.0M407.8 400.80h4.6M424.5 400.80h3.0M403.2 403.26h1.5M415.4 403.26h1.5M410.8 405.73h3.0M445.8 405.73h1.5M401.7 408.19h1.5M409.3 408.19h1.5M444.3 408.19h1.5M378.9 410.66h1.5M444.3 410.66h1.5M407.8 413.12h1.5M419.9 413.12h1.5M433.6 413.12h1.5M383.5 415.59h1.5M404.7 415.59h1.5M423.0 415.59h1.5M430.6 415.59h1.5M416.9 418.06h1.5M430.6 418.06h1.5M447.3 418.06h1.5M435.1 420.52h1.5M419.9 422.99h3.0M430.6 422.99h1.5M433.6 422.99h1.5M438.2 422.99h3.0M442.7 422.99h1.5M430.6 425.45h1.5M406.3 427.92h1.5M409.3 427.92h1.5M447.3 427.92h1.5M407.8 430.38h1.5M416.9 430.38h1.5M423.0 430.38h1.5M441.2 430.38h1.5M424.5 432.85h3.0M435.1 432.85h1.5M438.2 432.85h1.5M441.2 432.85h1.5M426.0 435.31h1.5M435.1 435.31h1.5M439.7 435.31h1.5M442.7 435.31h3.0M407.8 437.78h1.5M415.4 437.78h1.5M439.7 437.78h3.0M445.8 437.78h1.5M471.6 437.78h1.5M410.8 440.24h1.5M433.6 440.24h1.5M383.5 442.71h1.5M389.5 442.71h1.5M395.6 442.71h1.5M413.9 442.71h1.5M421.5 442.71h1.5M424.5 442.71h1.5M427.5 442.71h1.5M433.6 442.71h1.5M383.5 445.18h1.5M421.5 445.18h3.0M445.8 445.18h1.5M477.7 445.18h1.5M480.7 445.18h1.5M378.9 447.64h3.0M383.5 447.64h1.5M388.0 447.64h1.5M391.1 447.64h1.5M419.9 447.64h1.5M426.0 447.64h1.5M474.7 447.64h4.6M380.4 450.11h3.0M385.0 450.11h1.5M388.0 450.11h1.5M395.6 450.11h1.5M400.2 450.11h1.5M406.3 450.11h1.5M419.9 450.11h1.5M423.0 450.11h1.5M430.6 450.11h1.5M439.7 450.11h3.0M445.8 450.11h1.5M467.1 450.11h1.5M400.2 452.57h1.5M473.1 452.57h1.5M477.7 452.57h1.5M385.0 455.04h1.5M394.1 455.04h1.5M407.8 455.04h1.5M424.5 455.04h1.5M429.1 455.04h1.5M433.6 455.04h1.5M395.6 457.50h1.5M413.9 457.50h1.5M424.5 457.50h1.5M439.7 457.50h1.5M404.7 459.97h1.5M407.8 459.97h1.5M429.1 459.97h1.5" stroke="#e4ccd8" stroke-width="2.52"/>
<path d="M416.9 398.33h1.5" stroke="#a82448" stroke-width="2.52"/>
<path d="M418.4 398.33h1.5M415.4 400.80h1.5M381.9 403.26h1.5M394.1 403.26h1.5M439.7 403.26h1.5M395.6 405.73h1.5M430.6 405.73h1.5M378.9 408.19h1.5M381.9 408.19h1.5M401.7 418.06h1.5M381.9 422.99h1.5M392.6 425.45h1.5M400.2 425.45h1.5M386.5 430.38h1.5M385.0 432.85h1.5M398.7 437.78h1.5M397.1 440.24h3.0M430.6 445.18h1.5M480.7 457.50h1.5" stroke="#b45478" stroke-width="2.52"/>
<path d="M424.5 398.33h1.5M404.7 400.80h1.5M432.1 400.80h1.5M435.1 400.80h1.5M385.0 403.26h1.5M442.7 403.26h1.5M378.9 405.73h1.5M388.0 408.19h1.5M383.5 410.66h1.5M397.1 410.66h1.5M400.2 415.59h1.5M380.4 420.52h1.5M383.5 420.52h3.0M394.1 420.52h1.5M391.1 422.99h1.5M388.0 432.85h1.5M401.7 435.31h1.5M388.0 437.78h1.5M385.0 440.24h1.5M480.7 452.57h1.5M419.9 459.97h1.5" stroke="#cc7890" stroke-width="2.52"/>
<path d="M430.6 398.33h1.5M436.7 398.33h3.0M462.5 400.80h1.5M476.2 400.80h1.5M409.3 405.73h1.5M441.2 410.66h3.0M383.5 413.12h1.5M412.3 413.12h1.5M418.4 413.12h1.5M435.1 413.12h1.5M444.3 415.59h3.0M461.0 415.59h1.5M410.8 418.06h1.5M413.9 418.06h1.5M410.8 420.52h3.0M444.3 420.52h1.5M410.8 422.99h1.5M435.1 422.99h3.0M435.1 425.45h1.5M442.7 425.45h3.0M424.5 427.92h3.0M441.2 427.92h1.5M410.8 432.85h1.5M445.8 432.85h1.5M412.3 435.31h1.5M419.9 435.31h1.5M479.2 435.31h1.5M456.4 437.78h1.5M461.0 437.78h1.5M409.3 440.24h1.5M435.1 440.24h1.5M476.2 440.24h4.6M412.3 442.71h1.5M419.9 442.71h1.5M436.7 442.71h1.5M441.2 442.71h1.5M444.3 442.71h1.5M465.5 442.71h3.0M409.3 445.18h1.5M412.3 445.18h1.5M416.9 445.18h3.0M438.2 445.18h1.5M462.5 445.18h1.5M473.1 445.18h3.0M483.8 445.18h1.5M389.5 447.64h1.5M415.4 447.64h1.5M432.1 447.64h1.5M436.7 447.64h3.0M447.3 447.64h1.5M465.5 447.64h1.5M386.5 450.11h1.5M409.3 450.11h1.5M412.3 450.11h1.5M418.4 450.11h1.5M444.3 450.11h1.5M461.0 450.11h1.5M465.5 450.11h1.5M378.9 452.57h1.5M381.9 452.57h1.5M388.0 452.57h1.5M391.1 452.57h3.0M397.1 452.57h1.5M407.8 452.57h3.0M418.4 452.57h1.5M421.5 452.57h1.5M441.2 452.57h1.5M444.3 452.57h1.5M467.1 452.57h1.5M378.9 455.04h1.5M386.5 455.04h1.5M397.1 455.04h1.5M418.4 455.04h1.5M423.0 455.04h1.5M435.1 455.04h1.5M438.2 455.04h1.5M441.2 455.04h3.0M454.9 455.04h1.5M467.1 455.04h3.0M388.0 457.50h1.5M391.1 457.50h1.5M394.1 457.50h1.5M421.5 457.50h1.5M433.6 457.50h3.0M445.8 457.50h1.5M465.5 457.50h1.5M381.9 459.97h3.0M391.1 459.97h1.5M413.9 459.97h3.0M454.9 459.97h1.5M465.5 459.97h1.5M468.6 459.97h1.5" stroke="#cccce4" stroke-width="2.52"/>
<path d="M432.1 398.33h1.5M442.7 398.33h1.5M427.5 400.80h3.0M442.7 400.80h3.0M412.3 403.26h1.5M435.1 403.26h3.0M407.8 405.73h1.5M444.3 405.73h1.5M450.3 408.19h1.5M412.3 410.66h1.5M415.4 410.66h1.5M418.4 410.66h3.0M430.6 410.66h4.6M436.7 410.66h1.5M447.3 410.66h1.5M404.7 413.12h3.0M415.4 413.12h1.5M441.2 413.12h1.5M444.3 413.12h1.5M439.7 415.59h1.5M407.8 418.06h3.0M435.1 418.06h1.5M442.7 418.06h1.5M453.4 418.06h1.5M456.4 418.06h1.5M406.3 420.52h1.5M415.4 420.52h1.5M432.1 420.52h1.5M445.8 420.52h1.5M413.9 422.99h3.0M432.1 422.99h1.5M415.4 425.45h1.5M424.5 425.45h3.0M439.7 425.45h1.5M404.7 427.92h1.5M410.8 427.92h4.6M423.0 427.92h1.5M435.1 427.92h3.0M439.7 427.92h1.5M410.8 430.38h1.5M421.5 430.38h1.5M447.3 430.38h1.5M407.8 432.85h1.5M412.3 432.85h1.5M415.4 432.85h1.5M430.6 432.85h1.5M444.3 432.85h1.5M432.1 435.31h1.5M473.1 435.31h1.5M409.3 437.78h3.0M436.7 437.78h1.5M462.5 437.78h3.0M467.1 437.78h1.5M479.2 437.78h1.5M404.7 440.24h4.6M413.9 440.24h3.0M432.1 440.24h1.5M445.8 440.24h1.5M467.1 440.24h1.5M471.6 440.24h1.5M401.7 442.71h1.5M409.3 442.71h1.5M447.3 442.71h1.5M401.7 445.18h1.5M404.7 445.18h1.5M407.8 445.18h1.5M413.9 445.18h1.5M444.3 445.18h1.5M479.2 445.18h1.5M394.1 447.64h1.5M401.7 447.64h1.5M404.7 447.64h1.5M409.3 447.64h4.6M427.5 447.64h3.0M435.1 447.64h1.5M442.7 447.64h1.5M471.6 447.64h1.5M392.6 450.11h1.5M424.5 450.11h3.0M479.2 450.11h1.5M385.0 452.57h1.5M395.6 452.57h1.5M415.4 452.57h1.5M432.1 452.57h3.0M438.2 452.57h3.0M447.3 452.57h1.5M474.7 452.57h1.5M395.6 455.04h1.5M400.2 455.04h1.5M403.2 455.04h4.6M430.6 455.04h3.0M406.3 457.50h1.5M426.0 457.50h3.0M438.2 457.50h1.5M474.7 457.50h1.5M392.6 459.97h1.5M401.7 459.97h1.5M430.6 459.97h1.5M451.9 459.97h1.5" stroke="#e4d8e4" stroke-width="2.52"/>
<path d="M444.3 398.33h1.5M480.7 398.33h1.5M409.3 413.12h1.5M467.1 415.59h1.5M406.3 418.06h1.5M412.3 422.99h1.5M444.3 422.99h4.6M447.3 425.45h1.5M409.3 430.38h1.5M436.7 430.38h1.5M442.7 430.38h1.5M413.9 435.31h1.5M471.6 435.31h1.5M457.9 437.78h1.5M473.1 437.78h1.5M477.7 437.78h1.5M468.6 440.24h1.5M482.3 440.24h1.5M406.3 442.71h1.5M410.8 442.71h1.5M438.2 442.71h3.0M450.3 445.18h1.5M464.0 445.18h3.0M464.0 447.64h1.5M467.1 447.64h1.5M389.5 450.11h1.5M413.9 450.11h1.5M442.7 450.11h1.5M401.7 452.57h1.5M406.3 452.57h1.5M412.3 452.57h1.5M435.1 452.57h1.5M409.3 455.04h1.5M470.1 455.04h1.5M415.4 457.50h1.5M471.6 457.50h3.0M380.4 459.97h1.5M388.0 459.97h3.0M400.2 459.97h1.5M438.2 459.97h1.5M470.1 459.97h3.0" stroke="#d8cce4" stroke-width="2.52"/>
<path d="M448.8 398.33h1.5M467.1 400.80h1.5M474.7 400.80h1.5M453.4 403.26h1.5M457.9 403.26h1.5M467.1 403.26h3.0M474.7 403.26h1.5M456.4 405.73h3.0M477.7 405.73h1.5M453.4 408.19h3.0M473.1 408.19h1.5M448.8 410.66h1.5M451.9 410.66h1.5M465.5 410.66h3.0M471.6 410.66h1.5M476.2 410.66h1.5M448.8 413.12h1.5M453.4 413.12h1.5M465.5 413.12h1.5M476.2 413.12h1.5M454.9 415.59h1.5M473.1 415.59h1.5M465.5 418.06h1.5M471.6 418.06h1.5M453.4 420.52h1.5M457.9 420.52h3.0M465.5 420.52h1.5M479.2 420.52h4.6M454.9 422.99h6.1M471.6 422.99h1.5M479.2 422.99h1.5M453.4 425.45h1.5M468.6 425.45h1.5M482.3 425.45h1.5M459.5 427.92h1.5M473.1 427.92h1.5M477.7 427.92h1.5M459.5 432.85h3.0M459.5 435.31h1.5M465.5 435.31h1.5M470.1 435.31h1.5M459.5 442.71h1.5M459.5 445.18h1.5M410.8 452.57h1.5M450.3 452.57h1.5M447.3 455.04h1.5M451.9 455.04h1.5M461.0 455.04h1.5M383.5 457.50h1.5M444.3 457.50h1.5M451.9 457.50h1.5M457.9 457.50h1.5M395.6 459.97h1.5M448.8 459.97h1.5M464.0 459.97h1.5" stroke="#909ccc" stroke-width="2.52"/>
<path d="M450.3 398.33h1.5M467.1 398.33h1.5M461.0 403.26h1.5M464.0 403.26h1.5M476.2 403.26h1.5M483.8 403.26h1.5M483.8 405.73h1.5M456.4 408.19h1.5M465.5 408.19h1.5M482.3 408.19h1.5M410.8 410.66h1.5M454.9 410.66h1.5M461.0 413.12h1.5M468.6 415.59h1.5M482.3 415.59h1.5M462.5 418.06h1.5M462.5 420.52h1.5M471.6 420.52h1.5M477.7 420.52h1.5M483.8 420.52h1.5M453.4 422.99h1.5M467.1 422.99h1.5M448.8 425.45h1.5M457.9 425.45h1.5M474.7 425.45h1.5M483.8 425.45h1.5M448.8 430.38h1.5M454.9 430.38h1.5M465.5 430.38h1.5M473.1 430.38h1.5M476.2 430.38h1.5M480.7 430.38h1.5M451.9 432.85h1.5M456.4 432.85h1.5M473.1 432.85h1.5M450.3 435.31h1.5M464.0 435.31h1.5M483.8 435.31h1.5M457.9 440.24h1.5M482.3 442.71h1.5M448.8 445.18h1.5M453.4 445.18h1.5M456.4 447.64h3.0M461.0 447.64h1.5M454.9 450.11h1.5M451.9 452.57h1.5M465.5 452.57h1.5M462.5 457.50h1.5M435.1 459.97h1.5" stroke="#9ca8d8" stroke-width="2.52"/>
<path d="M451.9 398.33h3.0M465.5 405.73h1.5M483.8 408.19h1.5M450.3 410.66h1.5M468.6 410.66h1.5M457.9 413.12h1.5M470.1 413.12h3.0M474.7 413.12h1.5M477.7 415.59h1.5M483.8 415.59h1.5M448.8 422.99h1.5M477.7 425.45h1.5M480.7 425.45h1.5M457.9 427.92h1.5M448.8 432.85h1.5" stroke="#6078b4" stroke-width="2.52"/>
<path d="M454.9 398.33h1.5M457.9 400.80h1.5M470.1 400.80h1.5M454.9 403.26h1.5M471.6 408.19h1.5M409.3 410.66h1.5M453.4 410.66h1.5M462.5 413.12h1.5M468.6 413.12h1.5M453.4 415.59h1.5M459.5 418.06h1.5M464.0 418.06h1.5M467.1 418.06h1.5M470.1 418.06h1.5M473.1 418.06h1.5M450.3 420.52h1.5M454.9 420.52h1.5M465.5 422.99h1.5M473.1 422.99h1.5M451.9 425.45h1.5M476.2 427.92h1.5M450.3 432.85h1.5M467.1 432.85h1.5M453.4 435.31h1.5M453.4 440.24h1.5M448.8 447.64h1.5M459.5 447.64h1.5M461.0 452.57h1.5M459.5 455.04h1.5M453.4 457.50h1.5" stroke="#8490cc" stroke-width="2.52"/>
<path d="M456.4 398.33h1.5M461.0 405.73h1.5M470.1 405.73h3.0M456.4 410.66h1.5M477.7 410.66h3.0M457.9 415.59h1.5M462.5 422.99h1.5M468.6 422.99h1.5M476.2 422.99h1.5M462.5 427.92h1.5M482.3 427.92h1.5M474.7 430.38h1.5M483.8 430.38h1.5M482.3 432.85h1.5M461.0 435.31h1.5M467.1 435.31h1.5M456.4 442.71h1.5M456.4 452.57h1.5M456.4 455.04h3.0" stroke="#6c78b4" stroke-width="2.52"/>
<path d="M457.9 398.33h1.5M467.1 405.73h1.5M457.9 410.66h1.5M456.4 413.12h1.5M470.1 415.59h1.5M470.1 422.99h1.5M474.7 427.92h1.5M474.7 432.85h1.5M479.2 432.85h1.5M454.9 442.71h1.5" stroke="#546ca8" stroke-width="2.52"/>
<path d="M459.5 398.33h1.5M474.7 420.52h1.5M450.3 422.99h1.5M482.3 422.99h1.5M462.5 425.45h1.5M451.9 427.92h1.5M453.4 442.71h1.5M457.9 445.18h1.5M410.8 450.11h1.5M450.3 455.04h1.5M468.6 457.50h1.5M409.3 459.97h1.5" stroke="#9c9ccc" stroke-width="2.52"/>
<path d="M461.0 398.33h3.0M465.5 398.33h1.5M473.1 400.80h1.5M482.3 400.80h1.5M451.9 403.26h1.5M456.4 403.26h1.5M459.5 403.26h1.5M471.6 403.26h3.0M482.3 403.26h1.5M451.9 405.73h1.5M454.9 405.73h1.5M459.5 405.73h1.5M480.7 405.73h3.0M451.9 408.19h1.5M459.5 408.19h3.0M467.1 408.19h1.5M442.7 415.59h1.5M447.3 415.59h1.5M451.9 415.59h1.5M444.3 418.06h1.5M450.3 418.06h3.0M482.3 418.06h1.5M448.8 420.52h1.5M476.2 420.52h1.5M451.9 422.99h1.5M450.3 425.45h1.5M459.5 425.45h1.5M464.0 425.45h1.5M473.1 425.45h1.5M432.1 427.92h1.5M471.6 430.38h1.5M479.2 430.38h1.5M447.3 432.85h1.5M410.8 435.31h1.5M415.4 435.31h1.5M456.4 435.31h1.5M474.7 435.31h3.0M450.3 437.78h1.5M448.8 440.24h1.5M451.9 440.24h1.5M462.5 440.24h4.6M470.1 440.24h1.5M474.7 440.24h1.5M435.1 442.71h1.5M448.8 442.71h1.5M462.5 442.71h3.0M474.7 442.71h1.5M454.9 445.18h1.5M470.1 445.18h1.5M444.3 447.64h1.5M416.9 450.11h1.5M436.7 450.11h1.5M468.6 450.11h1.5M473.1 450.11h1.5M476.2 450.11h1.5M386.5 452.57h1.5M453.4 452.57h1.5M468.6 452.57h1.5M389.5 455.04h1.5M412.3 455.04h1.5M421.5 455.04h1.5M386.5 457.50h1.5M436.7 457.50h1.5M447.3 457.50h4.6M406.3 459.97h1.5M426.0 459.97h1.5M433.6 459.97h1.5" stroke="#b4b4d8" stroke-width="2.52"/>
<path d="M464.0 398.33h1.5M450.3 400.80h1.5M459.5 400.80h1.5M465.5 400.80h1.5M470.1 403.26h1.5M462.5 408.19h1.5M480.7 415.59h1.5M448.8 418.06h1.5M461.0 418.06h1.5M468.6 418.06h1.5M467.1 420.52h1.5M483.8 422.99h1.5M454.9 425.45h1.5M459.5 430.38h1.5M453.4 432.85h1.5M454.9 440.24h3.0M461.0 440.24h1.5M461.0 442.71h1.5M447.3 445.18h1.5M462.5 447.64h1.5M462.5 450.11h1.5M470.1 450.11h1.5M462.5 452.57h1.5M462.5 455.04h3.0M389.5 457.50h1.5M442.7 457.50h1.5M464.0 457.50h1.5M410.8 459.97h3.0" stroke="#a8a8d8" stroke-width="2.52"/>
<path d="M468.6 398.33h1.5M479.2 425.45h1.5M468.6 430.38h1.5M468.6 432.85h1.5M468.6 435.31h1.5" stroke="#4860a8" stroke-width="2.52"/>
<path d="M470.1 398.33h1.5M450.3 405.73h1.5M468.6 405.73h1.5M470.1 410.66h1.5M474.7 410.66h1.5M451.9 413.12h1.5M464.0 413.12h1.5M477.7 413.12h1.5M456.4 415.59h1.5M471.6 415.59h1.5M457.9 418.06h1.5M474.7 418.06h1.5M470.1 425.45h1.5M453.4 427.92h3.0M456.4 430.38h1.5M467.1 430.38h1.5M470.1 430.38h1.5M477.7 430.38h1.5M464.0 432.85h1.5M476.2 432.85h1.5M457.9 442.71h1.5M483.8 442.71h1.5M453.4 447.64h1.5M459.5 452.57h1.5M456.4 457.50h1.5M457.9 459.97h1.5M461.0 459.97h1.5" stroke="#7884c0" stroke-width="2.52"/>
<path d="M471.6 398.33h1.5M477.7 398.33h1.5M451.9 400.80h1.5M461.0 400.80h1.5M448.8 405.73h1.5M462.5 405.73h1.5M474.7 408.19h1.5M407.8 410.66h1.5M410.8 413.12h1.5M412.3 418.06h1.5M442.7 427.92h1.5M480.7 435.31h1.5M448.8 437.78h1.5M483.8 437.78h1.5M436.7 440.24h3.0M450.3 440.24h1.5M477.7 442.71h1.5M461.0 445.18h1.5M416.9 447.64h1.5M432.1 450.11h1.5M448.8 450.11h1.5M454.9 452.57h1.5M470.1 452.57h1.5M453.4 455.04h1.5M378.9 457.50h1.5M409.3 457.50h1.5M454.9 457.50h1.5M385.0 459.97h1.5M459.5 459.97h1.5" stroke="#b4c0d8" stroke-width="2.52"/>
<path d="M473.1 398.33h1.5M479.2 398.33h1.5M453.4 400.80h1.5M480.7 400.80h1.5M401.7 403.26h1.5M448.8 403.26h1.5M480.7 403.26h1.5M464.0 408.19h1.5M459.5 415.59h1.5M445.8 425.45h1.5M467.1 425.45h1.5M471.6 425.45h1.5M430.6 427.92h1.5M448.8 427.92h1.5M453.4 430.38h1.5M436.7 432.85h1.5M430.6 435.31h1.5M482.3 435.31h1.5M470.1 437.78h1.5M474.7 437.78h1.5M480.7 437.78h3.0M483.8 440.24h1.5M450.3 442.71h1.5M468.6 442.71h3.0M410.8 445.18h1.5M451.9 445.18h1.5M468.6 445.18h1.5M471.6 445.18h1.5M451.9 447.64h1.5M454.9 447.64h1.5M407.8 450.11h1.5M415.4 450.11h1.5M433.6 450.11h1.5M451.9 450.11h1.5M448.8 452.57h1.5M383.5 455.04h1.5M388.0 455.04h1.5M416.9 455.04h1.5M419.9 455.04h1.5M436.7 455.04h1.5M444.3 455.04h1.5M465.5 455.04h1.5M412.3 457.50h1.5M418.4 457.50h1.5M430.6 457.50h1.5M459.5 457.50h1.5M467.1 457.50h1.5M470.1 457.50h1.5M386.5 459.97h1.5M394.1 459.97h1.5M424.5 459.97h1.5M427.5 459.97h1.5M432.1 459.97h1.5M436.7 459.97h1.5M441.2 459.97h1.5M445.8 459.97h1.5M450.3 459.97h1.5" stroke="#c0c0d8" stroke-width="2.52"/>
<path d="M474.7 398.33h1.5M471.6 400.80h1.5M441.2 415.59h1.5M415.4 418.06h1.5M480.7 418.06h1.5M465.5 425.45h1.5M445.8 427.92h1.5M442.7 432.85h1.5M454.9 435.31h1.5M444.3 437.78h1.5M476.2 437.78h1.5M426.0 442.71h1.5M467.1 445.18h1.5M404.7 450.11h1.5M438.2 450.11h1.5M453.4 450.11h1.5M389.5 452.57h1.5M429.1 452.57h1.5M445.8 452.57h1.5M391.1 455.04h3.0M415.4 455.04h1.5M380.4 457.50h1.5M385.0 457.50h1.5M392.6 457.50h1.5M410.8 457.50h1.5M432.1 457.50h1.5M378.9 459.97h1.5M439.7 459.97h1.5" stroke="#c0c0e4" stroke-width="2.52"/>
<path d="M482.3 398.33h1.5M448.8 400.80h1.5M454.9 400.80h1.5M464.0 400.80h1.5M479.2 400.80h1.5M450.3 403.26h1.5M462.5 403.26h1.5M453.4 405.73h1.5M464.0 405.73h1.5M479.2 405.73h1.5M468.6 408.19h1.5M476.2 408.19h1.5M479.2 408.19h3.0M404.7 410.66h3.0M462.5 410.66h1.5M473.1 410.66h1.5M442.7 413.12h1.5M436.7 415.59h1.5M476.2 418.06h1.5M451.9 420.52h1.5M461.0 420.52h1.5M473.1 420.52h1.5M477.7 422.99h1.5M480.7 422.99h1.5M456.4 425.45h1.5M476.2 425.45h1.5M444.3 427.92h1.5M450.3 427.92h1.5M461.0 430.38h4.6M454.9 432.85h1.5M448.8 435.31h1.5M451.9 435.31h1.5M457.9 435.31h1.5M462.5 435.31h1.5M477.7 435.31h1.5M451.9 437.78h1.5M468.6 437.78h1.5M459.5 440.24h1.5M404.7 442.71h1.5M442.7 442.71h1.5M451.9 442.71h1.5M480.7 442.71h1.5M450.3 447.64h1.5M468.6 447.64h3.0M450.3 450.11h1.5M459.5 450.11h1.5M464.0 450.11h1.5M471.6 450.11h1.5M477.7 450.11h1.5M380.4 452.57h1.5M442.7 452.57h1.5M464.0 452.57h1.5M445.8 455.04h1.5M448.8 455.04h1.5M441.2 457.50h1.5M461.0 457.50h1.5M442.7 459.97h3.0" stroke="#a8b4d8" stroke-width="2.52"/>
<path d="M483.8 398.33h1.5M456.4 400.80h1.5M477.7 408.19h1.5M459.5 410.66h1.5M459.5 413.12h1.5M482.3 413.12h1.5M457.9 432.85h1.5M462.5 432.85h1.5M457.9 450.11h1.5M462.5 459.97h1.5" stroke="#7890c0" stroke-width="2.52"/>
<path d="M392.6 400.80h1.5M418.4 408.19h1.5M394.1 413.12h1.5M401.7 415.59h1.5M419.9 415.59h1.5M378.9 418.06h1.5M381.9 418.06h1.5M395.6 425.45h1.5M403.2 425.45h1.5M401.7 430.38h1.5M389.5 432.85h1.5M378.9 435.31h1.5" stroke="#c07890" stroke-width="2.52"/>
<path d="M395.6 400.80h1.5M439.7 400.80h3.0M395.6 415.59h1.5M395.6 418.06h1.5M421.5 420.52h1.5M447.3 420.52h1.5M389.5 422.99h1.5M389.5 425.45h1.5M394.1 430.38h1.5M394.1 432.85h1.5M432.1 432.85h1.5M383.5 435.31h1.5M386.5 435.31h1.5M383.5 437.78h3.0M391.1 437.78h3.0M416.9 437.78h1.5M423.0 437.78h1.5M430.6 437.78h1.5M386.5 445.18h1.5M395.6 445.18h1.5M473.1 455.04h1.5" stroke="#d8a8b4" stroke-width="2.52"/>
<path d="M397.1 400.80h1.5M421.5 400.80h1.5" stroke="#a83048" stroke-width="2.52"/>
<path d="M398.7 400.80h1.5M416.9 400.80h3.0M433.6 400.80h1.5M426.0 403.26h3.0M381.9 405.73h1.5M385.0 405.73h1.5M418.4 405.73h1.5M429.1 405.73h1.5M383.5 408.19h3.0M388.0 410.66h4.6M392.6 420.52h1.5M400.2 420.52h1.5M385.0 425.45h1.5M407.8 425.45h1.5M398.7 427.92h3.0M398.7 430.38h1.5M398.7 435.31h1.5M429.1 437.78h1.5" stroke="#9c2448" stroke-width="2.52"/>
<path d="M401.7 400.80h1.5M445.8 403.26h1.5M380.4 445.18h1.5" stroke="#d89ca8" stroke-width="2.52"/>
<path d="M403.2 400.80h1.5M391.1 420.52h1.5M392.6 435.31h1.5" stroke="#b46078" stroke-width="2.52"/>
<path d="M430.6 400.80h1.5M447.3 400.80h1.5M410.8 403.26h1.5M407.8 408.19h1.5M445.8 410.66h1.5M432.1 413.12h1.5M404.7 420.52h1.5M442.7 420.52h1.5M423.0 422.99h3.0M429.1 430.38h1.5M418.4 432.85h1.5M421.5 435.31h1.5M424.5 435.31h1.5M418.4 437.78h1.5M400.2 442.71h1.5M394.1 445.18h1.5M400.2 445.18h1.5M406.3 447.64h1.5M383.5 450.11h1.5M429.1 450.11h1.5M483.8 450.11h1.5M429.1 457.50h1.5M474.7 459.97h1.5" stroke="#d8c0d8" stroke-width="2.52"/>
<path d="M468.6 400.80h1.5M476.2 405.73h1.5M480.7 410.66h1.5M450.3 413.12h1.5M456.4 420.52h1.5M464.0 420.52h1.5M480.7 427.92h1.5M477.7 432.85h1.5M457.9 452.57h1.5M456.4 459.97h1.5" stroke="#6c84c0" stroke-width="2.52"/>
<path d="M477.7 400.80h1.5M483.8 400.80h1.5M465.5 403.26h1.5M457.9 408.19h1.5M470.1 408.19h1.5M461.0 410.66h1.5M473.1 413.12h1.5M480.7 413.12h1.5M477.7 418.06h1.5M483.8 418.06h1.5M470.1 420.52h1.5M461.0 427.92h1.5M479.2 427.92h1.5M450.3 430.38h1.5M482.3 430.38h1.5M465.5 432.85h1.5M470.1 432.85h1.5M474.7 450.11h1.5M410.8 455.04h1.5M447.3 459.97h1.5" stroke="#8490c0" stroke-width="2.52"/>
<path d="M378.9 403.26h3.0M442.7 405.73h1.5M378.9 420.52h1.5M429.1 420.52h1.5M398.7 422.99h1.5" stroke="#cc789c" stroke-width="2.52"/>
<path d="M407.8 403.26h1.5M385.0 410.66h1.5M401.7 427.92h1.5M397.1 430.38h1.5M483.8 459.97h1.5" stroke="#a83054" stroke-width="2.52"/>
<path d="M418.4 403.26h3.0M388.0 405.73h1.5M392.6 410.66h1.5M403.2 410.66h1.5M391.1 415.59h1.5M421.5 415.59h1.5M388.0 420.52h1.5M388.0 422.99h1.5M394.1 422.99h1.5M429.1 422.99h1.5M395.6 437.78h3.0M429.1 442.71h1.5M381.9 445.18h1.5M432.1 445.18h1.5M395.6 447.64h1.5M400.2 457.50h1.5" stroke="#cc90a8" stroke-width="2.52"/>
<path d="M429.1 403.26h1.5M427.5 405.73h1.5" stroke="#a83c54" stroke-width="2.52"/>
<path d="M477.7 403.26h1.5M476.2 415.59h1.5M468.6 420.52h1.5" stroke="#606cb4" stroke-width="2.52"/>
<path d="M479.2 403.26h1.5M454.9 413.12h1.5M467.1 413.12h1.5M450.3 415.59h1.5M479.2 418.06h1.5" stroke="#849ccc" stroke-width="2.52"/>
<path d="M473.1 405.73h1.5" stroke="#5460a8" stroke-width="2.52"/>
<path d="M474.7 405.73h1.5M483.8 410.66h1.5M483.8 413.12h1.5M448.8 415.59h1.5M474.7 415.59h1.5M474.7 422.99h1.5M456.4 427.92h1.5M464.0 427.92h7.6M457.9 430.38h1.5M480.7 432.85h1.5M483.8 432.85h1.5" stroke="#3c549c" stroke-width="2.52"/>
<path d="M464.0 410.66h1.5M461.0 422.99h1.5M461.0 425.45h1.5M456.4 445.18h1.5" stroke="#9ca8cc" stroke-width="2.52"/>
<path d="M482.3 410.66h1.5M479.2 413.12h1.5M464.0 422.99h1.5M483.8 427.92h1.5" stroke="#546cb4" stroke-width="2.52"/>
<path d="M435.1 415.59h1.5M462.5 415.59h1.5M445.8 418.06h1.5M451.9 430.38h1.5M442.7 437.78h1.5M453.4 437.78h1.5M479.2 442.71h1.5M471.6 452.57h1.5M419.9 457.50h1.5M397.1 459.97h1.5" stroke="#ccc0e4" stroke-width="2.52"/>
<path d="M479.2 415.59h1.5M471.6 427.92h1.5M456.4 450.11h1.5" stroke="#3c60a8" stroke-width="2.52"/>
<path d="M436.7 418.06h1.5M413.9 420.52h1.5M424.5 452.57h1.5M423.0 457.50h1.5" stroke="#e4d8d8" stroke-width="2.52"/>
<path d="M395.6 435.31h1.5M427.5 437.78h1.5" stroke="#b44860" stroke-width="2.52"/>
<rect x="405.2" y="397.1" width="3.8" height="64.1" fill="#f2e070" opacity="0.85"/>
<rect x="460.5" y="397.1" width="3.8" height="64.1" fill="#f2e070" opacity="0.85"/>
</g>
<path d="M378.9 469.87h1.5M394.1 469.87h1.5M424.5 469.87h1.5M442.7 469.87h1.5M450.3 469.87h1.5" stroke="#e484a8" stroke-width="8.99"/>
<path d="M380.4 469.87h1.5M403.2 469.87h1.5M415.4 469.87h1.5M421.5 469.87h1.5M427.5 469.87h1.5M433.6 469.87h1.5M438.2 469.87h1.5M482.3 469.87h1.5" stroke="#f0a8c0" stroke-width="8.99"/>
<path d="M381.9 469.87h1.5M432.1 469.87h1.5M456.4 469.87h1.5M465.5 469.87h1.5" stroke="#f0c0cc" stroke-width="8.99"/>
<path d="M383.5 469.87h1.5" stroke="#d8c0d8" stroke-width="8.99"/>
<path d="M385.0 469.87h1.5M395.6 469.87h1.5M407.8 469.87h1.5M423.0 469.87h1.5" stroke="#f09cb4" stroke-width="8.99"/>
<path d="M386.5 469.87h1.5M409.3 469.87h1.5" stroke="#e4789c" stroke-width="8.99"/>
<path d="M388.0 469.87h1.5M426.0 469.87h1.5M439.7 469.87h1.5M447.3 469.87h3.0" stroke="#e490a8" stroke-width="8.99"/>
<path d="M389.5 469.87h1.5M476.2 469.87h1.5" stroke="#f0b4c0" stroke-width="8.99"/>
<path d="M391.1 469.87h1.5M406.3 469.87h1.5" stroke="#e4849c" stroke-width="8.99"/>
<path d="M392.6 469.87h1.5M445.8 469.87h1.5M454.9 469.87h1.5M461.0 469.87h1.5M473.1 469.87h1.5" stroke="#f0b4cc" stroke-width="8.99"/>
<path d="M397.1 469.87h1.5M430.6 469.87h1.5" stroke="#e49cb4" stroke-width="8.99"/>
<path d="M398.7 469.87h3.0M413.9 469.87h1.5M418.4 469.87h1.5M451.9 469.87h1.5" stroke="#e4a8c0" stroke-width="8.99"/>
<path d="M401.7 469.87h1.5M429.1 469.87h1.5" stroke="#e490b4" stroke-width="8.99"/>
<path d="M404.7 469.87h1.5M410.8 469.87h1.5M441.2 469.87h1.5M444.3 469.87h1.5M470.1 469.87h1.5M477.7 469.87h1.5M483.8 469.87h1.5" stroke="#d8b4cc" stroke-width="8.99"/>
<path d="M412.3 469.87h1.5" stroke="#d8cce4" stroke-width="8.99"/>
<path d="M416.9 469.87h1.5M419.9 469.87h1.5M436.7 469.87h1.5M471.6 469.87h1.5" stroke="#d8ccd8" stroke-width="8.99"/>
<path d="M435.1 469.87h1.5" stroke="#d8c0cc" stroke-width="8.99"/>
<path d="M453.4 469.87h1.5M457.9 469.87h3.0M462.5 469.87h1.5M467.1 469.87h3.0M479.2 469.87h3.0" stroke="#f0ccd8" stroke-width="8.99"/>
<path d="M464.0 469.87h1.5M474.7 469.87h1.5" stroke="#d8e4f0" stroke-width="8.99"/>
<path d="M378.9 478.81h1.5M385.0 478.81h3.0M400.2 478.81h1.5M404.7 478.81h1.5M407.8 478.81h3.0M413.9 478.81h1.5M416.9 478.81h3.0M423.0 478.81h1.5M432.1 478.81h1.5M445.8 478.81h3.0M451.9 478.81h1.5M454.9 478.81h3.0M464.0 478.81h3.0M468.6 478.81h1.5M482.3 478.81h3.0" stroke="#f0e4cc" stroke-width="8.99"/>
<path d="M380.4 478.81h4.6M388.0 478.81h1.5M391.1 478.81h4.6M397.1 478.81h1.5M401.7 478.81h3.0M406.3 478.81h1.5M410.8 478.81h1.5M415.4 478.81h1.5M419.9 478.81h3.0M424.5 478.81h7.6M433.6 478.81h3.0M438.2 478.81h1.5M441.2 478.81h4.6M448.8 478.81h1.5M457.9 478.81h1.5M462.5 478.81h1.5M467.1 478.81h1.5M470.1 478.81h6.1M479.2 478.81h1.5" stroke="#c0e4d8" stroke-width="8.99"/>
<path d="M389.5 478.81h1.5M395.6 478.81h1.5M398.7 478.81h1.5M412.3 478.81h1.5M436.7 478.81h1.5M439.7 478.81h1.5M450.3 478.81h1.5M453.4 478.81h1.5M459.5 478.81h3.0M476.2 478.81h3.0M480.7 478.81h1.5" stroke="#f0c0b4" stroke-width="8.99"/>
<path d="M378.9 487.75h3.0M383.5 487.75h1.5M386.5 487.75h1.5M391.1 487.75h1.5M395.6 487.75h1.5M398.7 487.75h1.5M412.3 487.75h1.5M416.9 487.75h1.5" stroke="#90cce4" stroke-width="8.99"/>
<path d="M381.9 487.75h1.5M388.0 487.75h1.5M400.2 487.75h6.1M407.8 487.75h1.5M413.9 487.75h3.0M423.0 487.75h1.5" stroke="#84c0d8" stroke-width="8.99"/>
<path d="M385.0 487.75h1.5M392.6 487.75h3.0" stroke="#9ccce4" stroke-width="8.99"/>
<path d="M389.5 487.75h1.5" stroke="#9cd8e4" stroke-width="8.99"/>
<path d="M397.1 487.75h1.5M406.3 487.75h1.5M442.7 487.75h1.5M453.4 487.75h3.0M459.5 487.75h1.5M465.5 487.75h1.5" stroke="#549cb4" stroke-width="8.99"/>
<path d="M409.3 487.75h1.5M418.4 487.75h1.5M462.5 487.75h1.5M467.1 487.75h1.5" stroke="#609cb4" stroke-width="8.99"/>
<path d="M410.8 487.75h1.5M419.9 487.75h3.0M429.1 487.75h1.5M435.1 487.75h3.0M444.3 487.75h1.5M450.3 487.75h1.5M456.4 487.75h1.5" stroke="#6ca8c0" stroke-width="8.99"/>
<path d="M424.5 487.75h1.5M430.6 487.75h1.5M441.2 487.75h1.5M448.8 487.75h1.5M461.0 487.75h1.5M477.7 487.75h1.5" stroke="#60a8c0" stroke-width="8.99"/>
<path d="M426.0 487.75h1.5M445.8 487.75h3.0" stroke="#78b4cc" stroke-width="8.99"/>
<path d="M427.5 487.75h1.5M480.7 487.75h1.5" stroke="#3c849c" stroke-width="8.99"/>
<path d="M432.1 487.75h1.5M474.7 487.75h1.5" stroke="#609cc0" stroke-width="8.99"/>
<path d="M433.6 487.75h1.5M439.7 487.75h1.5" stroke="#6cb4cc" stroke-width="8.99"/>
<path d="M438.2 487.75h1.5" stroke="#5490b4" stroke-width="8.99"/>
<path d="M451.9 487.75h1.5M457.9 487.75h1.5" stroke="#4884a8" stroke-width="8.99"/>
<path d="M464.0 487.75h1.5M479.2 487.75h1.5M482.3 487.75h1.5" stroke="#246c90" stroke-width="8.99"/>
<path d="M468.6 487.75h1.5M483.8 487.75h1.5" stroke="#307890" stroke-width="8.99"/>
<path d="M470.1 487.75h1.5" stroke="#3c789c" stroke-width="8.99"/>
<path d="M471.6 487.75h1.5M476.2 487.75h1.5" stroke="#4890a8" stroke-width="8.99"/>
<path d="M473.1 487.75h1.5" stroke="#306c90" stroke-width="8.99"/>
<path d="M378.9 496.69h1.5M385.0 496.69h1.5" stroke="#e4d878" stroke-width="8.99"/>
<path d="M380.4 496.69h4.6M386.5 496.69h1.5M400.2 496.69h1.5M404.7 496.69h1.5M407.8 496.69h3.0M427.5 496.69h1.5" stroke="#e4d890" stroke-width="8.99"/>
<path d="M388.0 496.69h1.5M398.7 496.69h1.5M406.3 496.69h1.5M410.8 496.69h4.6M416.9 496.69h1.5M424.5 496.69h1.5M429.1 496.69h3.0M435.1 496.69h3.0M439.7 496.69h3.0M447.3 496.69h1.5M450.3 496.69h1.5M457.9 496.69h3.0M474.7 496.69h1.5M477.7 496.69h1.5" stroke="#f0e4a8" stroke-width="8.99"/>
<path d="M389.5 496.69h3.0M394.1 496.69h4.6M403.2 496.69h1.5" stroke="#e4d884" stroke-width="8.99"/>
<path d="M392.6 496.69h1.5M451.9 496.69h1.5" stroke="#e4d89c" stroke-width="8.99"/>
<path d="M401.7 496.69h1.5M415.4 496.69h1.5M423.0 496.69h1.5M444.3 496.69h1.5" stroke="#e4e49c" stroke-width="8.99"/>
<path d="M418.4 496.69h3.0M432.1 496.69h1.5M438.2 496.69h1.5M442.7 496.69h1.5M448.8 496.69h1.5M453.4 496.69h4.6M461.0 496.69h3.0M465.5 496.69h1.5M480.7 496.69h1.5M483.8 496.69h1.5" stroke="#f0e4b4" stroke-width="8.99"/>
<path d="M421.5 496.69h1.5M426.0 496.69h1.5M433.6 496.69h1.5M464.0 496.69h1.5" stroke="#f0e49c" stroke-width="8.99"/>
<path d="M445.8 496.69h1.5M470.1 496.69h1.5M482.3 496.69h1.5" stroke="#f0f0c0" stroke-width="8.99"/>
<path d="M467.1 496.69h1.5M479.2 496.69h1.5" stroke="#fcf0cc" stroke-width="8.99"/>
<path d="M468.6 496.69h1.5M473.1 496.69h1.5M476.2 496.69h1.5" stroke="#f0f0cc" stroke-width="8.99"/>
<path d="M471.6 496.69h1.5" stroke="#f0f0b4" stroke-width="8.99"/>
<path d="M378.9 505.63h1.5M439.7 505.63h1.5M442.7 505.63h3.0M457.9 505.63h1.5" stroke="#d890b4" stroke-width="8.99"/>
<path d="M380.4 505.63h1.5" stroke="#d890c0" stroke-width="8.99"/>
<path d="M381.9 505.63h1.5M388.0 505.63h4.6M397.1 505.63h1.5M401.7 505.63h3.0M407.8 505.63h1.5M410.8 505.63h1.5M416.9 505.63h1.5M429.1 505.63h1.5M432.1 505.63h4.6M441.2 505.63h1.5M447.3 505.63h3.0M473.1 505.63h1.5M477.7 505.63h3.0M483.8 505.63h1.5" stroke="#d89cc0" stroke-width="8.99"/>
<path d="M383.5 505.63h3.0M404.7 505.63h1.5M426.0 505.63h1.5M436.7 505.63h1.5M451.9 505.63h1.5" stroke="#e4c0d8" stroke-width="8.99"/>
<path d="M386.5 505.63h1.5" stroke="#fce4f0" stroke-width="8.99"/>
<path d="M392.6 505.63h1.5M412.3 505.63h1.5M445.8 505.63h1.5" stroke="#f0c0d8" stroke-width="8.99"/>
<path d="M394.1 505.63h1.5M467.1 505.63h1.5" stroke="#cc78a8" stroke-width="8.99"/>
<path d="M395.6 505.63h1.5M423.0 505.63h1.5" stroke="#e4b4d8" stroke-width="8.99"/>
<path d="M398.7 505.63h1.5M409.3 505.63h1.5" stroke="#f0ccd8" stroke-width="8.99"/>
<path d="M400.2 505.63h1.5M415.4 505.63h1.5M418.4 505.63h4.6M424.5 505.63h1.5M427.5 505.63h1.5M430.6 505.63h1.5M461.0 505.63h3.0M465.5 505.63h1.5M468.6 505.63h1.5M474.7 505.63h1.5" stroke="#e4b4cc" stroke-width="8.99"/>
<path d="M406.3 505.63h1.5M450.3 505.63h1.5M454.9 505.63h1.5M459.5 505.63h1.5M480.7 505.63h3.0" stroke="#e4a8cc" stroke-width="8.99"/>
<path d="M413.9 505.63h1.5M438.2 505.63h1.5M471.6 505.63h1.5" stroke="#e49cc0" stroke-width="8.99"/>
<path d="M453.4 505.63h1.5M464.0 505.63h1.5M470.1 505.63h1.5M476.2 505.63h1.5" stroke="#e4a8c0" stroke-width="8.99"/>
<path d="M456.4 505.63h1.5" stroke="#cc84a8" stroke-width="8.99"/>
<rect x="378.9" y="465.4" width="106.4" height="44.699999999999996" fill="none" stroke="#111" stroke-width="1.2"/>
<path d="M378.9 474.3h106.4M378.9 483.3h106.4M378.9 492.2h106.4M378.9 501.2h106.4" stroke="#111" stroke-width="1"/>
<text x="376.5" y="469.9" font-size="8" text-anchor="end" fill="#222" stroke="#222" stroke-width="0.32" dominant-baseline="central">disease</text>
<text x="376.5" y="478.8" font-size="8" text-anchor="end" fill="#222" stroke="#222" stroke-width="0.32" dominant-baseline="central">study</text>
<text x="376.5" y="487.8" font-size="8" text-anchor="end" fill="#222" stroke="#222" stroke-width="0.32" dominant-baseline="central">type1</text>
<text x="376.5" y="496.7" font-size="8" text-anchor="end" fill="#222" stroke="#222" stroke-width="0.32" dominant-baseline="central">type2</text>
<text x="376.5" y="505.7" font-size="8" text-anchor="end" fill="#222" stroke="#222" stroke-width="0.32" dominant-baseline="central">type3</text>
<text x="472.4" y="518.8" font-size="7" text-anchor="middle" fill="#222" stroke="#222" stroke-width="0.32" dominant-baseline="central">z-score</text>
<defs><linearGradient id="gz457" x1="0" x2="1"><stop offset="0" stop-color="#2a4aa0"/><stop offset="0.2" stop-color="#3a5aa8"/><stop offset="0.4" stop-color="#b8d4ea"/><stop offset="0.5" stop-color="#f4f4f4"/><stop offset="0.62" stop-color="#e8b8c4"/><stop offset="0.8" stop-color="#b02850"/><stop offset="1" stop-color="#901838"/></linearGradient></defs>
<rect x="457.5" y="523.8" width="28.0" height="8.0" fill="url(#gz457)"/>
<path d="M457.5 531.8h28.0" stroke="#222" stroke-width="0.6"/>
<text x="459.7" y="538.8" font-size="8" text-anchor="middle" fill="#222" stroke="#222" stroke-width="0.32" dominant-baseline="central">-2</text>
<text x="472.1" y="538.8" font-size="8" text-anchor="middle" fill="#222" stroke="#222" stroke-width="0.32" dominant-baseline="central">0</text>
<text x="483.3" y="538.8" font-size="8" text-anchor="middle" fill="#222" stroke="#222" stroke-width="0.32" dominant-baseline="central">2</text>
<text x="573.9" y="361.3" font-size="9" text-anchor="middle" fill="#222" stroke="#222" stroke-width="0.35" dominant-baseline="central">Type 2 Dominant</text>
<text x="525.9" y="390.8" font-size="8" text-anchor="end" fill="#222" stroke="#222" stroke-width="0.32" dominant-baseline="central">ranksum</text>
<rect x="527.6" y="387" width="106.29999999999995" height="9.699999999999989" fill="#e8e8e8" stroke="#222" stroke-width="0.8"/>
<path d="M527.6 396.7 L527.6 387.4 L531.1 387.7 L534.7 387.9 L538.2 388.2 L541.8 388.4 L545.3 388.7 L548.9 389.0 L552.4 389.2 L555.9 389.5 L559.5 389.7 L563.0 390.0 L566.6 390.2 L570.1 390.5 L573.7 390.7 L577.2 391.0 L580.8 391.2 L584.3 391.5 L587.8 391.7 L591.4 392.0 L594.9 392.2 L598.5 392.4 L602.0 392.7 L605.6 392.9 L609.1 393.1 L612.6 393.4 L616.2 393.6 L619.7 393.8 L623.3 394.0 L626.8 394.2 L630.4 394.4 L633.9 394.6 L633.9 396.7Z" fill="#0a0a0a"/>
<g filter="url(#hb4)">
<path d="M527.6 398.01h1.5M548.9 398.01h1.5M558.0 398.01h4.6M565.6 398.01h1.5M577.7 398.01h4.6M585.3 398.01h1.5M597.5 398.01h3.0M605.0 398.01h4.6M612.6 398.01h1.5M615.7 398.01h1.5M621.8 398.01h1.5M626.3 398.01h1.5M629.3 398.01h3.0M527.6 400.64h1.5M530.6 400.64h1.5M535.2 400.64h1.5M545.8 400.64h1.5M553.4 400.64h4.6M562.5 400.64h1.5M565.6 400.64h1.5M577.7 400.64h3.0M583.8 400.64h1.5M618.7 400.64h1.5M551.9 403.26h1.5M559.5 403.26h1.5M567.1 403.26h1.5M576.2 403.26h1.5M579.2 403.26h3.0M594.4 403.26h1.5M599.0 403.26h4.6M608.1 403.26h1.5M617.2 403.26h3.0M623.3 403.26h3.0M629.3 403.26h1.5M535.2 405.89h1.5M567.1 405.89h1.5M580.8 405.89h1.5M585.3 405.89h3.0M589.9 405.89h1.5M595.9 405.89h4.6M605.0 405.89h1.5M608.1 405.89h1.5M612.6 405.89h1.5M620.2 405.89h7.6M629.3 405.89h4.6M577.7 408.51h1.5M582.3 408.51h1.5M595.9 408.51h1.5M599.0 408.51h6.1M608.1 408.51h1.5M614.2 408.51h1.5M617.2 408.51h4.6M626.3 408.51h1.5M576.2 411.14h4.6M582.3 411.14h1.5M624.8 411.14h1.5M579.2 413.76h1.5M591.4 413.76h1.5M599.0 413.76h1.5M603.5 413.76h3.0M611.1 413.76h1.5M614.2 413.76h3.0M624.8 413.76h6.1M567.1 416.39h1.5M577.7 416.39h3.0M585.3 416.39h1.5M594.4 416.39h1.5M605.0 416.39h6.1M612.6 416.39h1.5M617.2 416.39h4.6M624.8 416.39h1.5M532.2 419.01h1.5M562.5 419.01h1.5M577.7 419.01h1.5M582.3 419.01h1.5M592.9 419.01h1.5M595.9 419.01h6.1M605.0 419.01h1.5M612.6 419.01h1.5M620.2 419.01h1.5M623.3 419.01h1.5M538.2 421.64h1.5M548.9 421.64h1.5M561.0 421.64h3.0M577.7 421.64h1.5M599.0 421.64h3.0M605.0 421.64h1.5M608.1 421.64h1.5M611.1 421.64h3.0M615.7 421.64h4.6M626.3 421.64h1.5M629.3 421.64h4.6M538.2 424.26h1.5M548.9 424.26h1.5M565.6 424.26h1.5M580.8 424.26h1.5M586.8 424.26h1.5M595.9 424.26h3.0M600.5 424.26h1.5M605.0 424.26h1.5M614.2 424.26h1.5M617.2 424.26h4.6M626.3 424.26h1.5M630.9 424.26h1.5M527.6 426.89h1.5M556.5 426.89h1.5M561.0 426.89h1.5M564.0 426.89h3.0M577.7 426.89h1.5M582.3 426.89h1.5M594.4 426.89h1.5M600.5 426.89h1.5M605.0 426.89h6.1M617.2 426.89h3.0M623.3 426.89h1.5" stroke="#cccce4" stroke-width="2.67"/>
<path d="M529.1 398.01h1.5M538.2 398.01h1.5M541.3 398.01h1.5M547.3 398.01h1.5M554.9 398.01h1.5M564.0 398.01h1.5M588.3 398.01h1.5M602.0 398.01h1.5M533.7 400.64h1.5M527.6 403.26h3.0M541.3 403.26h1.5M547.3 403.26h1.5M591.4 403.26h1.5M533.7 405.89h1.5M558.0 405.89h1.5M530.6 408.51h1.5M536.7 408.51h1.5M551.9 408.51h1.5M579.2 408.51h1.5M606.6 408.51h1.5M541.3 411.14h1.5M561.0 413.76h1.5M594.4 413.76h1.5M541.3 416.39h1.5M556.5 416.39h1.5M573.2 416.39h1.5M530.6 419.01h1.5M538.2 419.01h1.5M553.4 419.01h1.5M527.6 421.64h1.5M530.6 421.64h1.5M541.3 421.64h1.5M550.4 421.64h1.5M553.4 421.64h1.5M585.3 421.64h1.5M536.7 424.26h1.5M547.3 424.26h1.5M529.1 426.89h1.5" stroke="#e4ccd8" stroke-width="2.67"/>
<path d="M530.6 398.01h1.5M542.8 398.01h1.5M592.9 400.64h1.5M533.7 408.51h1.5M544.3 411.14h1.5" stroke="#d8c0d8" stroke-width="2.67"/>
<path d="M532.2 398.01h1.5M550.4 400.64h1.5M538.2 405.89h1.5M550.4 405.89h1.5M538.2 416.39h1.5M548.9 416.39h1.5M559.5 416.39h1.5M554.9 419.01h1.5M559.5 419.01h1.5M535.2 421.64h1.5M541.3 426.89h1.5M554.9 426.89h1.5" stroke="#cc849c" stroke-width="2.67"/>
<path d="M533.7 398.01h1.5M536.7 398.01h1.5M571.6 398.01h1.5M574.7 398.01h1.5M583.8 398.01h1.5M589.9 398.01h1.5M594.4 398.01h1.5M603.5 398.01h1.5M609.6 398.01h1.5M618.7 398.01h1.5M624.8 398.01h1.5M536.7 400.64h1.5M564.0 400.64h1.5M567.1 400.64h1.5M571.6 400.64h1.5M533.7 403.26h3.0M542.8 403.26h1.5M553.4 403.26h1.5M558.0 403.26h1.5M561.0 403.26h1.5M571.6 403.26h3.0M606.6 403.26h1.5M527.6 405.89h1.5M545.8 405.89h1.5M576.2 405.89h1.5M579.2 405.89h1.5M582.3 405.89h1.5M609.6 405.89h1.5M618.7 405.89h1.5M527.6 408.51h1.5M535.2 408.51h1.5M544.3 408.51h3.0M571.6 408.51h1.5M576.2 408.51h1.5M588.3 408.51h1.5M594.4 408.51h1.5M623.3 408.51h1.5M627.8 408.51h3.0M545.8 411.14h3.0M561.0 411.14h1.5M567.1 411.14h1.5M571.6 411.14h1.5M588.3 411.14h1.5M592.9 411.14h1.5M595.9 411.14h3.0M618.7 411.14h1.5M623.3 411.14h1.5M629.3 411.14h3.0M535.2 413.76h1.5M571.6 413.76h1.5M577.7 413.76h1.5M585.3 413.76h4.6M606.6 413.76h1.5M617.2 413.76h3.0M532.2 416.39h1.5M535.2 416.39h1.5M565.6 416.39h1.5M595.9 416.39h1.5M599.0 416.39h1.5M602.0 416.39h1.5M535.2 419.01h1.5M576.2 419.01h1.5M586.8 419.01h1.5M606.6 419.01h3.0M532.2 421.64h1.5M564.0 421.64h3.0M579.2 421.64h1.5M582.3 421.64h1.5M586.8 421.64h3.0M591.4 421.64h1.5M609.6 421.64h1.5M620.2 421.64h1.5M539.7 424.26h1.5M564.0 424.26h1.5M591.4 424.26h1.5M609.6 424.26h1.5M530.6 426.89h1.5M550.4 426.89h1.5M562.5 426.89h1.5M574.7 426.89h1.5M589.9 426.89h1.5M595.9 426.89h1.5M602.0 426.89h1.5" stroke="#d8d8e4" stroke-width="2.67"/>
<path d="M535.2 398.01h1.5M551.9 398.01h1.5M562.5 398.01h1.5M567.1 398.01h3.0M573.2 398.01h1.5M586.8 398.01h1.5M595.9 398.01h1.5M620.2 398.01h1.5M529.1 400.64h1.5M585.3 400.64h1.5M591.4 400.64h1.5M554.9 403.26h1.5M582.3 403.26h1.5M585.3 403.26h1.5M630.9 403.26h1.5M547.3 405.89h1.5M551.9 405.89h1.5M591.4 405.89h1.5M594.4 405.89h1.5M547.3 408.51h1.5M561.0 408.51h1.5M573.2 408.51h1.5M580.8 408.51h1.5M583.8 408.51h1.5M586.8 408.51h1.5M621.8 408.51h1.5M630.9 408.51h1.5M535.2 411.14h1.5M573.2 411.14h1.5M589.9 411.14h3.0M594.4 411.14h1.5M602.0 411.14h1.5M608.1 411.14h1.5M582.3 413.76h3.0M589.9 413.76h1.5M630.9 413.76h1.5M530.6 416.39h1.5M588.3 416.39h1.5M591.4 416.39h3.0M600.5 416.39h1.5M548.9 419.01h3.0M567.1 419.01h1.5M588.3 419.01h1.5M602.0 419.01h1.5M592.9 421.64h1.5M595.9 421.64h3.0M602.0 421.64h1.5M541.3 424.26h1.5M550.4 424.26h1.5M574.7 424.26h1.5M594.4 424.26h1.5M602.0 424.26h1.5M608.1 424.26h1.5M532.2 426.89h3.0M548.9 426.89h1.5M579.2 426.89h1.5M588.3 426.89h1.5M591.4 426.89h1.5" stroke="#d8cce4" stroke-width="2.67"/>
<path d="M539.7 398.01h1.5M556.5 408.51h1.5M553.4 411.14h1.5M558.0 411.14h1.5M542.8 413.76h1.5M545.8 413.76h1.5M553.4 413.76h1.5M556.5 413.76h1.5M574.7 413.76h1.5M542.8 416.39h1.5M553.4 416.39h1.5M571.6 416.39h1.5M545.8 419.01h1.5M568.6 421.64h1.5M583.8 421.64h1.5" stroke="#a83c60" stroke-width="2.67"/>
<path d="M544.3 398.01h3.0M550.4 398.01h1.5M553.4 398.01h1.5M556.5 398.01h1.5M570.1 398.01h1.5M576.2 398.01h1.5M582.3 398.01h1.5M591.4 398.01h1.5M617.2 398.01h1.5M623.3 398.01h1.5M547.3 400.64h1.5M568.6 400.64h1.5M536.7 403.26h1.5M544.3 403.26h3.0M556.5 403.26h1.5M565.6 403.26h1.5M583.8 403.26h1.5M589.9 403.26h1.5M595.9 403.26h1.5M529.1 405.89h1.5M536.7 405.89h1.5M541.3 405.89h4.6M553.4 405.89h1.5M561.0 405.89h1.5M571.6 405.89h3.0M606.6 405.89h1.5M529.1 408.51h1.5M553.4 408.51h1.5M567.1 408.51h1.5M585.3 408.51h1.5M589.9 408.51h3.0M527.6 411.14h4.6M533.7 411.14h1.5M585.3 411.14h3.0M606.6 411.14h1.5M609.6 411.14h1.5M536.7 413.76h1.5M547.3 413.76h1.5M565.6 413.76h3.0M573.2 413.76h1.5M576.2 413.76h1.5M580.8 413.76h1.5M592.9 413.76h1.5M595.9 413.76h1.5M608.1 413.76h3.0M623.3 413.76h1.5M527.6 416.39h1.5M536.7 416.39h1.5M550.4 416.39h1.5M568.6 416.39h1.5M576.2 416.39h1.5M583.8 416.39h1.5M597.5 416.39h1.5M623.3 416.39h1.5M536.7 419.01h1.5M541.3 419.01h1.5M547.3 419.01h1.5M556.5 419.01h1.5M561.0 419.01h1.5M564.0 419.01h1.5M573.2 419.01h3.0M585.3 419.01h1.5M533.7 421.64h1.5M536.7 421.64h1.5M539.7 421.64h1.5M547.3 421.64h1.5M559.5 421.64h1.5M567.1 421.64h1.5M573.2 421.64h3.0M532.2 424.26h3.0M553.4 424.26h1.5M561.0 424.26h3.0M567.1 424.26h1.5M577.7 424.26h3.0M582.3 424.26h1.5M585.3 424.26h1.5M538.2 426.89h3.0M553.4 426.89h1.5M580.8 426.89h1.5" stroke="#e4d8e4" stroke-width="2.67"/>
<path d="M592.9 398.01h1.5M532.2 400.64h1.5M568.6 403.26h1.5M554.9 405.89h1.5M559.5 405.89h1.5M568.6 405.89h1.5M592.9 405.89h1.5M592.9 408.51h1.5M562.5 411.14h1.5M620.2 411.14h1.5M562.5 416.39h1.5M603.5 416.39h1.5M621.8 416.39h1.5M539.7 419.01h1.5M576.2 421.64h1.5M589.9 421.64h1.5M603.5 421.64h1.5M558.0 424.26h1.5M603.5 424.26h1.5M621.8 424.26h1.5M567.1 426.89h1.5" stroke="#d89cb4" stroke-width="2.67"/>
<path d="M600.5 398.01h1.5M614.2 398.01h1.5M632.4 398.01h1.5M541.3 400.64h1.5M551.9 400.64h1.5M600.5 400.64h1.5M609.6 400.64h1.5M621.8 400.64h1.5M597.5 403.26h1.5M615.7 403.26h1.5M627.8 403.26h1.5M614.2 405.89h1.5M611.1 408.51h1.5M614.2 416.39h1.5M632.4 416.39h1.5M594.4 419.01h1.5M611.1 419.01h1.5M627.8 419.01h1.5M615.7 424.26h1.5M558.0 426.89h3.0M611.1 426.89h1.5" stroke="#b4c0d8" stroke-width="2.67"/>
<path d="M611.1 398.01h1.5M627.8 398.01h1.5M542.8 400.64h3.0M558.0 400.64h3.0M573.2 400.64h1.5M582.3 400.64h1.5M589.9 400.64h1.5M599.0 400.64h1.5M606.6 400.64h3.0M612.6 400.64h1.5M623.3 400.64h4.6M629.3 400.64h1.5M574.7 403.26h1.5M577.7 403.26h1.5M588.3 403.26h1.5M603.5 403.26h1.5M609.6 403.26h3.0M614.2 403.26h1.5M620.2 403.26h1.5M632.4 403.26h1.5M583.8 405.89h1.5M600.5 405.89h3.0M611.1 405.89h1.5M617.2 405.89h1.5M627.8 405.89h1.5M597.5 408.51h1.5M605.0 408.51h1.5M632.4 408.51h1.5M600.5 411.14h1.5M611.1 411.14h1.5M617.2 411.14h1.5M627.8 411.14h1.5M632.4 411.14h1.5M602.0 413.76h1.5M626.3 416.39h1.5M629.3 416.39h1.5M565.6 419.01h1.5M609.6 419.01h1.5M614.2 419.01h6.1M629.3 419.01h1.5M580.8 421.64h1.5M606.6 421.64h1.5M624.8 421.64h1.5M592.9 424.26h1.5M606.6 424.26h1.5M611.1 424.26h1.5M629.3 424.26h1.5M583.8 426.89h1.5M586.8 426.89h1.5M592.9 426.89h1.5M597.5 426.89h3.0M614.2 426.89h3.0M624.8 426.89h1.5" stroke="#c0c0d8" stroke-width="2.67"/>
<path d="M538.2 400.64h1.5M574.7 405.89h1.5M570.1 408.51h1.5M548.9 411.14h1.5M564.0 411.14h1.5M533.7 413.76h1.5M554.9 424.26h1.5M542.8 426.89h1.5" stroke="#c06c84" stroke-width="2.67"/>
<path d="M539.7 400.64h1.5M538.2 403.26h1.5M548.9 403.26h1.5M548.9 408.51h1.5M559.5 408.51h1.5M564.0 408.51h1.5M554.9 413.76h1.5M533.7 416.39h1.5M583.8 419.01h1.5M583.8 424.26h1.5" stroke="#c06c90" stroke-width="2.67"/>
<path d="M548.9 400.64h1.5M562.5 405.89h1.5M621.8 411.14h1.5M589.9 416.39h1.5M621.8 419.01h1.5M576.2 424.26h1.5" stroke="#d8a8c0" stroke-width="2.67"/>
<path d="M561.0 400.64h1.5M574.7 400.64h1.5M588.3 400.64h1.5M602.0 400.64h1.5M605.0 400.64h1.5M615.7 400.64h3.0M620.2 400.64h1.5M630.9 400.64h3.0M586.8 403.26h1.5M626.3 403.26h1.5M577.7 405.89h1.5M588.3 405.89h1.5M615.7 405.89h1.5M614.2 411.14h1.5M611.1 416.39h1.5M630.9 416.39h1.5M624.8 419.01h3.0M627.8 424.26h1.5M612.6 426.89h1.5M620.2 426.89h3.0M627.8 426.89h3.0M632.4 426.89h1.5" stroke="#b4b4d8" stroke-width="2.67"/>
<path d="M570.1 400.64h1.5M564.0 405.89h1.5M533.7 419.01h1.5" stroke="#cc789c" stroke-width="2.67"/>
<path d="M576.2 400.64h1.5M595.9 400.64h3.0M603.5 400.64h1.5M615.7 408.51h1.5M599.0 411.14h1.5M615.7 411.14h1.5M632.4 419.01h1.5M614.2 421.64h1.5M627.8 421.64h1.5" stroke="#a8b4d8" stroke-width="2.67"/>
<path d="M580.8 400.64h1.5M586.8 400.64h1.5M605.0 403.26h1.5M612.6 403.26h1.5M621.8 403.26h1.5M609.6 408.51h1.5M612.6 408.51h1.5M624.8 408.51h1.5M580.8 411.14h1.5M603.5 411.14h1.5M612.6 411.14h1.5M597.5 413.76h1.5M600.5 413.76h1.5M586.8 416.39h1.5M615.7 416.39h1.5M579.2 419.01h3.0M630.9 419.01h1.5M594.4 421.64h1.5M623.3 421.64h1.5M559.5 424.26h1.5M599.0 424.26h1.5M612.6 424.26h1.5M623.3 424.26h3.0M626.3 426.89h1.5M630.9 426.89h1.5" stroke="#c0c0e4" stroke-width="2.67"/>
<path d="M594.4 400.64h1.5M611.1 400.64h1.5M627.8 400.64h1.5" stroke="#a8a8d8" stroke-width="2.67"/>
<path d="M614.2 400.64h1.5" stroke="#9c9ccc" stroke-width="2.67"/>
<path d="M530.6 403.26h1.5M541.3 408.51h1.5M536.7 411.14h1.5M583.8 411.14h1.5M541.3 413.76h1.5M570.1 426.89h1.5" stroke="#d8b4cc" stroke-width="2.67"/>
<path d="M532.2 403.26h1.5M532.2 405.89h1.5M539.7 405.89h1.5M532.2 408.51h1.5M538.2 408.51h3.0M550.4 408.51h1.5M538.2 411.14h3.0M550.4 411.14h1.5M570.1 411.14h1.5M539.7 413.76h1.5M544.3 413.76h1.5M551.9 413.76h1.5M570.1 413.76h1.5M544.3 416.39h3.0M558.0 416.39h1.5M570.1 416.39h1.5M529.1 419.01h1.5M544.3 419.01h1.5M551.9 419.01h1.5M558.0 419.01h1.5M571.6 419.01h1.5M542.8 421.64h3.0M551.9 421.64h1.5M558.0 421.64h1.5M571.6 421.64h1.5M544.3 424.26h3.0M568.6 424.26h1.5M571.6 424.26h3.0M544.3 426.89h4.6M571.6 426.89h3.0" stroke="#9c2448" stroke-width="2.67"/>
<path d="M539.7 403.26h1.5M565.6 408.51h1.5M556.5 411.14h1.5M538.2 413.76h1.5M529.1 421.64h1.5M545.8 421.64h1.5M529.1 424.26h1.5M568.6 426.89h1.5" stroke="#a83054" stroke-width="2.67"/>
<path d="M550.4 403.26h1.5M570.1 405.89h1.5M559.5 411.14h1.5M621.8 413.76h1.5" stroke="#c07890" stroke-width="2.67"/>
<path d="M562.5 403.26h1.5M527.6 413.76h1.5" stroke="#e4d8d8" stroke-width="2.67"/>
<path d="M564.0 403.26h1.5M554.9 408.51h1.5M532.2 411.14h1.5M568.6 411.14h1.5M562.5 413.76h3.0M589.9 419.01h1.5" stroke="#cc90a8" stroke-width="2.67"/>
<path d="M570.1 403.26h1.5M548.9 413.76h1.5M542.8 419.01h1.5M535.2 424.26h1.5M535.2 426.89h1.5" stroke="#c06084" stroke-width="2.67"/>
<path d="M592.9 403.26h1.5" stroke="#d8a8b4" stroke-width="2.67"/>
<path d="M530.6 405.89h1.5M558.0 408.51h1.5M547.3 416.39h1.5M561.0 416.39h1.5M527.6 419.01h1.5M527.6 424.26h1.5M530.6 424.26h1.5M570.1 424.26h1.5" stroke="#d8c0cc" stroke-width="2.67"/>
<path d="M548.9 405.89h1.5M568.6 408.51h1.5M568.6 413.76h1.5M564.0 416.39h1.5M556.5 421.64h1.5" stroke="#cc7890" stroke-width="2.67"/>
<path d="M556.5 405.89h1.5M551.9 416.39h1.5" stroke="#b44860" stroke-width="2.67"/>
<path d="M565.6 405.89h1.5M532.2 413.76h1.5M536.7 426.89h1.5" stroke="#b4486c" stroke-width="2.67"/>
<path d="M603.5 405.89h1.5M605.0 411.14h1.5M626.3 411.14h1.5M612.6 413.76h1.5M632.4 413.76h1.5M580.8 416.39h3.0M627.8 416.39h1.5M591.4 419.01h1.5M588.3 424.26h3.0M632.4 424.26h1.5M585.3 426.89h1.5" stroke="#ccc0e4" stroke-width="2.67"/>
<path d="M542.8 408.51h1.5M542.8 411.14h1.5M550.4 413.76h1.5M570.1 419.01h1.5" stroke="#b45478" stroke-width="2.67"/>
<path d="M562.5 408.51h1.5M620.2 413.76h1.5M539.7 416.39h1.5M603.5 419.01h1.5M603.5 426.89h1.5" stroke="#d890a8" stroke-width="2.67"/>
<path d="M574.7 408.51h1.5M565.6 411.14h1.5M558.0 413.76h1.5M529.1 416.39h1.5M568.6 419.01h1.5M542.8 424.26h1.5M551.9 426.89h1.5" stroke="#c06078" stroke-width="2.67"/>
<path d="M551.9 411.14h1.5" stroke="#a82448" stroke-width="2.67"/>
<path d="M554.9 411.14h1.5M559.5 413.76h1.5M556.5 424.26h1.5" stroke="#cc84a8" stroke-width="2.67"/>
<path d="M574.7 411.14h1.5M529.1 413.76h1.5M574.7 416.39h1.5M554.9 421.64h1.5" stroke="#b4546c" stroke-width="2.67"/>
<path d="M530.6 413.76h1.5M570.1 421.64h1.5M576.2 426.89h1.5" stroke="#d8b4c0" stroke-width="2.67"/>
<path d="M554.9 416.39h1.5M551.9 424.26h1.5" stroke="#b46078" stroke-width="2.67"/>
<path d="M621.8 421.64h1.5" stroke="#d89ca8" stroke-width="2.67"/>
<rect x="538.6" y="396.7" width="3.5" height="31.5" fill="#f2e070" opacity="0.85"/>
<rect x="625.8" y="396.7" width="3.5" height="31.5" fill="#f2e070" opacity="0.85"/>
</g>
<path d="M527.6 434.80h7.6M536.7 434.80h24.3M562.5 434.80h1.5M565.6 434.80h3.0M570.1 434.80h1.5M573.2 434.80h10.6M586.8 434.80h9.1M597.5 434.80h9.1M611.1 434.80h1.5M614.2 434.80h1.5M620.2 434.80h1.5M632.4 434.80h1.5" stroke="#e46c90" stroke-width="9.05"/>
<path d="M535.2 434.80h1.5M564.0 434.80h1.5M571.6 434.80h1.5M583.8 434.80h1.5M595.9 434.80h1.5M606.6 434.80h1.5M609.6 434.80h1.5M612.6 434.80h1.5M615.7 434.80h4.6M621.8 434.80h1.5M624.8 434.80h7.6" stroke="#cce4f0" stroke-width="9.05"/>
<path d="M561.0 434.80h1.5M568.6 434.80h1.5M585.3 434.80h1.5M608.1 434.80h1.5M623.3 434.80h1.5" stroke="#f0b4cc" stroke-width="9.05"/>
<path d="M527.6 443.80h3.0M535.2 443.80h4.6M548.9 443.80h1.5M554.9 443.80h1.5M561.0 443.80h1.5M570.1 443.80h1.5M573.2 443.80h1.5M577.7 443.80h6.1M585.3 443.80h1.5M603.5 443.80h7.6M614.2 443.80h1.5M620.2 443.80h1.5M624.8 443.80h1.5" stroke="#f0e4cc" stroke-width="9.05"/>
<path d="M530.6 443.80h4.6M542.8 443.80h4.6M550.4 443.80h3.0M556.5 443.80h1.5M559.5 443.80h1.5M562.5 443.80h1.5M565.6 443.80h1.5M574.7 443.80h3.0M583.8 443.80h1.5M586.8 443.80h9.1M597.5 443.80h3.0M602.0 443.80h1.5M611.1 443.80h3.0M615.7 443.80h1.5M621.8 443.80h3.0M626.3 443.80h6.1" stroke="#c0e4d8" stroke-width="9.05"/>
<path d="M539.7 443.80h3.0M547.3 443.80h1.5M553.4 443.80h1.5M558.0 443.80h1.5M564.0 443.80h1.5M567.1 443.80h3.0M571.6 443.80h1.5M595.9 443.80h1.5M600.5 443.80h1.5M617.2 443.80h3.0M632.4 443.80h1.5" stroke="#f0c0b4" stroke-width="9.05"/>
<path d="M527.6 452.80h1.5M533.7 452.80h6.1M541.3 452.80h3.0M547.3 452.80h1.5M553.4 452.80h3.0M559.5 452.80h1.5M567.1 452.80h1.5M571.6 452.80h4.6M577.7 452.80h1.5M580.8 452.80h1.5M585.3 452.80h1.5M591.4 452.80h1.5M594.4 452.80h1.5M602.0 452.80h3.0M611.1 452.80h1.5M615.7 452.80h1.5M618.7 452.80h1.5M621.8 452.80h3.0M627.8 452.80h1.5" stroke="#d8f0f0" stroke-width="9.05"/>
<path d="M529.1 452.80h1.5M532.2 452.80h1.5M539.7 452.80h1.5M556.5 452.80h1.5M561.0 452.80h4.6M568.6 452.80h3.0M579.2 452.80h1.5M582.3 452.80h1.5M588.3 452.80h3.0M595.9 452.80h1.5M605.0 452.80h1.5M609.6 452.80h1.5M629.3 452.80h4.6" stroke="#cce4f0" stroke-width="9.05"/>
<path d="M530.6 452.80h1.5M544.3 452.80h3.0M548.9 452.80h1.5M551.9 452.80h1.5M558.0 452.80h1.5M565.6 452.80h1.5M592.9 452.80h1.5M597.5 452.80h4.6M612.6 452.80h3.0M620.2 452.80h1.5M624.8 452.80h3.0" stroke="#e4f0fc" stroke-width="9.05"/>
<path d="M550.4 452.80h1.5M576.2 452.80h1.5M606.6 452.80h1.5" stroke="#e4f0f0" stroke-width="9.05"/>
<path d="M583.8 452.80h1.5" stroke="#f0f0fc" stroke-width="9.05"/>
<path d="M586.8 452.80h1.5M608.1 452.80h1.5M617.2 452.80h1.5" stroke="#c0e4f0" stroke-width="9.05"/>
<path d="M527.6 461.80h1.5M533.7 461.80h1.5M558.0 461.80h1.5M561.0 461.80h1.5M568.6 461.80h1.5M597.5 461.80h1.5M600.5 461.80h1.5M617.2 461.80h1.5M626.3 461.80h1.5" stroke="#9c903c" stroke-width="9.05"/>
<path d="M529.1 461.80h1.5M577.7 461.80h1.5" stroke="#9c9030" stroke-width="9.05"/>
<path d="M530.6 461.80h1.5M536.7 461.80h1.5M541.3 461.80h3.0M567.1 461.80h1.5M573.2 461.80h1.5M602.0 461.80h3.0M608.1 461.80h1.5M614.2 461.80h1.5M620.2 461.80h1.5M629.3 461.80h1.5" stroke="#908430" stroke-width="9.05"/>
<path d="M532.2 461.80h1.5M565.6 461.80h1.5M579.2 461.80h1.5M589.9 461.80h1.5M605.0 461.80h1.5M621.8 461.80h1.5" stroke="#a8903c" stroke-width="9.05"/>
<path d="M535.2 461.80h1.5M545.8 461.80h6.1M553.4 461.80h1.5M574.7 461.80h3.0M580.8 461.80h1.5M592.9 461.80h1.5M612.6 461.80h1.5" stroke="#a89c3c" stroke-width="9.05"/>
<path d="M538.2 461.80h1.5M551.9 461.80h1.5M556.5 461.80h1.5M583.8 461.80h1.5M586.8 461.80h3.0M591.4 461.80h1.5M599.0 461.80h1.5M609.6 461.80h1.5M630.9 461.80h3.0" stroke="#b4a848" stroke-width="9.05"/>
<path d="M539.7 461.80h1.5M544.3 461.80h1.5M582.3 461.80h1.5M606.6 461.80h1.5" stroke="#9c8430" stroke-width="9.05"/>
<path d="M554.9 461.80h1.5M624.8 461.80h1.5" stroke="#a89c48" stroke-width="9.05"/>
<path d="M559.5 461.80h1.5M623.3 461.80h1.5" stroke="#b49c48" stroke-width="9.05"/>
<path d="M562.5 461.80h3.0M571.6 461.80h1.5M595.9 461.80h1.5M615.7 461.80h1.5M618.7 461.80h1.5" stroke="#847824" stroke-width="9.05"/>
<path d="M570.1 461.80h1.5" stroke="#786c24" stroke-width="9.05"/>
<path d="M585.3 461.80h1.5M594.4 461.80h1.5" stroke="#c0b454" stroke-width="9.05"/>
<path d="M611.1 461.80h1.5" stroke="#c0a848" stroke-width="9.05"/>
<path d="M627.8 461.80h1.5" stroke="#907830" stroke-width="9.05"/>
<path d="M527.6 470.80h3.0M532.2 470.80h1.5M535.2 470.80h3.0M548.9 470.80h3.0M554.9 470.80h1.5M571.6 470.80h3.0M577.7 470.80h4.6M583.8 470.80h1.5M595.9 470.80h1.5M599.0 470.80h1.5M602.0 470.80h1.5M606.6 470.80h1.5M609.6 470.80h1.5M617.2 470.80h4.6M626.3 470.80h3.0M630.9 470.80h1.5" stroke="#e4b4cc" stroke-width="9.05"/>
<path d="M530.6 470.80h1.5M542.8 470.80h1.5M559.5 470.80h1.5M568.6 470.80h1.5M615.7 470.80h1.5" stroke="#f0ccd8" stroke-width="9.05"/>
<path d="M533.7 470.80h1.5M538.2 470.80h1.5M551.9 470.80h3.0M605.0 470.80h1.5M629.3 470.80h1.5" stroke="#e4a8cc" stroke-width="9.05"/>
<path d="M539.7 470.80h1.5M547.3 470.80h1.5M556.5 470.80h1.5M562.5 470.80h1.5M567.1 470.80h1.5M582.3 470.80h1.5M592.9 470.80h1.5M608.1 470.80h1.5M612.6 470.80h1.5M623.3 470.80h1.5" stroke="#e4c0d8" stroke-width="9.05"/>
<path d="M541.3 470.80h1.5M558.0 470.80h1.5M564.0 470.80h1.5M570.1 470.80h1.5M574.7 470.80h3.0M588.3 470.80h3.0M594.4 470.80h1.5M603.5 470.80h1.5M611.1 470.80h1.5M621.8 470.80h1.5M624.8 470.80h1.5M632.4 470.80h1.5" stroke="#f0c0d8" stroke-width="9.05"/>
<path d="M544.3 470.80h1.5" stroke="#e49cc0" stroke-width="9.05"/>
<path d="M545.8 470.80h1.5M586.8 470.80h1.5" stroke="#d89cc0" stroke-width="9.05"/>
<path d="M561.0 470.80h1.5M597.5 470.80h1.5" stroke="#f0d8e4" stroke-width="9.05"/>
<path d="M565.6 470.80h1.5M585.3 470.80h1.5M600.5 470.80h1.5" stroke="#e4b4d8" stroke-width="9.05"/>
<path d="M591.4 470.80h1.5" stroke="#e4a8c0" stroke-width="9.05"/>
<path d="M614.2 470.80h1.5" stroke="#f0cce4" stroke-width="9.05"/>
<rect x="527.6" y="430.3" width="106.3" height="45.0" fill="none" stroke="#111" stroke-width="1.2"/>
<path d="M527.6 439.3h106.3M527.6 448.3h106.3M527.6 457.3h106.3M527.6 466.3h106.3" stroke="#111" stroke-width="1"/>
<text x="525.9" y="434.3" font-size="8" text-anchor="end" fill="#222" stroke="#222" stroke-width="0.32" dominant-baseline="central">disease</text>
<text x="525.9" y="443.3" font-size="8" text-anchor="end" fill="#222" stroke="#222" stroke-width="0.32" dominant-baseline="central">study</text>
<text x="525.9" y="452.3" font-size="8" text-anchor="end" fill="#222" stroke="#222" stroke-width="0.32" dominant-baseline="central">type1</text>
<text x="525.9" y="461.3" font-size="8" text-anchor="end" fill="#222" stroke="#222" stroke-width="0.32" dominant-baseline="central">type2</text>
<text x="525.9" y="470.3" font-size="8" text-anchor="end" fill="#222" stroke="#222" stroke-width="0.32" dominant-baseline="central">type3</text>
<text x="612.7" y="482.4" font-size="7" text-anchor="middle" fill="#222" stroke="#222" stroke-width="0.32" dominant-baseline="central">z-score</text>
<defs><linearGradient id="gz599" x1="0" x2="1"><stop offset="0" stop-color="#2a4aa0"/><stop offset="0.2" stop-color="#3a5aa8"/><stop offset="0.4" stop-color="#b8d4ea"/><stop offset="0.5" stop-color="#f4f4f4"/><stop offset="0.62" stop-color="#e8b8c4"/><stop offset="0.8" stop-color="#b02850"/><stop offset="1" stop-color="#901838"/></linearGradient></defs>
<rect x="599.2" y="486.8" width="26.899999999999977" height="8.199999999999989" fill="url(#gz599)"/>
<path d="M599.2 495h26.899999999999977" stroke="#222" stroke-width="0.6"/>
<text x="601.4" y="502.0" font-size="8" text-anchor="middle" fill="#222" stroke="#222" stroke-width="0.32" dominant-baseline="central">-2</text>
<text x="613.2" y="502.0" font-size="8" text-anchor="middle" fill="#222" stroke="#222" stroke-width="0.32" dominant-baseline="central">0</text>
<text x="623.9" y="502.0" font-size="8" text-anchor="middle" fill="#222" stroke="#222" stroke-width="0.32" dominant-baseline="central">2</text>
<text x="731.0" y="359.0" font-size="9" text-anchor="middle" fill="#222" stroke="#222" stroke-width="0.35" dominant-baseline="central">Type 3 Dominant</text>
<text x="683.3" y="391.0" font-size="8" text-anchor="end" fill="#222" stroke="#222" stroke-width="0.32" dominant-baseline="central">ranksum</text>
<rect x="686.4" y="385.1" width="107.0" height="11.099999999999966" fill="#e8e8e8" stroke="#222" stroke-width="0.8"/>
<path d="M686.4 396.2 L686.4 385.4 L690.0 385.6 L693.5 385.9 L697.1 386.1 L700.7 386.4 L704.2 386.6 L707.8 386.8 L711.4 387.1 L714.9 387.3 L718.5 387.6 L722.1 387.8 L725.6 388.0 L729.2 388.3 L732.8 388.5 L736.3 388.8 L739.9 389.0 L743.5 389.2 L747.0 389.5 L750.6 389.7 L754.2 390.0 L757.7 390.2 L761.3 390.4 L764.9 390.7 L768.4 390.9 L772.0 391.2 L775.6 391.4 L779.1 391.6 L782.7 391.9 L786.3 392.1 L789.8 392.4 L793.4 392.6 L793.4 396.2Z" fill="#0a0a0a"/>
<g filter="url(#hb4)">
<path d="M686.4 397.45h1.5M715.0 397.45h1.5M722.6 397.45h1.5M686.4 399.95h1.5M718.0 399.95h1.5M724.1 399.95h1.5M731.6 399.95h1.5M701.5 402.45h1.5M692.4 407.45h1.5M703.0 409.95h3.0M721.1 409.95h1.5M727.1 409.95h1.5M730.1 409.95h1.5M687.9 412.45h1.5M696.9 414.95h1.5M701.5 414.95h1.5M748.2 414.95h1.5M686.4 417.45h1.5M686.4 419.95h1.5M716.5 419.95h1.5M730.1 419.95h1.5M701.5 422.45h1.5M715.0 422.45h1.5M719.6 422.45h1.5M687.9 424.95h1.5M701.5 427.45h3.0M748.2 427.45h3.0M696.9 429.95h1.5M718.0 429.95h1.5M722.6 429.95h1.5M727.1 429.95h1.5M734.6 429.95h1.5M742.2 429.95h1.5M736.1 432.45h1.5M742.2 432.45h1.5M687.9 434.95h1.5M704.5 434.95h1.5M707.5 434.95h1.5M716.5 434.95h1.5M725.6 434.95h3.0M730.1 434.95h1.5M742.2 434.95h3.0M746.7 434.95h1.5M696.9 437.45h1.5M718.0 437.45h1.5M731.6 437.45h1.5M739.1 437.45h1.5M725.6 439.95h3.0M731.6 439.95h1.5M737.6 439.95h1.5M709.0 442.45h1.5M712.0 442.45h1.5M704.5 444.95h1.5M745.2 444.95h1.5M687.9 447.45h1.5M715.0 447.45h3.0M719.6 447.45h1.5M727.1 447.45h1.5M736.1 447.45h1.5M745.2 447.45h1.5M704.5 449.95h1.5M719.6 449.95h1.5M727.1 449.95h1.5M736.1 449.95h1.5M745.2 449.95h1.5M690.9 452.45h1.5M730.1 452.45h1.5M748.2 452.45h1.5M696.9 454.95h1.5M724.1 454.95h1.5M746.7 454.95h1.5M687.9 457.45h1.5M725.6 457.45h1.5M740.7 459.95h1.5M778.3 459.95h1.5" stroke="#d8a8c0" stroke-width="2.55"/>
<path d="M687.9 397.45h1.5M701.5 397.45h1.5M742.2 397.45h1.5M746.7 397.45h1.5M721.1 399.95h1.5M733.1 399.95h1.5M742.2 399.95h1.5M746.7 399.95h1.5M686.4 402.45h1.5M719.6 402.45h1.5M749.7 402.45h1.5M696.9 404.95h1.5M733.1 404.95h3.0M737.6 404.95h1.5M748.2 404.95h3.0M696.9 407.45h1.5M712.0 407.45h1.5M715.0 407.45h3.0M724.1 407.45h1.5M734.6 407.45h1.5M728.6 409.95h1.5M734.6 409.95h1.5M739.1 409.95h1.5M743.7 409.95h1.5M746.7 409.95h1.5M728.6 412.45h1.5M742.2 412.45h1.5M703.0 414.95h1.5M724.1 414.95h1.5M743.7 414.95h1.5M687.9 417.45h1.5M746.7 417.45h1.5M696.9 419.95h1.5M719.6 419.95h1.5M734.6 419.95h1.5M721.1 422.45h1.5M727.1 422.45h1.5M733.1 422.45h1.5M739.1 422.45h1.5M701.5 424.95h1.5M715.0 424.95h1.5M718.0 424.95h1.5M730.1 424.95h3.0M742.2 424.95h1.5M748.2 424.95h1.5M704.5 427.45h1.5M716.5 427.45h4.5M722.6 427.45h1.5M727.1 427.45h1.5M736.1 427.45h1.5M746.7 427.45h1.5M713.5 429.95h3.0M719.6 429.95h1.5M749.7 429.95h1.5M690.9 432.45h1.5M733.1 432.45h3.0M722.6 434.95h1.5M745.2 434.95h1.5M749.7 434.95h1.5M716.5 437.45h1.5M719.6 437.45h1.5M728.6 437.45h1.5M764.8 437.45h1.5M704.5 439.95h1.5M713.5 439.95h1.5M721.1 439.95h3.0M728.6 439.95h1.5M745.2 439.95h1.5M718.0 442.45h1.5M733.1 442.45h1.5M742.2 442.45h1.5M749.7 442.45h1.5M719.6 444.95h1.5M725.6 444.95h1.5M748.2 444.95h3.0M701.5 447.45h1.5M722.6 447.45h1.5M725.6 447.45h1.5M731.6 447.45h3.0M718.0 449.95h1.5M749.7 449.95h1.5M686.4 452.45h1.5M701.5 452.45h1.5M715.0 452.45h1.5M725.6 452.45h1.5M722.6 454.95h1.5M739.1 454.95h1.5M749.7 454.95h1.5M743.7 457.45h1.5M746.7 457.45h1.5M727.1 459.95h3.0M734.6 459.95h1.5M746.7 459.95h1.5" stroke="#d8c0cc" stroke-width="2.55"/>
<path d="M689.4 397.45h1.5M706.0 397.45h1.5M710.5 397.45h1.5M709.0 399.95h1.5M739.1 404.95h1.5M695.4 407.45h1.5M700.0 407.45h1.5M690.9 414.95h1.5M710.5 414.95h1.5M713.5 414.95h1.5M710.5 422.45h1.5M709.0 424.95h3.0M692.4 427.45h1.5M706.0 427.45h1.5M743.7 427.45h1.5M731.6 432.45h1.5M713.5 434.95h1.5M698.5 437.45h1.5M690.9 439.95h1.5M724.1 439.95h1.5M692.4 452.45h1.5M700.0 452.45h1.5M692.4 457.45h3.0M712.0 457.45h1.5M731.6 457.45h1.5M748.2 459.95h1.5" stroke="#a83c60" stroke-width="2.55"/>
<path d="M690.9 397.45h1.5M707.5 402.45h3.0M693.9 407.45h1.5M706.0 409.95h1.5M709.0 409.95h1.5M700.0 414.95h1.5M713.5 417.45h1.5M692.4 419.95h1.5M689.4 422.45h1.5M693.9 422.45h1.5M707.5 422.45h1.5M707.5 424.95h1.5M689.4 432.45h1.5M709.0 432.45h1.5M689.4 437.45h1.5M693.9 437.45h1.5M698.5 439.95h1.5M710.5 449.95h1.5M698.5 457.45h1.5M709.0 459.95h1.5M713.5 459.95h1.5" stroke="#b45478" stroke-width="2.55"/>
<path d="M692.4 397.45h3.0M690.9 424.95h1.5M703.0 437.45h1.5M693.9 444.95h1.5" stroke="#b46078" stroke-width="2.55"/>
<path d="M695.4 397.45h1.5M690.9 399.95h1.5M706.0 399.95h1.5M700.0 402.45h1.5M710.5 402.45h1.5M689.4 409.95h1.5M689.4 414.95h1.5M698.5 417.45h1.5M692.4 429.95h1.5M706.0 434.95h1.5M710.5 434.95h1.5M706.0 442.45h1.5M698.5 447.45h1.5M689.4 452.45h1.5M690.9 454.95h1.5M689.4 457.45h1.5" stroke="#c06078" stroke-width="2.55"/>
<path d="M696.9 397.45h1.5M713.5 399.95h1.5M740.7 399.95h1.5M689.4 402.45h1.5M700.0 404.95h1.5M709.0 404.95h3.0M698.5 407.45h1.5M713.5 407.45h1.5M742.2 407.45h1.5M701.5 409.95h1.5M710.5 409.95h1.5M704.5 412.45h1.5M698.5 414.95h1.5M701.5 417.45h1.5M703.0 422.45h1.5M713.5 422.45h1.5M695.4 424.95h1.5M712.0 424.95h3.0M695.4 427.45h1.5M700.0 427.45h1.5M707.5 427.45h1.5M724.1 429.95h1.5M706.0 432.45h3.0M709.0 437.45h1.5M712.0 437.45h1.5M695.4 439.95h1.5M695.4 442.45h1.5M695.4 444.95h1.5M703.0 447.45h1.5M718.0 447.45h1.5M689.4 449.95h1.5M696.9 449.95h1.5M712.0 449.95h1.5M707.5 452.45h1.5M718.0 452.45h1.5M703.0 454.95h1.5M725.6 454.95h1.5M713.5 457.45h1.5M689.4 459.95h1.5" stroke="#cc849c" stroke-width="2.55"/>
<path d="M698.5 397.45h1.5M709.0 397.45h1.5M706.0 402.45h1.5M706.0 407.45h1.5M713.5 409.95h1.5M718.0 414.95h1.5M700.0 417.45h1.5M707.5 417.45h1.5M710.5 417.45h3.0M693.9 424.95h1.5M693.9 429.95h1.5M710.5 439.95h1.5M698.5 449.95h1.5M713.5 449.95h1.5M712.0 452.45h1.5M746.7 452.45h1.5M692.4 454.95h1.5M695.4 459.95h1.5" stroke="#c06c84" stroke-width="2.55"/>
<path d="M700.0 397.45h1.5M746.7 402.45h1.5M700.0 409.95h1.5M689.4 412.45h1.5M692.4 412.45h1.5M707.5 414.95h3.0M690.9 417.45h1.5M706.0 417.45h1.5M710.5 419.95h1.5M709.0 422.45h1.5M698.5 429.95h3.0M693.9 434.95h1.5M731.6 434.95h1.5M692.4 439.95h1.5M700.0 439.95h1.5M719.6 442.45h1.5M709.0 452.45h1.5M707.5 454.95h1.5M731.6 454.95h3.0" stroke="#a83054" stroke-width="2.55"/>
<path d="M703.0 397.45h1.5M716.5 397.45h1.5M719.6 397.45h1.5M727.1 397.45h1.5M730.1 397.45h1.5M748.2 399.95h1.5M715.0 402.45h3.0M742.2 402.45h1.5M704.5 407.45h1.5M719.6 407.45h1.5M736.1 407.45h1.5M686.4 409.95h1.5M742.2 409.95h1.5M728.6 414.95h1.5M731.6 414.95h1.5M736.1 417.45h1.5M739.1 417.45h1.5M745.2 417.45h1.5M701.5 419.95h1.5M704.5 419.95h1.5M737.6 419.95h1.5M748.2 419.95h1.5M696.9 422.45h1.5M716.5 422.45h1.5M743.7 422.45h1.5M767.8 422.45h1.5M704.5 424.95h1.5M686.4 427.45h1.5M721.1 427.45h1.5M725.6 427.45h1.5M745.2 427.45h1.5M740.7 429.95h1.5M745.2 429.95h1.5M748.2 429.95h1.5M687.9 432.45h1.5M693.9 432.45h1.5M716.5 432.45h1.5M719.6 432.45h1.5M687.9 437.45h1.5M745.2 437.45h1.5M703.0 442.45h1.5M687.9 444.95h1.5M724.1 444.95h1.5M686.4 447.45h1.5M690.9 447.45h3.0M728.6 447.45h1.5M734.6 447.45h1.5M740.7 447.45h1.5M746.7 447.45h1.5M734.6 449.95h1.5M721.1 452.45h1.5M731.6 452.45h3.0M745.2 452.45h1.5M706.0 457.45h1.5M736.1 457.45h1.5M740.7 457.45h1.5" stroke="#d8b4cc" stroke-width="2.55"/>
<path d="M704.5 397.45h1.5M752.7 397.45h1.5M784.4 397.45h1.5M687.9 399.95h1.5M696.9 399.95h3.0M722.6 399.95h1.5M728.6 399.95h1.5M734.6 399.95h1.5M745.2 399.95h1.5M752.7 399.95h1.5M760.2 399.95h1.5M721.1 402.45h1.5M725.6 402.45h1.5M728.6 402.45h1.5M731.6 402.45h1.5M736.1 402.45h3.0M743.7 402.45h1.5M769.3 402.45h1.5M716.5 404.95h1.5M721.1 404.95h1.5M725.6 404.95h1.5M736.1 404.95h1.5M746.7 404.95h1.5M690.9 407.45h1.5M707.5 407.45h1.5M722.6 407.45h1.5M725.6 407.45h3.0M730.1 407.45h1.5M695.4 409.95h1.5M733.1 409.95h1.5M745.2 409.95h1.5M748.2 409.95h1.5M764.8 409.95h1.5M769.3 409.95h1.5M730.1 412.45h1.5M737.6 412.45h1.5M752.7 412.45h1.5M719.6 414.95h1.5M722.6 414.95h1.5M730.1 414.95h1.5M734.6 414.95h1.5M781.3 414.95h1.5M785.9 414.95h1.5M728.6 417.45h1.5M749.7 417.45h1.5M728.6 419.95h1.5M733.1 419.95h1.5M746.7 419.95h1.5M704.5 422.45h1.5M746.7 422.45h1.5M758.7 422.45h1.5M764.8 422.45h1.5M725.6 424.95h1.5M728.6 424.95h1.5M746.7 424.95h1.5M728.6 427.45h1.5M731.6 427.45h1.5M739.1 427.45h1.5M757.2 427.45h1.5M761.8 429.95h1.5M773.8 429.95h1.5M721.1 432.45h1.5M739.1 432.45h1.5M749.7 432.45h1.5M752.7 432.45h1.5M767.8 432.45h1.5M737.6 434.95h3.0M748.2 434.95h1.5M769.3 434.95h1.5M715.0 437.45h1.5M722.6 437.45h1.5M733.1 437.45h3.0M746.7 437.45h1.5M788.9 437.45h1.5M712.0 439.95h1.5M719.6 439.95h1.5M740.7 439.95h1.5M749.7 439.95h1.5M752.7 439.95h1.5M761.8 439.95h1.5M686.4 442.45h1.5M701.5 442.45h1.5M704.5 442.45h1.5M724.1 442.45h1.5M727.1 442.45h1.5M734.6 442.45h3.0M746.7 442.45h3.0M716.5 444.95h1.5M722.6 444.95h1.5M740.7 444.95h1.5M769.3 444.95h1.5M696.9 447.45h1.5M739.1 447.45h1.5M748.2 447.45h3.0M752.7 447.45h3.0M701.5 449.95h1.5M716.5 449.95h1.5M740.7 449.95h1.5M779.8 449.95h1.5M728.6 452.45h1.5M740.7 452.45h1.5M749.7 452.45h1.5M745.2 454.95h1.5M779.8 454.95h3.0M701.5 457.45h1.5M745.2 457.45h1.5M769.3 457.45h1.5M778.3 457.45h1.5M687.9 459.95h1.5M722.6 459.95h1.5M749.7 459.95h1.5M788.9 459.95h1.5" stroke="#e4d8e4" stroke-width="2.55"/>
<path d="M707.5 397.45h1.5M698.5 402.45h1.5M692.4 404.95h1.5M698.5 434.95h1.5M709.0 434.95h1.5M707.5 439.95h1.5M692.4 444.95h1.5M742.2 457.45h1.5M686.4 459.95h1.5" stroke="#cc789c" stroke-width="2.55"/>
<path d="M712.0 397.45h3.0M712.0 409.95h1.5M698.5 412.45h1.5M710.5 412.45h1.5M706.0 414.95h1.5M721.1 417.45h1.5M690.9 422.45h3.0M690.9 427.45h1.5M730.1 429.95h1.5M713.5 432.45h1.5M689.4 434.95h1.5M695.4 437.45h1.5M703.0 439.95h1.5M692.4 442.45h1.5M710.5 442.45h1.5M713.5 442.45h1.5M690.9 444.95h1.5M700.0 444.95h1.5M693.9 447.45h1.5M693.9 454.95h1.5M706.0 454.95h1.5M709.0 454.95h1.5M690.9 459.95h1.5M698.5 459.95h1.5M706.0 459.95h1.5" stroke="#cc7890" stroke-width="2.55"/>
<path d="M718.0 397.45h1.5M721.1 397.45h1.5M731.6 397.45h1.5M693.9 399.95h1.5M712.0 399.95h1.5M745.2 402.45h1.5M689.4 404.95h1.5M740.7 407.45h1.5M687.9 409.95h1.5M690.9 409.95h3.0M719.6 409.95h1.5M736.1 409.95h1.5M740.7 409.95h1.5M718.0 412.45h1.5M721.1 412.45h1.5M724.1 412.45h1.5M715.0 414.95h1.5M725.6 417.45h3.0M695.4 419.95h1.5M698.5 419.95h1.5M707.5 419.95h1.5M736.1 419.95h1.5M740.7 419.95h1.5M724.1 422.45h1.5M730.1 422.45h1.5M736.1 422.45h1.5M696.9 424.95h1.5M740.7 424.95h1.5M743.7 424.95h1.5M696.9 427.45h1.5M740.7 427.45h3.0M686.4 429.95h1.5M704.5 429.95h1.5M709.0 429.95h1.5M731.6 429.95h1.5M736.1 429.95h1.5M698.5 432.45h1.5M730.1 432.45h1.5M703.0 434.95h1.5M718.0 434.95h3.0M713.5 437.45h1.5M686.4 439.95h1.5M696.9 439.95h1.5M701.5 439.95h1.5M689.4 442.45h1.5M693.9 442.45h1.5M701.5 444.95h1.5M721.1 447.45h1.5M730.1 447.45h1.5M692.4 449.95h1.5M721.1 449.95h1.5M743.7 449.95h1.5M748.2 449.95h1.5M698.5 452.45h1.5M727.1 454.95h1.5M736.1 454.95h1.5M740.7 454.95h3.0M686.4 457.45h1.5M696.9 457.45h1.5M718.0 457.45h1.5M722.6 457.45h3.0M693.9 459.95h1.5M704.5 459.95h1.5M707.5 459.95h1.5M719.6 459.95h1.5M736.1 459.95h1.5" stroke="#d89cb4" stroke-width="2.55"/>
<path d="M724.1 397.45h1.5M743.7 397.45h1.5M712.0 404.95h1.5M703.0 407.45h1.5M718.0 407.45h1.5M721.1 407.45h1.5M748.2 407.45h1.5M686.4 412.45h1.5M701.5 412.45h3.0M715.0 412.45h1.5M719.6 412.45h1.5M740.7 412.45h1.5M745.2 412.45h1.5M749.7 412.45h1.5M686.4 414.95h1.5M695.4 414.95h1.5M721.1 414.95h1.5M740.7 414.95h1.5M703.0 417.45h1.5M716.5 417.45h3.0M722.6 417.45h1.5M742.2 417.45h3.0M722.6 422.45h1.5M731.6 422.45h1.5M737.6 422.45h1.5M745.2 422.45h1.5M749.7 422.45h1.5M721.1 424.95h1.5M715.0 427.45h1.5M687.9 429.95h1.5M701.5 429.95h1.5M725.6 429.95h1.5M733.1 429.95h1.5M767.8 429.95h1.5M701.5 432.45h1.5M704.5 432.45h1.5M722.6 432.45h1.5M740.7 432.45h1.5M748.2 432.45h1.5M696.9 434.95h1.5M686.4 437.45h1.5M725.6 437.45h1.5M748.2 437.45h1.5M687.9 439.95h1.5M743.7 439.95h1.5M696.9 442.45h1.5M707.5 442.45h1.5M721.1 442.45h1.5M703.0 444.95h1.5M727.1 444.95h1.5M737.6 444.95h1.5M743.7 447.45h1.5M730.1 449.95h1.5M687.9 452.45h1.5M704.5 452.45h1.5M686.4 454.95h1.5M734.6 454.95h1.5M743.7 454.95h1.5M716.5 457.45h1.5M728.6 457.45h1.5M696.9 459.95h1.5M716.5 459.95h1.5" stroke="#d8b4c0" stroke-width="2.55"/>
<path d="M725.6 397.45h1.5M693.9 402.45h1.5M718.0 409.95h1.5M719.6 417.45h1.5M740.7 417.45h1.5M703.0 419.95h1.5M687.9 422.45h1.5M740.7 422.45h1.5M703.0 424.95h1.5M687.9 427.45h1.5M698.5 427.45h1.5M690.9 429.95h1.5M703.0 429.95h1.5M710.5 429.95h1.5M703.0 432.45h1.5M710.5 432.45h1.5M690.9 434.95h1.5M704.5 437.45h1.5M707.5 437.45h1.5M690.9 442.45h1.5M698.5 442.45h3.0M713.5 444.95h1.5M698.5 454.95h1.5M719.6 457.45h1.5" stroke="#cc90a8" stroke-width="2.55"/>
<path d="M728.6 397.45h1.5M733.1 397.45h3.0M739.1 397.45h3.0M745.2 397.45h1.5M749.7 397.45h1.5M700.0 399.95h1.5M727.1 399.95h1.5M730.1 399.95h1.5M737.6 399.95h1.5M749.7 399.95h1.5M696.9 402.45h1.5M703.0 402.45h3.0M718.0 402.45h1.5M724.1 402.45h1.5M730.1 402.45h1.5M739.1 402.45h1.5M703.0 404.95h1.5M718.0 404.95h3.0M724.1 404.95h1.5M727.1 404.95h1.5M701.5 407.45h1.5M737.6 407.45h1.5M745.2 407.45h1.5M749.7 407.45h1.5M693.9 409.95h1.5M716.5 409.95h1.5M722.6 409.95h1.5M749.7 409.95h1.5M775.3 409.95h1.5M731.6 412.45h1.5M739.1 412.45h1.5M743.7 412.45h1.5M748.2 412.45h1.5M751.2 412.45h1.5M687.9 414.95h1.5M704.5 414.95h1.5M727.1 414.95h1.5M745.2 414.95h3.0M749.7 414.95h1.5M704.5 417.45h1.5M730.1 417.45h3.0M734.6 417.45h1.5M748.2 417.45h1.5M752.7 417.45h1.5M718.0 419.95h1.5M721.1 419.95h4.5M727.1 419.95h1.5M739.1 419.95h1.5M742.2 419.95h3.0M728.6 422.45h1.5M748.2 422.45h1.5M754.2 422.45h1.5M769.3 422.45h1.5M686.4 424.95h1.5M719.6 424.95h1.5M724.1 424.95h1.5M734.6 424.95h6.0M745.2 424.95h1.5M724.1 427.45h1.5M730.1 427.45h1.5M733.1 427.45h3.0M769.3 427.45h1.5M712.0 429.95h1.5M716.5 429.95h1.5M737.6 429.95h3.0M746.7 429.95h1.5M754.2 429.95h1.5M769.3 429.95h1.5M692.4 432.45h1.5M695.4 432.45h1.5M715.0 432.45h1.5M725.6 432.45h1.5M737.6 432.45h1.5M743.7 432.45h3.0M764.8 432.45h1.5M715.0 434.95h1.5M721.1 434.95h1.5M733.1 434.95h1.5M736.1 434.95h1.5M740.7 434.95h1.5M751.2 434.95h1.5M721.1 437.45h1.5M727.1 437.45h1.5M730.1 437.45h1.5M736.1 437.45h3.0M740.7 437.45h4.5M730.1 439.95h1.5M736.1 439.95h1.5M742.2 439.95h1.5M746.7 439.95h1.5M766.3 439.95h1.5M737.6 442.45h1.5M740.7 442.45h1.5M743.7 442.45h1.5M715.0 444.95h1.5M718.0 444.95h1.5M730.1 444.95h1.5M742.2 444.95h1.5M712.0 447.45h1.5M761.8 447.45h1.5M766.3 447.45h1.5M687.9 449.95h1.5M731.6 449.95h1.5M742.2 449.95h1.5M757.2 449.95h1.5M766.3 449.95h1.5M722.6 452.45h1.5M727.1 452.45h1.5M736.1 452.45h3.0M742.2 452.45h1.5M785.9 452.45h1.5M687.9 454.95h1.5M713.5 454.95h1.5M721.1 454.95h1.5M737.6 454.95h1.5M703.0 457.45h1.5M715.0 457.45h1.5M734.6 457.45h1.5M779.8 457.45h1.5M715.0 459.95h1.5M730.1 459.95h1.5M733.1 459.95h1.5M742.2 459.95h1.5M745.2 459.95h1.5" stroke="#e4ccd8" stroke-width="2.55"/>
<path d="M736.1 397.45h1.5M725.6 399.95h1.5M740.7 402.45h1.5M740.7 404.95h1.5M696.9 417.45h1.5M724.1 417.45h1.5M686.4 422.45h1.5M725.6 422.45h1.5M734.6 422.45h1.5M721.1 429.95h1.5M728.6 429.95h1.5M686.4 432.45h1.5M718.0 432.45h1.5M724.1 432.45h1.5M736.1 444.95h1.5M709.0 447.45h3.0M686.4 449.95h1.5M715.0 449.95h1.5M703.0 452.45h1.5M704.5 454.95h1.5M730.1 454.95h1.5M721.1 457.45h1.5M730.1 457.45h1.5M749.7 457.45h1.5" stroke="#d8a8b4" stroke-width="2.55"/>
<path d="M737.6 397.45h1.5M692.4 399.95h1.5M690.9 412.45h1.5M693.9 412.45h3.0M706.0 412.45h3.0M716.5 414.95h1.5M693.9 417.45h1.5M709.0 419.95h1.5M712.0 419.95h3.0M743.7 429.95h1.5M724.1 434.95h1.5M700.0 437.45h1.5M724.1 437.45h1.5M743.7 444.95h1.5M706.0 447.45h3.0M719.6 452.45h1.5M700.0 454.95h1.5M748.2 454.95h1.5M748.2 457.45h1.5" stroke="#9c2448" stroke-width="2.55"/>
<path d="M748.2 397.45h1.5M751.2 397.45h1.5M755.7 397.45h1.5M775.3 397.45h1.5M704.5 399.95h1.5M715.0 399.95h3.0M739.1 399.95h1.5M751.2 399.95h1.5M687.9 402.45h1.5M701.5 404.95h1.5M722.6 404.95h1.5M755.7 404.95h1.5M757.2 409.95h3.0M763.3 409.95h1.5M722.6 412.45h1.5M725.6 412.45h1.5M755.7 412.45h1.5M763.3 412.45h1.5M767.8 412.45h1.5M781.3 412.45h1.5M739.1 414.95h1.5M752.7 414.95h1.5M764.8 414.95h3.0M773.8 414.95h1.5M752.7 419.95h1.5M751.2 422.45h1.5M755.7 422.45h3.0M778.3 424.95h1.5M751.2 427.45h1.5M764.8 429.95h1.5M696.9 432.45h1.5M754.2 432.45h3.0M784.4 432.45h1.5M764.8 434.95h1.5M767.8 434.95h1.5M785.9 434.95h1.5M761.8 437.45h1.5M767.8 437.45h1.5M760.2 439.95h1.5M763.3 439.95h1.5M745.2 442.45h1.5M764.8 442.45h1.5M766.3 444.95h1.5M764.8 447.45h1.5M724.1 449.95h3.0M737.6 449.95h1.5M785.9 449.95h1.5M724.1 452.45h1.5M757.2 452.45h1.5M767.8 452.45h1.5M754.2 454.95h1.5M754.2 457.45h1.5M767.8 457.45h1.5M770.8 457.45h4.5M731.6 459.95h1.5M743.7 459.95h1.5" stroke="#d8cce4" stroke-width="2.55"/>
<path d="M754.2 397.45h1.5M769.3 397.45h1.5M773.8 397.45h1.5M779.8 397.45h1.5M790.4 397.45h1.5M769.3 399.95h1.5M784.4 399.95h1.5M787.4 399.95h3.0M764.8 402.45h1.5M773.8 402.45h1.5M730.1 404.95h3.0M743.7 404.95h3.0M778.3 404.95h1.5M686.4 407.45h1.5M751.2 407.45h4.5M761.8 407.45h3.0M784.4 407.45h1.5M698.5 409.95h1.5M752.7 409.95h1.5M787.4 409.95h3.0M734.6 412.45h1.5M746.7 412.45h1.5M725.6 414.95h1.5M754.2 414.95h1.5M767.8 414.95h1.5M775.3 414.95h1.5M778.3 414.95h1.5M788.9 414.95h1.5M754.2 417.45h3.0M760.2 417.45h1.5M776.8 417.45h1.5M787.4 417.45h1.5M790.4 417.45h1.5M725.6 419.95h1.5M749.7 419.95h1.5M755.7 419.95h1.5M752.7 422.45h1.5M770.8 422.45h1.5M781.3 422.45h1.5M751.2 424.95h3.0M758.7 424.95h1.5M767.8 424.95h3.0M790.4 424.95h1.5M737.6 427.45h1.5M752.7 427.45h1.5M755.7 427.45h1.5M770.8 427.45h1.5M773.8 427.45h1.5M784.4 427.45h1.5M790.4 427.45h3.0M752.7 429.95h1.5M755.7 429.95h3.0M763.3 429.95h1.5M766.3 429.95h1.5M770.8 429.95h1.5M775.3 429.95h1.5M788.9 429.95h1.5M766.3 432.45h1.5M769.3 432.45h1.5M788.9 432.45h1.5M791.9 432.45h1.5M728.6 434.95h1.5M734.6 434.95h1.5M755.7 434.95h1.5M761.8 434.95h1.5M772.3 434.95h1.5M791.9 434.95h1.5M752.7 437.45h1.5M757.2 437.45h1.5M763.3 437.45h1.5M766.3 437.45h1.5M769.3 437.45h1.5M782.9 437.45h1.5M716.5 439.95h1.5M754.2 439.95h3.0M767.8 439.95h1.5M781.3 439.95h1.5M788.9 439.95h1.5M687.9 442.45h1.5M728.6 442.45h1.5M751.2 442.45h3.0M769.3 442.45h1.5M773.8 442.45h1.5M779.8 442.45h1.5M733.1 444.95h1.5M739.1 444.95h1.5M754.2 444.95h1.5M724.1 447.45h1.5M770.8 447.45h1.5M782.9 447.45h1.5M790.4 447.45h1.5M733.1 449.95h1.5M751.2 449.95h1.5M767.8 449.95h1.5M773.8 449.95h3.0M743.7 452.45h1.5M754.2 452.45h1.5M761.8 452.45h1.5M776.8 452.45h1.5M779.8 452.45h3.0M791.9 452.45h1.5M752.7 454.95h1.5M755.7 454.95h1.5M760.2 454.95h1.5M791.9 454.95h1.5M739.1 457.45h1.5M757.2 457.45h1.5M788.9 457.45h1.5M739.1 459.95h1.5M752.7 459.95h1.5M769.3 459.95h1.5M776.8 459.95h1.5M779.8 459.95h1.5M785.9 459.95h1.5" stroke="#cccce4" stroke-width="2.55"/>
<path d="M757.2 397.45h1.5M770.8 397.45h1.5M755.7 399.95h1.5M791.9 399.95h1.5M752.7 402.45h1.5M761.8 402.45h1.5M782.9 402.45h3.0M787.4 402.45h3.0M751.2 404.95h3.0M772.3 404.95h1.5M758.7 407.45h1.5M764.8 407.45h1.5M775.3 407.45h3.0M772.3 409.95h1.5M776.8 409.95h1.5M760.2 412.45h1.5M766.3 412.45h1.5M773.8 412.45h3.0M782.9 412.45h1.5M763.3 414.95h1.5M784.4 414.95h1.5M787.4 414.95h1.5M757.2 417.45h1.5M773.8 417.45h1.5M781.3 417.45h1.5M784.4 417.45h3.0M757.2 419.95h1.5M760.2 419.95h1.5M782.9 419.95h1.5M787.4 419.95h1.5M763.3 422.45h1.5M784.4 422.45h1.5M758.7 427.45h1.5M782.9 427.45h1.5M787.4 427.45h1.5M757.2 432.45h1.5M760.2 432.45h1.5M763.3 432.45h1.5M772.3 432.45h1.5M775.3 432.45h1.5M758.7 434.95h3.0M766.3 434.95h1.5M773.8 434.95h1.5M790.4 434.95h1.5M755.7 437.45h1.5M773.8 437.45h3.0M790.4 437.45h1.5M718.0 439.95h1.5M758.7 439.95h1.5M770.8 439.95h1.5M773.8 439.95h1.5M778.3 439.95h1.5M782.9 439.95h1.5M787.4 439.95h1.5M755.7 442.45h1.5M758.7 442.45h4.5M790.4 442.45h1.5M770.8 444.95h1.5M778.3 444.95h1.5M785.9 444.95h1.5M788.9 444.95h1.5M757.2 447.45h1.5M760.2 447.45h1.5M772.3 447.45h1.5M754.2 449.95h1.5M760.2 449.95h1.5M787.4 449.95h1.5M791.9 449.95h1.5M758.7 452.45h1.5M763.3 452.45h1.5M773.8 452.45h1.5M787.4 452.45h1.5M761.8 454.95h3.0M784.4 454.95h1.5M788.9 454.95h1.5M763.3 459.95h1.5M775.3 459.95h1.5" stroke="#b4b4d8" stroke-width="2.55"/>
<path d="M758.7 397.45h1.5M788.9 397.45h1.5M764.8 399.95h1.5M754.2 404.95h1.5M769.3 414.95h1.5M788.9 417.45h1.5M731.6 419.95h1.5M772.3 424.95h1.5M760.2 427.45h1.5M772.3 429.95h1.5M779.8 432.45h1.5M755.7 447.45h1.5M784.4 457.45h1.5" stroke="#ccc0e4" stroke-width="2.55"/>
<path d="M760.2 397.45h1.5M773.8 399.95h1.5M754.2 402.45h1.5M766.3 404.95h1.5M775.3 404.95h1.5M779.8 404.95h3.0M788.9 404.95h3.0M760.2 407.45h1.5M766.3 407.45h1.5M773.8 407.45h1.5M761.8 409.95h1.5M781.3 409.95h1.5M785.9 412.45h1.5M788.9 412.45h1.5M761.8 419.95h1.5M779.8 419.95h1.5M788.9 419.95h1.5M770.8 424.95h1.5M773.8 424.95h1.5M778.3 427.45h1.5M781.3 432.45h1.5M790.4 432.45h1.5M775.3 434.95h3.0M779.8 434.95h3.0M784.4 434.95h1.5M772.3 437.45h1.5M776.8 439.95h1.5M790.4 439.95h1.5M788.9 442.45h1.5M791.9 442.45h1.5M758.7 444.95h1.5M763.3 444.95h1.5M767.8 444.95h1.5M775.3 444.95h1.5M782.9 444.95h1.5M791.9 444.95h1.5M773.8 447.45h1.5M758.7 449.95h1.5M752.7 452.45h1.5M784.4 452.45h1.5M788.9 452.45h1.5M787.4 454.95h1.5M776.8 457.45h1.5" stroke="#a8b4d8" stroke-width="2.55"/>
<path d="M761.8 397.45h1.5M772.3 397.45h1.5M757.2 399.95h3.0M761.8 399.95h1.5M766.3 399.95h3.0M770.8 399.95h3.0M785.9 399.95h1.5M757.2 402.45h1.5M760.2 402.45h1.5M775.3 402.45h1.5M773.8 404.95h1.5M782.9 404.95h1.5M785.9 407.45h1.5M788.9 407.45h1.5M696.9 409.95h1.5M766.3 409.95h1.5M770.8 409.95h1.5M773.8 409.95h1.5M757.2 412.45h1.5M761.8 412.45h1.5M764.8 412.45h1.5M770.8 412.45h1.5M787.4 412.45h1.5M790.4 412.45h1.5M751.2 414.95h1.5M755.7 414.95h1.5M770.8 414.95h1.5M776.8 414.95h1.5M779.8 414.95h1.5M791.9 414.95h1.5M770.8 417.45h1.5M782.9 417.45h1.5M791.9 417.45h1.5M758.7 419.95h1.5M785.9 419.95h1.5M766.3 422.45h1.5M779.8 422.45h1.5M782.9 422.45h1.5M716.5 424.95h1.5M754.2 424.95h1.5M760.2 424.95h1.5M782.9 424.95h3.0M788.9 424.95h1.5M754.2 427.45h1.5M779.8 427.45h1.5M785.9 429.95h1.5M790.4 429.95h3.0M773.8 432.45h1.5M782.9 432.45h1.5M785.9 432.45h1.5M754.2 434.95h1.5M757.2 434.95h1.5M763.3 434.95h1.5M770.8 434.95h1.5M788.9 434.95h1.5M751.2 437.45h1.5M754.2 437.45h1.5M770.8 437.45h1.5M778.3 437.45h1.5M781.3 437.45h1.5M787.4 437.45h1.5M734.6 439.95h1.5M751.2 439.95h1.5M764.8 439.95h1.5M785.9 439.95h1.5M763.3 442.45h1.5M767.8 442.45h1.5M781.3 442.45h7.5M751.2 444.95h1.5M772.3 444.95h3.0M781.3 444.95h1.5M787.4 444.95h1.5M790.4 444.95h1.5M758.7 447.45h1.5M763.3 447.45h1.5M769.3 447.45h1.5M784.4 447.45h6.0M752.7 449.95h1.5M755.7 449.95h1.5M763.3 449.95h3.0M769.3 449.95h4.5M776.8 449.95h3.0M781.3 449.95h1.5M788.9 449.95h3.0M739.1 452.45h1.5M764.8 452.45h3.0M769.3 452.45h1.5M775.3 452.45h1.5M778.3 452.45h1.5M790.4 452.45h1.5M758.7 454.95h1.5M764.8 454.95h1.5M776.8 454.95h3.0M785.9 454.95h1.5M790.4 454.95h1.5M704.5 457.45h1.5M766.3 457.45h1.5M775.3 457.45h1.5M787.4 457.45h1.5M790.4 457.45h1.5M751.2 459.95h1.5M758.7 459.95h1.5M761.8 459.95h1.5M781.3 459.95h1.5M787.4 459.95h1.5" stroke="#c0c0d8" stroke-width="2.55"/>
<path d="M763.3 397.45h3.0M767.8 397.45h1.5M782.9 397.45h1.5M703.0 399.95h1.5M727.1 402.45h1.5M733.1 402.45h3.0M755.7 402.45h1.5M766.3 402.45h1.5M790.4 402.45h1.5M686.4 404.95h1.5M704.5 404.95h1.5M728.6 404.95h1.5M710.5 407.45h1.5M728.6 407.45h1.5M731.6 407.45h3.0M743.7 407.45h1.5M746.7 407.45h1.5M787.4 407.45h1.5M737.6 409.95h1.5M751.2 409.95h1.5M754.2 409.95h3.0M790.4 409.95h3.0M733.1 412.45h1.5M736.1 412.45h1.5M754.2 412.45h1.5M733.1 414.95h1.5M736.1 414.95h3.0M742.2 414.95h1.5M757.2 414.95h1.5M715.0 417.45h1.5M733.1 417.45h1.5M751.2 417.45h1.5M778.3 417.45h1.5M769.3 419.95h1.5M733.1 424.95h1.5M749.7 424.95h1.5M791.9 424.95h1.5M751.2 429.95h1.5M760.2 429.95h1.5M728.6 432.45h1.5M746.7 432.45h1.5M751.2 432.45h1.5M770.8 432.45h1.5M787.4 432.45h1.5M752.7 434.95h1.5M749.7 437.45h1.5M758.7 437.45h1.5M779.8 437.45h1.5M733.1 439.95h1.5M748.2 439.95h1.5M715.0 442.45h3.0M722.6 442.45h1.5M730.1 442.45h1.5M754.2 442.45h1.5M721.1 444.95h1.5M728.6 444.95h1.5M734.6 444.95h1.5M752.7 444.95h1.5M764.8 444.95h1.5M779.8 444.95h1.5M737.6 447.45h1.5M751.2 447.45h1.5M767.8 447.45h1.5M722.6 449.95h1.5M739.1 449.95h1.5M761.8 449.95h1.5M734.6 452.45h1.5M751.2 452.45h1.5M728.6 454.95h1.5M751.2 454.95h1.5M737.6 457.45h1.5M751.2 457.45h1.5M781.3 457.45h1.5M724.1 459.95h3.0" stroke="#d8d8e4" stroke-width="2.55"/>
<path d="M766.3 397.45h1.5M776.8 397.45h1.5M781.3 397.45h1.5M785.9 402.45h1.5M757.2 404.95h1.5M791.9 404.95h1.5M757.2 407.45h1.5M778.3 412.45h1.5M784.4 412.45h1.5M767.8 427.45h1.5M775.3 427.45h1.5M757.2 439.95h1.5M776.8 442.45h1.5M760.2 452.45h1.5M775.3 454.95h1.5M785.9 457.45h1.5" stroke="#9ca8d8" stroke-width="2.55"/>
<path d="M778.3 397.45h1.5M785.9 397.45h1.5M791.9 397.45h1.5M782.9 399.95h1.5M790.4 399.95h1.5M751.2 402.45h1.5M758.7 402.45h1.5M763.3 402.45h1.5M767.8 402.45h1.5M687.9 404.95h1.5M769.3 404.95h3.0M687.9 407.45h1.5M772.3 407.45h1.5M790.4 407.45h1.5M784.4 409.95h3.0M769.3 412.45h1.5M772.3 412.45h1.5M791.9 412.45h1.5M790.4 414.95h1.5M758.7 417.45h1.5M775.3 417.45h1.5M770.8 419.95h1.5M760.2 422.45h1.5M787.4 424.95h1.5M772.3 427.45h1.5M785.9 427.45h1.5M788.9 427.45h1.5M758.7 429.95h1.5M787.4 429.95h1.5M758.7 432.45h1.5M782.9 434.95h1.5M787.4 434.95h1.5M791.9 439.95h1.5M778.3 442.45h1.5M784.4 444.95h1.5M782.9 449.95h1.5M715.0 454.95h1.5M757.2 454.95h1.5M770.8 454.95h1.5M773.8 454.95h1.5M755.7 457.45h1.5M782.9 457.45h1.5M770.8 459.95h4.5" stroke="#b4c0d8" stroke-width="2.55"/>
<path d="M787.4 397.45h1.5M754.2 399.95h1.5M770.8 402.45h1.5M760.2 409.95h1.5M767.8 409.95h1.5M779.8 409.95h1.5M779.8 412.45h1.5M782.9 414.95h1.5M761.8 417.45h1.5M779.8 417.45h1.5M754.2 419.95h1.5M761.8 422.45h1.5M778.3 422.45h1.5M755.7 424.95h3.0M776.8 429.95h1.5M761.8 432.45h1.5M760.2 437.45h1.5M776.8 437.45h1.5M715.0 439.95h1.5M769.3 439.95h1.5M779.8 439.95h1.5M757.2 442.45h1.5M731.6 444.95h1.5M755.7 444.95h1.5M761.8 444.95h1.5M791.9 447.45h1.5M784.4 449.95h1.5M770.8 452.45h1.5M782.9 452.45h1.5M716.5 454.95h3.0M754.2 459.95h3.0M767.8 459.95h1.5M782.9 459.95h1.5" stroke="#c0c0e4" stroke-width="2.55"/>
<path d="M689.4 399.95h1.5M707.5 399.95h1.5M695.4 402.45h1.5M696.9 412.45h1.5M709.0 412.45h1.5M712.0 414.95h1.5M709.0 417.45h1.5M706.0 419.95h1.5M689.4 424.95h1.5M706.0 424.95h1.5M709.0 427.45h1.5M706.0 429.95h1.5M692.4 434.95h1.5M695.4 434.95h1.5M690.9 437.45h1.5M706.0 437.45h1.5M710.5 437.45h1.5M739.1 439.95h1.5M689.4 444.95h1.5M706.0 444.95h1.5M689.4 447.45h1.5M704.5 447.45h1.5M709.0 449.95h1.5M728.6 449.95h1.5M690.9 457.45h1.5M710.5 459.95h3.0" stroke="#b4486c" stroke-width="2.55"/>
<path d="M695.4 399.95h1.5M690.9 404.95h1.5M724.1 409.95h1.5M706.0 422.45h1.5M698.5 444.95h1.5M690.9 449.95h1.5M700.0 459.95h1.5" stroke="#cc84a8" stroke-width="2.55"/>
<path d="M701.5 399.95h1.5M775.3 399.95h4.5M791.9 402.45h1.5M758.7 404.95h1.5M764.8 404.95h1.5M776.8 404.95h1.5M784.4 404.95h1.5M778.3 407.45h1.5M791.9 407.45h1.5M751.2 419.95h1.5M781.3 419.95h1.5M763.3 424.95h1.5M778.3 434.95h1.5M785.9 437.45h1.5M775.3 439.95h1.5M770.8 442.45h1.5M775.3 442.45h1.5M776.8 444.95h1.5M775.3 447.45h1.5M755.7 452.45h1.5M766.3 454.95h1.5M782.9 454.95h1.5M757.2 459.95h1.5M760.2 459.95h1.5M766.3 459.95h1.5M784.4 459.95h1.5M790.4 459.95h1.5" stroke="#a8a8d8" stroke-width="2.55"/>
<path d="M710.5 399.95h1.5M690.9 402.45h3.0M706.0 404.95h1.5M742.2 404.95h1.5M692.4 414.95h1.5M695.4 417.45h1.5M689.4 419.95h1.5M712.0 422.45h1.5M698.5 424.95h3.0M689.4 427.45h1.5M707.5 429.95h1.5M700.0 447.45h1.5M695.4 449.95h1.5M689.4 454.95h1.5M701.5 459.95h3.0" stroke="#c06084" stroke-width="2.55"/>
<path d="M719.6 399.95h1.5M743.7 399.95h1.5M722.6 402.45h1.5M748.2 402.45h1.5M715.0 404.95h1.5M689.4 407.45h1.5M709.0 407.45h1.5M687.9 419.95h1.5M742.2 422.45h1.5M722.6 424.95h1.5M727.1 424.95h1.5M727.1 432.45h1.5M725.6 442.45h1.5M752.7 457.45h1.5M737.6 459.95h1.5" stroke="#d8c0d8" stroke-width="2.55"/>
<path d="M736.1 399.95h1.5M707.5 404.95h1.5M686.4 434.95h1.5M686.4 444.95h1.5M703.0 449.95h1.5" stroke="#d89ca8" stroke-width="2.55"/>
<path d="M763.3 399.95h1.5M778.3 419.95h1.5M784.4 439.95h1.5M766.3 442.45h1.5M757.2 444.95h1.5" stroke="#9c9ccc" stroke-width="2.55"/>
<path d="M779.8 399.95h1.5M755.7 407.45h1.5" stroke="#8490c0" stroke-width="2.55"/>
<path d="M781.3 399.95h1.5M785.9 422.45h1.5M791.9 422.45h1.5M779.8 447.45h3.0M769.3 454.95h1.5" stroke="#6078b4" stroke-width="2.55"/>
<path d="M712.0 402.45h1.5M698.5 404.95h1.5M707.5 409.95h1.5M712.0 427.45h1.5M700.0 432.45h1.5M692.4 437.45h1.5M693.9 439.95h1.5M706.0 439.95h1.5M709.0 439.95h1.5M693.9 449.95h1.5M707.5 449.95h1.5M712.0 454.95h1.5M700.0 457.45h1.5M721.1 459.95h1.5" stroke="#c06c90" stroke-width="2.55"/>
<path d="M713.5 402.45h1.5M700.0 412.45h1.5M716.5 412.45h1.5M693.9 419.95h1.5M698.5 422.45h1.5M707.5 444.95h1.5M713.5 447.45h1.5M700.0 449.95h1.5M693.9 452.45h1.5M710.5 452.45h1.5M718.0 459.95h1.5" stroke="#b44860" stroke-width="2.55"/>
<path d="M772.3 402.45h1.5M785.9 404.95h1.5M776.8 412.45h1.5M772.3 414.95h1.5M772.3 454.95h1.5" stroke="#8490cc" stroke-width="2.55"/>
<path d="M776.8 402.45h6.0M761.8 404.95h3.0M779.8 407.45h4.5M766.3 417.45h1.5M763.3 419.95h1.5M766.3 419.95h1.5M772.3 419.95h6.0M791.9 419.95h1.5M775.3 422.45h1.5M787.4 422.45h1.5M781.3 424.95h1.5M763.3 427.45h4.5M776.8 447.45h1.5M761.8 457.45h3.0" stroke="#3c549c" stroke-width="2.55"/>
<path d="M693.9 404.95h1.5M713.5 404.95h1.5M715.0 409.95h1.5M725.6 409.95h1.5M731.6 409.95h1.5M712.0 412.45h1.5M700.0 419.95h1.5M715.0 419.95h1.5M718.0 422.45h1.5M713.5 427.45h1.5M689.4 429.95h1.5M712.0 432.45h1.5M701.5 434.95h1.5M712.0 434.95h1.5M731.6 442.45h1.5M739.1 442.45h1.5M742.2 447.45h1.5M695.4 452.45h3.0M716.5 452.45h1.5M701.5 454.95h1.5M719.6 454.95h1.5M727.1 457.45h1.5" stroke="#d890a8" stroke-width="2.55"/>
<path d="M695.4 404.95h1.5M713.5 412.45h1.5M727.1 412.45h1.5M693.9 414.95h1.5M692.4 424.95h1.5M693.9 427.45h1.5M710.5 427.45h1.5M695.4 429.95h1.5M689.4 439.95h1.5M712.0 444.95h1.5M695.4 447.45h1.5M695.4 454.95h1.5M710.5 454.95h1.5M707.5 457.45h1.5M692.4 459.95h1.5" stroke="#c07890" stroke-width="2.55"/>
<path d="M760.2 404.95h1.5M764.8 417.45h1.5M776.8 422.45h1.5M788.9 422.45h1.5M761.8 427.45h1.5" stroke="#4860a8" stroke-width="2.55"/>
<path d="M767.8 404.95h1.5M787.4 404.95h1.5M778.3 409.95h1.5M772.3 417.45h1.5M790.4 419.95h1.5M790.4 422.45h1.5M761.8 424.95h1.5M775.3 424.95h1.5M785.9 424.95h1.5M776.8 427.45h1.5M781.3 427.45h1.5M782.9 429.95h1.5M776.8 432.45h3.0M784.4 437.45h1.5M791.9 437.45h1.5M772.3 439.95h1.5M772.3 442.45h1.5M772.3 452.45h1.5M767.8 454.95h1.5M764.8 457.45h1.5" stroke="#909ccc" stroke-width="2.55"/>
<path d="M739.1 407.45h1.5" stroke="#a84860" stroke-width="2.55"/>
<path d="M767.8 407.45h1.5M770.8 407.45h1.5M758.7 412.45h1.5M781.3 429.95h1.5M764.8 459.95h1.5" stroke="#7890c0" stroke-width="2.55"/>
<path d="M769.3 407.45h1.5M782.9 409.95h1.5" stroke="#9ca8cc" stroke-width="2.55"/>
<path d="M758.7 414.95h1.5M761.8 414.95h1.5M763.3 417.45h1.5M784.4 419.95h1.5" stroke="#606cb4" stroke-width="2.55"/>
<path d="M760.2 414.95h1.5M764.8 419.95h1.5M773.8 422.45h1.5M758.7 457.45h1.5M791.9 459.95h1.5" stroke="#546ca8" stroke-width="2.55"/>
<path d="M689.4 417.45h1.5M709.0 457.45h1.5" stroke="#a82448" stroke-width="2.55"/>
<path d="M692.4 417.45h1.5M690.9 419.95h1.5M695.4 422.45h1.5M700.0 434.95h1.5M701.5 437.45h1.5M709.0 444.95h3.0M706.0 452.45h1.5M713.5 452.45h1.5M695.4 457.45h1.5M733.1 457.45h1.5" stroke="#b4546c" stroke-width="2.55"/>
<path d="M737.6 417.45h1.5M769.3 417.45h1.5M745.2 419.95h1.5M696.9 444.95h1.5M746.7 444.95h1.5M746.7 449.95h1.5" stroke="#e4d8d8" stroke-width="2.55"/>
<path d="M767.8 417.45h1.5M766.3 424.95h1.5" stroke="#6c84c0" stroke-width="2.55"/>
<path d="M767.8 419.95h1.5" stroke="#546cb4" stroke-width="2.55"/>
<path d="M700.0 422.45h1.5M706.0 449.95h1.5M710.5 457.45h1.5" stroke="#a83c54" stroke-width="2.55"/>
<path d="M772.3 422.45h1.5M764.8 424.95h1.5M776.8 424.95h1.5M778.3 429.95h3.0M784.4 429.95h1.5M760.2 457.45h1.5M791.9 457.45h1.5" stroke="#7884c0" stroke-width="2.55"/>
<path d="M779.8 424.95h1.5M778.3 447.45h1.5" stroke="#6c78b4" stroke-width="2.55"/>
<path d="M760.2 444.95h1.5" stroke="#849ccc" stroke-width="2.55"/>
<rect x="715.2" y="396.2" width="3.3" height="65" fill="#f2e070" opacity="0.85"/>
<rect x="758.6" y="396.2" width="3.3" height="65" fill="#f2e070" opacity="0.85"/>
</g>
<path d="M686.4 467.48h3.0M698.5 467.48h1.5M704.5 467.48h1.5" stroke="#e484a8" stroke-width="8.81"/>
<path d="M689.4 467.48h1.5" stroke="#e490a8" stroke-width="8.81"/>
<path d="M690.9 467.48h1.5M693.9 467.48h1.5M701.5 467.48h1.5M707.5 467.48h1.5M710.5 467.48h7.5" stroke="#e49cb4" stroke-width="8.81"/>
<path d="M692.4 467.48h1.5M700.0 467.48h1.5" stroke="#e490b4" stroke-width="8.81"/>
<path d="M695.4 467.48h3.0M703.0 467.48h1.5M718.0 467.48h1.5" stroke="#e49cc0" stroke-width="8.81"/>
<path d="M706.0 467.48h1.5M719.6 467.48h1.5M722.6 467.48h3.0" stroke="#f0a8c0" stroke-width="8.81"/>
<path d="M709.0 467.48h1.5M730.1 467.48h4.5M742.2 467.48h1.5" stroke="#f0b4cc" stroke-width="8.81"/>
<path d="M721.1 467.48h1.5M728.6 467.48h1.5M734.6 467.48h3.0M739.1 467.48h3.0M743.7 467.48h7.5M752.7 467.48h6.0M761.8 467.48h1.5M778.3 467.48h1.5M784.4 467.48h1.5M787.4 467.48h1.5M790.4 467.48h1.5" stroke="#f0c0d8" stroke-width="8.81"/>
<path d="M725.6 467.48h3.0M737.6 467.48h1.5" stroke="#f0c0cc" stroke-width="8.81"/>
<path d="M751.2 467.48h1.5M758.7 467.48h1.5" stroke="#f0ccd8" stroke-width="8.81"/>
<path d="M760.2 467.48h1.5M767.8 467.48h7.5M785.9 467.48h1.5" stroke="#e4ccd8" stroke-width="8.81"/>
<path d="M763.3 467.48h4.5M776.8 467.48h1.5M781.3 467.48h1.5" stroke="#e4cce4" stroke-width="8.81"/>
<path d="M775.3 467.48h1.5" stroke="#d8d8f0" stroke-width="8.81"/>
<path d="M779.8 467.48h1.5M791.9 467.48h1.5" stroke="#d8e4f0" stroke-width="8.81"/>
<path d="M782.9 467.48h1.5" stroke="#e4d8e4" stroke-width="8.81"/>
<path d="M788.9 467.48h1.5" stroke="#cce4f0" stroke-width="8.81"/>
<path d="M686.4 476.24h1.5M689.4 476.24h1.5M692.4 476.24h6.0M700.0 476.24h4.5M707.5 476.24h4.5M715.0 476.24h1.5M722.6 476.24h1.5M731.6 476.24h3.0M736.1 476.24h7.5M745.2 476.24h1.5M748.2 476.24h9.0M758.7 476.24h9.0M770.8 476.24h1.5M773.8 476.24h1.5M779.8 476.24h1.5M785.9 476.24h1.5M788.9 476.24h1.5M791.9 476.24h1.5" stroke="#c0e4d8" stroke-width="8.81"/>
<path d="M687.9 476.24h1.5M719.6 476.24h1.5M724.1 476.24h4.5M730.1 476.24h1.5M757.2 476.24h1.5M772.3 476.24h1.5M781.3 476.24h3.0M790.4 476.24h1.5" stroke="#f0c0b4" stroke-width="8.81"/>
<path d="M690.9 476.24h1.5M698.5 476.24h1.5M704.5 476.24h3.0M712.0 476.24h3.0M716.5 476.24h3.0M721.1 476.24h1.5M728.6 476.24h1.5M734.6 476.24h1.5M743.7 476.24h1.5M746.7 476.24h1.5M767.8 476.24h3.0M775.3 476.24h4.5M784.4 476.24h1.5M787.4 476.24h1.5" stroke="#f0e4cc" stroke-width="8.81"/>
<path d="M686.4 485.00h1.5M689.4 485.00h1.5M692.4 485.00h1.5M696.9 485.00h1.5M703.0 485.00h1.5M706.0 485.00h4.5M712.0 485.00h1.5M715.0 485.00h1.5M718.0 485.00h3.0M728.6 485.00h4.5M736.1 485.00h1.5M749.7 485.00h3.0M761.8 485.00h1.5M764.8 485.00h1.5M769.3 485.00h1.5M784.4 485.00h4.5M790.4 485.00h1.5" stroke="#d8f0f0" stroke-width="8.81"/>
<path d="M687.9 485.00h1.5M693.9 485.00h3.0M698.5 485.00h1.5M704.5 485.00h1.5M710.5 485.00h1.5M713.5 485.00h1.5M716.5 485.00h1.5M724.1 485.00h1.5M727.1 485.00h1.5M733.1 485.00h1.5M737.6 485.00h6.0M745.2 485.00h1.5M748.2 485.00h1.5M755.7 485.00h1.5M758.7 485.00h3.0M766.3 485.00h3.0M770.8 485.00h4.5M778.3 485.00h6.0M791.9 485.00h1.5" stroke="#cce4f0" stroke-width="8.81"/>
<path d="M690.9 485.00h1.5M700.0 485.00h1.5" stroke="#f0f0fc" stroke-width="8.81"/>
<path d="M701.5 485.00h1.5M734.6 485.00h1.5M743.7 485.00h1.5M752.7 485.00h3.0M757.2 485.00h1.5M763.3 485.00h1.5M775.3 485.00h1.5M788.9 485.00h1.5" stroke="#c0e4f0" stroke-width="8.81"/>
<path d="M721.1 485.00h1.5" stroke="#d8e4f0" stroke-width="8.81"/>
<path d="M722.6 485.00h1.5M746.7 485.00h1.5M776.8 485.00h1.5" stroke="#e4f0fc" stroke-width="8.81"/>
<path d="M725.6 485.00h1.5" stroke="#e4f0f0" stroke-width="8.81"/>
<path d="M686.4 493.76h1.5M689.4 493.76h3.0M693.9 493.76h4.5M704.5 493.76h1.5M710.5 493.76h1.5M713.5 493.76h3.0M722.6 493.76h1.5M739.1 493.76h6.0M754.2 493.76h1.5M757.2 493.76h1.5M761.8 493.76h1.5M764.8 493.76h4.5M776.8 493.76h1.5M781.3 493.76h1.5M784.4 493.76h1.5M791.9 493.76h1.5" stroke="#f0f0c0" stroke-width="8.81"/>
<path d="M687.9 493.76h1.5M709.0 493.76h1.5M749.7 493.76h1.5M760.2 493.76h1.5M785.9 493.76h1.5" stroke="#fcf0cc" stroke-width="8.81"/>
<path d="M692.4 493.76h1.5M706.0 493.76h1.5M712.0 493.76h1.5M728.6 493.76h1.5M733.1 493.76h4.5M745.2 493.76h1.5M763.3 493.76h1.5M770.8 493.76h1.5M773.8 493.76h1.5M778.3 493.76h3.0M788.9 493.76h1.5" stroke="#f0e4a8" stroke-width="8.81"/>
<path d="M698.5 493.76h6.0M707.5 493.76h1.5M716.5 493.76h6.0M725.6 493.76h1.5M731.6 493.76h1.5M737.6 493.76h1.5M746.7 493.76h3.0M751.2 493.76h3.0M755.7 493.76h1.5M758.7 493.76h1.5M769.3 493.76h1.5M775.3 493.76h1.5" stroke="#f0e4b4" stroke-width="8.81"/>
<path d="M724.1 493.76h1.5" stroke="#f0f0cc" stroke-width="8.81"/>
<path d="M727.1 493.76h1.5M772.3 493.76h1.5M782.9 493.76h1.5M787.4 493.76h1.5" stroke="#f0f0b4" stroke-width="8.81"/>
<path d="M730.1 493.76h1.5" stroke="#e4e49c" stroke-width="8.81"/>
<path d="M790.4 493.76h1.5" stroke="#fcf0d8" stroke-width="8.81"/>
<path d="M686.4 502.52h1.5M701.5 502.52h1.5M710.5 502.52h1.5M742.2 502.52h1.5M745.2 502.52h1.5M752.7 502.52h1.5M790.4 502.52h1.5" stroke="#842454" stroke-width="8.81"/>
<path d="M687.9 502.52h1.5" stroke="#843060" stroke-width="8.81"/>
<path d="M689.4 502.52h3.0M696.9 502.52h1.5M739.1 502.52h1.5M746.7 502.52h1.5M775.3 502.52h1.5M779.8 502.52h1.5" stroke="#9c486c" stroke-width="8.81"/>
<path d="M692.4 502.52h1.5M715.0 502.52h1.5M719.6 502.52h1.5M725.6 502.52h3.0M730.1 502.52h1.5M740.7 502.52h1.5M743.7 502.52h1.5M751.2 502.52h1.5M754.2 502.52h3.0M760.2 502.52h3.0M770.8 502.52h1.5M773.8 502.52h1.5" stroke="#903060" stroke-width="8.81"/>
<path d="M693.9 502.52h1.5M703.0 502.52h1.5M721.1 502.52h3.0M736.1 502.52h1.5M784.4 502.52h1.5" stroke="#9c4878" stroke-width="8.81"/>
<path d="M695.4 502.52h1.5M706.0 502.52h1.5M709.0 502.52h1.5M712.0 502.52h3.0M733.1 502.52h3.0M737.6 502.52h1.5M748.2 502.52h3.0M758.7 502.52h1.5M764.8 502.52h1.5M769.3 502.52h1.5M776.8 502.52h3.0M782.9 502.52h1.5M785.9 502.52h1.5" stroke="#9c3c6c" stroke-width="8.81"/>
<path d="M698.5 502.52h1.5M728.6 502.52h1.5M757.2 502.52h1.5" stroke="#903c60" stroke-width="8.81"/>
<path d="M700.0 502.52h1.5M707.5 502.52h1.5M718.0 502.52h1.5M724.1 502.52h1.5M731.6 502.52h1.5M763.3 502.52h1.5M766.3 502.52h3.0M772.3 502.52h1.5M781.3 502.52h1.5M787.4 502.52h3.0" stroke="#903c6c" stroke-width="8.81"/>
<path d="M704.5 502.52h1.5" stroke="#a84878" stroke-width="8.81"/>
<path d="M716.5 502.52h1.5" stroke="#843054" stroke-width="8.81"/>
<path d="M791.9 502.52h1.5" stroke="#a85478" stroke-width="8.81"/>
<rect x="686.4" y="463.1" width="107" height="43.8" fill="none" stroke="#111" stroke-width="1.2"/>
<path d="M686.4 471.9h107M686.4 480.6h107M686.4 489.4h107M686.4 498.1h107" stroke="#111" stroke-width="1"/>
<text x="683.3" y="467.5" font-size="8" text-anchor="end" fill="#222" stroke="#222" stroke-width="0.32" dominant-baseline="central">disease</text>
<text x="683.3" y="476.3" font-size="8" text-anchor="end" fill="#222" stroke="#222" stroke-width="0.32" dominant-baseline="central">study</text>
<text x="683.3" y="485.0" font-size="8" text-anchor="end" fill="#222" stroke="#222" stroke-width="0.32" dominant-baseline="central">type1</text>
<text x="683.3" y="493.8" font-size="8" text-anchor="end" fill="#222" stroke="#222" stroke-width="0.32" dominant-baseline="central">type2</text>
<text x="683.3" y="502.5" font-size="8" text-anchor="end" fill="#222" stroke="#222" stroke-width="0.32" dominant-baseline="central">type3</text>
<text x="778.8" y="514.8" font-size="7" text-anchor="middle" fill="#222" stroke="#222" stroke-width="0.32" dominant-baseline="central">z-score</text>
<defs><linearGradient id="gz763" x1="0" x2="1"><stop offset="0" stop-color="#2a4aa0"/><stop offset="0.2" stop-color="#3a5aa8"/><stop offset="0.4" stop-color="#b8d4ea"/><stop offset="0.5" stop-color="#f4f4f4"/><stop offset="0.62" stop-color="#e8b8c4"/><stop offset="0.8" stop-color="#b02850"/><stop offset="1" stop-color="#901838"/></linearGradient></defs>
<rect x="763.4" y="519.6" width="27.300000000000068" height="9.299999999999955" fill="url(#gz763)"/>
<path d="M763.4 528.9h27.300000000000068" stroke="#222" stroke-width="0.6"/>
<text x="765.6" y="535.5" font-size="8" text-anchor="middle" fill="#222" stroke="#222" stroke-width="0.32" dominant-baseline="central">-2</text>
<text x="777.6" y="535.5" font-size="8" text-anchor="middle" fill="#222" stroke="#222" stroke-width="0.32" dominant-baseline="central">0</text>
<text x="788.5" y="535.5" font-size="8" text-anchor="middle" fill="#222" stroke="#222" stroke-width="0.32" dominant-baseline="central">2</text>
<text x="38.7" y="538.0" font-size="7" text-anchor="start" font-weight="bold" fill="#111" stroke="#111" stroke-width="0.32" dominant-baseline="central">disease</text>
<rect x="38.7" y="546" width="6.5" height="7" fill="#bfe3dc"/>
<text x="47.2" y="549.5" font-size="8" text-anchor="start" fill="#333" stroke="#333" stroke-width="0.32" dominant-baseline="central">healthy</text>
<rect x="38.7" y="556.5" width="6.5" height="7.5" fill="#dc5a86"/>
<text x="47.2" y="560.5" font-size="8" text-anchor="start" fill="#333" stroke="#333" stroke-width="0.32" dominant-baseline="central">IBD</text>
<text x="89.0" y="536.3" font-size="7" text-anchor="start" font-weight="bold" fill="#111" stroke="#111" stroke-width="0.32" dominant-baseline="central">study</text>
<rect x="89" y="541.8" width="6.5" height="7.5" fill="#b8e2d8"/>
<text x="98.0" y="545.6" font-size="8" text-anchor="start" fill="#333" stroke="#333" stroke-width="0.32" dominant-baseline="central">PRJEB1220</text>
<rect x="89" y="552.1" width="6.5" height="7.5" fill="#e89a86"/>
<text x="98.0" y="555.9" font-size="8" text-anchor="start" fill="#333" stroke="#333" stroke-width="0.32" dominant-baseline="central">PRJNA385949</text>
<rect x="89" y="562.4" width="6.5" height="7.5" fill="#f2ecc4"/>
<text x="98.0" y="566.2" font-size="8" text-anchor="start" fill="#333" stroke="#333" stroke-width="0.32" dominant-baseline="central">PRJEB5224</text>
<defs><linearGradient id="gs1560" x1="0" x2="1"><stop offset="0" stop-color="#eef6fa"/><stop offset="0.5" stop-color="#8ccbe0"/><stop offset="1" stop-color="#286a8a"/></linearGradient></defs>
<text x="177.4" y="534.9" font-size="7.5" text-anchor="middle" font-weight="bold" fill="#111" stroke="#111" stroke-width="0.32" dominant-baseline="central">type 1 score</text>
<rect x="156.2" y="538.7" width="42.5" height="8.899999999999977" rx="3" fill="url(#gs1560)"/>
<text x="158.6" y="554.0" font-size="5.5" text-anchor="middle" fill="#333" stroke="#333" stroke-width="0.32" dominant-baseline="central">0.0</text>
<text x="178.3" y="554.0" font-size="5.5" text-anchor="middle" fill="#333" stroke="#333" stroke-width="0.32" dominant-baseline="central">0.5</text>
<text x="198.7" y="554.0" font-size="5.5" text-anchor="middle" fill="#333" stroke="#333" stroke-width="0.32" dominant-baseline="central">1.0</text>
<defs><linearGradient id="gs1561" x1="0" x2="1"><stop offset="0" stop-color="#f8f4d2"/><stop offset="0.5" stop-color="#d8c860"/><stop offset="1" stop-color="#6e6016"/></linearGradient></defs>
<text x="177.4" y="565.0" font-size="7.5" text-anchor="middle" font-weight="bold" fill="#111" stroke="#111" stroke-width="0.32" dominant-baseline="central">type 2 score</text>
<rect x="156.2" y="569.2" width="42.5" height="9.099999999999909" rx="3" fill="url(#gs1561)"/>
<text x="158.6" y="581.9" font-size="5.5" text-anchor="middle" fill="#333" stroke="#333" stroke-width="0.32" dominant-baseline="central">0.0</text>
<text x="178.3" y="581.9" font-size="5.5" text-anchor="middle" fill="#333" stroke="#333" stroke-width="0.32" dominant-baseline="central">0.5</text>
<text x="198.7" y="581.9" font-size="5.5" text-anchor="middle" fill="#333" stroke="#333" stroke-width="0.32" dominant-baseline="central">1.0</text>
<defs><linearGradient id="gs1562" x1="0" x2="1"><stop offset="0" stop-color="#f8e4ee"/><stop offset="0.5" stop-color="#d890b8"/><stop offset="1" stop-color="#7a1848"/></linearGradient></defs>
<text x="177.4" y="591.5" font-size="7.5" text-anchor="middle" font-weight="bold" fill="#111" stroke="#111" stroke-width="0.32" dominant-baseline="central">type 3 score</text>
<rect x="156.2" y="596.3" width="42.5" height="9.300000000000068" rx="3" fill="url(#gs1562)"/>
<text x="158.6" y="610.0" font-size="5.5" text-anchor="middle" fill="#333" stroke="#333" stroke-width="0.32" dominant-baseline="central">0.0</text>
<text x="178.3" y="610.0" font-size="5.5" text-anchor="middle" fill="#333" stroke="#333" stroke-width="0.32" dominant-baseline="central">0.5</text>
<text x="198.7" y="610.0" font-size="5.5" text-anchor="middle" fill="#333" stroke="#333" stroke-width="0.32" dominant-baseline="central">1.0</text>
<text x="509.1" y="539.7" font-size="7" text-anchor="start" font-weight="bold" fill="#111" stroke="#111" stroke-width="0.32" dominant-baseline="central">disease</text>
<rect x="509.1" y="547.7" width="6.5" height="7" fill="#bfe3dc"/>
<text x="517.6" y="551.2" font-size="8" text-anchor="start" fill="#333" stroke="#333" stroke-width="0.32" dominant-baseline="central">healthy</text>
<rect x="509.1" y="558.2" width="6.5" height="7.5" fill="#dc5a86"/>
<text x="517.6" y="562.2" font-size="8" text-anchor="start" fill="#333" stroke="#333" stroke-width="0.32" dominant-baseline="central">IBD</text>
<text x="559.5" y="538.0" font-size="7" text-anchor="start" font-weight="bold" fill="#111" stroke="#111" stroke-width="0.32" dominant-baseline="central">study</text>
<rect x="559.5" y="543.5" width="6.5" height="7.5" fill="#b8e2d8"/>
<text x="568.5" y="547.3" font-size="8" text-anchor="start" fill="#333" stroke="#333" stroke-width="0.32" dominant-baseline="central">PRJEB1220</text>
<rect x="559.5" y="553.8" width="6.5" height="7.5" fill="#e89a86"/>
<text x="568.5" y="557.6" font-size="8" text-anchor="start" fill="#333" stroke="#333" stroke-width="0.32" dominant-baseline="central">PRJNA385949</text>
<rect x="559.5" y="564.1" width="6.5" height="7.5" fill="#f2ecc4"/>
<text x="568.5" y="567.9" font-size="8" text-anchor="start" fill="#333" stroke="#333" stroke-width="0.32" dominant-baseline="central">PRJEB5224</text>
<defs><linearGradient id="gs6260" x1="0" x2="1"><stop offset="0" stop-color="#eef6fa"/><stop offset="0.5" stop-color="#8ccbe0"/><stop offset="1" stop-color="#286a8a"/></linearGradient></defs>
<text x="647.8" y="537.3" font-size="7.5" text-anchor="middle" font-weight="bold" fill="#111" stroke="#111" stroke-width="0.32" dominant-baseline="central">type 1 score</text>
<rect x="626.6" y="541.1" width="42.39999999999998" height="9.600000000000023" rx="3" fill="url(#gs6260)"/>
<text x="629.5" y="556.5" font-size="5.5" text-anchor="middle" fill="#333" stroke="#333" stroke-width="0.32" dominant-baseline="central">0.0</text>
<text x="648.7" y="556.5" font-size="5.5" text-anchor="middle" fill="#333" stroke="#333" stroke-width="0.32" dominant-baseline="central">0.5</text>
<text x="669.0" y="556.5" font-size="5.5" text-anchor="middle" fill="#333" stroke="#333" stroke-width="0.32" dominant-baseline="central">1.0</text>
<defs><linearGradient id="gs6261" x1="0" x2="1"><stop offset="0" stop-color="#f8f4d2"/><stop offset="0.5" stop-color="#d8c860"/><stop offset="1" stop-color="#6e6016"/></linearGradient></defs>
<text x="647.8" y="568.0" font-size="7.5" text-anchor="middle" font-weight="bold" fill="#111" stroke="#111" stroke-width="0.32" dominant-baseline="central">type 2 score</text>
<rect x="626.6" y="571.6" width="42.39999999999998" height="9.100000000000023" rx="3" fill="url(#gs6261)"/>
<text x="629.5" y="584.3" font-size="5.5" text-anchor="middle" fill="#333" stroke="#333" stroke-width="0.32" dominant-baseline="central">0.0</text>
<text x="648.7" y="584.3" font-size="5.5" text-anchor="middle" fill="#333" stroke="#333" stroke-width="0.32" dominant-baseline="central">0.5</text>
<text x="669.0" y="584.3" font-size="5.5" text-anchor="middle" fill="#333" stroke="#333" stroke-width="0.32" dominant-baseline="central">1.0</text>
<defs><linearGradient id="gs6262" x1="0" x2="1"><stop offset="0" stop-color="#f8e4ee"/><stop offset="0.5" stop-color="#d890b8"/><stop offset="1" stop-color="#7a1848"/></linearGradient></defs>
<text x="647.8" y="593.9" font-size="7.5" text-anchor="middle" font-weight="bold" fill="#111" stroke="#111" stroke-width="0.32" dominant-baseline="central">type 3 score</text>
<rect x="626.6" y="598" width="42.39999999999998" height="9.5" rx="3" fill="url(#gs6262)"/>
<text x="629.5" y="611.1" font-size="5.5" text-anchor="middle" fill="#333" stroke="#333" stroke-width="0.32" dominant-baseline="central">0.0</text>
<text x="648.7" y="611.1" font-size="5.5" text-anchor="middle" fill="#333" stroke="#333" stroke-width="0.32" dominant-baseline="central">0.5</text>
<text x="669.0" y="611.1" font-size="5.5" text-anchor="middle" fill="#333" stroke="#333" stroke-width="0.32" dominant-baseline="central">1.0</text></svg></body></html>
